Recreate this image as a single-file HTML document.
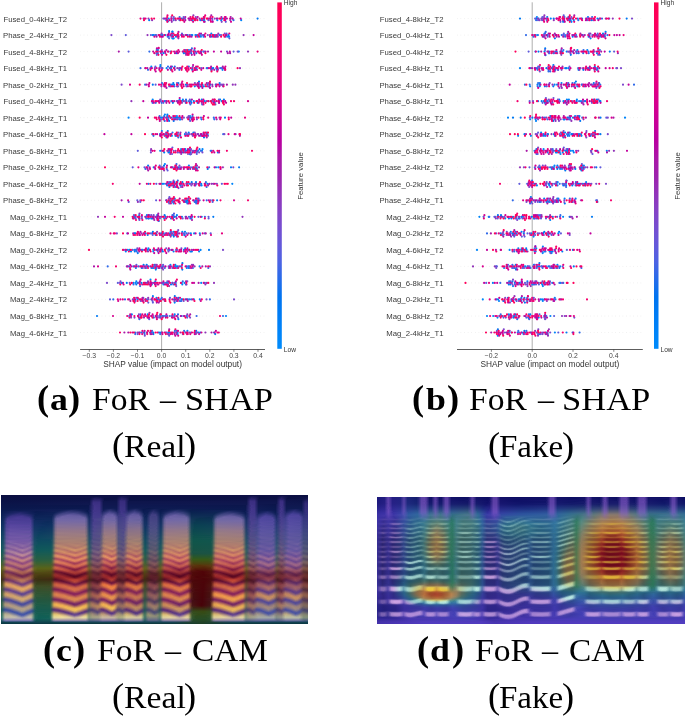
<!DOCTYPE html>
<html><head><meta charset="utf-8"><style>
html,body{margin:0;padding:0;background:#fff;}
body{width:685px;height:717px;overflow:hidden;position:relative;}
.cap{position:absolute;white-space:nowrap;font-family:"Liberation Serif",serif;line-height:1;color:#000;transform-origin:0 0;}
.cap.b{font-weight:bold;}
.cam{position:absolute;overflow:hidden}
.cam i{position:absolute;left:0;width:100%;height:1px;display:block}
</style></head><body>
<svg width="685" height="380" style="position:absolute;left:0;top:0;filter:blur(0.3px)">
<defs><linearGradient id="cb" x1="0" y1="0" x2="0" y2="1"><stop offset="0.00" stop-color="#ff0051"/><stop offset="0.05" stop-color="#fe005c"/><stop offset="0.10" stop-color="#f80067"/><stop offset="0.15" stop-color="#f10072"/><stop offset="0.20" stop-color="#e9007c"/><stop offset="0.25" stop-color="#df0086"/><stop offset="0.30" stop-color="#d40090"/><stop offset="0.35" stop-color="#c70098"/><stop offset="0.40" stop-color="#b900a0"/><stop offset="0.45" stop-color="#aa17a7"/><stop offset="0.50" stop-color="#9d22ac"/><stop offset="0.55" stop-color="#9233b9"/><stop offset="0.60" stop-color="#8542c5"/><stop offset="0.65" stop-color="#764ed0"/><stop offset="0.70" stop-color="#6459da"/><stop offset="0.75" stop-color="#4c63e3"/><stop offset="0.80" stop-color="#266cea"/><stop offset="0.85" stop-color="#0074f0"/><stop offset="0.90" stop-color="#007cf5"/><stop offset="0.95" stop-color="#0084f9"/><stop offset="1.00" stop-color="#008bfb"/></linearGradient></defs>
<line x1="80.1" y1="18.6" x2="265.0" y2="18.6" stroke="#d4d4d4" stroke-width="0.5" stroke-dasharray="0.6 3"/>
<line x1="80.1" y1="35.1" x2="265.0" y2="35.1" stroke="#d4d4d4" stroke-width="0.5" stroke-dasharray="0.6 3"/>
<line x1="80.1" y1="51.6" x2="265.0" y2="51.6" stroke="#d4d4d4" stroke-width="0.5" stroke-dasharray="0.6 3"/>
<line x1="80.1" y1="68.2" x2="265.0" y2="68.2" stroke="#d4d4d4" stroke-width="0.5" stroke-dasharray="0.6 3"/>
<line x1="80.1" y1="84.7" x2="265.0" y2="84.7" stroke="#d4d4d4" stroke-width="0.5" stroke-dasharray="0.6 3"/>
<line x1="80.1" y1="101.2" x2="265.0" y2="101.2" stroke="#d4d4d4" stroke-width="0.5" stroke-dasharray="0.6 3"/>
<line x1="80.1" y1="117.7" x2="265.0" y2="117.7" stroke="#d4d4d4" stroke-width="0.5" stroke-dasharray="0.6 3"/>
<line x1="80.1" y1="134.2" x2="265.0" y2="134.2" stroke="#d4d4d4" stroke-width="0.5" stroke-dasharray="0.6 3"/>
<line x1="80.1" y1="150.8" x2="265.0" y2="150.8" stroke="#d4d4d4" stroke-width="0.5" stroke-dasharray="0.6 3"/>
<line x1="80.1" y1="167.3" x2="265.0" y2="167.3" stroke="#d4d4d4" stroke-width="0.5" stroke-dasharray="0.6 3"/>
<line x1="80.1" y1="183.8" x2="265.0" y2="183.8" stroke="#d4d4d4" stroke-width="0.5" stroke-dasharray="0.6 3"/>
<line x1="80.1" y1="200.3" x2="265.0" y2="200.3" stroke="#d4d4d4" stroke-width="0.5" stroke-dasharray="0.6 3"/>
<line x1="80.1" y1="216.8" x2="265.0" y2="216.8" stroke="#d4d4d4" stroke-width="0.5" stroke-dasharray="0.6 3"/>
<line x1="80.1" y1="233.4" x2="265.0" y2="233.4" stroke="#d4d4d4" stroke-width="0.5" stroke-dasharray="0.6 3"/>
<line x1="80.1" y1="249.9" x2="265.0" y2="249.9" stroke="#d4d4d4" stroke-width="0.5" stroke-dasharray="0.6 3"/>
<line x1="80.1" y1="266.4" x2="265.0" y2="266.4" stroke="#d4d4d4" stroke-width="0.5" stroke-dasharray="0.6 3"/>
<line x1="80.1" y1="282.9" x2="265.0" y2="282.9" stroke="#d4d4d4" stroke-width="0.5" stroke-dasharray="0.6 3"/>
<line x1="80.1" y1="299.4" x2="265.0" y2="299.4" stroke="#d4d4d4" stroke-width="0.5" stroke-dasharray="0.6 3"/>
<line x1="80.1" y1="316.0" x2="265.0" y2="316.0" stroke="#d4d4d4" stroke-width="0.5" stroke-dasharray="0.6 3"/>
<line x1="80.1" y1="332.5" x2="265.0" y2="332.5" stroke="#d4d4d4" stroke-width="0.5" stroke-dasharray="0.6 3"/>
<line x1="161.6" y1="2.3" x2="161.6" y2="349.5" stroke="#999" stroke-width="0.8"/>
<path d="M168.7 18.6h0M190.8 233.4h0M146.9 215.2h0M136.3 281.3h0M153.3 249.9h0M166.6 68.2h0M177.6 334.1h0M161.1 233.4h0M151.3 66.6h0M185.0 231.8h0M173.8 38.3h0M164.9 114.5h0M187.3 203.5h0M147.7 314.4h0M125.8 251.5h0M189.8 183.8h0M199.1 251.5h0M200.9 36.7h0M204.3 20.2h0M166.6 282.9h0M195.4 35.1h0M190.9 101.2h0M151.3 284.4h0M133.3 266.4h0M199.8 233.4h0M214.3 36.7h0M151.4 268.0h0M155.3 281.3h0M174.7 314.4h0M163.4 84.7h0M178.3 83.1h0M176.9 215.2h0M194.4 50.0h0M238.8 51.6h0M178.6 167.3h0M185.4 149.2h0M208.5 101.2h0M192.5 116.1h0M174.8 117.7h0M156.2 316.0h0M215.7 84.7h0M148.6 266.4h0M148.4 248.3h0M182.9 99.6h0M202.5 149.2h0M172.3 38.3h0M205.5 183.8h0M198.5 332.5h0M201.6 185.4h0M162.6 117.7h0M214.8 102.8h0M173.6 203.5h0M177.5 231.8h0M174.7 302.6h0M134.4 249.9h0M171.0 84.7h0M162.5 266.4h0M219.8 35.1h0M203.5 36.7h0M163.9 183.8h0M172.3 282.9h0M164.2 299.4h0M164.2 218.4h0M162.6 35.1h0M128.6 117.7h0M195.4 185.4h0M149.3 249.9h0M184.5 282.9h0M204.8 101.2h0M142.7 249.9h0M155.7 235.0h0M164.8 101.2h0M183.8 249.9h0M152.5 35.1h0M145.6 233.4h0M194.8 168.9h0M188.3 201.9h0M134.6 233.4h0M166.3 20.2h0M150.5 279.7h0M184.7 235.0h0M168.6 36.7h0M171.9 135.8h0M180.7 119.3h0M156.7 50.0h0M227.9 36.7h0M160.4 65.0h0M200.6 249.9h0M135.5 282.9h0M190.7 152.4h0M150.4 284.5h0M172.6 200.3h0M190.1 50.0h0M198.0 150.8h0M174.6 266.4h0M188.4 266.4h0M176.9 116.1h0M203.7 20.2h0M164.9 164.1h0M162.2 183.8h0M186.2 200.3h0M188.9 165.7h0M182.3 231.8h0M178.3 297.8h0M232.3 183.8h0M226.0 316.0h0M202.0 150.8h0M222.4 68.2h0M160.6 316.0h0M160.2 150.8h0M200.8 53.2h0M146.9 332.5h0M152.9 296.2h0M173.7 231.8h0M211.1 69.8h0M171.0 218.4h0M156.4 249.9h0M155.8 269.6h0M203.9 86.3h0M241.2 20.2h0M163.4 53.2h0M195.2 167.3h0M185.6 216.8h0M201.2 282.9h0M160.9 35.1h0M170.0 233.4h0M201.7 216.8h0M195.7 332.5h0M175.4 135.8h0M217.9 152.4h0M190.0 116.1h0M181.1 149.2h0M220.2 68.2h0M167.1 185.4h0M144.2 233.4h0M193.4 132.6h0M181.3 299.4h0M185.4 332.5h0M127.8 249.9h0M158.0 50.0h0M168.0 21.3h0M182.3 284.5h0M196.2 330.9h0M160.8 117.7h0M169.9 332.5h0M221.2 20.2h0M179.6 99.6h0M222.5 69.8h0M221.7 101.2h0M121.8 282.9h0M188.9 249.9h0M180.3 185.4h0M168.7 201.9h0M170.0 152.4h0M192.2 134.2h0M181.8 282.9h0M172.5 84.7h0M155.4 35.1h0M170.4 264.8h0M211.6 101.2h0M175.3 264.8h0M199.0 81.5h0M218.3 167.3h0M229.1 36.7h0M217.3 20.2h0M161.9 131.0h0M192.3 35.1h0M181.8 101.2h0M153.7 268.0h0M163.8 233.4h0M194.1 233.4h0M199.6 266.4h0M172.4 31.5h0M156.5 297.8h0M137.4 299.4h0M174.5 167.3h0M207.4 84.7h0M148.5 183.8h0M176.2 266.4h0M156.4 268.0h0M178.4 319.2h0M184.9 134.2h0M158.7 221.0h0M219.6 83.1h0M153.3 251.5h0M196.9 35.1h0M187.4 330.9h0M191.3 35.1h0M179.3 119.3h0M192.7 20.2h0M141.3 332.5h0M162.9 251.5h0M176.0 36.7h0M196.7 152.4h0M131.0 251.5h0M139.2 215.2h0M152.7 99.6h0M181.6 316.0h0M163.4 284.5h0M177.5 332.5h0" stroke="#0085f9" stroke-width="2.16" stroke-linecap="round" fill="none"/>
<path d="M197.6 102.8h0M215.2 334.1h0M187.8 299.4h0M187.6 200.3h0M152.8 218.4h0M186.4 201.9h0M195.2 68.2h0M200.0 35.1h0M174.3 216.8h0M187.7 183.8h0M168.3 183.8h0M199.8 299.4h0M188.3 168.9h0M186.8 268.0h0M169.1 120.9h0M152.8 84.7h0M164.2 152.4h0M151.2 218.4h0M171.0 117.7h0M195.5 200.3h0M131.8 314.4h0M217.1 200.3h0M177.3 117.7h0M174.5 182.2h0M161.7 332.5h0M153.4 334.1h0M222.6 18.6h0M182.2 152.4h0M174.8 296.2h0M136.3 284.5h0M143.6 264.8h0M169.4 187.0h0M151.4 299.4h0M201.8 99.6h0M187.7 35.1h0M151.7 284.5h0M196.5 84.7h0M135.2 233.4h0M184.3 235.0h0M164.2 116.1h0M196.0 182.2h0M207.7 183.8h0M239.1 167.3h0M141.5 282.9h0M147.7 235.0h0M153.2 332.5h0M167.4 114.5h0M152.2 233.4h0M188.8 268.0h0M171.0 284.5h0M153.7 167.3h0M149.2 20.2h0M171.1 68.2h0M175.7 117.7h0M214.9 35.1h0M148.1 165.7h0M168.5 152.4h0M213.2 68.2h0M201.5 119.3h0M185.2 248.3h0M207.7 168.9h0M231.0 167.3h0M165.2 35.1h0M174.7 198.7h0M165.7 216.8h0M182.2 299.4h0M192.2 119.3h0M232.3 18.6h0M188.7 132.6h0M164.6 215.2h0M182.3 269.6h0M137.6 282.9h0M192.2 69.8h0M186.0 84.7h0M169.1 31.2h0M144.3 332.5h0M151.1 282.9h0M158.7 332.5h0M185.2 152.4h0M200.5 86.3h0M176.7 53.2h0M225.0 117.7h0M202.5 84.7h0M194.8 86.3h0M160.1 134.2h0M183.8 53.2h0M174.1 299.4h0M211.7 68.2h0M196.7 200.3h0M211.3 33.5h0M183.5 51.6h0M160.0 332.5h0M228.5 35.1h0M181.9 216.8h0M160.3 66.6h0M146.0 268.0h0M177.7 266.4h0M200.3 332.5h0M211.1 36.7h0M257.6 18.6h0M209.0 249.9h0M203.4 35.1h0M135.9 268.0h0M173.3 83.1h0M199.5 149.2h0M223.9 99.6h0M172.9 102.8h0M201.2 183.8h0M167.8 131.0h0M173.6 251.5h0M180.2 135.8h0M175.1 187.0h0M97.0 316.0h0M191.9 251.5h0M163.5 134.2h0M157.2 215.2h0M191.2 53.2h0M145.7 299.4h0M168.4 119.3h0M210.1 84.7h0M216.0 167.3h0M193.9 299.4h0M147.4 249.9h0M183.4 20.2h0M182.4 182.2h0M185.6 299.4h0M182.4 263.2h0M220.1 99.6h0M173.2 235.0h0M177.4 35.1h0M173.0 218.4h0M173.7 120.9h0M167.2 116.1h0M169.1 31.9h0M148.9 218.4h0M213.3 216.8h0M141.7 268.0h0M125.6 249.9h0M204.0 137.4h0M153.8 35.1h0M133.4 282.9h0M172.1 201.9h0M137.8 253.1h0M157.6 299.4h0M168.6 332.5h0M191.7 182.2h0M196.9 168.9h0M181.1 266.4h0M193.8 101.2h0M191.0 117.7h0M154.3 264.8h0M164.0 165.7h0M172.4 31.9h0M174.1 84.7h0M186.0 150.8h0M152.9 231.8h0M186.9 316.0h0M181.7 18.6h0M173.8 236.6h0M174.4 68.2h0M189.9 154.0h0M134.8 251.5h0M146.7 264.8h0M191.5 102.8h0M126.8 282.9h0M219.1 101.2h0M200.3 20.2h0M190.3 218.4h0M190.3 251.5h0M156.3 233.4h0M203.4 51.6h0M129.6 249.9h0M153.8 317.6h0M214.1 332.5h0M177.3 182.2h0" stroke="#0079f3" stroke-width="2.16" stroke-linecap="round" fill="none"/>
<path d="M176.4 301.0h0M191.9 48.4h0M216.8 69.8h0M136.7 249.9h0M151.5 332.5h0M171.9 316.0h0M133.8 216.8h0M199.6 183.8h0M138.4 266.4h0M173.0 185.4h0M188.2 50.0h0M177.0 268.0h0M125.0 299.4h0M196.6 167.3h0M188.8 66.6h0M190.4 104.4h0M186.8 266.4h0M197.0 201.9h0M168.0 117.7h0M189.5 149.2h0M140.6 314.4h0M172.5 132.6h0M169.7 249.9h0M178.3 137.4h0M146.3 218.4h0M160.2 334.1h0M171.2 35.1h0M169.6 200.3h0M177.8 180.6h0M174.9 18.6h0M168.0 66.6h0M168.0 282.9h0M173.5 215.2h0M211.8 150.8h0M225.8 36.7h0M189.0 101.2h0M223.0 316.0h0M184.1 330.9h0M169.6 150.8h0M162.6 316.0h0M185.1 201.9h0M214.3 119.3h0M167.7 36.7h0M196.5 68.2h0M161.7 102.8h0M196.2 203.5h0M174.8 66.6h0M216.4 36.7h0M185.2 53.2h0M180.3 117.7h0M135.6 218.4h0M176.5 164.1h0M171.3 101.2h0M176.0 216.8h0M153.5 135.8h0M144.6 334.1h0M212.4 200.3h0M186.0 99.6h0M152.5 102.8h0M219.4 84.7h0M161.5 268.0h0M170.1 134.2h0M169.8 68.2h0M195.5 201.9h0M167.3 316.0h0M189.3 266.4h0M139.4 319.2h0M174.5 86.3h0M180.1 68.2h0M140.5 68.2h0M160.6 299.4h0M175.7 282.9h0M179.6 17.0h0M196.6 316.0h0M164.8 268.0h0M233.5 20.2h0M159.6 116.1h0M145.5 168.9h0M191.3 299.4h0M189.0 216.8h0M152.4 268.0h0M189.5 119.3h0M176.9 330.9h0M129.2 316.0h0M192.2 216.8h0M157.9 53.2h0M172.4 215.2h0M203.2 18.6h0M190.4 154.5h0M185.9 284.5h0M174.1 316.0h0M183.7 200.3h0M209.9 299.4h0M163.9 316.0h0M173.3 284.5h0M143.6 18.6h0M164.7 120.9h0M145.1 84.7h0M171.6 235.0h0M176.1 249.9h0M152.3 134.2h0M169.1 235.0h0M207.6 68.2h0M140.1 286.1h0M204.9 216.8h0M186.7 233.4h0M198.6 198.7h0M166.8 134.2h0M141.8 249.9h0M206.7 200.3h0M210.7 150.8h0M152.0 330.9h0M140.3 316.0h0M200.9 150.8h0M135.6 249.9h0M188.3 198.7h0M113.3 299.4h0M185.8 50.0h0M161.8 297.8h0M179.5 20.2h0M172.7 35.1h0M147.1 282.9h0M149.4 51.6h0M207.6 134.2h0M181.3 301.0h0M169.6 183.8h0M194.7 201.9h0M223.2 134.2h0M203.4 134.2h0M135.2 334.1h0M193.6 150.8h0M186.5 101.2h0M147.1 299.4h0M182.8 281.3h0M133.5 284.5h0M129.0 266.4h0M148.0 69.8h0M135.0 216.8h0M136.7 251.5h0M204.9 282.9h0M107.7 266.4h0M202.2 104.4h0M189.4 299.4h0M191.5 218.4h0M181.2 35.1h0M172.0 66.6h0M206.6 187.0h0M209.1 167.3h0M178.0 314.4h0M197.7 36.7h0M205.9 182.2h0M138.9 218.4h0M213.8 117.7h0M206.7 68.2h0M192.9 268.0h0M163.7 282.9h0M174.9 330.9h0M166.4 137.4h0M186.2 51.6h0M165.7 316.0h0M179.3 69.8h0M196.3 53.2h0M178.7 117.7h0M162.2 249.9h0M162.0 83.1h0M199.9 185.4h0M148.2 218.4h0M170.6 231.8h0M179.9 301.0h0M135.1 332.5h0M155.8 102.8h0M218.9 102.8h0M181.6 150.8h0M170.8 182.2h0M185.7 102.8h0M170.7 51.6h0M160.2 314.4h0M208.3 268.0h0" stroke="#306ae9" stroke-width="2.16" stroke-linecap="round" fill="none"/>
<path d="M158.5 48.4h0M180.1 167.3h0M137.8 150.8h0M128.7 201.9h0M169.1 335.7h0M182.8 334.1h0M229.4 38.3h0M221.6 68.2h0M155.4 66.6h0M198.4 216.8h0M225.1 18.6h0M172.3 268.0h0M208.5 216.8h0M161.0 119.3h0M182.0 33.5h0M173.2 18.6h0M171.6 231.8h0M177.0 183.8h0M166.1 200.3h0M162.8 235.0h0M156.1 35.1h0M202.0 35.1h0M140.7 301.0h0M158.6 220.9h0M149.5 215.2h0M159.6 316.0h0M149.2 319.2h0M136.2 297.8h0M187.5 84.7h0M208.4 20.2h0M199.7 84.7h0M142.8 268.0h0M155.6 84.7h0M183.6 17.0h0M233.6 51.6h0M184.6 150.8h0M152.9 302.6h0M176.8 236.6h0M168.9 334.1h0M137.6 334.1h0M172.0 154.0h0M128.6 51.6h0M170.9 69.8h0M150.9 233.4h0M182.7 218.4h0M160.9 101.2h0M174.6 282.9h0M170.0 297.8h0M163.4 102.8h0M166.0 183.8h0M173.7 20.2h0M167.6 170.5h0M160.9 167.3h0M208.6 218.4h0M132.6 249.9h0M224.8 69.8h0M173.2 201.9h0M186.4 134.2h0M196.8 154.0h0M177.1 249.9h0M157.8 251.5h0M169.4 197.1h0M156.3 183.8h0M159.4 249.9h0M174.0 213.6h0M201.0 117.7h0M174.6 233.4h0M165.1 282.9h0M137.3 200.3h0M180.3 84.7h0M225.8 21.8h0M163.5 167.3h0M156.1 200.3h0M193.9 51.6h0M156.8 54.8h0M141.9 216.8h0M144.5 167.3h0M168.1 249.9h0M153.2 266.4h0M152.7 235.0h0M212.6 201.9h0M183.3 233.4h0M165.7 101.2h0M226.5 33.5h0M174.4 200.3h0M136.4 264.8h0M213.1 101.2h0M188.1 134.2h0M159.7 165.7h0M148.3 302.6h0M190.1 120.9h0M189.8 99.6h0M166.7 168.9h0M178.1 132.6h0M201.2 68.2h0M184.9 18.6h0M156.3 53.2h0M125.8 35.1h0M204.8 233.4h0M161.0 53.2h0M210.7 233.4h0M196.4 152.4h0M201.0 51.6h0M198.0 101.2h0M132.7 167.3h0M166.6 117.7h0M174.1 183.8h0M127.2 233.4h0M221.1 35.1h0M191.0 332.5h0M182.2 185.4h0M175.9 284.5h0M187.2 317.6h0M172.6 167.3h0M177.8 152.4h0M152.6 301.0h0M172.4 147.6h0M221.9 183.8h0M134.0 215.2h0M218.9 99.6h0M169.1 38.3h0M169.8 316.0h0M174.2 332.5h0M163.1 264.8h0M186.4 86.3h0M206.7 132.6h0M166.9 135.8h0M140.3 201.9h0M183.1 35.1h0M184.6 233.4h0M159.9 317.6h0M110.0 299.4h0M166.9 332.5h0M150.9 35.1h0M199.7 200.3h0M162.5 68.2h0M117.9 282.9h0M169.2 86.3h0M168.6 51.6h0M159.9 218.4h0M163.3 18.6h0M215.4 104.4h0M191.0 167.3h0M139.4 220.0h0M200.9 135.8h0M177.0 83.1h0M154.5 266.4h0M143.3 297.8h0M135.4 301.0h0M189.9 268.0h0M176.2 119.3h0" stroke="#605bdc" stroke-width="2.16" stroke-linecap="round" fill="none"/>
<path d="M163.7 266.4h0M237.6 51.6h0M179.7 203.5h0M181.4 248.3h0M189.4 332.5h0M166.2 248.3h0M177.1 185.4h0M159.0 299.4h0M148.5 299.4h0M176.2 286.1h0M168.4 150.8h0M179.5 165.7h0M160.7 317.6h0M194.9 83.1h0M173.6 180.6h0M111.4 35.1h0M183.7 301.0h0M217.5 18.6h0M188.0 154.0h0M192.6 150.8h0M199.1 152.4h0M196.9 119.3h0M116.9 233.4h0M153.2 316.0h0M164.5 135.8h0M197.0 165.7h0M169.2 203.5h0M153.7 215.2h0M190.8 183.8h0M172.6 316.0h0M138.0 233.4h0M168.5 251.5h0M168.8 198.7h0M161.8 50.0h0M137.3 248.3h0M202.4 152.4h0M212.4 20.2h0M208.4 83.1h0M234.0 299.4h0M220.6 84.7h0M145.2 68.2h0M191.4 185.4h0M144.4 282.9h0M120.0 282.9h0M233.3 167.3h0M121.6 84.7h0M191.2 154.0h0M177.5 235.0h0M150.3 282.9h0M168.6 266.4h0M223.0 249.9h0M138.9 314.4h0M145.6 266.4h0M195.4 183.8h0M181.5 266.4h0M138.5 282.9h0M131.1 317.6h0M185.9 132.6h0M198.3 134.2h0M206.5 299.4h0M161.3 68.2h0M197.1 198.7h0M183.9 117.7h0M120.5 281.3h0M224.7 33.5h0M224.4 134.2h0M154.8 68.2h0M168.9 268.0h0M175.8 168.9h0M207.8 35.1h0M167.3 281.3h0M191.0 51.6h0M192.8 66.6h0M153.1 282.9h0M173.2 117.7h0M138.9 332.5h0M188.7 116.1h0M149.5 312.8h0M227.0 51.6h0M198.9 83.1h0M150.9 150.8h0M165.9 233.4h0M182.0 102.8h0M221.7 21.8h0M177.0 86.3h0M165.8 18.6h0M151.3 215.2h0M177.9 317.6h0M216.2 68.2h0M204.8 21.8h0M171.4 36.7h0M134.5 317.6h0M173.5 150.8h0M171.4 17.0h0M150.9 152.4h0M181.0 187.0h0M189.5 53.2h0M165.1 134.2h0M163.1 269.6h0M194.8 132.6h0M173.8 17.0h0M107.0 282.9h0M185.5 101.2h0M235.6 134.2h0M177.3 316.0h0M155.5 264.8h0M223.0 86.3h0M184.9 200.3h0M176.9 101.2h0M196.5 183.8h0M189.7 134.2h0M178.1 86.3h0M187.3 281.3h0M222.0 84.7h0M208.0 135.8h0M157.7 316.0h0M190.1 317.6h0M177.8 134.2h0M177.3 233.4h0M216.9 183.8h0M165.7 332.5h0M159.0 117.7h0M214.8 18.6h0M212.0 18.6h0M169.1 182.2h0M195.8 17.0h0M171.1 266.4h0M178.2 230.2h0M178.5 188.1h0M135.3 266.4h0M129.7 282.9h0M141.9 218.4h0M192.7 135.8h0M210.3 200.3h0M164.8 301.0h0M160.2 99.6h0M210.7 35.1h0M140.3 200.3h0M144.8 335.7h0M157.9 317.6h0M191.0 149.2h0M162.7 282.9h0M204.1 51.6h0M187.2 117.7h0" stroke="#7d49cc" stroke-width="2.16" stroke-linecap="round" fill="none"/>
<path d="M174.3 301.0h0M194.6 266.4h0M210.0 266.4h0M189.2 18.6h0M177.6 101.2h0M216.7 119.3h0M158.5 268.0h0M217.8 35.1h0M223.6 84.7h0M132.8 299.4h0M197.2 332.5h0M179.3 266.4h0M214.1 99.6h0M212.2 84.7h0M182.2 119.3h0M176.1 165.7h0M147.5 35.1h0M230.3 20.2h0M186.3 183.8h0M197.0 69.8h0M156.8 218.4h0M205.4 284.5h0M145.1 268.0h0M143.2 332.5h0M157.2 284.5h0M146.0 216.8h0M193.4 15.4h0M152.1 20.2h0M172.6 233.4h0M171.8 21.8h0M169.1 286.1h0M141.7 233.4h0M186.0 54.8h0M183.8 101.2h0M192.4 183.8h0M177.5 119.3h0M217.8 36.7h0M179.2 168.9h0M188.7 233.4h0M171.2 185.4h0M194.6 183.8h0M183.8 251.5h0M232.8 84.7h0M148.0 281.3h0M205.4 332.5h0M161.6 282.9h0M214.0 282.9h0M148.0 251.5h0M235.4 84.7h0M132.9 218.4h0M160.7 266.4h0M131.4 101.2h0M191.8 134.2h0M192.2 117.7h0M164.1 170.5h0M175.8 20.2h0M183.2 18.6h0M200.0 235.0h0M172.7 249.9h0M139.8 282.9h0M150.3 68.2h0M176.2 51.6h0M213.5 183.8h0M157.1 231.8h0M126.8 266.4h0M156.0 266.4h0M175.5 150.8h0M159.2 101.2h0M207.9 86.3h0M189.4 20.2h0M123.9 249.9h0M181.7 167.3h0M176.6 135.8h0M176.5 334.1h0M161.1 216.8h0M243.6 35.1h0M170.5 86.3h0M218.3 33.5h0M196.6 150.8h0M179.3 68.2h0M148.5 18.6h0M189.1 117.7h0M144.0 317.6h0M134.0 299.4h0M139.5 213.6h0M137.9 201.9h0M191.8 249.9h0M201.6 134.2h0M190.6 150.8h0M188.0 117.7h0M196.7 18.6h0M186.5 284.5h0M222.9 167.3h0M177.3 68.2h0M189.8 35.1h0M193.1 264.8h0M165.3 53.2h0M206.8 137.4h0M147.3 167.3h0M178.4 38.3h0M154.3 220.0h0M170.7 236.6h0M208.9 18.6h0M167.3 150.8h0M187.3 314.4h0M185.4 35.1h0M147.2 316.0h0M248.0 51.6h0M178.6 299.4h0M212.5 86.3h0M156.8 264.8h0M166.1 284.5h0M179.5 152.4h0M195.9 334.1h0M161.4 86.3h0M240.0 68.2h0M145.2 216.8h0M156.2 216.8h0M206.9 282.9h0M129.3 299.4h0M206.9 101.2h0M172.9 317.6h0M167.9 334.1h0M209.5 86.3h0M191.9 264.8h0M166.1 117.7h0M151.1 316.0h0M98.0 216.8h0M137.4 332.5h0M242.5 216.8h0M161.6 33.5h0M201.8 102.8h0M181.2 154.0h0M180.9 150.8h0M183.6 316.0h0M151.1 149.2h0M226.7 35.1h0M197.6 134.2h0M155.2 216.8h0M211.9 69.8h0M211.7 183.8h0M162.2 167.3h0M173.3 119.3h0M218.0 69.8h0M192.9 167.3h0M159.7 168.9h0M216.0 86.3h0M172.6 282.9h0M180.5 132.6h0M192.1 68.2h0M148.2 297.8h0M186.0 69.8h0M143.1 301.0h0M160.8 251.5h0M171.4 233.4h0" stroke="#9233b9" stroke-width="2.16" stroke-linecap="round" fill="none"/>
<path d="M155.0 284.5h0M186.2 216.8h0M94.0 266.4h0M211.3 15.4h0M206.3 134.2h0M152.2 216.8h0M208.0 51.6h0M138.8 317.6h0M164.6 235.0h0M194.0 53.2h0M199.0 167.3h0M166.4 102.8h0M140.0 235.0h0M156.8 302.6h0M221.4 17.0h0M202.0 20.2h0M208.1 185.4h0M209.4 183.8h0M191.9 99.6h0M239.9 135.8h0M167.5 35.1h0M171.8 167.3h0M226.9 84.7h0M183.8 168.9h0M159.3 68.2h0M195.4 20.2h0M163.8 117.7h0M219.5 117.7h0M150.5 334.1h0M158.3 213.6h0M130.3 269.6h0M159.8 301.0h0M202.3 266.4h0M166.5 87.9h0M166.8 18.6h0M205.8 266.4h0M195.5 134.2h0M148.2 170.5h0M127.6 266.4h0M149.3 284.5h0M167.2 20.2h0M123.0 282.9h0M159.4 268.0h0M159.4 183.8h0M166.6 233.4h0M181.8 183.8h0M198.7 86.3h0M166.8 101.2h0M216.4 84.7h0M187.8 301.0h0M142.2 284.5h0M195.7 51.6h0M149.7 167.3h0M158.1 215.2h0M166.6 200.3h0M211.5 332.5h0M177.4 299.4h0M200.6 51.6h0M150.1 332.5h0M219.1 152.4h0M167.0 165.7h0M172.7 216.8h0M230.1 53.2h0M156.6 36.7h0M187.1 135.8h0M192.0 220.0h0M151.8 299.4h0M176.5 297.8h0M202.4 87.9h0M169.2 329.3h0M142.7 299.4h0M201.0 33.5h0M139.5 218.4h0M176.2 332.5h0M190.2 168.9h0M118.8 51.6h0M193.0 168.9h0M186.0 281.3h0M185.8 218.4h0M170.9 203.5h0M213.3 35.1h0M166.7 183.8h0M147.3 68.2h0M162.2 150.8h0M139.7 332.5h0M153.3 216.8h0M130.4 301.0h0M133.2 233.4h0M170.9 66.6h0M124.4 332.5h0M168.4 135.8h0M121.6 200.3h0M205.8 233.4h0M206.8 83.1h0M214.2 69.8h0M177.6 168.9h0M151.6 282.9h0M146.7 84.7h0M162.3 51.6h0M182.5 187.0h0M128.3 332.5h0M185.3 17.0h0M186.8 185.4h0M196.8 117.7h0M171.4 20.2h0M180.5 332.5h0M144.6 330.9h0M142.5 297.8h0M191.6 36.7h0M211.1 66.6h0M210.0 36.7h0M151.9 334.1h0M139.9 281.3h0M178.5 31.9h0M222.8 66.6h0M147.6 168.9h0M198.6 282.9h0M205.5 51.6h0M192.8 119.9h0M166.4 50.0h0M230.7 17.0h0M190.2 314.4h0M140.5 231.8h0M160.9 135.8h0M158.5 35.1h0M197.8 83.1h0M168.1 284.5h0M199.6 18.6h0M159.7 216.8h0M170.4 198.7h0M139.2 251.5h0M145.5 301.0h0M162.5 268.0h0M164.6 18.6h0M191.8 54.8h0M158.8 302.6h0M174.4 101.2h0M163.2 119.3h0M144.4 266.4h0M192.1 84.7h0M179.1 233.4h0M166.2 132.6h0M174.8 69.8h0M145.7 282.9h0M170.2 154.0h0M227.8 53.2h0" stroke="#aa17a7" stroke-width="2.16" stroke-linecap="round" fill="none"/>
<path d="M203.2 68.2h0M215.9 330.9h0M165.8 317.6h0M180.8 316.0h0M221.1 51.6h0M160.1 135.8h0M226.1 102.8h0M166.4 314.4h0M177.1 167.3h0M148.3 215.2h0M153.7 218.4h0M167.8 136.3h0M159.8 120.9h0M175.0 53.2h0M157.1 134.2h0M157.6 249.9h0M177.9 53.2h0M169.8 266.4h0M214.3 152.4h0M181.1 249.9h0M194.0 282.9h0M208.7 200.3h0M203.9 116.1h0M184.1 149.2h0M178.8 18.6h0M176.9 187.0h0M187.5 218.4h0M196.4 101.2h0M145.1 314.4h0M217.7 68.2h0M128.0 233.4h0M158.4 248.3h0M179.3 51.6h0M139.7 183.8h0M200.9 134.2h0M184.8 316.0h0M201.2 53.2h0M198.1 249.9h0M157.9 216.8h0M146.0 248.3h0M225.2 101.2h0M226.9 18.6h0M170.0 149.2h0M189.9 36.7h0M195.1 150.8h0M131.0 316.0h0M178.3 251.5h0M132.5 332.5h0M150.6 266.4h0M229.8 51.6h0M179.7 98.0h0M190.8 216.8h0M139.3 235.0h0M174.3 185.4h0M180.8 168.9h0M151.1 283.2h0M182.4 116.1h0M225.2 20.2h0M175.3 335.7h0M105.0 216.8h0M188.5 18.6h0M153.9 102.8h0M179.7 198.7h0M240.7 18.6h0M213.9 51.6h0M196.0 164.1h0M194.7 334.1h0M154.6 282.9h0M147.5 317.6h0M193.1 200.3h0M175.7 299.4h0M214.6 167.3h0M191.2 268.0h0M185.3 20.2h0M153.2 51.6h0M194.5 54.8h0M143.3 101.2h0M155.7 316.0h0M199.1 334.1h0M158.6 253.1h0M154.2 253.1h0M169.5 299.4h0M186.6 299.4h0M199.1 135.8h0M197.6 86.3h0M213.8 102.8h0M193.1 65.0h0M155.7 71.4h0M205.0 135.8h0M168.9 281.3h0M183.7 86.3h0M157.4 220.0h0M186.0 253.1h0M216.8 18.6h0M219.1 150.8h0M164.9 284.5h0M198.1 84.7h0M181.9 83.1h0M187.9 86.3h0M193.4 249.9h0M142.6 266.4h0M165.2 51.6h0M160.7 249.9h0M131.3 266.4h0M225.7 35.1h0M171.7 249.9h0M155.2 168.9h0M253.6 35.1h0M195.6 233.4h0M130.2 264.8h0M166.2 218.4h0M175.9 281.3h0M151.9 68.2h0M174.9 119.3h0M161.0 51.6h0M165.5 266.4h0M144.4 249.9h0M199.1 99.6h0M161.3 36.7h0M219.5 86.3h0M187.4 248.3h0M189.7 102.8h0M188.0 149.2h0M159.9 235.0h0M212.8 21.8h0M176.7 218.4h0M168.8 248.3h0M162.8 36.7h0M187.8 150.8h0M135.0 299.4h0M104.4 134.2h0M166.3 253.1h0M210.0 87.9h0M178.6 36.7h0M174.5 334.1h0M181.0 152.4h0M203.8 17.0h0M177.9 102.8h0M231.2 117.7h0M203.4 99.6h0M192.8 152.4h0M186.4 35.1h0M131.4 134.2h0M162.0 54.8h0M158.3 101.2h0M193.7 200.3h0M137.3 216.8h0M181.6 68.2h0M156.9 48.4h0M179.1 216.8h0M197.7 17.0h0M148.0 117.7h0M149.0 317.6h0M167.9 69.8h0M168.7 33.5h0M173.2 182.2h0M168.0 35.1h0M123.0 216.8h0" stroke="#c2009c" stroke-width="2.16" stroke-linecap="round" fill="none"/>
<path d="M186.1 332.5h0M113.0 316.0h0M214.9 183.8h0M181.6 233.4h0M192.2 282.9h0M178.5 201.9h0M230.1 18.6h0M199.4 33.5h0M180.3 183.8h0M170.0 268.0h0M164.1 84.7h0M118.2 301.0h0M191.0 235.0h0M203.7 282.9h0M142.2 301.0h0M159.3 233.4h0M202.0 135.8h0M203.6 132.6h0M178.0 330.9h0M200.8 301.0h0M178.2 335.7h0M182.7 51.6h0M153.0 101.2h0M178.9 101.2h0M216.2 35.1h0M151.9 101.2h0M225.7 17.0h0M185.1 249.9h0M147.3 266.4h0M180.0 297.8h0M148.9 86.3h0M196.0 170.5h0M194.6 185.4h0M184.3 21.8h0M130.0 84.7h0M173.0 36.7h0M201.3 69.8h0M180.2 134.2h0M174.1 51.6h0M187.4 251.5h0M186.9 249.9h0M223.5 101.2h0M204.0 21.8h0M156.2 299.4h0M176.2 316.0h0M187.4 235.0h0M231.0 21.8h0M139.4 248.3h0M177.6 84.7h0M156.9 319.2h0M183.7 152.4h0M168.5 149.2h0M98.0 266.4h0M202.7 233.4h0M189.5 84.7h0M150.5 286.1h0M176.3 235.0h0M159.8 200.3h0M201.9 86.3h0M176.7 185.4h0M234.7 134.2h0M248.0 101.2h0M214.7 101.2h0M191.7 215.2h0M149.4 83.1h0M164.9 51.6h0M173.3 116.1h0M140.2 266.4h0M191.2 20.2h0M193.1 21.8h0M172.3 299.4h0M170.1 35.1h0M169.4 102.8h0M162.9 101.2h0M223.9 68.2h0M194.7 48.4h0M140.1 249.9h0M173.9 220.0h0M154.4 36.7h0M154.7 299.4h0M234.0 200.3h0M167.3 182.2h0M187.5 168.9h0M141.9 299.4h0M198.7 102.8h0M204.3 35.1h0M171.2 332.5h0M152.6 297.8h0M214.6 332.5h0M184.0 201.9h0M181.7 35.1h0M225.4 66.6h0M172.0 317.6h0M201.4 332.5h0M120.4 299.4h0M185.6 266.4h0M225.1 68.2h0M167.2 120.9h0M192.6 114.5h0M177.8 301.0h0M154.8 167.3h0M162.5 334.1h0M148.8 84.7h0M195.8 135.8h0M138.0 316.0h0M145.6 18.6h0M204.1 134.2h0M186.1 68.2h0M147.1 332.5h0M169.5 216.8h0M174.4 201.9h0M158.4 284.5h0M136.6 266.4h0M203.6 135.8h0M216.8 101.2h0M159.3 69.8h0M192.6 266.4h0M130.2 314.4h0M173.1 86.3h0M208.9 68.2h0M219.1 102.8h0M128.1 200.3h0M201.9 54.8h0M183.8 167.3h0M151.5 316.0h0M198.1 200.3h0M204.2 18.6h0M209.3 84.7h0M232.6 18.6h0M224.9 17.0h0M194.1 135.8h0M163.4 281.3h0M170.9 167.3h0M152.6 314.4h0M166.2 83.1h0M172.8 101.2h0M204.7 183.8h0M223.7 102.8h0M192.0 119.3h0M150.0 168.9h0M188.6 203.5h0M171.3 18.6h0M165.6 86.3h0M160.6 134.2h0M186.8 167.3h0M197.9 51.6h0M220.6 168.9h0M167.5 235.0h0M210.2 18.6h0M161.9 134.9h0M164.2 86.3h0M191.4 50.0h0M172.1 334.1h0M123.6 284.5h0M203.6 200.3h0M185.7 236.6h0" stroke="#d6008e" stroke-width="2.16" stroke-linecap="round" fill="none"/>
<path d="M220.2 119.3h0M220.8 117.7h0M203.4 102.8h0M195.1 249.9h0M198.4 201.9h0M257.6 51.6h0M155.5 134.2h0M216.4 86.3h0M195.2 18.6h0M210.4 68.2h0M173.4 33.5h0M142.4 330.9h0M210.5 17.0h0M158.7 47.9h0M163.0 299.4h0M159.9 282.9h0M142.5 235.0h0M220.6 167.3h0M179.0 102.8h0M164.3 35.1h0M172.4 71.4h0M190.9 84.7h0M154.9 69.8h0M200.6 216.8h0M178.5 35.1h0M138.4 167.3h0M166.6 284.5h0M207.5 18.6h0M174.0 68.2h0M229.3 33.5h0M208.2 117.7h0M171.4 33.5h0M217.4 332.5h0M159.0 84.7h0M171.5 216.8h0M142.2 334.1h0M186.7 198.7h0M161.3 248.3h0M173.3 266.4h0M167.5 137.4h0M184.2 50.0h0M190.6 266.4h0M110.5 233.4h0M146.9 183.8h0M133.5 235.0h0M185.0 167.3h0M175.2 268.0h0M154.3 53.2h0M186.9 334.1h0M139.5 233.4h0M222.0 233.4h0M122.8 299.4h0M158.6 117.7h0M205.4 33.5h0M205.2 15.4h0M170.1 185.4h0M213.3 150.8h0M209.9 83.1h0M142.4 314.4h0M188.1 53.2h0M220.9 18.6h0M174.4 317.6h0M198.5 183.8h0M198.9 87.9h0M211.0 235.0h0M195.7 69.8h0M173.7 268.0h0M160.4 264.8h0M160.6 183.8h0M150.6 216.8h0M183.3 84.7h0M138.5 249.9h0M161.1 84.7h0M203.0 101.2h0M161.3 235.0h0M144.9 235.0h0M156.6 68.2h0M145.7 68.2h0M151.0 284.7h0M167.5 15.4h0M152.5 150.8h0M126.1 249.9h0M175.3 319.2h0M153.9 248.3h0M175.5 167.3h0M155.8 165.7h0M203.5 104.4h0M179.6 251.5h0M190.3 334.1h0M190.4 17.0h0M189.2 316.0h0M173.5 187.0h0M128.1 299.4h0M197.7 170.5h0M140.7 279.7h0M182.0 36.7h0M215.3 36.7h0M156.1 282.9h0M171.4 134.2h0M137.8 297.8h0M190.5 68.2h0M182.3 81.5h0M162.2 332.5h0M146.5 167.3h0M141.9 215.2h0M195.8 36.7h0M188.7 69.8h0M150.3 183.8h0M169.6 84.7h0M182.1 264.8h0M201.2 101.2h0M144.0 316.0h0M157.9 218.4h0M210.4 20.2h0M140.5 18.6h0M210.0 35.1h0M159.2 102.8h0M139.4 299.4h0M177.1 51.6h0M194.9 330.9h0M113.8 233.4h0M154.6 150.8h0M138.0 316.0h0M170.5 334.1h0M192.8 71.4h0M162.7 317.6h0M164.6 332.5h0M170.3 117.7h0M157.8 51.6h0M196.0 84.7h0M228.5 134.2h0M185.3 135.8h0M205.1 36.7h0M181.0 137.4h0M186.2 152.4h0M218.8 332.5h0M166.9 119.3h0M211.0 21.8h0M175.8 183.8h0M169.4 20.2h0M179.5 249.9h0M157.8 266.4h0M178.2 268.0h0M194.4 69.8h0M181.1 251.5h0M133.8 218.4h0M168.2 233.4h0M187.4 54.8h0M192.6 120.9h0M137.9 231.8h0M175.0 235.0h0M212.7 99.6h0M205.5 84.7h0M187.8 334.1h0M178.4 50.0h0M186.7 53.2h0M148.6 282.9h0M167.6 216.8h0M192.0 332.5h0M161.7 132.6h0M189.2 150.8h0M192.9 299.4h0M156.4 317.6h0M162.6 168.9h0M127.2 316.0h0M245.0 117.7h0M216.1 117.7h0M196.1 66.6h0M228.7 117.7h0M143.8 233.4h0M117.8 299.4h0M176.1 134.2h0M134.4 266.4h0M188.1 68.2h0" stroke="#e7007e" stroke-width="2.16" stroke-linecap="round" fill="none"/>
<path d="M156.4 301.0h0M204.8 185.4h0M210.0 81.5h0M177.6 187.0h0M145.3 299.4h0M168.4 134.2h0M132.6 216.8h0M187.7 167.3h0M196.7 149.2h0M144.2 18.6h0M183.5 183.8h0M186.3 282.9h0M128.9 251.5h0M181.5 84.7h0M141.6 316.0h0M141.4 266.4h0M137.2 235.0h0M116.0 266.4h0M252.0 150.8h0M201.4 84.7h0M154.7 249.9h0M176.6 231.8h0M231.0 101.2h0M130.0 268.0h0M211.7 102.8h0M179.6 183.8h0M148.0 268.0h0M175.7 152.4h0M156.9 101.2h0M198.6 51.6h0M167.0 201.9h0M170.0 235.0h0M172.5 314.4h0M213.0 36.7h0M166.6 167.3h0M175.4 329.3h0M188.7 54.8h0M187.5 332.5h0M156.8 119.3h0M197.8 66.6h0M129.5 317.6h0M223.9 104.4h0M201.8 299.4h0M226.9 150.8h0M186.8 182.2h0M173.9 197.1h0M179.6 201.9h0M199.1 36.7h0M220.5 200.3h0M176.9 279.7h0M179.5 116.1h0M204.9 218.4h0M167.9 51.6h0M184.3 185.4h0M155.3 101.2h0M157.8 282.9h0M140.6 299.4h0M145.0 231.8h0M199.7 101.2h0M195.6 165.7h0M163.8 216.8h0M234.0 101.2h0M179.6 104.4h0M217.0 66.6h0M171.2 152.4h0M162.4 233.4h0M156.8 235.0h0M181.6 69.8h0M182.6 149.2h0M217.3 185.4h0M175.0 116.1h0M139.4 334.1h0M149.0 233.4h0M195.6 168.9h0M220.0 316.0h0M155.8 279.7h0M145.8 251.5h0M193.9 84.7h0M248.0 200.3h0M189.2 152.4h0M149.0 314.4h0M159.4 119.3h0M145.8 316.0h0M112.8 183.8h0M148.9 216.8h0M155.7 286.1h0M168.8 185.4h0M194.0 119.3h0M222.7 101.2h0M177.6 18.6h0M194.4 68.2h0M181.6 86.3h0M171.9 149.2h0M133.3 301.0h0M138.6 216.8h0M177.7 36.7h0M114.9 233.4h0M174.6 297.8h0M194.7 152.4h0M190.8 18.6h0M171.0 150.8h0M188.3 135.8h0M176.0 35.1h0M218.8 101.2h0M190.2 198.7h0M134.4 316.0h0M141.7 200.3h0M148.0 330.9h0M198.1 35.1h0M158.4 54.8h0M171.9 86.3h0M147.2 334.1h0M175.2 134.2h0M159.5 35.1h0M194.3 332.5h0M150.1 249.9h0M167.3 21.8h0M154.8 117.7h0M193.7 117.7h0M165.3 251.5h0M154.1 18.6h0M158.6 167.3h0M218.0 84.7h0M157.4 332.5h0M226.0 183.8h0M120.0 332.5h0M239.4 134.2h0M163.6 150.8h0M167.4 317.6h0M163.4 134.2h0M223.6 86.3h0M171.3 200.3h0M187.2 66.6h0M180.9 282.9h0M168.9 84.7h0M203.4 119.3h0M161.2 168.9h0M224.0 18.6h0M187.3 71.4h0M150.7 251.5h0M200.7 268.0h0M181.9 117.7h0M137.0 233.4h0M181.4 86.3h0M150.5 281.3h0M134.5 302.6h0M122.9 249.9h0M176.9 84.7h0M166.0 235.0h0M212.6 17.0h0M224.5 36.7h0M156.1 117.7h0M159.9 36.7h0M136.0 220.0h0M199.4 53.2h0M170.0 282.9h0M224.3 20.2h0M178.6 200.3h0M150.5 69.8h0M142.4 220.0h0M192.5 18.6h0M185.2 251.5h0M217.3 71.4h0M183.2 150.8h0M211.9 152.4h0M207.3 167.3h0M160.0 251.5h0M114.7 216.8h0M155.2 268.0h0M177.7 150.8h0M196.0 198.7h0M150.6 330.9h0" stroke="#f6006c" stroke-width="2.16" stroke-linecap="round" fill="none"/>
<path d="M165.1 299.4h0M155.5 332.5h0M154.5 299.4h0M209.8 201.9h0M168.6 101.2h0M179.3 150.8h0M163.0 236.6h0M172.9 183.8h0M189.5 249.9h0M141.9 251.5h0M194.1 102.8h0M222.9 102.8h0M152.6 264.8h0M185.2 198.7h0M176.0 200.3h0M148.0 216.8h0M178.2 149.2h0M131.8 282.9h0M228.8 119.3h0M152.4 317.6h0M171.1 183.8h0M139.7 117.7h0M139.7 84.7h0M176.2 251.5h0M146.0 284.5h0M172.2 218.4h0M161.8 137.4h0M160.3 51.6h0M221.1 36.7h0M183.5 334.1h0M175.0 231.8h0M139.5 216.8h0M165.6 84.7h0M213.5 200.3h0M123.0 233.4h0M134.0 301.0h0M206.8 18.6h0M143.6 302.6h0M224.5 183.8h0M185.3 68.2h0M220.2 167.3h0M164.7 249.9h0M153.9 183.8h0M173.9 152.4h0M196.9 101.2h0M189.4 51.6h0M182.5 200.3h0M159.2 167.3h0M180.6 20.2h0M185.5 317.6h0M160.9 301.0h0M193.4 51.6h0M169.7 301.0h0M181.9 268.0h0M158.1 220.0h0M130.4 332.5h0M186.7 69.8h0M201.9 18.6h0M202.0 83.1h0M165.5 301.0h0M171.6 51.6h0M161.7 319.2h0M174.6 35.1h0M212.6 35.1h0M89.0 249.9h0M172.1 119.3h0M175.5 18.6h0M170.4 302.6h0M198.5 117.7h0M105.0 167.3h0M186.7 102.8h0M176.7 132.6h0M159.2 266.4h0M163.8 119.3h0M196.9 249.9h0M147.6 233.4h0M172.2 198.7h0M153.3 134.2h0M174.8 168.9h0M167.6 286.1h0M190.2 203.5h0M175.3 165.7h0M187.6 51.6h0M177.9 236.6h0M237.6 68.2h0M214.8 99.6h0M120.3 284.5h0M191.5 86.3h0M176.8 182.2h0M192.7 17.0h0M183.6 299.4h0M210.9 101.2h0M194.9 20.2h0M223.4 35.1h0M176.1 233.4h0M182.5 332.5h0M208.4 101.2h0M153.8 233.4h0M204.6 17.0h0M170.4 135.8h0M190.1 86.3h0M139.9 284.5h0M185.0 51.6h0M182.0 235.0h0M200.0 182.2h0M182.4 66.6h0M190.0 147.6h0M174.8 284.5h0M144.0 20.2h0M166.0 135.8h0M135.0 235.0h0M187.9 36.7h0M173.4 198.7h0M167.2 17.0h0M208.2 266.4h0M208.0 132.6h0M194.6 216.8h0M212.8 104.4h0M137.6 301.0h0M180.7 182.2h0M206.0 86.3h0M177.5 200.3h0M193.9 167.3h0M188.9 197.1h0M143.8 200.3h0M199.5 68.2h0M156.2 51.6h0M144.0 284.5h0M217.5 150.8h0M134.1 297.8h0M157.3 312.8h0M240.0 134.2h0M148.8 316.0h0M162.9 216.8h0M197.9 203.5h0M189.0 167.3h0M160.4 71.4h0M173.8 168.9h0M205.7 185.4h0M155.3 233.4h0M201.8 50.0h0M199.2 185.4h0M183.1 332.5h0M197.3 147.6h0M152.2 266.4h0M227.8 183.8h0M177.9 33.5h0M158.4 297.8h0M203.2 117.7h0M175.4 203.5h0M180.7 102.8h0M208.3 282.9h0M205.4 53.2h0M157.6 301.0h0M188.2 119.3h0M160.9 314.4h0M177.9 135.8h0M206.6 135.8h0M205.2 132.6h0M188.0 185.4h0M164.8 83.1h0M163.8 168.9h0M147.8 284.5h0M197.4 20.2h0M167.5 132.6h0M169.1 116.1h0M194.5 301.0h0M145.0 134.2h0M151.6 18.6h0M156.8 314.4h0M172.6 332.5h0M180.6 101.2h0M182.8 20.2h0M187.0 83.1h0M145.8 249.9h0M182.1 87.9h0M168.5 200.3h0M211.5 71.4h0M141.7 317.6h0M223.6 35.1h0M193.6 134.2h0M193.8 18.6h0M170.2 201.9h0M161.8 69.8h0M214.4 104.4h0M166.4 54.8h0M133.9 332.5h0M189.6 201.9h0M205.5 102.8h0M195.0 137.4h0M176.7 248.3h0M219.4 18.6h0M171.7 69.8h0M169.0 330.9h0M165.0 249.9h0M170.8 230.2h0M188.5 182.2h0M164.3 149.2h0M170.8 53.2h0M187.9 152.4h0M187.1 50.0h0M173.8 264.8h0M172.2 15.4h0M135.7 215.2h0M143.9 282.9h0M189.0 200.3h0M225.3 69.8h0M130.9 249.9h0M176.5 170.5h0M180.8 218.4h0M183.8 36.7h0M147.1 301.0h0M164.7 220.0h0M165.9 334.1h0M130.2 284.5h0M180.3 216.8h0M140.5 317.6h0M162.8 231.8h0M180.3 18.6h0" stroke="#ff005a" stroke-width="2.16" stroke-linecap="round" fill="none"/>
<g font-family="Liberation Sans, sans-serif" font-size="7.75" fill="#3a3a3a" text-anchor="end">
<text x="67.2" y="21.6">Fused_0-4kHz_T2</text>
<text x="67.2" y="38.1">Phase_2-4kHz_T2</text>
<text x="67.2" y="54.6">Fused_4-8kHz_T2</text>
<text x="67.2" y="71.2">Fused_4-8kHz_T1</text>
<text x="67.2" y="87.7">Phase_0-2kHz_T1</text>
<text x="67.2" y="104.2">Fused_0-4kHz_T1</text>
<text x="67.2" y="120.7">Phase_2-4kHz_T1</text>
<text x="67.2" y="137.2">Phase_4-6kHz_T1</text>
<text x="67.2" y="153.8">Phase_6-8kHz_T1</text>
<text x="67.2" y="170.3">Phase_0-2kHz_T2</text>
<text x="67.2" y="186.8">Phase_4-6kHz_T2</text>
<text x="67.2" y="203.3">Phase_6-8kHz_T2</text>
<text x="67.2" y="219.8">Mag_0-2kHz_T1</text>
<text x="67.2" y="236.4">Mag_6-8kHz_T2</text>
<text x="67.2" y="252.9">Mag_0-2kHz_T2</text>
<text x="67.2" y="269.4">Mag_4-6kHz_T2</text>
<text x="67.2" y="285.9">Mag_2-4kHz_T1</text>
<text x="67.2" y="302.4">Mag_2-4kHz_T2</text>
<text x="67.2" y="319.0">Mag_6-8kHz_T1</text>
<text x="67.2" y="335.5">Mag_4-6kHz_T1</text>
</g>
<line x1="80.1" y1="349.5" x2="265.0" y2="349.5" stroke="#333" stroke-width="0.8"/>
<g font-family="Liberation Sans, sans-serif" font-size="6.8" fill="#444" text-anchor="middle">
<line x1="89.3" y1="349.5" x2="89.3" y2="351.8" stroke="#333" stroke-width="0.6"/>
<text x="89.3" y="357.8">−0.3</text>
<line x1="113.4" y1="349.5" x2="113.4" y2="351.8" stroke="#333" stroke-width="0.6"/>
<text x="113.4" y="357.8">−0.2</text>
<line x1="137.5" y1="349.5" x2="137.5" y2="351.8" stroke="#333" stroke-width="0.6"/>
<text x="137.5" y="357.8">−0.1</text>
<line x1="161.6" y1="349.5" x2="161.6" y2="351.8" stroke="#333" stroke-width="0.6"/>
<text x="161.6" y="357.8">0.0</text>
<line x1="185.7" y1="349.5" x2="185.7" y2="351.8" stroke="#333" stroke-width="0.6"/>
<text x="185.7" y="357.8">0.1</text>
<line x1="209.8" y1="349.5" x2="209.8" y2="351.8" stroke="#333" stroke-width="0.6"/>
<text x="209.8" y="357.8">0.2</text>
<line x1="233.9" y1="349.5" x2="233.9" y2="351.8" stroke="#333" stroke-width="0.6"/>
<text x="233.9" y="357.8">0.3</text>
<line x1="258.0" y1="349.5" x2="258.0" y2="351.8" stroke="#333" stroke-width="0.6"/>
<text x="258.0" y="357.8">0.4</text>
</g>
<text x="172.6" y="367.4" font-family="Liberation Sans, sans-serif" font-size="8.3" fill="#333" text-anchor="middle">SHAP value (impact on model output)</text>
<rect x="277.3" y="2.4" width="4.5" height="346.4" fill="url(#cb)"/>
<text x="283.8" y="4.6" font-family="Liberation Sans, sans-serif" font-size="6.6" fill="#333">High</text>
<text x="283.8" y="351.6" font-family="Liberation Sans, sans-serif" font-size="6.6" fill="#333">Low</text>
<text transform="translate(303.1,176) rotate(-90)" font-family="Liberation Sans, sans-serif" font-size="7.8" fill="#333" text-anchor="middle">Feature value</text>
<line x1="457.0" y1="18.6" x2="642.8" y2="18.6" stroke="#d4d4d4" stroke-width="0.5" stroke-dasharray="0.6 3"/>
<line x1="457.0" y1="35.1" x2="642.8" y2="35.1" stroke="#d4d4d4" stroke-width="0.5" stroke-dasharray="0.6 3"/>
<line x1="457.0" y1="51.6" x2="642.8" y2="51.6" stroke="#d4d4d4" stroke-width="0.5" stroke-dasharray="0.6 3"/>
<line x1="457.0" y1="68.2" x2="642.8" y2="68.2" stroke="#d4d4d4" stroke-width="0.5" stroke-dasharray="0.6 3"/>
<line x1="457.0" y1="84.7" x2="642.8" y2="84.7" stroke="#d4d4d4" stroke-width="0.5" stroke-dasharray="0.6 3"/>
<line x1="457.0" y1="101.2" x2="642.8" y2="101.2" stroke="#d4d4d4" stroke-width="0.5" stroke-dasharray="0.6 3"/>
<line x1="457.0" y1="117.7" x2="642.8" y2="117.7" stroke="#d4d4d4" stroke-width="0.5" stroke-dasharray="0.6 3"/>
<line x1="457.0" y1="134.2" x2="642.8" y2="134.2" stroke="#d4d4d4" stroke-width="0.5" stroke-dasharray="0.6 3"/>
<line x1="457.0" y1="150.8" x2="642.8" y2="150.8" stroke="#d4d4d4" stroke-width="0.5" stroke-dasharray="0.6 3"/>
<line x1="457.0" y1="167.3" x2="642.8" y2="167.3" stroke="#d4d4d4" stroke-width="0.5" stroke-dasharray="0.6 3"/>
<line x1="457.0" y1="183.8" x2="642.8" y2="183.8" stroke="#d4d4d4" stroke-width="0.5" stroke-dasharray="0.6 3"/>
<line x1="457.0" y1="200.3" x2="642.8" y2="200.3" stroke="#d4d4d4" stroke-width="0.5" stroke-dasharray="0.6 3"/>
<line x1="457.0" y1="216.8" x2="642.8" y2="216.8" stroke="#d4d4d4" stroke-width="0.5" stroke-dasharray="0.6 3"/>
<line x1="457.0" y1="233.4" x2="642.8" y2="233.4" stroke="#d4d4d4" stroke-width="0.5" stroke-dasharray="0.6 3"/>
<line x1="457.0" y1="249.9" x2="642.8" y2="249.9" stroke="#d4d4d4" stroke-width="0.5" stroke-dasharray="0.6 3"/>
<line x1="457.0" y1="266.4" x2="642.8" y2="266.4" stroke="#d4d4d4" stroke-width="0.5" stroke-dasharray="0.6 3"/>
<line x1="457.0" y1="282.9" x2="642.8" y2="282.9" stroke="#d4d4d4" stroke-width="0.5" stroke-dasharray="0.6 3"/>
<line x1="457.0" y1="299.4" x2="642.8" y2="299.4" stroke="#d4d4d4" stroke-width="0.5" stroke-dasharray="0.6 3"/>
<line x1="457.0" y1="316.0" x2="642.8" y2="316.0" stroke="#d4d4d4" stroke-width="0.5" stroke-dasharray="0.6 3"/>
<line x1="457.0" y1="332.5" x2="642.8" y2="332.5" stroke="#d4d4d4" stroke-width="0.5" stroke-dasharray="0.6 3"/>
<line x1="532.2" y1="2.3" x2="532.2" y2="349.5" stroke="#999" stroke-width="0.8"/>
<path d="M600.4 101.2h0M560.1 266.4h0M567.0 84.7h0M554.8 135.8h0M549.6 251.5h0M537.5 84.7h0M492.9 282.9h0M575.6 185.4h0M581.2 168.9h0M583.9 165.7h0M516.6 233.4h0M625.0 117.7h0M508.0 117.7h0M535.4 51.6h0M522.0 332.5h0M530.9 135.8h0M573.0 117.7h0M564.7 119.3h0M542.2 284.5h0M521.1 249.9h0M552.2 282.9h0M518.1 135.8h0M576.9 99.6h0M516.3 216.8h0M566.6 180.8h0M588.0 17.0h0M544.5 51.6h0M512.8 235.0h0M542.8 301.0h0M523.5 334.1h0M561.5 134.2h0M477.0 249.9h0M568.9 99.6h0M525.2 266.4h0M499.0 301.0h0M539.1 266.4h0M582.1 167.3h0M562.6 51.6h0M510.3 284.5h0M586.1 182.2h0M581.5 135.8h0M552.8 167.3h0M573.8 152.4h0M569.4 119.3h0M539.8 86.3h0M539.9 83.1h0M566.9 99.6h0M509.2 281.3h0M487.0 316.0h0M493.2 316.0h0M558.3 233.4h0M530.2 68.2h0M565.6 150.8h0M542.1 299.4h0M568.8 134.2h0M575.1 116.1h0M538.9 167.3h0M513.0 286.1h0M590.6 38.3h0M504.1 268.0h0M547.6 101.2h0M550.2 220.0h0M555.9 152.4h0M557.7 182.2h0M577.3 86.3h0M536.0 120.9h0M571.5 21.8h0M574.8 83.1h0M549.7 201.9h0M534.5 150.8h0M549.1 51.6h0M570.6 20.2h0M563.4 101.2h0M590.5 135.8h0M577.4 50.0h0M505.2 218.4h0M520.0 68.2h0M570.9 150.8h0M536.3 248.3h0M578.5 69.8h0M549.3 185.4h0M582.0 18.6h0M542.9 286.1h0M572.9 249.9h0M554.5 165.7h0M557.0 152.4h0M522.9 268.0h0M557.4 264.8h0M535.6 119.3h0M606.8 150.8h0M527.5 266.4h0M540.1 117.7h0M543.5 134.2h0M558.4 198.7h0M554.9 332.5h0M576.1 35.1h0M530.1 119.3h0M482.8 299.4h0M523.9 249.9h0M543.6 149.2h0M497.5 317.6h0M541.6 282.9h0M545.5 55.2h0M559.8 152.4h0M539.4 66.6h0M497.8 335.7h0M554.6 84.7h0M555.4 69.8h0M566.7 51.6h0M551.9 268.0h0M553.8 167.3h0M500.3 233.4h0M567.1 150.8h0M605.6 31.9h0M578.0 134.2h0M536.9 185.4h0M550.8 18.6h0M514.7 316.0h0M518.3 248.3h0M588.6 36.7h0M533.6 236.6h0M593.9 99.6h0M521.3 282.9h0M554.8 297.8h0M572.7 51.6h0M521.4 297.8h0M511.4 301.0h0M542.7 253.1h0M509.6 249.9h0M541.1 132.6h0M543.9 101.2h0M533.9 264.8h0M539.8 84.7h0M544.2 299.4h0M512.5 281.3h0M536.9 17.0h0M563.1 132.6h0M508.0 297.8h0M567.8 152.4h0M563.1 216.8h0M521.2 301.0h0M564.6 198.7h0M530.1 86.3h0M547.6 35.1h0M533.9 218.4h0M550.4 316.0h0M553.9 150.8h0M573.8 20.2h0M556.6 183.8h0M603.0 33.5h0M560.5 154.0h0M560.6 282.9h0M542.9 246.7h0M561.5 83.1h0M551.6 253.1h0M560.1 168.9h0M597.0 53.2h0M555.1 249.9h0M573.0 150.8h0M502.5 316.0h0M587.3 50.0h0M530.8 332.5h0M552.8 216.8h0M496.6 299.4h0M521.6 231.8h0M513.3 266.4h0M545.4 135.8h0M538.7 317.6h0M550.1 167.3h0M532.2 284.5h0M574.8 167.3h0M551.8 168.9h0M521.5 216.8h0M568.7 68.2h0M594.5 101.2h0M538.7 282.9h0M508.9 314.4h0M544.3 251.5h0M518.9 218.4h0M579.5 116.1h0M479.4 216.8h0M513.4 316.0h0M548.2 235.0h0M510.8 231.8h0M513.2 233.4h0M502.6 216.8h0M563.5 119.3h0M515.8 264.8h0M531.4 233.4h0M519.6 299.4h0M604.9 36.7h0M488.7 216.8h0M519.5 233.4h0M526.6 249.9h0M584.9 185.4h0M566.1 185.4h0" stroke="#0085f9" stroke-width="2.16" stroke-linecap="round" fill="none"/>
<path d="M594.8 66.6h0M552.3 68.2h0M599.7 18.6h0M514.8 282.9h0M592.0 216.8h0M540.5 299.4h0M562.3 251.5h0M497.9 215.2h0M508.9 218.4h0M544.3 231.8h0M537.9 35.1h0M597.3 68.2h0M524.4 297.8h0M558.0 200.3h0M543.3 233.4h0M524.5 134.2h0M524.4 330.9h0M539.4 263.2h0M581.0 101.2h0M575.6 198.7h0M566.5 332.5h0M497.7 216.8h0M575.9 81.5h0M595.1 131.0h0M515.3 314.4h0M550.3 187.0h0M535.8 35.1h0M597.0 99.6h0M541.9 266.4h0M544.9 86.3h0M593.8 83.1h0M498.1 299.4h0M557.1 84.7h0M531.0 200.7h0M553.4 65.0h0M513.0 216.8h0M557.3 168.9h0M569.2 20.2h0M554.9 38.3h0M540.3 167.3h0M537.6 266.4h0M596.3 167.3h0M597.5 18.6h0M579.3 183.8h0M559.1 231.8h0M626.7 18.6h0M576.7 101.2h0M532.4 117.7h0M583.3 69.8h0M577.8 183.8h0M552.6 251.5h0M508.8 284.5h0M538.6 18.6h0M549.2 53.2h0M569.6 216.8h0M513.0 117.7h0M572.7 36.7h0M575.3 168.9h0M527.1 301.0h0M567.8 135.8h0M609.8 51.6h0M563.3 185.4h0M531.7 216.8h0M567.8 149.2h0M581.4 170.5h0M531.3 201.9h0M548.4 183.8h0M526.2 248.3h0M543.9 135.8h0M534.4 233.4h0M565.2 68.2h0M553.3 86.3h0M541.7 101.2h0M554.0 134.2h0M511.4 332.5h0M601.1 36.7h0M496.1 266.4h0M519.5 282.9h0M571.3 134.2h0M546.1 332.5h0M578.4 135.8h0M570.8 54.8h0M527.4 281.3h0M573.8 266.4h0M553.3 53.2h0M557.4 165.7h0M585.2 101.2h0M544.0 36.7h0M572.6 332.5h0M553.2 120.9h0M570.2 51.6h0M548.4 266.4h0M563.1 21.8h0M550.8 251.5h0M523.8 233.4h0M524.9 302.6h0M512.3 233.4h0M553.7 18.6h0M548.0 216.8h0M514.8 268.0h0M561.2 53.2h0M597.5 150.8h0M591.3 150.8h0M530.9 197.1h0M537.9 218.4h0M538.5 51.6h0M600.5 117.7h0M565.1 132.6h0M565.3 170.5h0M580.8 167.3h0M599.1 83.1h0M567.4 117.7h0M546.6 201.9h0M547.9 233.4h0M520.7 117.7h0M559.2 99.6h0M546.4 68.2h0M536.2 317.6h0M558.2 69.8h0M599.6 101.2h0M564.8 203.5h0M566.7 68.2h0M591.8 20.2h0M544.2 316.0h0M553.6 35.1h0M501.0 215.2h0M522.0 216.8h0M516.0 269.6h0M570.1 117.7h0M544.9 102.8h0M600.4 134.2h0M562.7 152.4h0M513.7 317.6h0M581.8 84.7h0M544.5 33.5h0M530.3 314.4h0M545.2 48.4h0M558.2 150.8h0M539.7 201.9h0M544.2 198.7h0M511.4 218.4h0M503.3 301.0h0M576.6 51.6h0M536.1 18.6h0M572.5 134.2h0M548.0 134.2h0M536.4 149.2h0M559.4 268.0h0M533.8 216.8h0M580.2 120.9h0M597.0 69.8h0M547.2 17.0h0M525.2 332.5h0M588.2 68.2h0M572.3 185.4h0M550.3 116.1h0M497.9 329.3h0M520.0 18.6h0" stroke="#0079f3" stroke-width="2.16" stroke-linecap="round" fill="none"/>
<path d="M579.1 101.2h0M572.3 18.6h0M500.7 249.9h0M541.8 18.6h0M583.8 168.9h0M584.1 183.8h0M528.9 314.4h0M540.8 201.9h0M583.2 53.2h0M500.7 314.4h0M542.6 268.0h0M537.5 69.8h0M489.3 216.8h0M572.5 83.1h0M567.1 18.6h0M547.7 152.4h0M556.7 51.6h0M582.3 165.7h0M569.3 135.8h0M557.2 198.7h0M579.0 117.7h0M529.2 319.2h0M523.6 216.8h0M523.8 266.4h0M597.4 201.9h0M578.3 20.2h0M566.1 187.0h0M579.6 332.5h0M569.8 198.7h0M532.8 35.1h0M597.0 35.1h0M544.9 117.7h0M545.0 282.9h0M521.5 281.3h0M572.4 201.9h0M536.8 268.0h0M545.5 251.5h0M545.7 316.0h0M530.5 268.0h0M539.7 334.1h0M607.4 35.1h0M566.0 183.8h0M599.9 54.8h0M567.0 134.2h0M512.8 200.3h0M535.7 251.5h0M539.7 150.8h0M578.7 53.2h0M538.0 334.1h0M576.7 53.2h0M547.3 134.2h0M584.7 86.3h0M535.8 68.2h0M565.0 35.1h0M568.7 117.7h0M536.5 154.0h0M578.3 116.1h0M559.7 150.8h0M575.9 182.2h0M518.3 330.9h0M604.8 35.1h0M594.7 35.1h0M534.6 248.3h0M547.5 200.3h0M515.4 231.8h0M581.4 268.0h0M530.1 203.5h0M534.5 183.8h0M558.5 167.3h0M561.7 35.1h0M594.4 69.8h0M518.5 299.4h0M582.3 183.8h0M569.7 132.6h0M556.2 268.0h0M563.9 150.4h0M597.5 69.8h0M545.7 31.9h0M552.7 149.2h0M530.0 299.4h0M548.5 71.4h0M567.7 33.5h0M528.2 317.6h0M583.5 50.0h0M515.2 299.4h0M516.6 268.0h0M591.8 84.7h0M563.3 282.9h0M584.3 101.2h0M602.0 18.6h0M502.8 233.4h0M563.4 50.0h0M517.7 332.5h0M568.4 17.0h0M559.7 183.8h0M516.6 301.0h0M565.1 36.7h0M536.9 118.0h0M589.5 35.1h0M548.1 201.9h0M634.0 84.7h0M526.4 330.9h0M534.5 218.4h0M529.7 84.7h0M547.4 119.3h0M540.0 215.2h0M549.8 266.4h0M582.2 117.7h0M599.9 50.0h0M563.3 137.4h0M559.4 282.9h0M588.4 51.6h0M533.5 36.7h0M538.1 101.2h0M579.2 134.2h0M549.6 101.2h0M532.1 180.6h0M582.8 35.1h0M592.5 135.8h0M548.3 69.8h0M578.2 68.2h0M552.2 266.4h0M555.5 299.4h0M537.2 135.8h0M544.9 33.5h0M534.6 251.5h0M568.3 83.1h0M555.4 119.3h0M600.2 84.7h0M517.2 319.2h0M568.7 167.3h0M588.7 53.2h0M534.8 167.3h0M562.0 168.9h0M526.0 35.1h0M560.4 215.2h0M596.2 200.3h0M537.6 86.3h0M515.0 235.0h0M557.5 185.4h0M487.0 233.4h0M555.6 51.6h0M577.7 18.6h0M550.3 71.4h0M547.8 334.1h0M517.0 251.5h0M564.5 17.0h0M524.9 84.7h0M527.2 183.8h0M561.2 68.2h0M549.2 183.8h0M581.1 134.2h0M533.4 284.5h0M512.4 264.8h0M519.7 218.4h0M500.3 282.9h0M512.2 268.0h0M514.3 251.5h0M534.3 284.5h0M546.3 316.0h0M595.6 68.2h0M536.1 20.2h0M507.9 264.8h0M592.1 17.0h0M564.9 135.8h0M560.0 216.8h0M548.9 84.7h0M538.1 83.1h0M537.3 68.2h0" stroke="#306ae9" stroke-width="2.16" stroke-linecap="round" fill="none"/>
<path d="M511.3 299.4h0M502.1 235.0h0M596.3 87.9h0M549.7 284.5h0M483.6 216.8h0M560.5 21.8h0M521.8 236.6h0M538.1 132.6h0M525.0 282.9h0M494.4 216.8h0M539.4 165.7h0M587.1 20.2h0M591.9 102.8h0M537.6 332.5h0M542.4 17.0h0M562.6 266.4h0M557.1 216.8h0M535.4 246.2h0M598.9 86.3h0M560.8 132.6h0M551.6 235.0h0M574.7 35.1h0M546.8 86.3h0M586.7 183.8h0M524.6 236.6h0M560.4 299.4h0M509.6 266.4h0M527.5 233.4h0M543.0 117.7h0M558.1 201.9h0M527.2 297.8h0M495.5 216.8h0M563.8 147.6h0M546.7 182.2h0M598.6 134.2h0M503.8 234.5h0M558.3 332.5h0M513.4 268.0h0M546.8 20.2h0M537.7 154.0h0M564.0 183.8h0M545.5 183.8h0M562.5 183.8h0M502.9 235.0h0M514.2 236.6h0M550.0 281.3h0M609.2 18.6h0M503.5 317.6h0M541.0 218.4h0M539.5 314.4h0M581.9 164.1h0M548.7 198.7h0M563.8 33.5h0M537.8 201.9h0M597.7 33.5h0M554.1 53.2h0M538.9 284.5h0M559.9 101.2h0M527.3 282.9h0M571.2 200.3h0M552.5 102.8h0M529.6 266.4h0M521.7 248.3h0M592.5 154.0h0M545.0 50.0h0M523.8 301.0h0M529.6 101.2h0M555.4 68.2h0M592.3 35.1h0M597.1 200.3h0M542.6 102.8h0M515.5 218.4h0M554.0 201.9h0M516.6 218.4h0M542.1 20.2h0M545.1 317.6h0M545.9 98.0h0M559.8 167.3h0M522.4 218.4h0M500.0 316.0h0M563.1 35.1h0M518.5 284.5h0M542.0 251.5h0M565.3 102.8h0M616.3 68.2h0M569.7 154.0h0M594.3 134.2h0M510.6 281.3h0M496.9 266.4h0M573.3 183.8h0M541.6 249.9h0M526.3 317.6h0M546.1 185.4h0M589.3 69.8h0M516.1 316.0h0M514.1 249.9h0M551.4 201.9h0M538.0 20.2h0M529.5 167.3h0M511.7 317.6h0M560.9 233.4h0M598.8 84.7h0M535.1 18.6h0M519.1 332.5h0M541.0 168.9h0M593.2 84.7h0M510.2 233.4h0M585.4 167.3h0M552.1 183.8h0M497.7 218.4h0M566.9 249.9h0M540.8 334.1h0M500.1 216.8h0M573.7 86.3h0M567.8 101.2h0M598.5 99.6h0M550.7 117.7h0M554.2 183.8h0M553.5 98.0h0M550.2 268.0h0M553.0 66.6h0M548.9 53.2h0M568.0 86.3h0M582.1 168.9h0M486.2 282.9h0M547.7 36.7h0M598.1 50.0h0M555.7 201.9h0M546.0 218.4h0M528.6 51.6h0M589.1 33.5h0M538.1 215.2h0M614.1 51.6h0M576.8 84.7h0M524.0 231.8h0M535.2 281.3h0M554.1 316.0h0M565.0 185.4h0M606.3 117.7h0M563.7 15.4h0M600.4 167.3h0M496.9 330.9h0M510.0 235.0h0M555.5 200.3h0M519.4 183.8h0M561.3 50.0h0M533.8 297.8h0M536.0 284.5h0M554.0 168.9h0M545.4 318.8h0M534.4 200.3h0M534.8 264.8h0M526.3 299.4h0M550.5 233.4h0M524.2 251.5h0M541.1 266.4h0" stroke="#605bdc" stroke-width="2.16" stroke-linecap="round" fill="none"/>
<path d="M538.1 167.3h0M504.9 332.5h0M563.6 131.0h0M582.9 102.8h0M549.7 83.1h0M536.7 314.4h0M508.9 332.5h0M621.0 68.2h0M582.6 84.7h0M528.0 296.4h0M564.3 201.9h0M505.2 297.8h0M575.0 119.3h0M586.5 131.0h0M617.1 68.2h0M513.1 299.4h0M506.7 332.5h0M592.8 134.2h0M607.8 134.2h0M504.4 216.8h0M564.7 316.0h0M550.1 69.8h0M509.7 330.9h0M529.5 301.0h0M524.1 268.0h0M525.4 284.5h0M538.2 66.6h0M502.1 233.4h0M574.6 86.3h0M568.0 119.3h0M540.5 216.8h0M523.9 167.3h0M552.3 200.3h0M535.1 235.0h0M554.3 264.8h0M543.0 150.8h0M580.5 68.2h0M533.0 101.2h0M564.8 165.7h0M564.3 200.3h0M538.3 329.3h0M533.1 266.4h0M553.0 198.7h0M538.1 119.3h0M535.2 201.9h0M586.3 137.4h0M548.4 66.6h0M523.3 299.4h0M534.0 249.9h0M594.7 51.6h0M542.8 165.7h0M550.2 332.5h0M539.1 233.4h0M565.7 101.2h0M572.0 101.2h0M590.9 150.8h0M552.3 150.8h0M543.8 235.0h0M554.6 119.3h0M555.6 183.8h0M535.3 117.7h0M546.5 233.4h0M560.3 51.6h0M505.8 317.6h0M552.3 119.3h0M535.7 134.2h0M556.3 149.2h0M538.1 147.6h0M512.5 284.5h0M544.0 17.0h0M569.7 235.0h0M503.8 329.3h0M496.1 233.4h0M515.0 284.5h0M539.8 71.4h0M543.4 35.1h0M598.1 54.8h0M529.2 187.0h0M542.6 334.1h0M556.3 182.2h0M582.9 101.2h0M536.5 332.5h0M546.2 266.4h0M496.2 268.0h0M528.1 266.4h0M563.0 20.2h0M558.0 69.8h0M589.6 183.8h0M571.9 216.8h0M537.7 233.4h0M569.4 51.6h0M558.1 266.4h0M594.7 167.3h0M623.0 84.7h0M575.9 51.6h0M532.3 203.5h0M553.4 301.0h0M506.8 231.8h0M561.3 54.8h0M544.5 35.1h0M585.9 18.6h0M529.8 117.7h0M545.1 319.2h0M517.2 220.0h0M561.6 69.8h0M568.9 165.7h0M553.1 203.5h0M546.1 101.2h0M591.7 134.2h0M544.4 317.6h0M606.0 183.8h0M557.9 99.6h0M542.1 332.5h0M565.0 84.7h0M596.2 183.8h0M508.6 282.9h0M566.5 149.2h0M546.5 18.6h0M596.2 83.1h0M571.4 17.0h0M607.8 117.7h0M518.7 216.8h0M559.4 87.9h0M601.9 35.1h0M569.5 66.6h0M549.3 200.3h0M574.3 317.6h0M570.7 165.7h0M537.0 200.3h0M570.4 119.3h0M575.6 183.8h0M568.0 51.6h0M537.1 134.2h0M550.4 253.1h0M574.4 201.9h0M526.5 201.9h0M559.8 134.2h0M597.8 86.3h0M591.4 183.8h0M553.9 200.3h0M513.0 279.7h0M529.6 316.0h0M506.7 235.0h0M532.8 183.8h0M508.8 316.0h0M559.0 120.9h0M632.0 18.6h0M562.1 282.9h0M548.9 99.6h0M527.3 284.5h0" stroke="#7d49cc" stroke-width="2.16" stroke-linecap="round" fill="none"/>
<path d="M533.2 299.4h0M589.9 20.2h0M541.4 18.6h0M546.9 301.0h0M551.5 134.2h0M530.4 235.0h0M613.9 150.8h0M553.8 299.4h0M551.0 149.2h0M552.2 185.4h0M579.5 69.8h0M558.4 84.7h0M524.0 235.0h0M571.4 120.9h0M566.4 180.6h0M570.9 183.8h0M503.3 231.8h0M536.6 266.4h0M598.4 83.1h0M570.5 53.2h0M527.5 286.1h0M538.5 216.8h0M535.1 330.9h0M569.6 233.4h0M550.4 299.4h0M511.9 282.9h0M539.1 68.2h0M577.3 116.1h0M617.9 53.2h0M509.9 302.6h0M586.2 132.6h0M530.3 185.4h0M499.9 332.5h0M547.8 282.9h0M532.5 281.3h0M578.7 86.3h0M551.7 167.3h0M548.9 329.3h0M605.8 18.6h0M555.6 120.9h0M546.5 117.7h0M590.4 33.5h0M509.7 233.4h0M518.9 301.0h0M609.1 150.8h0M549.3 35.1h0M576.1 183.8h0M511.1 236.6h0M576.1 150.8h0M557.3 268.0h0M542.5 281.3h0M529.9 233.4h0M506.4 266.4h0M536.4 281.3h0M552.5 84.7h0M540.0 170.5h0M502.5 299.4h0M553.8 20.2h0M570.6 216.8h0M546.1 183.8h0M495.8 218.4h0M591.4 152.4h0M542.2 69.8h0M553.4 197.1h0M494.8 266.4h0M537.9 18.6h0M526.9 299.4h0M538.0 335.7h0M528.1 183.8h0M527.4 200.3h0M594.6 135.8h0M569.7 170.5h0M550.6 150.8h0M499.2 316.0h0M545.5 334.1h0M529.6 216.8h0M593.6 20.2h0M589.5 68.2h0M557.2 53.2h0M576.7 36.7h0M524.0 334.1h0M578.2 150.8h0M554.5 249.9h0M587.3 167.3h0M579.7 167.3h0M544.4 15.4h0M509.4 319.2h0M552.7 152.4h0M542.0 135.8h0M547.8 167.3h0M519.5 216.8h0M562.5 66.6h0M572.6 168.9h0M546.4 99.6h0M569.7 116.1h0M561.8 87.9h0M548.0 335.7h0M473.0 266.4h0M543.6 18.6h0M544.6 36.7h0M593.2 53.2h0M550.1 215.2h0M612.8 18.6h0M514.5 296.2h0M553.8 51.6h0M545.1 314.4h0M533.1 282.9h0M526.4 268.0h0M573.0 51.6h0M562.0 316.0h0M530.8 286.1h0M512.6 251.5h0M520.0 167.3h0M541.5 215.2h0M528.6 200.3h0M547.4 51.6h0M547.5 332.5h0M583.5 119.3h0M539.6 20.2h0M560.7 119.3h0M545.4 165.7h0M536.2 218.4h0M551.5 68.2h0M561.2 86.3h0" stroke="#9233b9" stroke-width="2.16" stroke-linecap="round" fill="none"/>
<path d="M491.2 332.5h0M588.9 18.6h0M545.8 248.3h0M543.9 332.5h0M522.1 282.9h0M531.4 185.4h0M507.1 282.9h0M603.3 35.1h0M535.2 317.6h0M541.2 51.6h0M507.3 266.4h0M594.4 68.2h0M561.1 84.7h0M552.2 101.2h0M501.4 216.8h0M532.0 68.2h0M554.6 71.4h0M572.3 35.1h0M559.0 36.7h0M522.2 249.9h0M496.5 332.5h0M544.3 284.5h0M510.2 316.0h0M599.3 68.2h0M513.4 235.0h0M548.2 51.6h0M590.9 84.7h0M583.8 167.3h0M532.0 198.7h0M572.6 218.4h0M552.6 233.4h0M545.4 200.3h0M540.5 84.7h0M549.0 84.7h0M518.3 266.4h0M583.5 104.4h0M585.9 117.7h0M574.3 15.4h0M547.0 317.6h0M556.1 253.1h0M533.4 200.3h0M541.7 216.8h0M548.0 299.4h0M564.6 168.9h0M561.0 167.3h0M507.1 332.5h0M601.2 51.6h0M547.4 203.5h0M520.0 266.4h0M580.4 33.5h0M589.7 69.8h0M574.6 117.7h0M541.4 317.6h0M548.9 154.0h0M549.8 182.2h0M554.9 132.6h0M573.9 134.2h0M541.4 233.4h0M574.2 50.0h0M607.0 152.4h0M581.7 102.8h0M533.4 235.0h0M595.7 84.7h0M556.7 18.6h0M593.6 50.0h0M581.1 200.3h0M514.3 230.2h0M528.8 182.2h0M529.5 282.9h0M595.8 35.1h0M504.8 301.0h0M524.3 316.0h0M512.0 299.4h0M556.7 36.7h0M503.3 236.6h0M521.9 296.2h0M502.9 334.1h0M581.8 35.1h0M583.1 68.2h0M569.6 316.0h0M597.5 102.8h0M546.4 102.8h0M589.1 83.1h0M548.6 33.5h0M535.9 183.8h0M518.6 316.0h0M580.9 183.8h0M549.4 216.8h0M530.4 218.4h0M517.9 282.9h0M546.3 150.8h0M591.6 101.2h0M535.7 282.9h0M584.8 35.1h0M530.1 198.7h0M566.7 102.8h0M574.6 101.2h0M563.2 149.2h0M534.7 268.0h0M576.8 119.3h0M566.2 316.0h0M531.1 332.5h0M551.8 154.0h0M550.2 198.7h0M510.2 282.9h0M536.9 215.2h0M568.2 31.9h0M568.1 132.6h0M527.5 251.5h0M554.1 117.7h0M547.9 102.8h0M595.1 117.7h0M517.6 249.9h0M539.0 301.0h0M598.9 117.7h0M520.8 299.4h0M518.7 317.6h0M543.7 154.0h0M569.5 69.8h0M554.0 268.0h0M594.8 84.7h0M525.6 316.0h0M539.0 200.3h0M599.1 36.7h0M526.7 150.8h0M529.5 282.9h0M543.6 201.9h0M537.0 316.0h0M495.9 249.9h0M532.0 182.2h0M554.6 284.5h0M563.2 36.7h0M563.8 116.1h0M542.7 36.7h0M547.7 150.8h0M561.3 249.9h0M490.9 233.4h0M571.8 86.3h0M560.2 17.0h0M561.7 48.4h0M576.9 216.8h0M586.9 68.2h0M566.9 104.4h0M545.1 54.8h0M546.8 334.1h0M554.8 33.5h0M561.1 51.6h0M613.5 117.7h0M526.0 134.2h0M555.7 35.1h0M540.6 200.3h0" stroke="#aa17a7" stroke-width="2.16" stroke-linecap="round" fill="none"/>
<path d="M569.0 35.1h0M534.0 215.2h0M582.6 51.6h0M546.3 35.1h0M553.2 268.0h0M520.7 235.0h0M569.0 84.7h0M514.9 332.5h0M600.6 102.8h0M579.4 249.9h0M574.6 200.3h0M564.1 167.3h0M590.5 233.4h0M580.2 168.9h0M532.0 334.1h0M558.3 119.3h0M563.0 167.3h0M556.9 201.9h0M535.9 200.3h0M558.5 235.0h0M585.6 69.8h0M517.3 269.6h0M555.3 251.5h0M596.4 150.8h0M564.5 117.7h0M556.5 18.6h0M508.3 269.6h0M550.7 102.8h0M585.1 183.8h0M535.3 168.9h0M536.0 216.8h0M555.6 116.1h0M605.7 68.2h0M554.1 301.0h0M564.3 20.2h0M528.2 185.4h0M502.7 332.5h0M548.3 231.8h0M597.2 36.7h0M573.9 35.1h0M588.2 183.8h0M585.9 20.2h0M510.3 235.0h0M567.9 38.3h0M575.5 102.8h0M540.7 149.2h0M563.8 102.8h0M545.5 38.3h0M598.4 20.2h0M588.5 84.7h0M545.7 104.4h0M587.4 84.7h0M508.1 302.6h0M542.0 233.4h0M614.3 35.1h0M566.7 83.1h0M580.3 266.4h0M545.0 18.6h0M560.1 149.2h0M616.9 35.1h0M484.1 282.9h0M545.1 284.5h0M510.8 314.4h0M543.3 266.4h0M521.7 264.8h0M566.8 119.3h0M596.0 86.3h0M547.1 187.0h0M548.3 68.2h0M571.9 167.3h0M560.2 20.2h0M549.3 119.3h0M571.9 183.8h0M619.6 35.1h0M495.5 299.4h0M583.0 99.6h0M539.8 198.7h0M529.1 268.0h0M547.2 198.7h0M568.9 168.9h0M628.6 84.7h0M587.1 99.6h0M487.0 249.9h0M578.5 51.6h0M517.1 284.5h0M568.6 101.2h0M495.3 316.0h0M546.5 84.7h0M533.9 268.0h0M573.8 53.2h0M545.2 249.9h0M515.4 281.3h0M540.6 152.4h0M604.7 51.6h0M521.9 281.7h0M497.2 282.9h0M567.1 35.1h0M570.5 266.4h0M547.4 135.8h0M509.7 84.7h0M545.2 134.2h0M543.0 68.2h0M569.3 149.2h0M532.1 187.0h0M589.7 101.2h0M534.7 68.2h0M569.0 86.3h0M605.4 33.5h0M535.3 246.7h0M553.5 266.4h0M595.9 134.2h0M549.6 282.9h0M556.6 35.1h0M554.1 69.8h0M570.3 18.6h0M565.7 167.3h0M570.3 167.3h0M627.0 150.8h0M538.7 299.4h0M535.4 215.2h0M586.8 18.6h0M547.0 282.9h0M568.5 18.6h0M589.4 135.8h0M537.1 317.6h0M536.9 319.2h0M593.3 68.2h0M558.7 249.9h0M572.8 182.2h0M521.2 332.5h0M600.9 35.1h0M589.8 66.6h0M588.8 86.3h0M574.4 200.3h0M531.3 183.8h0M589.6 36.7h0M542.5 248.3h0M551.6 104.4h0M570.7 168.9h0M566.8 154.0h0M542.3 117.7h0M564.8 21.8h0M577.3 182.2h0M563.6 84.7h0" stroke="#c2009c" stroke-width="2.16" stroke-linecap="round" fill="none"/>
<path d="M518.0 334.1h0M499.3 297.8h0M513.3 301.0h0M598.3 71.4h0M529.7 102.8h0M567.0 87.9h0M583.4 36.7h0M530.6 281.3h0M544.9 299.4h0M537.8 117.7h0M561.3 299.4h0M517.1 231.8h0M523.1 200.3h0M579.7 185.4h0M609.6 68.2h0M538.2 87.9h0M570.8 48.4h0M482.8 266.4h0M515.6 286.1h0M559.8 200.3h0M583.8 84.7h0M508.1 235.0h0M536.9 264.8h0M499.2 335.7h0M507.3 299.4h0M543.7 20.2h0M558.1 18.6h0M534.9 316.0h0M498.4 334.1h0M552.0 249.9h0M544.4 248.3h0M572.4 198.7h0M562.1 135.8h0M521.7 286.1h0M564.1 18.6h0M575.3 201.9h0M494.8 282.9h0M589.8 134.2h0M484.4 215.2h0M522.8 266.4h0M558.2 117.7h0M519.2 251.5h0M553.4 235.0h0M571.3 51.3h0M537.2 319.2h0M556.6 200.3h0M555.7 135.8h0M522.9 215.2h0M509.9 335.7h0M548.2 249.9h0M536.1 316.0h0M565.1 101.2h0M603.6 36.7h0M533.5 231.8h0M552.3 117.7h0M498.3 332.5h0M574.4 167.3h0M596.0 102.8h0M570.6 316.0h0M558.8 116.1h0M550.0 33.5h0M571.8 84.7h0M570.8 170.5h0M559.6 117.7h0M540.6 134.2h0M540.8 249.9h0M534.3 282.9h0M605.5 38.3h0M521.8 279.7h0M540.9 251.5h0M585.5 84.7h0M535.1 152.4h0M549.7 36.7h0M611.6 117.7h0M573.4 332.5h0M513.4 297.8h0M551.2 119.3h0M501.6 332.5h0M544.8 316.0h0M541.5 68.2h0M552.8 201.9h0M520.5 233.4h0M510.2 216.8h0M535.2 299.4h0M563.4 117.7h0M529.9 201.9h0M518.7 253.1h0M556.4 50.0h0M558.0 101.2h0M545.2 150.8h0M514.9 233.4h0M551.6 266.4h0M507.3 334.1h0M544.7 53.2h0M541.8 134.2h0M575.1 36.7h0M598.9 35.1h0M592.5 36.7h0M595.0 33.5h0M531.1 249.9h0M541.4 154.0h0M549.4 233.4h0M566.1 182.2h0M562.1 165.7h0M595.0 137.4h0M559.1 102.8h0M527.1 332.5h0M535.5 165.7h0M585.9 86.3h0M567.9 233.4h0M544.1 185.4h0M576.0 134.2h0M548.0 330.9h0M548.2 284.5h0M500.3 334.1h0M568.6 102.8h0M531.3 282.9h0M585.0 134.2h0M554.7 116.1h0M502.9 330.9h0M571.0 116.1h0M553.5 264.8h0M505.4 215.2h0M540.4 150.8h0M564.0 134.2h0M540.6 135.8h0M521.3 284.5h0M598.3 152.4h0M530.3 301.0h0M570.5 68.2h0M575.1 87.9h0M574.5 117.7h0M554.7 233.4h0M556.6 68.2h0M591.2 18.6h0M595.0 68.4h0" stroke="#d6008e" stroke-width="2.16" stroke-linecap="round" fill="none"/>
<path d="M599.1 53.2h0M546.0 268.0h0M542.5 235.0h0M540.3 332.5h0M506.7 264.8h0M575.6 203.5h0M593.8 86.3h0M531.1 200.3h0M623.6 35.1h0M560.7 68.2h0M576.6 117.7h0M514.3 314.4h0M544.7 167.3h0M551.6 248.3h0M581.3 51.6h0M569.2 36.7h0M588.2 35.1h0M508.8 317.6h0M597.0 51.6h0M602.0 36.7h0M587.1 102.8h0M559.1 248.3h0M541.8 200.3h0M595.3 150.8h0M553.6 282.9h0M568.9 150.8h0M594.9 20.2h0M508.6 216.8h0M532.2 297.8h0M562.6 68.2h0M524.1 218.4h0M527.8 268.0h0M573.9 249.9h0M545.8 216.8h0M558.4 86.3h0M546.9 216.8h0M585.3 134.2h0M598.9 51.6h0M530.1 134.2h0M574.5 102.8h0M568.5 154.0h0M511.8 266.4h0M546.7 235.0h0M545.6 152.4h0M511.5 316.0h0M524.6 230.2h0M567.3 36.7h0M573.9 316.0h0M574.2 21.8h0M560.1 135.8h0M569.7 164.1h0M489.0 282.9h0M530.4 182.2h0M483.9 218.4h0M549.6 249.9h0M516.4 249.9h0M501.0 249.9h0M532.2 301.0h0M584.0 51.6h0M600.3 18.6h0M535.1 69.8h0M586.1 66.6h0M546.2 299.4h0M557.4 117.7h0M558.0 68.2h0M565.2 137.4h0M553.2 99.6h0M516.7 282.9h0M508.6 299.4h0M586.6 53.2h0M581.2 18.6h0M579.3 84.7h0M594.4 18.6h0M556.7 167.3h0M592.0 167.3h0M507.4 216.8h0M595.3 69.2h0M496.5 332.5h0M532.2 35.1h0M517.0 235.0h0M574.6 84.7h0M553.3 168.9h0M582.1 200.3h0M526.2 216.8h0M596.5 81.5h0M516.8 264.8h0M556.0 53.2h0M490.1 316.0h0M520.3 284.5h0M508.1 330.9h0M520.1 334.1h0M582.7 170.5h0M489.7 299.4h0M593.1 51.6h0M502.5 266.4h0M535.4 314.4h0M589.1 20.2h0M533.1 316.0h0M524.0 332.5h0M551.2 51.6h0M506.5 268.0h0M547.8 18.6h0M535.6 150.8h0M547.8 149.2h0M521.9 302.6h0M533.2 102.8h0M535.9 51.6h0M567.7 20.2h0M544.5 84.7h0M535.5 117.7h0M570.7 50.0h0M591.1 68.2h0M498.7 233.4h0M589.6 18.6h0M570.0 249.9h0M516.1 299.4h0M554.4 66.6h0M529.4 68.2h0M526.3 218.4h0M534.9 253.1h0M520.3 301.0h0M577.2 249.9h0M537.2 314.4h0M527.2 302.6h0M592.5 86.3h0M582.1 20.2h0M563.3 264.8h0M535.3 36.7h0M535.8 152.4h0M547.3 21.8h0M507.7 268.0h0M585.8 135.8h0M517.8 251.5h0M539.1 264.8h0M551.7 116.1h0M558.5 83.1h0M543.2 152.4h0M516.6 266.4h0M544.1 21.8h0M539.4 269.6h0M516.6 317.6h0M594.9 86.3h0" stroke="#e7007e" stroke-width="2.16" stroke-linecap="round" fill="none"/>
<path d="M543.5 200.3h0M576.4 152.4h0M494.4 332.5h0M537.4 152.4h0M592.3 51.6h0M549.6 218.4h0M563.0 135.8h0M535.6 249.9h0M517.5 101.2h0M594.8 71.4h0M553.1 71.4h0M574.3 135.8h0M500.7 317.6h0M608.5 18.6h0M551.0 216.8h0M549.7 68.2h0M562.4 18.6h0M593.8 54.8h0M544.4 182.2h0M536.8 135.8h0M542.1 168.9h0M581.8 132.6h0M580.0 18.6h0M556.0 185.4h0M553.8 68.2h0M553.2 104.4h0M529.0 216.8h0M545.2 332.5h0M541.8 150.8h0M533.6 301.0h0M587.8 104.4h0M507.0 314.4h0M567.6 282.9h0M577.9 84.7h0M553.0 69.8h0M506.5 233.4h0M587.1 101.2h0M512.4 249.9h0M496.3 251.5h0M523.3 284.5h0M523.2 264.8h0M517.2 213.6h0M563.0 299.4h0M576.7 185.4h0M558.4 35.1h0M566.2 152.4h0M527.7 334.1h0M508.8 297.8h0M553.8 36.7h0M547.4 168.9h0M552.0 120.9h0M529.6 183.8h0M527.9 296.2h0M590.7 51.6h0M520.9 268.0h0M563.0 17.0h0M526.0 251.5h0M576.8 102.8h0M496.8 316.0h0M579.3 68.2h0M539.0 168.9h0M574.1 101.2h0M562.8 332.5h0M548.7 236.6h0M569.4 201.9h0M606.7 18.6h0M568.9 183.8h0M526.1 334.1h0M579.9 251.5h0M565.5 117.7h0M577.9 119.3h0M569.0 152.4h0M556.2 246.7h0M541.9 35.1h0M551.2 99.6h0M563.7 154.0h0M594.7 99.6h0M522.3 251.5h0M521.4 251.5h0M530.2 116.1h0M617.6 51.6h0M587.0 299.4h0M500.5 218.4h0M576.0 18.6h0M572.6 135.8h0M532.8 332.5h0M571.5 201.9h0M532.0 316.0h0M548.4 281.3h0M510.6 266.4h0M593.9 35.1h0M543.5 249.9h0M550.5 101.2h0M607.0 101.2h0M541.1 316.0h0M558.5 20.2h0M566.3 86.3h0M532.2 317.6h0M536.1 114.5h0M505.6 316.0h0M585.6 185.4h0M559.5 17.0h0M592.0 99.6h0M594.7 36.7h0M572.3 102.8h0M611.0 200.3h0M532.8 334.1h0M566.8 168.9h0M577.2 135.8h0M594.9 132.6h0M583.2 86.3h0M551.1 183.8h0M569.3 200.3h0M598.4 38.3h0M578.7 185.4h0M526.4 314.4h0M509.0 334.1h0M551.4 53.2h0M535.4 335.7h0M543.3 69.8h0M556.5 132.6h0M554.7 101.2h0M593.1 132.6h0M523.8 299.4h0M551.4 200.3h0M528.0 299.4h0M537.7 149.2h0M600.6 86.3h0M560.3 218.4h0M507.7 233.4h0M599.2 183.8h0M544.5 84.7h0M579.4 86.3h0M534.6 35.1h0M535.3 231.8h0M558.7 251.5h0M569.4 17.0h0M519.0 249.9h0M599.4 87.9h0M539.3 117.7h0M531.6 235.0h0M544.8 101.2h0M526.4 200.3h0M555.2 117.7h0M612.8 68.2h0M569.5 33.5h0M537.6 282.9h0M563.3 268.0h0M549.1 86.3h0M560.9 201.9h0M525.5 167.3h0M588.0 69.8h0M562.9 18.6h0M500.0 183.8h0M547.1 268.0h0M546.0 200.3h0M577.1 134.2h0M555.0 134.2h0M549.0 117.7h0M540.0 65.0h0M504.6 299.4h0M555.5 216.8h0M560.5 53.2h0M544.2 119.3h0" stroke="#f6006c" stroke-width="2.16" stroke-linecap="round" fill="none"/>
<path d="M538.0 330.9h0M529.7 284.5h0M529.3 180.6h0M552.8 116.1h0M598.1 66.6h0M524.8 117.7h0M544.8 168.9h0M507.9 301.0h0M556.7 266.4h0M594.8 65.0h0M515.5 51.6h0M590.8 167.3h0M593.2 18.6h0M585.4 68.2h0M526.4 84.7h0M543.6 183.8h0M569.8 15.4h0M576.5 266.4h0M519.5 316.0h0M538.2 137.4h0M548.3 20.2h0M562.2 132.6h0M524.5 215.2h0M550.6 152.4h0M595.6 101.2h0M534.4 266.4h0M512.8 301.0h0M542.5 119.3h0M586.5 51.6h0M539.2 69.8h0M545.6 132.6h0M537.1 150.8h0M547.2 284.5h0M600.0 33.5h0M593.4 102.8h0M532.8 185.4h0M494.9 233.4h0M552.8 218.4h0M562.5 150.8h0M577.9 117.7h0M543.6 282.9h0M595.0 17.0h0M522.9 248.3h0M573.1 84.7h0M597.6 134.2h0M545.2 312.8h0M545.0 266.4h0M504.0 266.4h0M560.5 165.7h0M534.6 334.1h0M566.8 282.9h0M510.0 134.2h0M565.9 84.7h0M597.5 84.7h0M513.7 218.4h0M511.5 216.8h0M517.1 314.4h0M513.4 231.8h0M496.9 334.1h0M526.4 215.2h0M534.1 332.5h0M552.1 299.4h0M540.3 183.8h0M532.5 249.9h0M508.6 301.0h0M532.9 182.2h0M556.3 101.2h0M500.9 235.0h0M574.1 17.0h0M542.8 183.8h0M545.2 99.6h0M525.0 220.0h0M548.7 65.0h0M562.7 134.2h0M550.6 249.9h0M571.1 268.0h0M538.5 332.5h0M549.7 150.8h0M541.7 167.3h0M562.9 53.2h0M550.3 66.6h0M493.0 249.9h0M502.2 299.4h0M514.8 134.2h0M550.1 248.3h0M555.5 266.4h0M534.0 216.8h0M543.6 167.3h0M520.6 266.4h0M551.7 299.4h0M528.2 316.0h0M515.8 215.2h0M609.4 35.1h0M570.8 101.2h0M593.1 101.2h0M571.1 164.1h0M529.2 332.5h0M544.4 281.3h0M536.0 116.1h0M598.2 48.4h0M505.2 302.6h0M498.2 216.8h0M514.5 266.4h0M566.8 18.6h0M579.8 135.8h0M560.9 249.9h0M465.5 282.9h0M587.8 185.4h0M594.7 102.8h0M531.4 299.4h0M514.1 302.6h0M545.9 233.4h0M569.8 21.8h0M525.0 135.8h0M515.2 317.6h0M518.8 233.4h0M566.7 200.3h0M559.4 299.4h0M583.5 117.7h0M595.7 117.7h0M510.5 317.6h0M545.0 119.3h0M619.5 18.6h0M529.7 200.3h0M537.0 101.2h0M579.2 119.3h0M585.3 51.6h0M556.8 150.8h0M596.8 201.9h0M486.0 332.5h0M573.4 334.1h0M516.8 215.2h0M517.9 134.2h0M557.4 134.2h0M575.3 33.5h0M552.8 35.1h0M537.6 216.8h0M550.0 152.4h0M579.9 35.1h0M569.8 185.4h0M559.5 18.6h0M551.8 231.8h0M588.8 134.2h0M592.1 149.2h0M538.7 218.4h0M552.5 51.6h0M498.7 330.9h0M540.6 282.9h0M557.2 101.2h0M590.5 185.4h0M537.9 235.0h0M539.1 268.0h0M580.2 36.7h0M512.0 332.5h0M571.2 47.9h0M515.4 216.8h0M525.0 249.9h0M503.7 230.2h0M546.0 167.3h0M504.4 316.0h0M529.0 218.4h0M501.5 316.0h0M559.0 66.6h0M581.4 266.4h0M583.2 185.4h0M549.0 68.7h0M573.5 282.9h0M569.9 38.3h0M556.1 248.3h0M539.8 249.9h0M572.3 200.3h0M503.2 335.7h0M581.2 165.7h0M593.0 135.8h0M538.5 316.0h0M558.7 152.4h0M555.6 150.8h0M533.2 233.4h0M530.0 317.6h0M503.5 218.4h0M534.8 185.4h0M573.1 18.6h0M557.5 102.8h0M597.2 101.2h0" stroke="#ff005a" stroke-width="2.16" stroke-linecap="round" fill="none"/>
<g font-family="Liberation Sans, sans-serif" font-size="7.75" fill="#3a3a3a" text-anchor="end">
<text x="443.6" y="21.6">Fused_4-8kHz_T2</text>
<text x="443.6" y="38.1">Fused_0-4kHz_T1</text>
<text x="443.6" y="54.6">Fused_0-4kHz_T2</text>
<text x="443.6" y="71.2">Fused_4-8kHz_T1</text>
<text x="443.6" y="87.7">Phase_4-6kHz_T1</text>
<text x="443.6" y="104.2">Phase_6-8kHz_T1</text>
<text x="443.6" y="120.7">Phase_4-6kHz_T2</text>
<text x="443.6" y="137.2">Phase_0-2kHz_T2</text>
<text x="443.6" y="153.8">Phase_6-8kHz_T2</text>
<text x="443.6" y="170.3">Phase_2-4kHz_T2</text>
<text x="443.6" y="186.8">Phase_0-2kHz_T1</text>
<text x="443.6" y="203.3">Phase_2-4kHz_T1</text>
<text x="443.6" y="219.8">Mag_2-4kHz_T2</text>
<text x="443.6" y="236.4">Mag_0-2kHz_T2</text>
<text x="443.6" y="252.9">Mag_4-6kHz_T2</text>
<text x="443.6" y="269.4">Mag_4-6kHz_T1</text>
<text x="443.6" y="285.9">Mag_6-8kHz_T1</text>
<text x="443.6" y="302.4">Mag_0-2kHz_T1</text>
<text x="443.6" y="319.0">Mag_6-8kHz_T2</text>
<text x="443.6" y="335.5">Mag_2-4kHz_T1</text>
</g>
<line x1="457.0" y1="349.5" x2="642.8" y2="349.5" stroke="#333" stroke-width="0.8"/>
<g font-family="Liberation Sans, sans-serif" font-size="6.8" fill="#444" text-anchor="middle">
<line x1="491.4" y1="349.5" x2="491.4" y2="351.8" stroke="#333" stroke-width="0.6"/>
<text x="491.4" y="357.8">−0.2</text>
<line x1="532.2" y1="349.5" x2="532.2" y2="351.8" stroke="#333" stroke-width="0.6"/>
<text x="532.2" y="357.8">0.0</text>
<line x1="573.0" y1="349.5" x2="573.0" y2="351.8" stroke="#333" stroke-width="0.6"/>
<text x="573.0" y="357.8">0.2</text>
<line x1="613.8" y1="349.5" x2="613.8" y2="351.8" stroke="#333" stroke-width="0.6"/>
<text x="613.8" y="357.8">0.4</text>
</g>
<text x="549.9" y="367.4" font-family="Liberation Sans, sans-serif" font-size="8.3" fill="#333" text-anchor="middle">SHAP value (impact on model output)</text>
<rect x="654.0" y="2.4" width="4.5" height="346.4" fill="url(#cb)"/>
<text x="660.5" y="4.6" font-family="Liberation Sans, sans-serif" font-size="6.6" fill="#333">High</text>
<text x="660.5" y="351.6" font-family="Liberation Sans, sans-serif" font-size="6.6" fill="#333">Low</text>
<text transform="translate(680.0,176) rotate(-90)" font-family="Liberation Sans, sans-serif" font-size="7.8" fill="#333" text-anchor="middle">Feature value</text>
</svg>
<div class="cam" style="left:1px;top:495px;width:307px;height:129px"><i style="top:0px;background:linear-gradient(90deg,#0a0e40 0.5px,#0e1045 117.5px,#0e1045 125.5px,#0e1046 247.5px,#0e1046 255.5px,#0e1046 277.5px,#0e1046 283.5px,#0a0e40 306.5px)"></i><i style="top:1px;background:linear-gradient(90deg,#0a0e41 0.5px,#0e1146 90.5px,#0d1146 100.5px,#0d1145 116.5px,#181753 122.5px,#0a0e41 130.5px,#0d1146 246.5px,#191755 252.5px,#0a0e41 259.5px,#0d1146 276.5px,#181753 281.5px,#0a0e41 287.5px,#0b0f42 306.5px)"></i><i style="top:2px;background:linear-gradient(90deg,#0a0f42 0.5px,#0e1147 89.5px,#191856 95.5px,#0d1147 101.5px,#0b1044 115.5px,#1e1b5d 120.5px,#141550 125.5px,#0a0f42 129.5px,#0c1044 245.5px,#201c5f 250.5px,#1b1958 254.5px,#0a0f42 258.5px,#0c1044 275.5px,#1f1c5e 280.5px,#0a0f42 287.5px,#0f1349 306.5px)"></i><i style="top:3px;background:linear-gradient(90deg,#0a1043 0.5px,#0c1145 88.5px,#201d60 93.5px,#1b1a59 99.5px,#0a1043 103.5px,#0c1146 115.5px,#262067 120.5px,#1f1c5e 124.5px,#0a1043 128.5px,#0c1246 245.5px,#282269 250.5px,#211d60 254.5px,#0a1043 258.5px,#0c1246 275.5px,#272168 280.5px,#0a1043 286.5px,#0d1247 301.5px,#151651 306.5px)"></i><i style="top:4px;background:linear-gradient(90deg,#0a1144 0.5px,#0c1247 88.5px,#282269 93.5px,#262167 98.5px,#0a1144 103.5px,#0d1348 115.5px,#2d2570 120.5px,#242065 124.5px,#0a1145 128.5px,#0d1348 245.5px,#2d2570 249.5px,#2d2570 253.5px,#0d1348 257.5px,#0d1348 275.5px,#2d2570 279.5px,#262168 282.5px,#0d1348 285.5px,#0e144a 301.5px,#1b1a59 305.5px,#1a1a58 306.5px)"></i><i style="top:5px;background:linear-gradient(90deg,#0a1245 0.5px,#0d1449 88.5px,#2d2671 92.5px,#2d2570 98.5px,#0a1246 103.5px,#0e144a 115.5px,#312876 119.5px,#312875 123.5px,#0a1246 128.5px,#0e144a 245.5px,#342a79 249.5px,#342979 253.5px,#0e144a 257.5px,#0e144a 275.5px,#342a79 279.5px,#332979 281.5px,#0e144a 285.5px,#0c1348 300.5px,#211f61 305.5px,#201e60 306.5px)"></i><i style="top:6px;background:linear-gradient(90deg,#0a1246 0.5px,#0e154b 88.5px,#352b7a 92.5px,#342a7a 98.5px,#0e154b 102.5px,#0e154c 115.5px,#372c7d 119.5px,#362b7c 123.5px,#0e154b 127.5px,#0f154c 245.5px,#3b2e81 249.5px,#3a2d80 253.5px,#0e154c 257.5px,#0e154c 275.5px,#3a2e81 279.5px,#3a2d80 281.5px,#0e154c 285.5px,#0c144a 300.5px,#262268 304.5px,#262268 306.5px)"></i><i style="top:7px;background:linear-gradient(90deg,#0a1347 0.5px,#0f164d 88.5px,#3a2e81 92.5px,#3a2e81 98.5px,#0e164d 102.5px,#0e164d 115.5px,#382c7e 119.5px,#382d7e 123.5px,#0e164c 127.5px,#0f164d 245.5px,#3b2f82 249.5px,#3c2f83 253.5px,#0e164d 257.5px,#0f164d 275.5px,#3c2f83 279.5px,#3c2f83 281.5px,#0e164d 285.5px,#0d154b 300.5px,#2b266f 304.5px,#2b256f 306.5px)"></i><i style="top:8px;background:linear-gradient(90deg,#0a1448 0.5px,#0f174e 88.5px,#3d3084 92.5px,#3b2f82 98.5px,#0f174e 102.5px,#0f174e 115.5px,#392e7f 119.5px,#382d7f 123.5px,#0e164d 127.5px,#0f174e 245.5px,#3c3083 249.5px,#3c2f83 253.5px,#0f174e 257.5px,#0f174e 275.5px,#3c2f83 279.5px,#3b2f83 281.5px,#0f174e 285.5px,#0e164d 300.5px,#312976 304.5px,#2f2874 306.5px)"></i><i style="top:9px;background:linear-gradient(90deg,#0a1549 0.5px,#0f184f 88.5px,#3d3185 92.5px,#3d3184 98.5px,#0f174f 102.5px,#0f174f 115.5px,#392e80 119.5px,#392e7f 123.5px,#0e174f 127.5px,#0f184f 245.5px,#3d3184 249.5px,#3c3083 253.5px,#0f174f 257.5px,#0b154a 274.5px,#27256b 277.5px,#3d3084 279.5px,#3c3083 281.5px,#0f174f 285.5px,#0e174e 300.5px,#322a77 304.5px,#312a77 306.5px)"></i><i style="top:10px;background:linear-gradient(90deg,#0a164a 0.5px,#0b164c 87.5px,#27256c 90.5px,#403388 93.5px,#3d3185 98.5px,#0f1850 102.5px,#0f1850 115.5px,#392f81 119.5px,#392f80 123.5px,#0e1850 127.5px,#0b164c 244.5px,#28256c 247.5px,#413389 250.5px,#3d3184 253.5px,#0f1850 257.5px,#0b164c 274.5px,#27256c 277.5px,#3d3185 279.5px,#3d3184 281.5px,#0f1850 285.5px,#0e184f 300.5px,#322b78 304.5px,#312a77 306.5px)"></i><i style="top:11px;background:linear-gradient(90deg,#0a164b 0.5px,#0b174d 87.5px,#29276e 90.5px,#413389 93.5px,#3d3185 98.5px,#0f1951 102.5px,#0f1951 115.5px,#3b3082 119.5px,#392f81 123.5px,#0e1951 127.5px,#0b174d 244.5px,#29276e 247.5px,#413489 250.5px,#3d3185 253.5px,#0f1951 257.5px,#0b174d 274.5px,#29276e 277.5px,#403388 280.5px,#342d7b 282.5px,#0f1951 285.5px,#0e1950 300.5px,#332c79 304.5px,#322b78 306.5px)"></i><i style="top:12px;background:linear-gradient(90deg,#0a174c 0.5px,#0b184e 87.5px,#28276e 90.5px,#42358a 93.5px,#3e3286 98.5px,#0f1a52 102.5px,#0f1a52 115.5px,#3c3183 119.5px,#3a3182 123.5px,#0f1a52 127.5px,#0b184e 244.5px,#29276e 247.5px,#3f3387 249.5px,#3e3386 253.5px,#0f1a52 257.5px,#0b184e 274.5px,#29276e 277.5px,#3f3387 279.5px,#352e7c 282.5px,#0f1a52 285.5px,#0e1a51 300.5px,#342d7a 304.5px,#332d79 306.5px)"></i><i style="top:13px;background:linear-gradient(90deg,#0a184d 0.5px,#0b194f 87.5px,#29286f 90.5px,#42358a 93.5px,#3f3386 98.5px,#0f1b53 102.5px,#121e56 111.5px,#0f1b54 115.5px,#3b3183 119.5px,#3b3283 123.5px,#0f1b53 127.5px,#131f57 135.5px,#0a184d 147.5px,#0e1b52 154.5px,#0b194f 244.5px,#29286f 247.5px,#43358b 250.5px,#3f3487 253.5px,#0f1b53 257.5px,#0b194f 274.5px,#29286f 277.5px,#42358a 280.5px,#352f7d 282.5px,#0f1b53 285.5px,#0e1b53 296.5px,#0e1a53 300.5px,#332d7a 304.5px,#322d79 306.5px)"></i><i style="top:14px;background:linear-gradient(90deg,#0a194e 0.5px,#0f1c53 62.5px,#142059 74.5px,#0b1950 87.5px,#2a2a71 90.5px,#43368b 93.5px,#3e3387 98.5px,#101c56 102.5px,#232b67 109.5px,#111d56 115.5px,#3c3284 119.5px,#3b3283 123.5px,#121e57 127.5px,#212a66 134.5px,#0a194e 142.5px,#101d54 149.5px,#18225c 153.5px,#0a194e 160.5px,#152359 178.5px,#0a1d4e 191.5px,#0b1950 244.5px,#2a2a71 247.5px,#43368b 250.5px,#3f3487 253.5px,#0f1c54 257.5px,#0b1950 274.5px,#2a2971 277.5px,#42358a 280.5px,#352f7d 282.5px,#101c55 285.5px,#1c2464 294.5px,#0f1c55 300.5px,#352f7c 304.5px,#332e7a 306.5px)"></i><i style="top:15px;background:linear-gradient(90deg,#0a1a50 0.5px,#0f1c55 22.5px,#0e1d54 58.5px,#242c69 70.5px,#0a1a50 86.5px,#1b2262 89.5px,#413689 92.5px,#403588 98.5px,#15205b 102.5px,#303474 108.5px,#1e2863 113.5px,#15205b 115.5px,#3d3385 119.5px,#3c3284 123.5px,#1a245f 127.5px,#2e3373 133.5px,#1c2661 138.5px,#0a1a50 142.5px,#101e56 148.5px,#212865 152.5px,#0a1a50 159.5px,#121f58 167.5px,#242e69 176.5px,#0a1e4f 189.5px,#102056 222.5px,#14215a 232.5px,#0b1a51 244.5px,#2a2a71 247.5px,#44378c 250.5px,#403588 253.5px,#0f1c55 257.5px,#101d57 268.5px,#0b1a51 274.5px,#2a2a71 277.5px,#403588 279.5px,#3f3487 281.5px,#121e59 285.5px,#262a71 293.5px,#121e59 300.5px,#35307d 304.5px,#35307c 306.5px)"></i><i style="top:16px;background:linear-gradient(90deg,#0a1b51 0.5px,#16205e 13.5px,#14205d 23.5px,#0a1b51 35.5px,#112057 56.5px,#303575 67.5px,#272f6c 77.5px,#0a1b51 86.5px,#1b2463 89.5px,#403589 92.5px,#413689 98.5px,#1f2666 101.5px,#222c68 103.5px,#3d3e82 108.5px,#2b3270 113.5px,#1d2764 115.5px,#403588 120.5px,#35307d 124.5px,#242c6a 127.5px,#3b3d80 133.5px,#28306d 138.5px,#0b1c52 142.5px,#0e1e55 147.5px,#2a2e6e 152.5px,#0a1b51 159.5px,#14225a 165.5px,#313676 174.5px,#222f67 182.5px,#0a2150 189.5px,#0f2256 218.5px,#242d6a 228.5px,#0a1b51 243.5px,#1b2463 246.5px,#413689 249.5px,#413689 253.5px,#101e57 257.5px,#1c2666 266.5px,#0b1c52 274.5px,#2a2b72 277.5px,#413689 279.5px,#37317f 282.5px,#182361 285.5px,#30317d 292.5px,#20286b 298.5px,#1b2463 301.5px,#35307d 304.5px,#342f7c 306.5px)"></i><i style="top:17px;background:linear-gradient(90deg,#0a1c52 0.5px,#15215e 9.5px,#21266b 19.5px,#0a1c52 34.5px,#0d1f55 53.5px,#3c3e80 65.5px,#373b7b 76.5px,#0c1e54 87.5px,#2c2d74 90.5px,#44388d 93.5px,#403689 98.5px,#262c6d 101.5px,#4c498f 108.5px,#393c7d 113.5px,#262c6d 116.5px,#403689 120.5px,#37337f 124.5px,#303575 127.5px,#49478c 133.5px,#353a79 138.5px,#0e1f55 142.5px,#0d1e54 146.5px,#313374 151.5px,#252d6a 155.5px,#0a1d52 159.5px,#1a2760 164.5px,#3e4082 173.5px,#343c78 181.5px,#0a2350 190.5px,#0e2454 215.5px,#323876 226.5px,#232e69 236.5px,#0b1d53 244.5px,#2c2d74 247.5px,#44388d 250.5px,#403689 253.5px,#13215b 257.5px,#272d73 266.5px,#0c1e54 274.5px,#2b2c74 277.5px,#43378c 280.5px,#20286a 285.5px,#3a3889 292.5px,#2a2f76 298.5px,#202869 301.5px,#36317e 305.5px,#34307c 306.5px)"></i><i style="top:18px;background:linear-gradient(90deg,#0a1e53 0.5px,#172361 7.5px,#2a2b76 18.5px,#13225d 29.5px,#0a1e53 36.5px,#0e2157 52.5px,#404283 61.5px,#4d4b8f 72.5px,#2f3674 82.5px,#0f2158 87.5px,#1c2665 89.5px,#42388b 92.5px,#41388a 98.5px,#2d3273 101.5px,#585299 107.5px,#4f4c90 112.5px,#2c3173 116.5px,#42388a 120.5px,#373a7c 126.5px,#555096 132.5px,#4a488c 137.5px,#0c1f54 143.5px,#0f2157 146.5px,#3a397c 151.5px,#2d3271 155.5px,#0b1f54 159.5px,#15255c 162.5px,#434486 169.5px,#4d4c8e 177.5px,#2e3a71 185.5px,#0b2651 190.5px,#0e2654 213.5px,#3a3f7d 223.5px,#3d4080 232.5px,#0d1f55 244.5px,#1c2665 246.5px,#43388b 249.5px,#413789 253.5px,#192562 257.5px,#30337e 264.5px,#252d71 270.5px,#0f2158 274.5px,#1c2665 276.5px,#42388a 279.5px,#393481 282.5px,#272d71 284.5px,#423d93 291.5px,#393888 297.5px,#242b6e 301.5px,#37337f 305.5px,#35327e 306.5px)"></i><i style="top:19px;background:linear-gradient(90deg,#0a1f54 0.5px,#1b2666 6.5px,#332f7f 16.5px,#272b72 26.5px,#0a1f54 34.5px,#0d2156 51.5px,#424484 58.5px,#5c559b 68.5px,#524e92 77.5px,#303975 84.5px,#13255c 87.5px,#1d2866 89.5px,#42388b 92.5px,#42398b 98.5px,#34387a 101.5px,#6259a0 106.5px,#6159a0 111.5px,#4a498b 114.5px,#333679 116.5px,#43398b 122.5px,#414184 126.5px,#61599f 131.5px,#585297 137.5px,#343b78 140.5px,#0d2157 143.5px,#12245a 146.5px,#3e3c7f 150.5px,#3e3d80 154.5px,#0c2156 159.5px,#1d2c64 162.5px,#48488a 167.5px,#5c569b 174.5px,#4d4e8d 182.5px,#28396b 187.5px,#0c2952 190.5px,#0e2955 212.5px,#3f4581 220.5px,#4f4d8f 230.5px,#2c3671 240.5px,#102359 244.5px,#1d2866 246.5px,#42388b 249.5px,#42398a 253.5px,#222b6d 256.5px,#3b3a8a 265.5px,#2a3177 271.5px,#14245e 274.5px,#1d2867 276.5px,#42398b 279.5px,#3a3583 282.5px,#2c3078 284.5px,#4a429b 290.5px,#433e93 297.5px,#292f74 301.5px,#35327e 306.5px)"></i><i style="top:20px;background:linear-gradient(90deg,#0a2155 0.5px,#162561 4.5px,#353181 11.5px,#3b3387 21.5px,#232a6f 29.5px,#0a2155 34.5px,#0f2459 51.5px,#474888 56.5px,#685ea4 66.5px,#5d579b 78.5px,#3e4280 84.5px,#172960 87.5px,#1e2a68 89.5px,#443a8c 92.5px,#42398b 98.5px,#3d3f81 101.5px,#625a9f 104.5px,#6a5fa6 111.5px,#565295 114.5px,#3a3c7f 116.5px,#433a8b 122.5px,#444288 125.5px,#625a9f 129.5px,#635b9f 137.5px,#3f4381 140.5px,#192a61 142.5px,#0d2358 145.5px,#424083 150.5px,#434084 154.5px,#0e2358 159.5px,#182a60 161.5px,#4c4c8c 165.5px,#6a5fa5 173.5px,#585695 183.5px,#334075 187.5px,#0d2c54 190.5px,#0d2a54 211.5px,#464b86 218.5px,#5e579b 228.5px,#464887 238.5px,#14275d 244.5px,#1e2a68 246.5px,#443a8c 249.5px,#42398b 253.5px,#283073 256.5px,#454094 264.5px,#3a3a88 270.5px,#172762 275.5px,#433a8c 279.5px,#3b3785 282.5px,#33357e 284.5px,#4b439b 288.5px,#4c439c 297.5px,#2e337a 301.5px,#36347f 306.5px)"></i><i style="top:21px;background:linear-gradient(90deg,#0a2256 0.5px,#1b2967 4.5px,#3a3486 9.5px,#453891 20.5px,#32317e 28.5px,#0d2358 33.5px,#0c2357 50.5px,#1c2e65 52.5px,#4d4d8c 55.5px,#6a60a4 61.5px,#675ea2 79.5px,#4c4c8b 84.5px,#1c2d64 87.5px,#172961 88.5px,#443b8c 92.5px,#443b8c 98.5px,#3e3d83 100.5px,#6b60a5 104.5px,#695fa4 113.5px,#3a3a81 117.5px,#443c8b 123.5px,#565194 126.5px,#695fa3 129.5px,#655c9f 138.5px,#4a4b8a 140.5px,#1d2e65 142.5px,#0c2357 144.5px,#172960 146.5px,#414082 149.5px,#3f3f80 155.5px,#0f255a 159.5px,#1c2e65 161.5px,#514f8f 164.5px,#6b61a5 169.5px,#665f9f 183.5px,#4f528c 186.5px,#0f2f55 190.5px,#0e2d55 211.5px,#4a4f88 216.5px,#665ea0 223.5px,#665da1 233.5px,#494b89 240.5px,#182b61 244.5px,#1e2b69 246.5px,#453c8c 249.5px,#433b8b 253.5px,#2e3379 256.5px,#4c449c 263.5px,#474297 269.5px,#2b3378 273.5px,#1a2a65 275.5px,#453b8c 279.5px,#383884 284.5px,#5147a0 288.5px,#4d449c 298.5px,#31347b 302.5px,#383680 306.5px)"></i><i style="top:22px;background:linear-gradient(90deg,#0b2457 0.5px,#162862 3.5px,#3c3588 7.5px,#483a94 16.5px,#40378c 27.5px,#2b3078 30.5px,#0e255a 33.5px,#0c2558 50.5px,#223369 52.5px,#5b5797 55.5px,#6e63a6 60.5px,#6960a2 82.5px,#5a5796 84.5px,#203168 87.5px,#192b63 88.5px,#443b8c 92.5px,#453c8c 98.5px,#424086 100.5px,#6d62a5 104.5px,#6e63a5 113.5px,#585395 115.5px,#3d3c83 117.5px,#49438c 124.5px,#695fa2 128.5px,#6960a2 138.5px,#51518f 140.5px,#12285d 143.5px,#10275b 145.5px,#424182 149.5px,#424182 155.5px,#10275c 159.5px,#223369 161.5px,#5e5899 164.5px,#7064a7 169.5px,#68619f 185.5px,#4b5187 187.5px,#103257 190.5px,#0a2e51 208.5px,#103157 211.5px,#585893 216.5px,#6f65a6 222.5px,#685fa1 237.5px,#4f508d 241.5px,#1c2f65 244.5px,#172a62 245.5px,#453b8c 249.5px,#453c8c 253.5px,#33377f 256.5px,#4f469e 261.5px,#494397 271.5px,#1d2c69 275.5px,#2f3278 277.5px,#483d8e 280.5px,#3a3984 283.5px,#4f469f 287.5px,#4c459a 299.5px,#33357d 302.5px,#373680 306.5px)"></i><i style="top:23px;background:linear-gradient(90deg,#0b2558 0.5px,#1a2b67 3.5px,#40388c 6.5px,#4b3c96 16.5px,#453a91 28.5px,#0f275c 33.5px,#0d275a 50.5px,#27376e 52.5px,#5a5794 54.5px,#6f65a5 56.5px,#6d63a4 83.5px,#535390 85.5px,#24356c 87.5px,#1b2e65 88.5px,#473e8d 92.5px,#464489 100.5px,#6c63a3 103.5px,#7065a5 113.5px,#403f85 117.5px,#473f8c 123.5px,#6c62a2 128.5px,#6b62a2 138.5px,#555491 140.5px,#132b5f 143.5px,#11295d 145.5px,#444383 149.5px,#434282 155.5px,#12295e 159.5px,#162c61 160.5px,#6961a0 164.5px,#7267a7 173.5px,#6e66a3 185.5px,#54578e 187.5px,#123558 190.5px,#0a3250 198.5px,#0c3053 210.5px,#223c66 212.5px,#605e97 215.5px,#6f66a5 219.5px,#6d63a3 239.5px,#4b4d89 242.5px,#213369 244.5px,#192d64 245.5px,#463d8c 249.5px,#453c8c 253.5px,#3a3b86 256.5px,#50479f 260.5px,#4e469d 271.5px,#202f6d 275.5px,#453c8c 279.5px,#403f8d 284.5px,#5148a0 287.5px,#4c459b 299.5px,#363880 302.5px,#383780 306.5px)"></i><i style="top:24px;background:linear-gradient(90deg,#0b2759 0.5px,#1d2d6a 3.5px,#473b92 6.5px,#4a3c95 28.5px,#2a3277 31.5px,#0c275a 34.5px,#0d285b 50.5px,#2b3b71 52.5px,#5f5b98 54.5px,#7267a6 56.5px,#7166a5 83.5px,#5b5894 85.5px,#28396f 87.5px,#1c3067 88.5px,#303579 90.5px,#4b4090 93.5px,#49478a 100.5px,#6f65a3 103.5px,#7166a5 113.5px,#5d5897 115.5px,#414086 117.5px,#48418c 123.5px,#6f65a3 128.5px,#67609d 139.5px,#404880 141.5px,#152d60 143.5px,#122a5e 145.5px,#454484 149.5px,#434382 155.5px,#132b5f 159.5px,#182f63 160.5px,#5f5b98 163.5px,#7367a6 165.5px,#7168a4 185.5px,#5a5c91 187.5px,#143859 190.5px,#0a3450 195.5px,#0c3354 210.5px,#274169 212.5px,#5a5c92 214.5px,#7168a4 216.5px,#7065a4 240.5px,#575691 242.5px,#26376d 244.5px,#1b2f66 245.5px,#483f8d 249.5px,#403c88 254.5px,#3e3e8a 256.5px,#5249a0 259.5px,#4c469a 272.5px,#233271 275.5px,#31357a 277.5px,#483e8e 280.5px,#413f8d 284.5px,#534aa1 287.5px,#4e479b 299.5px,#363980 302.5px,#3a3981 306.5px)"></i><i style="top:25px;background:linear-gradient(90deg,#0b285a 0.5px,#132b61 2.5px,#4a3d95 6.5px,#493d94 29.5px,#112a60 33.5px,#0e2a5c 50.5px,#2d3d73 52.5px,#615d98 54.5px,#7367a5 56.5px,#7569a5 83.5px,#5d5a95 85.5px,#2a3b70 87.5px,#1d3168 88.5px,#4a3f8f 93.5px,#4a488a 100.5px,#7468a5 104.5px,#6e64a1 114.5px,#424186 117.5px,#4a438d 123.5px,#6f65a2 128.5px,#69629d 139.5px,#152e61 143.5px,#132c60 145.5px,#454483 149.5px,#454483 155.5px,#142d60 159.5px,#193164 160.5px,#615c98 163.5px,#7367a5 165.5px,#746ba4 185.5px,#5d5f92 187.5px,#143a5a 190.5px,#0a3650 195.5px,#0c3554 210.5px,#2b456c 212.5px,#605f95 214.5px,#7269a3 216.5px,#7569a5 240.5px,#5c5a94 242.5px,#293a70 244.5px,#1c3168 245.5px,#473e8c 249.5px,#483f8d 253.5px,#40408d 256.5px,#51499f 259.5px,#4e489c 272.5px,#253473 275.5px,#31367b 277.5px,#493f8e 280.5px,#41408e 284.5px,#534aa1 288.5px,#4f489c 299.5px,#363980 302.5px,#393981 306.5px)"></i><i style="top:26px;background:linear-gradient(90deg,#0b2a5b 0.5px,#142d63 2.5px,#453d90 5.5px,#50409a 9.5px,#4a3e95 29.5px,#122c61 33.5px,#0b2a5b 46.5px,#0e2b5d 50.5px,#303f73 52.5px,#666097 54.5px,#776aa3 56.5px,#7669a3 83.5px,#5e5b93 85.5px,#2b3c71 87.5px,#1e3369 88.5px,#32387b 90.5px,#4a3f8e 93.5px,#47428a 99.5px,#595691 101.5px,#7468a1 103.5px,#776aa3 113.5px,#615b96 115.5px,#444386 117.5px,#4a438c 123.5px,#6f659e 127.5px,#7267a0 138.5px,#5a5990 140.5px,#153062 143.5px,#132e61 145.5px,#464684 149.5px,#454583 155.5px,#142e61 159.5px,#1a3265 160.5px,#655f97 163.5px,#776aa3 165.5px,#766ca1 185.5px,#5e5f90 187.5px,#143c5a 190.5px,#0a3950 195.5px,#0d3754 210.5px,#2e486d 212.5px,#656395 214.5px,#776ba2 216.5px,#766aa3 240.5px,#5e5b93 242.5px,#2a3c71 244.5px,#1e3369 245.5px,#32387b 247.5px,#4a408e 250.5px,#43428f 256.5px,#534aa0 259.5px,#534aa0 271.5px,#333b81 274.5px,#273473 276.5px,#473e8c 279.5px,#44428f 284.5px,#534aa0 287.5px,#534ba0 298.5px,#383b82 302.5px,#393a81 306.5px)"></i><i style="top:27px;background:linear-gradient(90deg,#0b2b5d 0.5px,#142e64 2.5px,#4f4199 6.5px,#4c4097 29.5px,#122d63 33.5px,#0b2b5c 46.5px,#0e2d5e 50.5px,#193365 51.5px,#686195 54.5px,#7b6ca1 56.5px,#786aa0 83.5px,#625d91 85.5px,#2c3e71 87.5px,#1e346a 88.5px,#32397b 90.5px,#49418d 92.5px,#48438a 99.5px,#5c5790 101.5px,#786a9f 103.5px,#796aa0 113.5px,#645d94 115.5px,#464586 117.5px,#4b448c 123.5px,#73679c 127.5px,#73679d 138.5px,#5d5b8f 140.5px,#163163 143.5px,#132f62 145.5px,#494885 149.5px,#454683 155.5px,#153062 159.5px,#1a3466 160.5px,#686195 163.5px,#7b6ca1 165.5px,#786c9e 185.5px,#61618e 187.5px,#153e5a 190.5px,#0a3a51 193.5px,#0d3a55 210.5px,#183f5c 211.5px,#676492 214.5px,#7a6d9f 216.5px,#786aa0 240.5px,#615d91 242.5px,#2c3e71 244.5px,#1e346a 245.5px,#33397b 247.5px,#4c418f 250.5px,#44438f 256.5px,#564da1 259.5px,#4f499c 272.5px,#283776 275.5px,#34397c 277.5px,#4a408e 280.5px,#444390 284.5px,#564da2 288.5px,#4f499c 299.5px,#393d82 302.5px,#3b3c82 306.5px)"></i><i style="top:28px;background:linear-gradient(90deg,#0b2d5e 0.5px,#142f65 2.5px,#504199 6.5px,#4f4299 29.5px,#132f64 33.5px,#0b2d5d 41.5px,#0e2e5f 50.5px,#324273 52.5px,#696193 54.5px,#7c6c9e 56.5px,#7d6d9e 83.5px,#655f90 85.5px,#2d3f71 87.5px,#1f366a 88.5px,#32397b 90.5px,#49408c 92.5px,#49448a 99.5px,#5c578e 101.5px,#796a9c 103.5px,#7e6d9e 112.5px,#77699b 114.5px,#454485 117.5px,#4d468d 123.5px,#78699b 128.5px,#716697 139.5px,#464d7e 141.5px,#163364 143.5px,#133063 145.5px,#484884 149.5px,#474884 155.5px,#153163 159.5px,#1b3566 160.5px,#696193 163.5px,#7c6c9e 165.5px,#7c6e9c 185.5px,#64648c 187.5px,#154059 190.5px,#0a3c51 193.5px,#0d3c55 210.5px,#18415c 211.5px,#696590 214.5px,#7c6d9c 216.5px,#7c6c9e 240.5px,#645f90 242.5px,#2d3f71 244.5px,#1f356a 245.5px,#32397b 247.5px,#4d428f 250.5px,#43438f 256.5px,#564da1 260.5px,#514b9d 272.5px,#283877 275.5px,#34397c 277.5px,#4b428e 280.5px,#43438f 284.5px,#564da2 288.5px,#524b9d 299.5px,#383c82 302.5px,#3b3d82 306.5px)"></i><i style="top:29px;background:linear-gradient(90deg,#0c2e5f 0.5px,#153167 2.5px,#494193 5.5px,#55439d 9.5px,#51439a 29.5px,#133065 33.5px,#0b2e5e 45.5px,#0f3060 50.5px,#1b3766 51.5px,#6e6492 54.5px,#806e9b 56.5px,#806e9b 83.5px,#665f8e 85.5px,#2e4071 87.5px,#20376b 88.5px,#343b7d 90.5px,#4a418d 92.5px,#4a4589 99.5px,#605a8d 101.5px,#7c6c9a 103.5px,#816f9c 113.5px,#685f91 115.5px,#474585 117.5px,#4e478c 123.5px,#786997 127.5px,#7a6b98 138.5px,#625d8b 140.5px,#173464 143.5px,#143264 145.5px,#484884 149.5px,#474884 155.5px,#153364 159.5px,#1c3767 160.5px,#6e6492 163.5px,#7f6d9b 165.5px,#7f7099 185.5px,#65648a 187.5px,#164359 190.5px,#0a3f51 193.5px,#0d3e55 210.5px,#334e6c 212.5px,#6d688e 214.5px,#7f6f99 216.5px,#7f6d9b 240.5px,#655f8e 242.5px,#2e4071 244.5px,#20376b 245.5px,#343b7c 247.5px,#4c428e 250.5px,#42428a 255.5px,#554ca1 259.5px,#564da1 271.5px,#293977 275.5px,#353c7e 277.5px,#4a418c 279.5px,#464591 284.5px,#554ca1 288.5px,#564ea1 298.5px,#3a3e83 302.5px,#3a3c81 306.5px)"></i><i style="top:30px;background:linear-gradient(90deg,#0c3060 0.5px,#163368 2.5px,#4c4395 5.5px,#58469f 9.5px,#56459e 28.5px,#464090 30.5px,#133266 33.5px,#0c305f 46.5px,#0f3261 50.5px,#1c3867 51.5px,#726790 54.5px,#857199 56.5px,#816e98 83.5px,#69618c 85.5px,#304271 87.5px,#21396c 88.5px,#363d7d 90.5px,#4d458e 92.5px,#4c478a 99.5px,#645c8c 101.5px,#816f98 103.5px,#836f98 113.5px,#6b608f 115.5px,#494786 117.5px,#4e468b 123.5px,#7c6c96 127.5px,#7c6b95 138.5px,#645f8a 140.5px,#173665 143.5px,#153465 145.5px,#434881 148.5px,#4c4b86 153.5px,#3d457d 156.5px,#163465 159.5px,#1d3968 160.5px,#726690 163.5px,#847099 165.5px,#817096 185.5px,#686688 187.5px,#164559 190.5px,#0a4151 193.5px,#0e4055 210.5px,#1a455d 211.5px,#716a8d 214.5px,#847297 216.5px,#816e98 240.5px,#68618c 242.5px,#2f4271 244.5px,#21396b 245.5px,#353c7d 247.5px,#4b438d 249.5px,#43438b 255.5px,#5950a2 259.5px,#504b9c 272.5px,#2a3b79 275.5px,#373e7f 277.5px,#4b438d 279.5px,#484892 284.5px,#5950a2 287.5px,#514b9d 299.5px,#3b4084 302.5px,#3d3f82 306.5px)"></i><i style="top:31px;background:linear-gradient(90deg,#0c3160 0.5px,#163468 2.5px,#4d4395 5.5px,#5a48a0 9.5px,#54469b 29.5px,#143466 33.5px,#0c315f 41.5px,#103361 50.5px,#1c3a67 51.5px,#73678d 54.5px,#877196 56.5px,#867196 83.5px,#806d93 84.5px,#4f547d 86.5px,#314471 87.5px,#213a6b 88.5px,#353d7d 90.5px,#50468f 93.5px,#4e4989 99.5px,#655c8a 101.5px,#846f95 103.5px,#867096 113.5px,#6e628d 115.5px,#494885 117.5px,#4f488b 123.5px,#7e6c93 127.5px,#806d93 138.5px,#686188 140.5px,#183865 143.5px,#103362 144.5px,#223a6d 146.5px,#4b4b85 149.5px,#484a83 155.5px,#163665 159.5px,#1e3a68 160.5px,#73668d 163.5px,#877196 165.5px,#857293 185.5px,#6c6986 187.5px,#174659 190.5px,#0a4251 193.5px,#0e4255 210.5px,#1b475c 211.5px,#726a8a 214.5px,#867394 216.5px,#857095 240.5px,#7f6d92 241.5px,#4f547d 243.5px,#314470 244.5px,#213a6b 245.5px,#353d7c 247.5px,#4c448d 249.5px,#46438a 254.5px,#4f4b99 257.5px,#5a51a2 262.5px,#544e9d 272.5px,#2b3d79 275.5px,#373e7e 277.5px,#4f468e 280.5px,#474791 284.5px,#5a51a3 288.5px,#544e9e 299.5px,#3b4083 302.5px,#3e4182 306.5px)"></i><i style="top:32px;background:linear-gradient(90deg,#0c3360 0.5px,#173669 2.5px,#4f4596 5.5px,#5b48a0 9.5px,#56489c 29.5px,#143566 33.5px,#0c3360 41.5px,#103561 50.5px,#1d3c67 51.5px,#76688b 54.5px,#887193 56.5px,#8a7393 83.5px,#6e6588 85.5px,#324570 87.5px,#223c6b 88.5px,#363e7c 90.5px,#4f458e 93.5px,#4e4988 99.5px,#665d88 101.5px,#856f91 103.5px,#8a7393 113.5px,#70638b 115.5px,#4a4984 117.5px,#51498a 123.5px,#7f6c8f 127.5px,#847091 138.5px,#6a6286 140.5px,#183965 143.5px,#103562 144.5px,#233c6d 146.5px,#4a4b84 149.5px,#4a4c83 155.5px,#163865 159.5px,#1f3c67 160.5px,#76688b 163.5px,#887193 165.5px,#897591 185.5px,#82728d 186.5px,#4f5d74 188.5px,#174858 190.5px,#0a4451 193.5px,#0f4355 210.5px,#1c485c 211.5px,#766c88 214.5px,#887391 216.5px,#897293 240.5px,#826e90 241.5px,#50557b 243.5px,#324570 244.5px,#223c6b 245.5px,#363e7c 247.5px,#4e458d 250.5px,#474891 256.5px,#574fa1 260.5px,#544f9d 272.5px,#2a3d78 275.5px,#373e7d 277.5px,#4f468e 280.5px,#474791 284.5px,#5850a2 288.5px,#554f9e 299.5px,#3b4183 302.5px,#3d4081 306.5px)"></i><i style="top:33px;background:linear-gradient(90deg,#0c3560 0.5px,#183869 2.5px,#534998 5.5px,#5e4ba1 8.5px,#5c4aa0 28.5px,#4b4592 30.5px,#143766 33.5px,#0c3560 41.5px,#103761 50.5px,#1f3e67 51.5px,#7b6b89 54.5px,#8e7490 56.5px,#8b7390 83.5px,#706585 85.5px,#33476f 87.5px,#233e6b 88.5px,#38417d 90.5px,#4d468c 92.5px,#4f4a87 99.5px,#6a6087 101.5px,#89728f 103.5px,#8c7390 113.5px,#716489 115.5px,#4c4b84 117.5px,#4c458a 122.5px,#6b5f89 125.5px,#846f8d 127.5px,#86708e 138.5px,#6b6383 140.5px,#193b64 143.5px,#113762 144.5px,#243e6d 146.5px,#454b80 148.5px,#4e4e85 154.5px,#2f4274 157.5px,#173a65 159.5px,#203e67 160.5px,#7a6b89 163.5px,#8d7490 165.5px,#8b758e 185.5px,#6f6a81 187.5px,#184957 190.5px,#0b4550 193.5px,#104554 210.5px,#1e4a5b 211.5px,#7b6f86 214.5px,#8e768f 216.5px,#8b7390 240.5px,#706585 242.5px,#33476f 244.5px,#233e6b 245.5px,#38417d 247.5px,#4e468c 249.5px,#46478b 255.5px,#5951a1 259.5px,#5850a1 271.5px,#2b3f79 275.5px,#38407e 277.5px,#4d458b 279.5px,#494a92 284.5px,#5850a1 287.5px,#5851a1 298.5px,#3d4483 302.5px,#3e4181 306.5px)"></i><i style="top:34px;background:linear-gradient(90deg,#0d3760 0.5px,#183a69 2.5px,#554a98 5.5px,#624ea3 8.5px,#5a4a9d 29.5px,#153966 33.5px,#0c3660 39.5px,#113961 50.5px,#1f4066 51.5px,#7d6c87 54.5px,#91768e 56.5px,#8e748d 83.5px,#746883 85.5px,#35496e 87.5px,#243f6b 88.5px,#38427d 90.5px,#4f488c 92.5px,#514c87 99.5px,#6d6285 101.5px,#8d748d 103.5px,#8e748d 113.5px,#746687 115.5px,#4e4d83 117.5px,#534b89 123.5px,#87718b 127.5px,#88718b 138.5px,#6e6582 140.5px,#193d64 143.5px,#113962 144.5px,#25406d 146.5px,#4e4f84 149.5px,#4a4d82 155.5px,#183b65 159.5px,#214067 160.5px,#7d6c87 163.5px,#91768e 165.5px,#8e768a 185.5px,#736c7f 187.5px,#194b57 190.5px,#0c4650 192.5px,#104654 210.5px,#1f4c5a 211.5px,#7e7083 214.5px,#92798c 216.5px,#8e748d 240.5px,#746884 242.5px,#35496e 244.5px,#24406b 245.5px,#283e71 246.5px,#50488c 249.5px,#47498c 255.5px,#5c54a2 259.5px,#55509d 272.5px,#2d4179 275.5px,#39427e 277.5px,#4e468b 279.5px,#46488b 283.5px,#5b53a2 287.5px,#544f9d 299.5px,#3e4583 302.5px,#404582 306.5px)"></i><i style="top:35px;background:linear-gradient(90deg,#0d3860 0.5px,#193b69 2.5px,#544998 5.5px,#644fa3 9.5px,#5e4e9f 29.5px,#153a66 33.5px,#0c3860 39.5px,#113a61 50.5px,#204166 51.5px,#7e6c84 54.5px,#92768a 56.5px,#93778b 83.5px,#776a82 85.5px,#364b6e 87.5px,#24416a 88.5px,#37417c 90.5px,#52488d 93.5px,#524d86 99.5px,#6e6283 101.5px,#8f748a 103.5px,#92768a 113.5px,#776785 115.5px,#4d4c82 117.5px,#554e89 123.5px,#897188 127.5px,#8b7388 138.5px,#716780 140.5px,#1a3e64 143.5px,#113a62 144.5px,#24406d 146.5px,#4d4f83 149.5px,#4c4f82 155.5px,#183d65 159.5px,#214267 160.5px,#7e6c84 163.5px,#92768a 165.5px,#927888 185.5px,#8b7685 186.5px,#55626f 188.5px,#1a4c56 190.5px,#0c4850 192.5px,#114853 210.5px,#204d5a 211.5px,#7f7081 214.5px,#937889 216.5px,#94778b 240.5px,#8c7488 241.5px,#575b77 243.5px,#364b6e 244.5px,#24416b 245.5px,#38417c 247.5px,#534a8d 250.5px,#494b91 256.5px,#5c54a2 260.5px,#58539d 272.5px,#2d4279 275.5px,#39417d 277.5px,#51488c 280.5px,#494a91 284.5px,#5b53a2 288.5px,#56519d 299.5px,#3d4482 302.5px,#404581 306.5px)"></i><i style="top:36px;background:linear-gradient(90deg,#0d3a60 0.5px,#1a3d6a 2.5px,#584c99 5.5px,#634ea2 8.5px,#6550a3 28.5px,#514a94 30.5px,#153c66 33.5px,#0c3a60 42.5px,#123c61 50.5px,#214366 51.5px,#826f83 54.5px,#957788 56.5px,#957788 83.5px,#776a7f 85.5px,#364c6d 87.5px,#25426a 88.5px,#39437c 90.5px,#51478b 93.5px,#524d85 99.5px,#917587 103.5px,#957788 113.5px,#786883 115.5px,#4f4e82 117.5px,#514a89 122.5px,#716384 125.5px,#8a7286 127.5px,#8d7486 138.5px,#71677e 140.5px,#1a4064 143.5px,#123c62 144.5px,#25426d 146.5px,#4c4f82 149.5px,#4c5081 155.5px,#183f65 159.5px,#234466 160.5px,#826f82 163.5px,#947688 165.5px,#957a86 185.5px,#776e7a 187.5px,#1a4d55 190.5px,#0c494f 192.5px,#114953 210.5px,#214f59 211.5px,#82727f 214.5px,#947986 216.5px,#967888 240.5px,#8d7486 241.5px,#575b76 243.5px,#364c6d 244.5px,#25426a 245.5px,#39437c 247.5px,#51488c 250.5px,#47498b 255.5px,#5952a0 259.5px,#5c55a1 271.5px,#2c4379 275.5px,#3a437d 277.5px,#51488b 280.5px,#4b4c91 284.5px,#5952a1 288.5px,#56519c 299.5px,#3e4682 302.5px,#3e4380 306.5px)"></i><i style="top:37px;background:linear-gradient(90deg,#0d3c60 0.5px,#1b3f6a 2.5px,#5c509b 5.5px,#6852a4 8.5px,#644fa2 28.5px,#524b94 30.5px,#163e67 33.5px,#0c3c60 38.5px,#123e61 50.5px,#224566 51.5px,#877281 54.5px,#9a7b87 56.5px,#957785 83.5px,#796b7e 85.5px,#384e6c 87.5px,#26456b 88.5px,#3b467d 90.5px,#524a8b 92.5px,#544f85 99.5px,#957886 103.5px,#957786 113.5px,#796981 115.5px,#525182 117.5px,#4f4988 122.5px,#746583 125.5px,#8e7484 127.5px,#8e7484 138.5px,#73687c 140.5px,#324c6a 142.5px,#1b4264 143.5px,#123e62 144.5px,#27446d 146.5px,#484f7e 148.5px,#4f5182 154.5px,#314772 157.5px,#194065 159.5px,#244666 160.5px,#857181 163.5px,#987986 165.5px,#957983 185.5px,#786f78 187.5px,#34575f 189.5px,#1b4f55 190.5px,#0d4a4f 192.5px,#124b53 210.5px,#225059 211.5px,#86757d 214.5px,#997c84 216.5px,#957786 240.5px,#796b7e 242.5px,#374e6c 244.5px,#26446a 245.5px,#2a4371 246.5px,#50498a 249.5px,#494b8b 255.5px,#5d55a1 259.5px,#5a53a0 271.5px,#2e4579 275.5px,#3c467e 277.5px,#50488a 279.5px,#4e4f92 284.5px,#5c54a1 287.5px,#59529f 298.5px,#404882 302.5px,#404680 306.5px)"></i><i style="top:38px;background:linear-gradient(90deg,#0d3e60 0.5px,#1b416a 2.5px,#5d509b 5.5px,#6c55a5 8.5px,#63519f 29.5px,#404a85 31.5px,#164067 33.5px,#0d3d60 39.5px,#134061 50.5px,#234765 51.5px,#87727f 54.5px,#9c7c84 56.5px,#997a84 83.5px,#7d6e7c 85.5px,#39506c 87.5px,#27466a 88.5px,#3b477c 90.5px,#534c8b 92.5px,#565285 99.5px,#76687f 101.5px,#987a84 103.5px,#977884 113.5px,#907582 114.5px,#525281 117.5px,#514c88 122.5px,#766681 125.5px,#907682 127.5px,#907582 138.5px,#766a7b 140.5px,#1b4463 143.5px,#123f62 144.5px,#27456c 146.5px,#515281 149.5px,#4c507f 155.5px,#1a4265 159.5px,#244766 160.5px,#87727f 163.5px,#9b7b84 165.5px,#977a81 185.5px,#90787e 186.5px,#7c7277 187.5px,#1b5054 190.5px,#0d4c4e 192.5px,#134c52 210.5px,#235258 211.5px,#87757b 214.5px,#9b7d82 216.5px,#987983 240.5px,#917682 241.5px,#5b5f74 243.5px,#39506c 244.5px,#27466a 245.5px,#2a4371 246.5px,#524b8a 249.5px,#494c8b 255.5px,#5f56a1 259.5px,#58549c 272.5px,#2f4779 275.5px,#3c477d 277.5px,#524b8a 279.5px,#4d4f92 284.5px,#5f56a1 288.5px,#58539c 299.5px,#404982 302.5px,#424980 306.5px)"></i><i style="top:39px;background:linear-gradient(90deg,#0d3f60 0.5px,#1b426a 2.5px,#5c4f9a 5.5px,#6c55a5 9.5px,#6755a1 29.5px,#174167 33.5px,#0d3f60 37.5px,#134261 50.5px,#234865 51.5px,#87717d 54.5px,#9a7a81 56.5px,#9d7d82 83.5px,#7f707b 85.5px,#39516b 87.5px,#27476a 88.5px,#2a4470 89.5px,#514a89 92.5px,#575284 99.5px,#75677d 101.5px,#977881 103.5px,#9b7b82 113.5px,#937780 114.5px,#51507f 117.5px,#544f88 122.5px,#766680 125.5px,#907580 127.5px,#937780 138.5px,#8c747e 139.5px,#575e71 141.5px,#1b4563 143.5px,#134162 144.5px,#26466c 146.5px,#4f527f 149.5px,#4e527e 155.5px,#1a4464 159.5px,#254966 160.5px,#87717d 163.5px,#9a7a81 165.5px,#9b7d7f 185.5px,#937a7c 186.5px,#7e7375 187.5px,#365a5d 189.5px,#1c5154 190.5px,#0d4d4e 192.5px,#134e52 210.5px,#245358 211.5px,#877479 214.5px,#9a7b7f 216.5px,#9c7c82 240.5px,#947980 241.5px,#5c6073 243.5px,#39516b 244.5px,#27476a 245.5px,#2a4470 246.5px,#514a89 249.5px,#4c4b88 254.5px,#4c4e91 256.5px,#5e56a0 260.5px,#5a559c 272.5px,#2f4779 275.5px,#2f4576 276.5px,#524b89 279.5px,#4c4e91 284.5px,#5e55a0 288.5px,#5a559c 299.5px,#3f4881 302.5px,#41487f 306.5px)"></i><i style="top:40px;background:linear-gradient(90deg,#0e4160 0.5px,#1c446b 2.5px,#5f519b 5.5px,#6a52a3 8.5px,#6e56a5 28.5px,#575095 30.5px,#174367 33.5px,#0d4160 37.5px,#134461 50.5px,#254b65 51.5px,#8b747b 54.5px,#9d7b7f 56.5px,#9d7c7f 83.5px,#94787d 84.5px,#5c6071 86.5px,#39526b 87.5px,#28496a 88.5px,#3c487b 90.5px,#514a88 92.5px,#544d87 98.5px,#625c7d 100.5px,#8d747d 102.5px,#9c7a7f 104.5px,#9d7c7f 113.5px,#7e6c7d 115.5px,#52527f 117.5px,#514c88 121.5px,#675d81 124.5px,#93777e 127.5px,#95787d 138.5px,#776c77 140.5px,#345168 142.5px,#1c4763 143.5px,#134362 144.5px,#28486c 146.5px,#49517b 148.5px,#53547f 154.5px,#324a71 157.5px,#1a4564 159.5px,#264b65 160.5px,#8b747b 163.5px,#9c7b7f 165.5px,#9d7e7d 185.5px,#947a7a 186.5px,#7e7273 187.5px,#1c5353 190.5px,#0d4f4d 193.5px,#0e4e4f 209.5px,#255557 211.5px,#8a7777 214.5px,#9c7c7d 216.5px,#9d7c7f 240.5px,#94787d 241.5px,#7e6e78 242.5px,#39526b 244.5px,#27496a 245.5px,#3c487b 247.5px,#514a88 249.5px,#4c4b88 254.5px,#5c549f 259.5px,#5e569f 271.5px,#2f4879 275.5px,#3d487c 277.5px,#534b89 280.5px,#4f5091 284.5px,#5b549f 288.5px,#5e569f 298.5px,#404a81 302.5px,#40477e 306.5px)"></i><i style="top:41px;background:linear-gradient(90deg,#0e4360 0.5px,#1e466b 2.5px,#63559c 5.5px,#6f56a5 8.5px,#6e55a5 27.5px,#585095 30.5px,#174467 33.5px,#0d4360 37.5px,#144561 50.5px,#264d64 51.5px,#8f787a 54.5px,#a27f7d 56.5px,#9c7a7d 83.5px,#94777b 84.5px,#5e6270 86.5px,#3b546a 87.5px,#294b6a 88.5px,#2d4871 89.5px,#544d88 92.5px,#544c86 98.5px,#655e7d 100.5px,#92777c 102.5px,#9f7d7d 104.5px,#9c7b7d 113.5px,#7f6d7b 115.5px,#55547f 117.5px,#524c85 122.5px,#695e80 124.5px,#8f767c 126.5px,#997a7c 129.5px,#95787b 138.5px,#7a6e76 140.5px,#1c4963 143.5px,#144562 144.5px,#2a4b6c 146.5px,#4d547b 148.5px,#50527d 154.5px,#344c70 157.5px,#1c4764 159.5px,#284d65 160.5px,#8f787a 163.5px,#a17f7d 165.5px,#9c7c7a 185.5px,#947a78 186.5px,#7f7371 187.5px,#1d5452 190.5px,#0e504d 192.5px,#145151 210.5px,#265657 211.5px,#8e7975 214.5px,#a07f7b 216.5px,#9c7a7d 240.5px,#7e6f77 242.5px,#3b546a 244.5px,#294b6a 245.5px,#2d4871 246.5px,#4d4c84 248.5px,#514a87 253.5px,#535492 256.5px,#6158a0 259.5px,#5b549e 271.5px,#3d4e84 274.5px,#314a79 275.5px,#3f4a7d 277.5px,#524b87 279.5px,#4c4f8a 283.5px,#6057a0 287.5px,#57539a 299.5px,#434c81 302.5px,#424a7e 306.5px)"></i><i style="top:42px;background:linear-gradient(90deg,#0e4460 0.5px,#1e476b 2.5px,#63549c 5.5px,#7258a6 8.5px,#7359a6 18.5px,#6955a0 29.5px,#444f86 31.5px,#184667 33.5px,#0d4460 36.5px,#144761 50.5px,#264e64 51.5px,#8f7777 54.5px,#a3807b 56.5px,#a07d7a 83.5px,#997b79 84.5px,#837375 85.5px,#3d5669 87.5px,#294c69 88.5px,#2d4970 89.5px,#554d87 92.5px,#564f86 98.5px,#665f7c 100.5px,#937779 102.5px,#a27f7b 104.5px,#9e7b7b 113.5px,#96787a 114.5px,#55547e 117.5px,#544e84 122.5px,#7e6c7b 125.5px,#9a7c7a 127.5px,#987a79 138.5px,#7e7174 140.5px,#375567 142.5px,#1d4b62 143.5px,#144661 144.5px,#294b6b 146.5px,#4d547a 148.5px,#55557d 151.5px,#465277 156.5px,#1c4964 159.5px,#284f65 160.5px,#907877 163.5px,#a4807b 165.5px,#9f7e78 185.5px,#987d76 186.5px,#83776f 187.5px,#1e5652 190.5px,#0e514c 192.5px,#0f514e 209.5px,#275856 211.5px,#8e7973 214.5px,#a28079 216.5px,#9e7c7a 240.5px,#977a79 241.5px,#827275 242.5px,#3c5669 244.5px,#294c69 245.5px,#2d4970 246.5px,#554e88 249.5px,#4d508a 255.5px,#635aa0 259.5px,#5c579b 272.5px,#324c79 275.5px,#324a76 276.5px,#544d87 279.5px,#515291 284.5px,#6259a0 287.5px,#5b569b 299.5px,#434c80 302.5px,#444c7e 306.5px)"></i><i style="top:43px;background:linear-gradient(90deg,#0e4660 0.5px,#1e486b 2.5px,#61529b 5.5px,#7056a4 8.5px,#6d58a1 29.5px,#184867 33.5px,#0d4660 36.5px,#144961 50.5px,#264f64 51.5px,#8d7475 54.5px,#a07c78 56.5px,#a17c78 69.5px,#a48178 83.5px,#9c7d77 84.5px,#857473 85.5px,#3d5769 87.5px,#294d69 88.5px,#2c486f 89.5px,#534b85 92.5px,#5a5480 99.5px,#7b6a77 101.5px,#9d7b78 103.5px,#a17e78 113.5px,#997a78 114.5px,#53527c 117.5px,#565084 122.5px,#7c6a79 125.5px,#987977 127.5px,#9b7b77 134.5px,#9d7e77 138.5px,#957b76 139.5px,#7f7272 140.5px,#375666 142.5px,#1d4c62 143.5px,#144861 144.5px,#284b6a 146.5px,#51547b 149.5px,#52567b 155.5px,#234b68 158.5px,#1c4a64 159.5px,#284f64 160.5px,#8e7575 163.5px,#a17d78 165.5px,#a48276 185.5px,#9c8073 186.5px,#86786d 187.5px,#3a6059 189.5px,#1e5751 190.5px,#0f534c 192.5px,#155350 210.5px,#275855 211.5px,#8d7771 214.5px,#a07d76 216.5px,#a27f78 240.5px,#9a7c77 241.5px,#847373 242.5px,#3c5769 244.5px,#294c69 245.5px,#2c486f 246.5px,#534c85 249.5px,#544e87 253.5px,#4d5090 256.5px,#61589f 260.5px,#62599f 270.5px,#5e599b 272.5px,#314b78 275.5px,#314975 276.5px,#544c86 279.5px,#4d5090 284.5px,#60579f 288.5px,#5d579b 299.5px,#414b7f 302.5px,#434b7d 306.5px)"></i><i style="top:44px;background:linear-gradient(90deg,#0e4860 0.5px,#1f4b6c 2.5px,#66569c 5.5px,#6f55a3 8.5px,#7257a4 18.5px,#7359a5 28.5px,#5b5395 30.5px,#184967 33.5px,#0d485f 38.5px,#0f4860 49.5px,#154b61 50.5px,#285163 51.5px,#907773 54.5px,#9f7c76 55.5px,#a57f76 70.5px,#a47f76 83.5px,#9a7b75 84.5px,#60656c 86.5px,#3c5768 87.5px,#2a4e69 88.5px,#2e4b70 89.5px,#4d4b81 91.5px,#564e83 98.5px,#675e78 100.5px,#937675 102.5px,#a27c76 105.5px,#a37f76 113.5px,#826e76 115.5px,#54537b 117.5px,#524d83 121.5px,#6b5f7b 124.5px,#907575 126.5px,#a18075 134.5px,#9e7e75 138.5px,#947974 139.5px,#5b636b 141.5px,#1d4d62 143.5px,#144a61 144.5px,#2a4d6a 146.5px,#495277 148.5px,#56587b 154.5px,#334e6e 157.5px,#1c4c63 159.5px,#295264 160.5px,#917773 163.5px,#a17c76 165.5px,#a47f75 176.5px,#a58273 185.5px,#9b7e71 186.5px,#84766b 187.5px,#1e5851 190.5px,#0f544c 192.5px,#10534d 209.5px,#165550 210.5px,#295a55 211.5px,#90796f 214.5px,#a17d74 216.5px,#a37e76 240.5px,#997a75 241.5px,#5f646c 243.5px,#3c5768 244.5px,#2a4e69 245.5px,#3e4b79 247.5px,#524a84 249.5px,#534d85 253.5px,#4f5190 256.5px,#5b549d 260.5px,#645a9f 270.5px,#4c5291 273.5px,#304c78 275.5px,#3f4a7a 277.5px,#544b85 280.5px,#505290 284.5px,#5b549d 288.5px,#60589e 298.5px,#414b7e 302.5px,#41487a 306.5px)"></i><i style="top:45px;background:linear-gradient(90deg,#0f4a60 0.5px,#214d6c 2.5px,#6e5c9f 5.5px,#795da7 7.5px,#7559a5 15.5px,#7357a4 27.5px,#6a559f 29.5px,#465185 31.5px,#194b67 33.5px,#0e495f 36.5px,#0f4a60 49.5px,#295463 51.5px,#967b72 54.5px,#a78174 56.5px,#a98274 67.5px,#a47d74 82.5px,#997973 84.5px,#61666b 86.5px,#3e5968 87.5px,#2c5169 88.5px,#314f70 89.5px,#525182 91.5px,#564d81 98.5px,#6b6277 100.5px,#987a73 102.5px,#a57e74 104.5px,#a27c74 113.5px,#836e74 115.5px,#58577b 117.5px,#534d80 122.5px,#6e6179 124.5px,#967b74 126.5px,#a07e73 128.5px,#9c7b73 138.5px,#7f716f 140.5px,#1e4f62 143.5px,#154c61 144.5px,#2d506b 146.5px,#4f5777 148.5px,#4d5377 155.5px,#1d4e63 159.5px,#2b5464 160.5px,#977c72 163.5px,#a88174 165.5px,#a98274 173.5px,#a37e71 185.5px,#84756a 187.5px,#1f5950 190.5px,#10554b 192.5px,#11554d 209.5px,#17564f 210.5px,#2a5c54 211.5px,#957c6d 214.5px,#a68172 216.5px,#a47d74 239.5px,#987873 241.5px,#837170 242.5px,#3e5968 244.5px,#2b5169 245.5px,#304e70 246.5px,#504f81 248.5px,#524b83 253.5px,#535590 256.5px,#5f579e 259.5px,#62589e 265.5px,#5f579e 270.5px,#4c5290 273.5px,#324e78 275.5px,#424e7a 277.5px,#544c83 279.5px,#505289 283.5px,#62599e 287.5px,#5f579e 292.5px,#5f579e 297.5px,#485186 301.5px,#434b7a 306.5px)"></i><i style="top:46px;background:linear-gradient(90deg,#0f4b60 0.5px,#224f6c 2.5px,#705d9e 5.5px,#7f61a7 7.5px,#7659a4 17.5px,#7458a3 25.5px,#725ba0 29.5px,#4b5787 31.5px,#1a4d67 33.5px,#0e4b5f 36.5px,#0f4c5f 49.5px,#164e60 50.5px,#2a5562 51.5px,#987b70 54.5px,#ab8273 56.5px,#a98073 69.5px,#a87f73 78.5px,#9e7c71 84.5px,#89766f 85.5px,#405c67 87.5px,#2d5268 88.5px,#435079 90.5px,#5c5385 92.5px,#5b5282 98.5px,#6f6477 100.5px,#9b7b72 102.5px,#aa8173 104.5px,#a37b73 113.5px,#877173 115.5px,#59587a 117.5px,#564f80 122.5px,#867175 125.5px,#a48172 127.5px,#987b70 139.5px,#84756e 140.5px,#1f5161 143.5px,#154d61 144.5px,#2d516a 146.5px,#525977 148.5px,#565779 151.5px,#485574 156.5px,#1e5063 159.5px,#2c5563 160.5px,#997c70 163.5px,#ad8473 165.5px,#aa8172 175.5px,#a88071 182.5px,#9e7e6e 186.5px,#8a7969 187.5px,#215a4f 190.5px,#10554a 192.5px,#11554c 209.5px,#2b5c54 211.5px,#977c6c 214.5px,#aa8271 216.5px,#aa8073 229.5px,#9d7b71 241.5px,#88756f 242.5px,#405b67 244.5px,#2c5268 245.5px,#314f6f 246.5px,#535181 248.5px,#574d83 252.5px,#545590 256.5px,#63599e 259.5px,#5a5699 272.5px,#345078 275.5px,#434f7a 277.5px,#584f84 279.5px,#515389 283.5px,#685d9f 287.5px,#5d559d 297.5px,#565691 300.5px,#474f7c 303.5px,#464e7b 306.5px)"></i><i style="top:47px;background:linear-gradient(90deg,#0f4d5f 0.5px,#214f6b 2.5px,#6b589b 5.5px,#8061a6 9.5px,#7759a2 16.5px,#795ba3 26.5px,#7a61a2 29.5px,#4e5986 31.5px,#1a4f66 33.5px,#0e4d5e 37.5px,#0f4d5e 49.5px,#164f5f 50.5px,#2a5562 51.5px,#95766f 54.5px,#a97d71 56.5px,#aa7f71 66.5px,#ab8071 81.5px,#a48070 84.5px,#8d786d 85.5px,#415c66 87.5px,#2c5267 88.5px,#404c77 90.5px,#595083 92.5px,#5f5682 98.5px,#6e6276 100.5px,#a67d71 103.5px,#aa7f71 108.5px,#a97f71 113.5px,#a07c71 114.5px,#575578 117.5px,#5b5380 122.5px,#846d74 125.5px,#a17c71 127.5px,#a78170 132.5px,#a47e70 137.5px,#9e7f6f 139.5px,#88776d 140.5px,#3b5c64 142.5px,#1f5260 143.5px,#154e60 144.5px,#2a4f68 146.5px,#575877 149.5px,#565977 155.5px,#1e5062 159.5px,#2c5662 160.5px,#96776f 163.5px,#ab7f71 165.5px,#ac8071 172.5px,#ac836f 185.5px,#a5826d 186.5px,#8e7b68 187.5px,#3f6356 189.5px,#215a4f 190.5px,#11554a 192.5px,#12554c 209.5px,#2c5b53 211.5px,#95776b 214.5px,#a97e70 216.5px,#a77b71 226.5px,#aa8071 240.5px,#a27e70 241.5px,#8b766d 242.5px,#415c66 244.5px,#2c5267 245.5px,#404c77 247.5px,#595083 249.5px,#5a5284 253.5px,#50528f 256.5px,#63589e 260.5px,#61579e 270.5px,#5f599a 272.5px,#334f77 275.5px,#344d73 276.5px,#595083 279.5px,#4f5188 283.5px,#655a9e 287.5px,#64599e 292.5px,#60579e 296.5px,#635b9a 299.5px,#444e7c 302.5px,#464e7a 306.5px)"></i><i style="top:48px;background:linear-gradient(90deg,#0f4e5e 0.5px,#22506a 2.5px,#6a5799 5.5px,#8665a6 14.5px,#7758a1 22.5px,#8364a4 28.5px,#675b95 30.5px,#1a5065 33.5px,#0e4e5e 37.5px,#104f5e 49.5px,#17515f 50.5px,#2b5761 51.5px,#97756e 54.5px,#a77970 56.5px,#af8170 68.5px,#a97b70 76.5px,#ae8170 83.5px,#a37c6f 84.5px,#8b746c 85.5px,#415b65 87.5px,#2d5366 88.5px,#404c75 90.5px,#594c81 93.5px,#5e5380 98.5px,#6d6074 100.5px,#997470 102.5px,#ab7c70 105.5px,#ad8070 113.5px,#896e71 115.5px,#575377 117.5px,#544d7f 120.5px,#63577c 123.5px,#9e766f 127.5px,#aa826f 134.5px,#a9836f 138.5px,#9f7d6e 139.5px,#616767 141.5px,#1f5360 143.5px,#154f5f 144.5px,#2a5067 146.5px,#515374 149.5px,#5d5c78 154.5px,#485571 156.5px,#245065 158.5px,#1e5161 159.5px,#2d5762 160.5px,#96756e 163.5px,#a87970 165.5px,#b08270 174.5px,#aa7c6f 180.5px,#b0846e 185.5px,#a6806c 186.5px,#8d7767 187.5px,#3f6055 189.5px,#22594e 190.5px,#125549 192.5px,#13544b 209.5px,#1a564d 210.5px,#2e5b52 211.5px,#97766a 214.5px,#a7796e 216.5px,#ad7f70 227.5px,#ab7c70 235.5px,#ac8070 240.5px,#a27b6f 241.5px,#8a736c 242.5px,#405b65 244.5px,#2d5266 245.5px,#304e6d 246.5px,#564b80 249.5px,#595183 253.5px,#50518f 256.5px,#5d549d 260.5px,#665a9e 270.5px,#5d579a 272.5px,#324f77 275.5px,#414b77 277.5px,#5a4f82 280.5px,#50518f 284.5px,#64599e 289.5px,#6b5e9f 297.5px,#555590 300.5px,#444d7b 302.5px,#444b77 306.5px)"></i><i style="top:49px;background:linear-gradient(90deg,#10505e 0.5px,#25546b 2.5px,#77619b 5.5px,#7f5fa2 7.5px,#7b5aa1 12.5px,#8766a4 18.5px,#8261a3 22.5px,#8261a3 27.5px,#73599c 29.5px,#1a5164 33.5px,#0e505d 37.5px,#10505d 49.5px,#18535e 50.5px,#2e5a60 51.5px,#817569 53.5px,#a17f6d 54.5px,#b0826e 55.5px,#ae7c6f 64.5px,#b2816f 71.5px,#ae7d6f 82.5px,#a0766e 84.5px,#666767 86.5px,#425d65 87.5px,#2f5566 88.5px,#475277 90.5px,#5a4f80 92.5px,#5b4f7d 98.5px,#736573 100.5px,#a37c6f 102.5px,#ad7c6f 104.5px,#b0806f 112.5px,#a0766f 114.5px,#5c5777 117.5px,#544b7d 121.5px,#62557a 123.5px,#9c776f 126.5px,#a97e6e 132.5px,#af846e 136.5px,#9b766d 139.5px,#616666 141.5px,#1f545f 143.5px,#16515f 144.5px,#2e5367 146.5px,#4d5472 148.5px,#595875 154.5px,#1f5361 159.5px,#305a61 160.5px,#a07e6d 163.5px,#ae806e 164.5px,#ad7c6f 170.5px,#b4836e 176.5px,#b2816d 184.5px,#a2786b 186.5px,#8b7266 187.5px,#22584d 190.5px,#125449 192.5px,#13544b 209.5px,#1b574d 210.5px,#315d52 211.5px,#a17e69 214.5px,#b1806d 216.5px,#ad7b6e 223.5px,#af7e6f 230.5px,#ae7c6f 239.5px,#a0766e 241.5px,#666667 243.5px,#425c65 244.5px,#2f5566 245.5px,#455176 247.5px,#584c7f 249.5px,#525287 255.5px,#60559d 259.5px,#63579e 270.5px,#4d5290 273.5px,#355277 275.5px,#475178 277.5px,#584c7f 279.5px,#525287 283.5px,#60569d 287.5px,#64589e 291.5px,#6c5e9f 296.5px,#52538f 300.5px,#4a507a 303.5px,#454c76 306.5px)"></i><i style="top:50px;background:linear-gradient(90deg,#10525d 0.5px,#27576a 2.5px,#80699c 5.5px,#8d6ba4 7.5px,#7b599f 14.5px,#8d6aa4 21.5px,#775b9b 29.5px,#515b83 31.5px,#1c5464 33.5px,#0f525d 35.5px,#10525d 49.5px,#19555e 50.5px,#305d60 51.5px,#877968 53.5px,#a9856c 54.5px,#bd8b6e 56.5px,#ad796e 66.5px,#b7846e 76.5px,#a67a6c 84.5px,#91776a 85.5px,#466164 87.5px,#325966 88.5px,#38566e 89.5px,#5c587f 91.5px,#5f5081 94.5px,#5b4c7e 97.5px,#695c79 99.5px,#ac836d 102.5px,#b8856e 104.5px,#af7a6e 109.5px,#a3776e 114.5px,#615c77 117.5px,#594d7b 122.5px,#786474 124.5px,#a37d6e 126.5px,#ad806d 128.5px,#a7796d 133.5px,#a7796d 137.5px,#9c766c 139.5px,#897269 140.5px,#21575f 143.5px,#17535e 144.5px,#305567 146.5px,#535972 148.5px,#535372 153.5px,#47546e 156.5px,#275464 158.5px,#215660 159.5px,#325d60 160.5px,#a9846c 163.5px,#bb896e 165.5px,#ad796e 172.5px,#ba876c 179.5px,#a5796a 186.5px,#917665 187.5px,#24594d 190.5px,#135448 192.5px,#14544a 209.5px,#1c574c 210.5px,#335e51 211.5px,#a98468 214.5px,#bb896c 216.5px,#ad786d 225.5px,#b3806e 235.5px,#a5796c 241.5px,#91766a 242.5px,#466164 244.5px,#325866 245.5px,#37556d 246.5px,#5a557e 248.5px,#584d7f 253.5px,#5d5a91 256.5px,#695b9f 259.5px,#5f549d 265.5px,#5d549c 271.5px,#535691 273.5px,#3a5677 275.5px,#3d5674 276.5px,#5b557e 278.5px,#575182 282.5px,#6a5c9f 287.5px,#60559d 292.5px,#64589e 296.5px,#575790 300.5px,#50567b 303.5px,#4c5378 306.5px)"></i><i style="top:51px;background:linear-gradient(90deg,#10535d 0.5px,#27576a 2.5px,#7d659a 5.5px,#906ca3 7.5px,#8864a1 13.5px,#7e5b9f 17.5px,#8c68a2 21.5px,#7f5b9f 26.5px,#85689d 29.5px,#766794 30.5px,#1d5664 33.5px,#0f535c 35.5px,#11545c 49.5px,#19565d 50.5px,#305d5f 51.5px,#a77f6a 54.5px,#bd896c 56.5px,#bb866c 63.5px,#af776c 69.5px,#b6806c 75.5px,#b0796c 80.5px,#b9856c 83.5px,#b3866b 84.5px,#9b8069 85.5px,#496463 87.5px,#335965 88.5px,#37546c 89.5px,#5c557d 91.5px,#675882 94.5px,#67597f 98.5px,#7c6a73 100.5px,#ac806c 102.5px,#be8a6c 104.5px,#ae776c 111.5px,#ad7f6d 114.5px,#615b76 117.5px,#5f537c 122.5px,#7b6474 124.5px,#a37a6c 126.5px,#b2826b 129.5px,#a6756b 136.5px,#a47c6a 139.5px,#8f7868 140.5px,#21585e 143.5px,#17545e 144.5px,#2f5565 146.5px,#535870 148.5px,#5b5873 151.5px,#4c586e 156.5px,#285663 158.5px,#22575f 159.5px,#325d60 160.5px,#a77f6a 163.5px,#be896c 165.5px,#ba846c 170.5px,#b17a6c 175.5px,#b9836b 179.5px,#b0796b 183.5px,#b18369 186.5px,#9b7e64 187.5px,#265a4c 190.5px,#145447 192.5px,#155449 209.5px,#1d564c 210.5px,#335d50 211.5px,#a77f67 214.5px,#bd886b 216.5px,#b7816c 223.5px,#af776c 228.5px,#b47e6c 233.5px,#b17a6c 238.5px,#b1846b 241.5px,#9a7e69 242.5px,#496463 244.5px,#325965 245.5px,#36546c 246.5px,#635581 249.5px,#575788 255.5px,#6c5c9f 259.5px,#5f549d 269.5px,#645b9a 272.5px,#3a5677 275.5px,#4c5577 277.5px,#655781 279.5px,#585888 283.5px,#6d5d9f 287.5px,#60549d 296.5px,#655b9a 299.5px,#4d557c 302.5px,#515779 306.5px)"></i><i style="top:52px;background:linear-gradient(90deg,#10555c 0.5px,#255568 2.5px,#735a96 5.5px,#926ca1 10.5px,#936ea2 14.5px,#7f5a9d 19.5px,#88639f 25.5px,#9470a1 28.5px,#8d6e9e 29.5px,#586182 31.5px,#1d5763 33.5px,#0f555b 35.5px,#11555b 49.5px,#19575c 50.5px,#2f5b5e 51.5px,#9f7369 54.5px,#b47b6b 56.5px,#c48e6b 64.5px,#b0766b 72.5px,#b67c6b 78.5px,#c28d6b 83.5px,#b8896a 84.5px,#9d7f68 85.5px,#486362 87.5px,#315863 88.5px,#34516a 89.5px,#5f4f7d 92.5px,#6a5a7f 98.5px,#776271 100.5px,#b27b6b 103.5px,#c28a6b 107.5px,#b9806b 111.5px,#be886b 113.5px,#b3846b 114.5px,#5d5573 117.5px,#5d527d 120.5px,#6c5a79 123.5px,#a8766a 127.5px,#b3816a 132.5px,#ae7b6a 136.5px,#b2816a 138.5px,#a97f69 139.5px,#907767 140.5px,#3f6060 142.5px,#21595d 143.5px,#17555d 144.5px,#2c5364 146.5px,#565570 149.5px,#5d5a72 154.5px,#4d586d 156.5px,#275562 158.5px,#21575f 159.5px,#315b5f 160.5px,#9f7369 163.5px,#b67d6b 165.5px,#c28b6b 171.5px,#b1776a 177.5px,#b77e6a 182.5px,#c18b69 185.5px,#b88867 186.5px,#9e7f63 187.5px,#476252 189.5px,#26594b 190.5px,#145447 192.5px,#155449 209.5px,#1d564b 210.5px,#335a50 211.5px,#9f7266 214.5px,#b57b6a 216.5px,#c38c6a 223.5px,#b0756b 231.5px,#b67d6b 236.5px,#c18b6b 240.5px,#b7886a 241.5px,#9c7e68 242.5px,#486262 244.5px,#315763 245.5px,#33506a 246.5px,#5f507d 249.5px,#635681 253.5px,#53528f 256.5px,#68599e 260.5px,#6a5b9f 265.5px,#695a9f 269.5px,#675c9b 272.5px,#375375 275.5px,#474e74 277.5px,#685881 280.5px,#54538f 284.5px,#6a5b9f 288.5px,#695a9f 293.5px,#685c9a 299.5px,#484f79 302.5px,#4e5376 306.5px)"></i><i style="top:53px;background:linear-gradient(90deg,#11565c 0.5px,#275868 2.5px,#765c95 5.5px,#855f9d 10.5px,#9a73a1 15.5px,#835d9d 21.5px,#9a73a1 26.5px,#86669b 29.5px,#1c5762 33.5px,#0f565b 36.5px,#11575b 49.5px,#1a585c 50.5px,#315d5e 51.5px,#836e65 53.5px,#a27368 54.5px,#b1736a 56.5px,#bd816a 62.5px,#c78e6a 68.5px,#b5776a 74.5px,#c88f6a 80.5px,#be8569 83.5px,#b17d69 84.5px,#6d6963 86.5px,#465f61 87.5px,#315863 88.5px,#474f72 90.5px,#5d4b7b 93.5px,#67557e 97.5px,#685675 99.5px,#a37069 102.5px,#c68c6a 109.5px,#bf876a 113.5px,#b07d6a 114.5px,#715f6e 116.5px,#5c5372 117.5px,#594c79 120.5px,#6b5877 123.5px,#9d6d6a 126.5px,#b78369 134.5px,#b27f69 138.5px,#a67868 139.5px,#8c6f66 140.5px,#3d5e5f 142.5px,#21595c 143.5px,#17575c 144.5px,#2f5564 146.5px,#4d526c 148.5px,#5e5a70 154.5px,#49556b 156.5px,#255561 158.5px,#21585e 159.5px,#325d5e 160.5px,#a17268 163.5px,#b0726a 165.5px,#c78d69 173.5px,#b77969 179.5px,#c78d69 183.5px,#c18768 185.5px,#b37f66 186.5px,#987462 187.5px,#445e51 189.5px,#26574b 190.5px,#155346 192.5px,#165448 209.5px,#1e564a 210.5px,#355b4f 211.5px,#846c5f 213.5px,#a27265 214.5px,#b07269 216.5px,#c68d6a 226.5px,#b4776a 232.5px,#c68d6a 238.5px,#b17d69 241.5px,#6d6963 243.5px,#455f61 244.5px,#315763 245.5px,#454e71 247.5px,#5f4c7c 250.5px,#5f517e 253.5px,#525185 255.5px,#5e529d 259.5px,#705e9f 268.5px,#61589a 272.5px,#365275 275.5px,#464d72 277.5px,#63517e 280.5px,#545285 283.5px,#5f539d 287.5px,#715fa0 295.5px,#635899 299.5px,#484f78 302.5px,#484c73 306.5px)"></i><i style="top:54px;background:linear-gradient(90deg,#11585b 0.5px,#185a5f 1.5px,#2c5e68 2.5px,#716a8b 4.5px,#8a6e98 5.5px,#91699e 7.5px,#835b9c 12.5px,#9e76a0 18.5px,#9b72a0 25.5px,#7c5b97 29.5px,#515a7f 31.5px,#1d5961 33.5px,#10585a 35.5px,#12585a 49.5px,#1b5b5b 50.5px,#35625d 51.5px,#8e7964 53.5px,#b08167 54.5px,#be8368 55.5px,#b57468 63.5px,#cd9168 70.5px,#c98d68 75.5px,#c98c68 79.5px,#a97067 84.5px,#926d65 85.5px,#486161 87.5px,#355c63 88.5px,#3c596b 89.5px,#5f567a 91.5px,#5f4b7a 97.5px,#6b5873 99.5px,#af7b68 102.5px,#b77768 104.5px,#b87768 107.5px,#c68968 111.5px,#a97169 114.5px,#635973 117.5px,#594a77 121.5px,#695574 123.5px,#a87768 126.5px,#ab7167 129.5px,#b77f67 136.5px,#a16f67 139.5px,#8b6b65 140.5px,#225b5c 143.5px,#19595c 144.5px,#355b64 146.5px,#575a6d 148.5px,#58556e 154.5px,#395665 157.5px,#285860 158.5px,#245b5d 159.5px,#36625d 160.5px,#8d7864 162.5px,#ae7f67 163.5px,#bc8068 164.5px,#b37268 169.5px,#ca8e68 176.5px,#c58767 183.5px,#ab7265 186.5px,#6f6559 188.5px,#27574a 190.5px,#165346 192.5px,#175448 209.5px,#20574a 210.5px,#395e4f 211.5px,#8e765e 213.5px,#af7e64 214.5px,#bd7e67 216.5px,#b57368 222.5px,#cb8f68 228.5px,#c78b68 233.5px,#c58868 237.5px,#a97067 241.5px,#926c65 242.5px,#476061 244.5px,#345b63 245.5px,#3a576a 246.5px,#5b5179 248.5px,#5b4b7b 253.5px,#5e5890 256.5px,#65569e 259.5px,#62549e 263.5px,#705d9f 268.5px,#5b5399 272.5px,#395675 275.5px,#4c5273 277.5px,#5c4b7a 279.5px,#595585 283.5px,#695a9d 286.5px,#64569e 291.5px,#715ea0 295.5px,#5d5498 299.5px,#4f5579 302.5px,#4a4e72 306.5px)"></i><i style="top:55px;background:linear-gradient(90deg,#125a5a 0.5px,#1a5c5e 1.5px,#2f6168 2.5px,#7a728b 4.5px,#967998 5.5px,#a47b9f 7.5px,#845a9b 14.5px,#a47a9f 21.5px,#855b9b 27.5px,#856398 29.5px,#79678f 30.5px,#205c61 33.5px,#105959 35.5px,#125a59 49.5px,#1c5d5a 50.5px,#38645c 51.5px,#957f63 53.5px,#b98965 54.5px,#cd8e67 56.5px,#b67167 66.5px,#d19367 73.5px,#c28167 78.5px,#b67167 82.5px,#b27866 84.5px,#9d7864 85.5px,#4e6760 87.5px,#396063 88.5px,#415d6b 89.5px,#685e7c 91.5px,#6e597e 93.5px,#624e79 97.5px,#756175 99.5px,#b98367 102.5px,#c48367 104.5px,#b67267 108.5px,#b87467 112.5px,#ac7268 114.5px,#6a5f73 117.5px,#5c4d77 121.5px,#6d5773 123.5px,#b07e67 126.5px,#b97f66 128.5px,#ad6f66 133.5px,#ab6f66 138.5px,#a67165 139.5px,#937264 140.5px,#245e5b 143.5px,#1a5b5b 144.5px,#395e63 146.5px,#61616d 148.5px,#625c6e 150.5px,#55516c 154.5px,#4f596a 156.5px,#2d5c60 158.5px,#265e5d 159.5px,#39645d 160.5px,#947d63 162.5px,#b88765 163.5px,#ca8b67 165.5px,#b67167 172.5px,#d09166 178.5px,#c07d66 182.5px,#b57266 185.5px,#b07464 186.5px,#9c7460 187.5px,#295849 190.5px,#175345 192.5px,#185447 209.5px,#215749 210.5px,#3b5f4e 211.5px,#957b5d 213.5px,#b78563 214.5px,#c78a65 215.5px,#bc7966 221.5px,#b67167 225.5px,#cf9067 231.5px,#c58467 235.5px,#b57067 239.5px,#b07666 241.5px,#9b7564 242.5px,#4d6660 244.5px,#385e62 245.5px,#3e5a6a 246.5px,#63587a 248.5px,#5f4e7b 253.5px,#655d90 256.5px,#715d9f 259.5px,#62539e 265.5px,#61569a 272.5px,#3f5975 275.5px,#515674 277.5px,#624f7a 279.5px,#5d527e 282.5px,#74609e 286.5px,#64559e 293.5px,#635799 299.5px,#575977 303.5px,#535674 306.5px)"></i><i style="top:56px;background:linear-gradient(90deg,#145a58 0.5px,#1b5c5c 1.5px,#2f5f66 2.5px,#917296 5.5px,#a77b9e 7.5px,#a77c9e 11.5px,#875c9a 17.5px,#9a6e9c 21.5px,#885c9a 25.5px,#9b7799 29.5px,#8a7690 30.5px,#235e5f 33.5px,#135a57 35.5px,#145b57 49.5px,#1e5d58 50.5px,#38625a 51.5px,#917662 53.5px,#b47f64 54.5px,#c68566 55.5px,#cf8c66 61.5px,#b76e66 69.5px,#c88466 74.5px,#b76e66 79.5px,#c78566 83.5px,#c18765 84.5px,#a98263 85.5px,#526a5e 87.5px,#3b5f60 88.5px,#405a68 89.5px,#725d7d 92.5px,#755f7b 98.5px,#896b6e 100.5px,#c58366 103.5px,#c37d66 107.5px,#b56d66 111.5px,#bd7866 113.5px,#b77b67 114.5px,#6a5d71 117.5px,#695577 122.5px,#87656f 124.5px,#af7866 126.5px,#be8065 129.5px,#ac6a65 135.5px,#b07a64 139.5px,#9b7862 140.5px,#265e59 143.5px,#1c5b59 144.5px,#375b61 146.5px,#605e6b 148.5px,#6c616e 150.5px,#60586c 154.5px,#595f69 156.5px,#305d5e 158.5px,#285d5b 159.5px,#3a625b 160.5px,#b47e64 163.5px,#cb8866 165.5px,#c78266 170.5px,#b66e66 174.5px,#c78266 178.5px,#b76e66 182.5px,#be8163 186.5px,#a87e5f 187.5px,#2b5948 190.5px,#1b5445 191.5px,#195346 209.5px,#225648 210.5px,#3b5c4d 211.5px,#b37c62 214.5px,#c98565 216.5px,#cb8666 221.5px,#b56c66 227.5px,#c78266 232.5px,#b66d66 236.5px,#c38066 240.5px,#be8365 241.5px,#a67f63 242.5px,#51685e 244.5px,#395e60 245.5px,#3e5867 246.5px,#635678 248.5px,#6c557c 251.5px,#605986 255.5px,#745e9e 259.5px,#66549d 265.5px,#65539d 269.5px,#6c5c9a 272.5px,#415973 275.5px,#42566e 276.5px,#68537a 279.5px,#5f5885 283.5px,#78609f 287.5px,#6a579d 292.5px,#65539d 296.5px,#6f5d98 299.5px,#555877 302.5px,#595a74 306.5px)"></i><i style="top:57px;background:linear-gradient(90deg,#165b55 0.5px,#2e5b63 2.5px,#805f92 5.5px,#a97c9c 10.5px,#ac7f9d 14.5px,#895c99 19.5px,#92659a 24.5px,#ad819c 28.5px,#a57f98 29.5px,#8d778e 30.5px,#41636a 32.5px,#255e5c 33.5px,#155b54 35.5px,#175b55 49.5px,#205c55 50.5px,#375e58 51.5px,#886660 53.5px,#a76b64 54.5px,#bd7265 56.5px,#d38d65 63.5px,#be7365 69.5px,#b76a65 75.5px,#d08c65 83.5px,#c58864 84.5px,#a97f62 85.5px,#51655c 87.5px,#395b5d 88.5px,#3c5464 89.5px,#695278 92.5px,#7a617e 96.5px,#785e73 99.5px,#966566 101.5px,#ba7165 103.5px,#cc8465 107.5px,#c27865 111.5px,#c88165 113.5px,#bc7e66 114.5px,#7b6069 116.5px,#64546d 117.5px,#675477 120.5px,#775b73 123.5px,#b06d65 127.5px,#bf7d65 132.5px,#b87565 136.5px,#bd7d64 138.5px,#b47b64 139.5px,#9b7461 140.5px,#466259 142.5px,#285d56 143.5px,#1d5a56 144.5px,#33555d 146.5px,#62586a 149.5px,#6d5f6d 153.5px,#685f6c 155.5px,#2f5a5b 158.5px,#285b58 159.5px,#395e58 160.5px,#a76b64 163.5px,#bf7465 165.5px,#d08a65 170.5px,#b76a65 177.5px,#bb6f65 181.5px,#cd8865 185.5px,#c48563 186.5px,#a97c5e 187.5px,#4e604e 189.5px,#2c5748 190.5px,#1c5344 191.5px,#1a5345 209.5px,#235447 210.5px,#3a574c 211.5px,#a76862 214.5px,#bc7165 216.5px,#cf8865 223.5px,#b66965 230.5px,#ba6f65 235.5px,#cd8865 240.5px,#c38464 241.5px,#a77c62 242.5px,#50645c 244.5px,#395a5d 245.5px,#3b5364 246.5px,#685078 249.5px,#71597b 252.5px,#5b5383 255.5px,#67549a 258.5px,#765d9d 264.5px,#6d579c 268.5px,#765e9c 271.5px,#615b8e 273.5px,#3f5570 275.5px,#4d4e6d 277.5px,#6c5379 280.5px,#5b528c 284.5px,#6f589c 287.5px,#7b609e 291.5px,#70599c 295.5px,#79609c 298.5px,#505073 302.5px,#575570 306.5px)"></i><i style="top:58px;background:linear-gradient(90deg,#195b53 0.5px,#315c61 2.5px,#7d5a90 5.5px,#8f5f98 9.5px,#b4869b 15.5px,#a7789a 18.5px,#946598 21.5px,#b4859b 26.5px,#a97c9a 28.5px,#80688b 30.5px,#3c5d67 32.5px,#1a5b53 34.5px,#1a5c52 49.5px,#235c53 50.5px,#3b5f56 51.5px,#8a655f 53.5px,#a76663 54.5px,#b46365 56.5px,#cb7f65 63.5px,#d48a65 68.5px,#bd6e65 74.5px,#d58b65 80.5px,#c97e64 83.5px,#ba7664 84.5px,#9e6d61 85.5px,#4e5e5a 87.5px,#3a595b 88.5px,#4d4d6a 90.5px,#664a75 93.5px,#745979 97.5px,#73566f 99.5px,#a96464 102.5px,#c27365 106.5px,#ce8365 110.5px,#c77d65 113.5px,#b77365 114.5px,#785968 116.5px,#63506b 117.5px,#614c73 120.5px,#835b6b 124.5px,#aa6264 127.5px,#c27d64 134.5px,#bc7764 138.5px,#946860 140.5px,#455e57 142.5px,#295c54 143.5px,#205a54 144.5px,#35555b 146.5px,#584e66 149.5px,#705f6c 153.5px,#645a69 155.5px,#2d5758 158.5px,#2a5a55 159.5px,#3c5e56 160.5px,#89635f 162.5px,#a56463 163.5px,#b36265 165.5px,#d38865 173.5px,#bd6d65 178.5px,#d28864 183.5px,#cb8064 185.5px,#bc7762 186.5px,#766156 188.5px,#4a594d 189.5px,#2b5446 190.5px,#1a5241 192.5px,#1c5343 209.5px,#255445 210.5px,#3c574a 211.5px,#89605b 213.5px,#a56261 214.5px,#b26164 216.5px,#d28765 226.5px,#bc6c65 232.5px,#d18765 237.5px,#c87d64 240.5px,#b97564 241.5px,#75645d 243.5px,#4e5e5a 244.5px,#3a585b 245.5px,#4c4c6a 247.5px,#674c75 250.5px,#695278 253.5px,#5d518b 256.5px,#644f9a 259.5px,#7a5e9c 266.5px,#735a9b 271.5px,#49547d 274.5px,#3f546e 275.5px,#4f4d6b 277.5px,#684d76 280.5px,#5b5080 283.5px,#634f99 286.5px,#7e619c 294.5px,#775d9b 298.5px,#4f4e71 302.5px,#504d6b 306.5px)"></i><i style="top:59px;background:linear-gradient(90deg,#1c5c50 0.5px,#245e54 1.5px,#5a6670 3.5px,#936c8f 5.5px,#976596 7.5px,#8b5996 11.5px,#b88798 17.5px,#b58398 22.5px,#b48398 25.5px,#885c92 29.5px,#275c57 33.5px,#1a5c4f 36.5px,#1c5c4f 49.5px,#275f51 50.5px,#426454 51.5px,#9c765e 53.5px,#bb7a62 54.5px,#c77964 55.5px,#b56064 61.5px,#d88b64 70.5px,#d48664 75.5px,#d38464 79.5px,#ad6263 84.5px,#976060 85.5px,#515e58 87.5px,#405c5a 88.5px,#665272 91.5px,#674973 95.5px,#6a4d70 98.5px,#8d6767 100.5px,#bd7764 102.5px,#be6b64 104.5px,#bc6864 107.5px,#ce7e64 110.5px,#bc6c64 113.5px,#976066 115.5px,#6f596d 117.5px,#624a70 121.5px,#76556d 123.5px,#b57364 126.5px,#ae6063 130.5px,#c27963 135.5px,#a66262 139.5px,#70615a 141.5px,#2c5d52 143.5px,#235c51 144.5px,#5b5365 148.5px,#625267 152.5px,#635467 154.5px,#315856 158.5px,#2e5d53 159.5px,#436354 160.5px,#98715e 162.5px,#b67462 163.5px,#c17264 164.5px,#b66164 169.5px,#d58764 175.5px,#d18264 179.5px,#d38464 182.5px,#af6362 186.5px,#745b53 188.5px,#2f5540 190.5px,#1f533b 192.5px,#20543d 209.5px,#2a5640 210.5px,#435b46 211.5px,#966b59 213.5px,#b37060 214.5px,#be6b64 216.5px,#b55f64 221.5px,#d48664 228.5px,#d18264 233.5px,#ce7e64 237.5px,#ac6163 241.5px,#735d5c 243.5px,#505c58 244.5px,#3e5a5a 245.5px,#624e70 248.5px,#644a74 253.5px,#765d95 257.5px,#6a5199 263.5px,#7a5c9b 268.5px,#635095 272.5px,#47596e 275.5px,#655071 278.5px,#634974 281.5px,#715a94 285.5px,#685099 290.5px,#7f5f9b 295.5px,#655193 299.5px,#5a5772 302.5px,#534d6a 306.5px)"></i><i style="top:60px;background:linear-gradient(90deg,#1f5d4e 0.5px,#285f52 1.5px,#3f655d 2.5px,#8b7780 4.5px,#a67d8d 5.5px,#b07b94 7.5px,#8d5793 13.5px,#9e6894 16.5px,#bf8a95 20.5px,#b78195 23.5px,#8f5993 27.5px,#8c5d8f 29.5px,#816285 30.5px,#2c5f55 33.5px,#1d5d4d 35.5px,#1f5d4d 49.5px,#2b604e 50.5px,#486852 51.5px,#a9825d 53.5px,#cc8a61 54.5px,#dc8c63 56.5px,#b65d63 65.5px,#dc8b63 73.5px,#d07d63 77.5px,#b75f63 81.5px,#b66962 84.5px,#a56d5f 85.5px,#5b6657 87.5px,#476159 88.5px,#4e5f62 89.5px,#735d74 91.5px,#755575 93.5px,#684970 97.5px,#82616c 99.5px,#d18b63 102.5px,#d58363 104.5px,#b86063 108.5px,#be6763 111.5px,#b26664 114.5px,#7c646e 117.5px,#664c6f 121.5px,#6a4d6d 122.5px,#976b68 124.5px,#c68463 126.5px,#c97e62 128.5px,#af5e62 132.5px,#b36362 136.5px,#ac6661 139.5px,#9d6c5e 140.5px,#31614f 143.5px,#275d4f 144.5px,#455d5a 146.5px,#685b66 148.5px,#5b4b63 154.5px,#555360 156.5px,#385c55 158.5px,#345f51 159.5px,#496652 160.5px,#a37b5d 162.5px,#c58261 163.5px,#d38163 165.5px,#b55d63 171.5px,#d98763 178.5px,#c56f63 182.5px,#b55e63 185.5px,#a1665a 187.5px,#36593a 190.5px,#235434 192.5px,#255636 209.5px,#2f583a 210.5px,#4a5f41 211.5px,#a07457 213.5px,#c07b5f 214.5px,#cf7c63 216.5px,#b45b63 224.5px,#d78663 231.5px,#cb7763 235.5px,#b45b63 239.5px,#b06262 241.5px,#9e655f 242.5px,#576257 244.5px,#455e59 245.5px,#5f5a6b 247.5px,#715374 249.5px,#664671 252.5px,#7e658b 256.5px,#8c6799 258.5px,#694e98 264.5px,#6f5398 268.5px,#6e5694 272.5px,#52606d 275.5px,#735c74 278.5px,#694d73 281.5px,#826394 285.5px,#755699 289.5px,#6a4f98 292.5px,#6e5298 296.5px,#6b5493 299.5px,#666073 302.5px,#61596c 306.5px)"></i><i style="top:61px;background:linear-gradient(90deg,#215e4b 0.5px,#2a5f4f 1.5px,#646b6b 3.5px,#a77b8a 5.5px,#b98291 7.5px,#b17991 11.5px,#8e5690 16.5px,#b17991 21.5px,#8f5791 25.5px,#a3728c 29.5px,#957583 30.5px,#316152 33.5px,#205d4a 35.5px,#225e4a 49.5px,#2d604c 50.5px,#4a6750 51.5px,#a77c5c 53.5px,#ca8560 54.5px,#e08e63 56.5px,#db8863 61.5px,#b55a63 68.5px,#cf7963 74.5px,#b65b63 79.5px,#ce7a62 83.5px,#cc8161 84.5px,#b7805e 85.5px,#626c55 87.5px,#4a6257 88.5px,#4f5d5f 89.5px,#755d72 91.5px,#7f5d76 93.5px,#765573 97.5px,#8a676d 99.5px,#d28a62 102.5px,#e39263 104.5px,#ce7863 107.5px,#b55a63 110.5px,#bd6363 112.5px,#c67a63 114.5px,#947067 116.5px,#7f666c 117.5px,#76586f 122.5px,#c78262 126.5px,#d58961 128.5px,#c67761 131.5px,#ad5a61 134.5px,#b56361 137.5px,#bf7960 139.5px,#ad7c5d 140.5px,#35624d 143.5px,#2a5e4d 144.5px,#455b57 146.5px,#6a5b64 148.5px,#715967 150.5px,#624e63 154.5px,#5f5961 156.5px,#3c5d53 158.5px,#365f4f 159.5px,#4a6550 160.5px,#a2765c 162.5px,#c47e60 163.5px,#d98563 165.5px,#d07b63 169.5px,#b65b63 173.5px,#c06763 176.5px,#cc7563 178.5px,#b75c63 183.5px,#c37560 186.5px,#b17659 187.5px,#3c5c34 190.5px,#28562d 192.5px,#28562e 208.5px,#335933 210.5px,#4d5e3c 211.5px,#bf775e 214.5px,#d27d63 216.5px,#cc7563 221.5px,#b35863 226.5px,#c56d63 230.5px,#cb7463 232.5px,#b45963 237.5px,#c07261 241.5px,#ac735e 242.5px,#5d6755 244.5px,#475f56 245.5px,#4d5b5e 246.5px,#705870 248.5px,#775674 250.5px,#715373 253.5px,#7e6489 256.5px,#946b99 259.5px,#825e98 263.5px,#684c96 267.5px,#836393 272.5px,#58616b 275.5px,#595f67 276.5px,#796073 278.5px,#755c79 282.5px,#8a6597 286.5px,#815e98 290.5px,#684c96 294.5px,#7c5e92 299.5px,#695f70 302.5px,#6b616c 306.5px)"></i><i style="top:62px;background:linear-gradient(90deg,#245e48 0.5px,#3e5e57 2.5px,#946687 5.5px,#b2788d 8.5px,#bd838d 12.5px,#90568e 19.5px,#955a8d 24.5px,#b87f8c 28.5px,#b38089 29.5px,#9e7b7f 30.5px,#50685d 32.5px,#33614f 33.5px,#225e47 35.5px,#245e48 49.5px,#2e5e49 50.5px,#46604d 51.5px,#97665b 53.5px,#b66b5f 54.5px,#ce7662 56.5px,#e38f62 62.5px,#d47d62 66.5px,#b45662 71.5px,#b85b62 77.5px,#df8c62 83.5px,#d78b60 84.5px,#bc845d 85.5px,#626a52 87.5px,#485e53 88.5px,#4a565a 89.5px,#765570 92.5px,#825e71 98.5px,#926265 100.5px,#d17c62 103.5px,#e49062 106.5px,#c86e62 110.5px,#db8762 113.5px,#d38862 114.5px,#8e6963 116.5px,#765b66 117.5px,#75596f 119.5px,#88606d 123.5px,#c47561 127.5px,#d58761 130.5px,#c77661 133.5px,#bb6761 135.5px,#cf8260 138.5px,#ca845f 139.5px,#b17e5c 140.5px,#57684f 142.5px,#36614b 143.5px,#2b5d4a 144.5px,#405654 146.5px,#6c5564 149.5px,#6f5765 154.5px,#635a60 156.5px,#3c5b51 158.5px,#365d4d 159.5px,#475f4e 160.5px,#b3675f 163.5px,#cc7462 165.5px,#d98362 170.5px,#b45662 176.5px,#b75a62 181.5px,#d57f61 185.5px,#cf815e 186.5px,#b77b57 187.5px,#61643a 189.5px,#405c2e 190.5px,#2d5725 192.5px,#2d5827 208.5px,#37582d 210.5px,#4c5a37 211.5px,#b0625d 214.5px,#c56b62 216.5px,#d37c62 222.5px,#b25462 229.5px,#b55762 235.5px,#d07a62 240.5px,#c97a60 241.5px,#b0755d 242.5px,#5d6452 244.5px,#465c53 245.5px,#48555a 246.5px,#745370 249.5px,#775773 253.5px,#6f5886 256.5px,#8a6396 259.5px,#946a97 263.5px,#795795 267.5px,#926996 271.5px,#7e6787 273.5px,#545c68 275.5px,#525762 276.5px,#7f5d73 279.5px,#806076 281.5px,#6e5787 284.5px,#8a6296 288.5px,#855f96 292.5px,#775595 295.5px,#896395 298.5px,#785f84 300.5px,#60566b 302.5px,#695e69 306.5px)"></i><i style="top:63px;background:linear-gradient(90deg,#265e46 0.5px,#3b5a55 2.5px,#804f84 5.5px,#bd8189 13.5px,#ba7d89 16.5px,#965a8a 20.5px,#9a5d8a 22.5px,#bd8189 26.5px,#ba7f88 28.5px,#ad7885 29.5px,#6f656c 31.5px,#325f4d 33.5px,#255e45 35.5px,#265e45 49.5px,#445a4b 51.5px,#a2505e 54.5px,#c56861 59.5px,#e38c61 65.5px,#d57c61 69.5px,#b85961 73.5px,#c66961 76.5px,#e28b61 80.5px,#db8461 83.5px,#cc7c5f 84.5px,#846755 86.5px,#5b5f50 87.5px,#455850 88.5px,#454f56 89.5px,#684669 92.5px,#805b71 96.5px,#7a5067 99.5px,#944f5f 101.5px,#c26661 104.5px,#e48e61 108.5px,#df8a61 113.5px,#cc7e60 114.5px,#81585f 116.5px,#684c61 117.5px,#684b68 119.5px,#7d5a6d 122.5px,#955061 125.5px,#b66060 128.5px,#d58460 132.5px,#d1825f 138.5px,#c3795e 139.5px,#7b6454 141.5px,#525f4d 142.5px,#365e48 143.5px,#2c5c47 144.5px,#57495c 148.5px,#765965 153.5px,#6d5662 155.5px,#39584d 158.5px,#365a4a 159.5px,#45594c 160.5px,#a14f5e 163.5px,#ca6e61 168.5px,#da8261 172.5px,#c26561 176.5px,#b65761 178.5px,#d98161 184.5px,#c9775d 186.5px,#ae6d55 187.5px,#5e5d35 189.5px,#425a27 190.5px,#32591e 192.5px,#32591e 206.5px,#3a5827 210.5px,#6a5241 212.5px,#a14d5b 214.5px,#cf7461 222.5px,#d17661 226.5px,#b45461 232.5px,#d37961 238.5px,#ce7561 240.5px,#c16f5f 241.5px,#7f6155 243.5px,#595c50 244.5px,#445750 245.5px,#52485e 247.5px,#76526e 251.5px,#735270 253.5px,#614c83 256.5px,#755293 259.5px,#976a95 264.5px,#926894 271.5px,#725d85 273.5px,#4b5464 275.5px,#554a60 277.5px,#7c5871 280.5px,#6f5574 282.5px,#614c83 284.5px,#735193 287.5px,#8f6594 292.5px,#8b6293 298.5px,#564b65 302.5px,#5e5263 306.5px)"></i><i style="top:64px;background:linear-gradient(90deg,#295f43 0.5px,#415d52 2.5px,#895581 5.5px,#8c4d88 9.5px,#c08285 16.5px,#b17386 21.5px,#c18285 25.5px,#a76a86 28.5px,#80587a 30.5px,#325d4a 33.5px,#275f42 36.5px,#295f43 49.5px,#335f44 50.5px,#6f5e51 52.5px,#ad5a5d 54.5px,#b45360 56.5px,#b25060 60.5px,#e38a60 68.5px,#d27660 74.5px,#e38a60 78.5px,#ce7160 82.5px,#b45c5e 84.5px,#57574f 87.5px,#47574f 88.5px,#644265 92.5px,#714b69 97.5px,#744a62 99.5px,#a9525f 102.5px,#b55360 105.5px,#e28860 109.5px,#e48c60 111.5px,#cf7460 113.5px,#7c4f5e 116.5px,#694a60 117.5px,#644664 120.5px,#895261 124.5px,#a6545e 126.5px,#ab515f 129.5px,#d5825f 134.5px,#cd795f 137.5px,#af5f5d 139.5px,#4f594b 142.5px,#375c46 143.5px,#2f5d45 144.5px,#5a495a 148.5px,#644a5e 151.5px,#6c5160 154.5px,#465051 157.5px,#385b47 159.5px,#4b5d4a 160.5px,#905858 162.5px,#a8555d 163.5px,#ae4a60 166.5px,#c16260 170.5px,#da7f60 174.5px,#cf7260 179.5px,#d97e60 182.5px,#c56860 185.5px,#9d5553 187.5px,#5b5530 189.5px,#39591b 191.5px,#385915 203.5px,#38591c 209.5px,#3f5922 210.5px,#73583e 212.5px,#a9545a 214.5px,#ad4a60 217.5px,#b65460 221.5px,#d37760 227.5px,#c76860 232.5px,#d37760 236.5px,#bd5e60 240.5px,#97535a 242.5px,#56564f 244.5px,#47574f 245.5px,#654266 249.5px,#6a496a 253.5px,#6b5181 256.5px,#6d4c91 259.5px,#775391 262.5px,#9a6b93 267.5px,#8b6192 270.5px,#635182 273.5px,#4b5362 275.5px,#584b5f 277.5px,#6d4969 280.5px,#695081 284.5px,#6b4b91 287.5px,#7f5992 291.5px,#916592 295.5px,#71528b 299.5px,#5a4e65 302.5px,#54475c 306.5px)"></i><i style="top:65px;background:linear-gradient(90deg,#2c6040 0.5px,#4a634f 2.5px,#8a6970 4.5px,#9f697c 5.5px,#a26183 7.5px,#8d4c85 12.5px,#c48381 19.5px,#c28181 23.5px,#884e81 29.5px,#665767 31.5px,#375e47 33.5px,#2a5f3f 36.5px,#2d6040 49.5px,#386242 50.5px,#536647 51.5px,#a87157 53.5px,#c4735c 54.5px,#cc6c5f 56.5px,#ae495f 62.5px,#c05f5f 66.5px,#e2875f 71.5px,#de815f 77.5px,#ae4b5f 83.5px,#985159 85.5px,#5d5c4d 87.5px,#4f5c4d 88.5px,#705165 91.5px,#653f63 96.5px,#6c4562 98.5px,#aa645d 101.5px,#bb645e 102.5px,#b04b5f 106.5px,#d2745f 110.5px,#c4635f 112.5px,#a74e5f 114.5px,#765461 117.5px,#634361 121.5px,#794e5f 123.5px,#aa655d 125.5px,#bc645d 127.5px,#aa4d5e 131.5px,#c76f5e 135.5px,#a24e5c 139.5px,#935358 140.5px,#3c5f43 143.5px,#345f43 144.5px,#6a535c 148.5px,#60465b 152.5px,#564b56 156.5px,#405a49 158.5px,#3f5f45 159.5px,#536248 160.5px,#a06857 162.5px,#ba685c 163.5px,#c05e5f 165.5px,#ad485f 169.5px,#ba575f 172.5px,#d87b5f 176.5px,#d4765f 181.5px,#a7495b 186.5px,#7f5141 188.5px,#495520 190.5px,#3c5415 192.5px,#3c5415 206.5px,#3d561a 209.5px,#46571f 210.5px,#5c5b2b 211.5px,#a3654d 213.5px,#bb6659 214.5px,#c1605f 216.5px,#ab465f 222.5px,#d3745f 230.5px,#cd6e5f 235.5px,#ab485f 240.5px,#944d59 242.5px,#5c5a4d 244.5px,#4f5d4e 245.5px,#735466 248.5px,#654063 252.5px,#765975 255.5px,#875d8f 258.5px,#6f4c8f 263.5px,#8c6190 267.5px,#6c4d8a 272.5px,#565961 275.5px,#694564 279.5px,#674465 281.5px,#825d8a 285.5px,#6d4a8f 290.5px,#855b90 295.5px,#6b4d89 299.5px,#685866 302.5px,#5d4d5c 306.5px)"></i><i style="top:66px;background:linear-gradient(90deg,#32603c 0.5px,#3b6240 1.5px,#736b5b 3.5px,#ad7578 5.5px,#b6737e 7.5px,#8f4b82 14.5px,#9f5c81 17.5px,#bd7a7e 20.5px,#b9767e 22.5px,#914d82 26.5px,#95587d 29.5px,#8d6073 30.5px,#3e6142 33.5px,#30603b 35.5px,#32613b 49.5px,#3e633d 50.5px,#5a6843 51.5px,#b17954 53.5px,#d07e5a 54.5px,#dd7e5d 56.5px,#bf5b5d 62.5px,#aa455c 66.5px,#c5635d 70.5px,#db7c5d 73.5px,#cd6c5d 76.5px,#ac475c 80.5px,#b85d5b 84.5px,#aa6456 85.5px,#696549 87.5px,#57614a 88.5px,#6f5b5e 90.5px,#805668 92.5px,#6b4362 96.5px,#784d62 98.5px,#c66f5c 102.5px,#ca685d 104.5px,#ad485c 108.5px,#b14d5c 111.5px,#ad4a5c 113.5px,#a05a5c 115.5px,#805b60 117.5px,#6c4860 121.5px,#6f495f 122.5px,#c6745b 126.5px,#c86f5b 128.5px,#a84b5b 132.5px,#a94e5a 138.5px,#a16155 140.5px,#43623f 143.5px,#3a603e 144.5px,#575e4d 146.5px,#765a5d 148.5px,#6a4b5b 151.5px,#604458 154.5px,#635256 156.5px,#466142 159.5px,#596544 160.5px,#a86e54 162.5px,#c4715a 163.5px,#cf6f5d 165.5px,#a9445c 172.5px,#c5645d 176.5px,#d1715d 178.5px,#aa455c 184.5px,#ae5158 186.5px,#a4584f 187.5px,#50521e 190.5px,#424f14 192.5px,#414e13 206.5px,#425018 209.5px,#4b531d 210.5px,#625929 211.5px,#ab694b 213.5px,#c46e57 214.5px,#cf6e5d 216.5px,#a8425c 225.5px,#cb6a5d 232.5px,#a8435c 238.5px,#af545b 241.5px,#a25b56 242.5px,#666149 244.5px,#58614b 245.5px,#825e67 248.5px,#6f4763 252.5px,#976a88 257.5px,#92638e 260.5px,#704b8d 265.5px,#78518c 271.5px,#7a5e7e 273.5px,#615f5f 275.5px,#6d585e 277.5px,#754d65 279.5px,#6f4865 281.5px,#916588 285.5px,#8b5e8e 288.5px,#6f4a8d 292.5px,#744e8c 298.5px,#745f65 302.5px,#6e595e 306.5px)"></i><i style="top:67px;background:linear-gradient(90deg,#386137 0.5px,#546447 2.5px,#ab6f75 5.5px,#bc767a 8.5px,#a9647c 13.5px,#904a80 17.5px,#a45e7d 21.5px,#924c7f 25.5px,#ab6c77 29.5px,#9e6e6d 30.5px,#45633d 33.5px,#366136 35.5px,#386136 49.5px,#436239 50.5px,#5c653e 51.5px,#ab6e50 53.5px,#c87357 54.5px,#db795a 56.5px,#d5735a 62.5px,#a74159 69.5px,#bb585a 74.5px,#a84259 78.5px,#ce6c5a 83.5px,#cc7258 84.5px,#bb7453 85.5px,#716845 87.5px,#5b6145 88.5px,#6e5859 90.5px,#845866 92.5px,#7e5164 97.5px,#9c605a 100.5px,#cc6c5a 103.5px,#c9655a 106.5px,#a74259 110.5px,#b96059 114.5px,#81595c 117.5px,#7c525f 122.5px,#c16d58 126.5px,#cd7258 129.5px,#a24458 135.5px,#bc6856 139.5px,#ae6c51 140.5px,#48633a 143.5px,#3f603a 144.5px,#585b49 146.5px,#78585a 148.5px,#79535d 151.5px,#6f4d5a 154.5px,#6f5856 156.5px,#505e43 158.5px,#4a603d 159.5px,#5b623f 160.5px,#be6857 163.5px,#cf6d5a 165.5px,#ca675a 169.5px,#a74159 174.5px,#b34f59 179.5px,#a74259 182.5px,#bf6256 186.5px,#b2634d 187.5px,#564e1c 190.5px,#474912 192.5px,#474912 206.5px,#474b16 209.5px,#645227 211.5px,#bd6454 214.5px,#cf6c5a 217.5px,#be5a5a 223.5px,#a43e59 228.5px,#b24e59 232.5px,#a54059 236.5px,#c05d59 240.5px,#bf6458 241.5px,#af6753 242.5px,#6d6445 244.5px,#5b6046 245.5px,#745d5b 247.5px,#8b5e68 249.5px,#845968 253.5px,#8c647d 256.5px,#9e6a8c 259.5px,#90608b 263.5px,#714a8b 267.5px,#926587 272.5px,#67605b 275.5px,#645a55 276.5px,#7e5364 279.5px,#7c566a 282.5px,#96658a 286.5px,#90608b 290.5px,#70498b 294.5px,#8b6085 299.5px,#755d60 302.5px,#775f5d 306.5px)"></i><i style="top:68px;background:linear-gradient(90deg,#3d6132 0.5px,#545e43 2.5px,#995c74 5.5px,#ba7377 10.5px,#b76f77 14.5px,#8e477d 20.5px,#9c557b 24.5px,#ba7376 28.5px,#b57473 29.5px,#a37069 30.5px,#4a6339 33.5px,#3c6131 35.5px,#3e6131 49.5px,#5a5d3a 51.5px,#ae5653 54.5px,#ce6a57 58.5px,#db7757 63.5px,#c86357 67.5px,#a23d56 72.5px,#a74256 76.5px,#d87457 82.5px,#d27555 84.5px,#bb7150 85.5px,#706340 87.5px,#5b5c40 88.5px,#5a5447 89.5px,#7b4e5f 92.5px,#875561 98.5px,#8f5056 100.5px,#c35f57 104.5px,#cb6657 107.5px,#b85357 110.5px,#c66357 113.5px,#bf6456 114.5px,#774f55 117.5px,#83555f 122.5px,#ad5654 126.5px,#ca6d55 130.5px,#c06255 133.5px,#b45655 135.5px,#c76b55 138.5px,#c26c53 139.5px,#ae694e 140.5px,#66623c 142.5px,#4c6135 143.5px,#435f35 144.5px,#6f4f55 148.5px,#80565c 151.5px,#7c5759 155.5px,#515c3e 158.5px,#4c5d38 159.5px,#5a5b3b 160.5px,#a95153 163.5px,#c86357 167.5px,#cb6657 171.5px,#a03b56 177.5px,#a43e56 180.5px,#ca6656 185.5px,#c56653 186.5px,#b3614a 187.5px,#5a4819 190.5px,#4c4310 192.5px,#4b4412 208.5px,#534619 210.5px,#a84d51 214.5px,#c76357 219.5px,#c76257 224.5px,#9e3856 231.5px,#ab4556 235.5px,#ca6657 240.5px,#c36755 241.5px,#af6550 242.5px,#6c5f40 244.5px,#5a5b40 245.5px,#6a5153 247.5px,#8b5a65 250.5px,#8a5c67 253.5px,#7c577a 256.5px,#936089 259.5px,#9f6a89 263.5px,#885989 267.5px,#9e6988 271.5px,#8b6679 273.5px,#645a56 275.5px,#5f534f 276.5px,#815362 280.5px,#76536f 283.5px,#885a88 286.5px,#9a6689 290.5px,#865789 295.5px,#976488 298.5px,#845e74 300.5px,#6c5359 302.5px,#755a58 306.5px)"></i><i style="top:69px;background:linear-gradient(90deg,#43612d 0.5px,#545a40 2.5px,#864874 5.5px,#bc7575 14.5px,#ad6577 18.5px,#9b5379 21.5px,#bc7475 26.5px,#ac6b72 29.5px,#4d6035 33.5px,#42612c 36.5px,#495e2f 50.5px,#943b4f 54.5px,#b54f53 59.5px,#d87155 65.5px,#ce6754 69.5px,#ae4853 73.5px,#bf5854 76.5px,#d87155 80.5px,#ce6954 83.5px,#a95d4c 85.5px,#6a593c 87.5px,#58553b 88.5px,#5d434b 90.5px,#74455a 93.5px,#85525f 96.5px,#7f3f50 100.5px,#a03d52 103.5px,#c86254 108.5px,#c46054 113.5px,#b55852 114.5px,#7c464e 116.5px,#6b414f 117.5px,#744958 120.5px,#814a57 123.5px,#943c50 126.5px,#c76752 132.5px,#c46552 138.5px,#9f584a 140.5px,#625937 142.5px,#4e5e31 143.5px,#495835 145.5px,#62444e 148.5px,#83555a 153.5px,#6d514e 156.5px,#505839 158.5px,#4d5a33 159.5px,#6c4a3f 161.5px,#9c3952 164.5px,#ca6454 172.5px,#b65054 176.5px,#a94353 178.5px,#ca6354 184.5px,#bb5a50 186.5px,#5c4017 190.5px,#523c0d 193.5px,#513e0f 207.5px,#563f17 210.5px,#93364d 214.5px,#c96254 224.5px,#be5754 228.5px,#a84253 232.5px,#c96254 238.5px,#b65851 241.5px,#67563c 244.5px,#57543b 245.5px,#694254 248.5px,#8a5762 252.5px,#6d4a6b 255.5px,#764a85 258.5px,#a06987 264.5px,#9b6586 271.5px,#7f5b75 273.5px,#5d5251 275.5px,#5f444d 277.5px,#7b4b5d 280.5px,#6b496a 283.5px,#754a85 286.5px,#9b6586 292.5px,#966285 298.5px,#614752 302.5px,#6a4e4f 306.5px)"></i><i style="top:70px;background:linear-gradient(90deg,#496228 0.5px,#5c5e3b 2.5px,#835463 4.5px,#8f4977 6.5px,#904979 10.5px,#b97273 16.5px,#b56d74 22.5px,#ba7273 25.5px,#975572 29.5px,#715356 31.5px,#4f5e30 33.5px,#486227 39.5px,#496127 49.5px,#5f5931 51.5px,#8c4645 53.5px,#9c384f 55.5px,#98334f 59.5px,#d56b52 68.5px,#c96051 74.5px,#d66c52 78.5px,#bc5551 82.5px,#904348 85.5px,#645037 87.5px,#5d4e3e 89.5px,#683951 92.5px,#764456 97.5px,#753e4e 99.5px,#93364e 102.5px,#9a354f 105.5px,#c55d51 110.5px,#b14d50 113.5px,#773f4b 116.5px,#663d4d 118.5px,#7b4351 123.5px,#92354d 127.5px,#9e3f4e 130.5px,#c4624f 134.5px,#bb5a4f 137.5px,#8a4346 140.5px,#505c2c 143.5px,#505a31 145.5px,#643e4d 149.5px,#7b4d54 153.5px,#634848 156.5px,#515533 158.5px,#5e5632 160.5px,#92384c 163.5px,#96314f 167.5px,#c65e51 174.5px,#bf5751 179.5px,#c65e51 182.5px,#a2414c 186.5px,#5c3815 190.5px,#583008 198.5px,#5b3b15 210.5px,#97384a 214.5px,#97324f 219.5px,#c55d51 227.5px,#bf5751 233.5px,#c25a51 237.5px,#9e404d 241.5px,#644f37 244.5px,#5d4f3f 246.5px,#6a3b52 249.5px,#7b4859 252.5px,#6d4766 255.5px,#714582 258.5px,#7f4f83 262.5px,#a06783 266.5px,#9c6483 269.5px,#7c507e 272.5px,#5c4f4d 275.5px,#624349 277.5px,#6f3f55 280.5px,#6e4866 283.5px,#714582 286.5px,#784983 289.5px,#9c6483 294.5px,#915c83 297.5px,#7b4e7b 299.5px,#62464f 302.5px,#604247 306.5px)"></i><i style="top:71px;background:linear-gradient(90deg,#506323 0.5px,#696636 2.5px,#9a6a5d 4.5px,#a8686b 5.5px,#944d75 9.5px,#8a4377 12.5px,#b97270 19.5px,#b16a71 24.5px,#874672 29.5px,#56602b 33.5px,#4e6322 39.5px,#506222 49.5px,#6b5f2d 51.5px,#a35843 53.5px,#b3544a 54.5px,#ab434d 57.5px,#912d4c 62.5px,#b34b4d 67.5px,#d3674e 72.5px,#cb604e 77.5px,#94304b 83.5px,#873944 85.5px,#655734 88.5px,#784850 91.5px,#6a384e 96.5px,#6f3b4d 98.5px,#9d4949 101.5px,#a33d4c 103.5px,#912d4c 106.5px,#b0484d 110.5px,#98354c 113.5px,#86394a 115.5px,#72444d 118.5px,#683b4b 121.5px,#7a414b 123.5px,#9e4b4a 125.5px,#a4444a 127.5px,#90314a 130.5px,#a3434a 133.5px,#b14f4b 135.5px,#8d3447 139.5px,#585e27 143.5px,#5a5c2e 145.5px,#70484b 148.5px,#683e4b 152.5px,#614442 156.5px,#5a5c2b 159.5px,#805538 161.5px,#a44749 163.5px,#8f2b4b 169.5px,#c45a4e 177.5px,#bc534d 181.5px,#8d2d48 186.5px,#58310d 191.5px,#572c0a 203.5px,#5e3813 210.5px,#9f493e 213.5px,#ae474c 215.5px,#8f2b4b 221.5px,#b34b4d 227.5px,#c3594e 232.5px,#aa434d 237.5px,#8c2f49 241.5px,#655835 245.5px,#784950 248.5px,#6c3a50 252.5px,#7a4e62 255.5px,#824f7d 258.5px,#70427e 262.5px,#935b7f 267.5px,#6f4479 272.5px,#67544b 275.5px,#6f4b49 277.5px,#6a384f 280.5px,#7b4f62 283.5px,#885579 285.5px,#71437e 290.5px,#8c567f 295.5px,#704577 299.5px,#6f4d4e 302.5px,#644344 306.5px)"></i><i style="top:72px;background:linear-gradient(90deg,#56641e 0.5px,#5e6624 1.5px,#ab7958 4.5px,#bc7b65 5.5px,#b7706d 8.5px,#884273 14.5px,#9f5870 18.5px,#b0696e 21.5px,#894373 27.5px,#925b61 30.5px,#5f6426 33.5px,#53631d 37.5px,#56631d 49.5px,#5f6321 50.5px,#b36340 53.5px,#c66247 54.5px,#ca5c4b 56.5px,#8d2948 65.5px,#a23b49 69.5px,#c5594a 73.5px,#b54b49 76.5px,#902b48 80.5px,#983348 83.5px,#9a4841 85.5px,#795a30 87.5px,#6f5c31 88.5px,#875251 91.5px,#6d384b 96.5px,#7a414c 98.5px,#ab5347 101.5px,#b54c49 103.5px,#8d2948 108.5px,#8e2b48 113.5px,#8a4a48 116.5px,#74424b 120.5px,#723d48 122.5px,#ad5547 125.5px,#b85448 127.5px,#8c2e46 132.5px,#903146 136.5px,#8e3045 138.5px,#93463f 140.5px,#606023 143.5px,#615e2a 145.5px,#7e4e4b 148.5px,#623844 153.5px,#6b4741 156.5px,#625e27 159.5px,#8a5a34 161.5px,#b25146 163.5px,#ae4549 166.5px,#8a2747 172.5px,#b74c4a 178.5px,#8b2747 184.5px,#8f343d 187.5px,#582b0d 191.5px,#562409 202.5px,#582f0d 209.5px,#743c1d 211.5px,#ab503c 213.5px,#c15649 215.5px,#952f48 222.5px,#8b2748 225.5px,#b54b49 231.5px,#a94149 234.5px,#8b2848 238.5px,#973746 241.5px,#874f38 243.5px,#705c32 245.5px,#895452 248.5px,#703b4d 252.5px,#905b6b 256.5px,#905679 259.5px,#704078 264.5px,#774579 268.5px,#744378 271.5px,#7b5168 273.5px,#735947 275.5px,#7a5148 277.5px,#723d4d 280.5px,#7b4955 282.5px,#945e6b 284.5px,#945979 287.5px,#704078 292.5px,#744377 298.5px,#7d5456 301.5px,#744c45 305.5px,#724b44 306.5px)"></i><i style="top:73px;background:linear-gradient(90deg,#5a631a 0.5px,#766a2e 2.5px,#bd7c61 5.5px,#c57d67 8.5px,#a35c6b 13.5px,#853f6f 17.5px,#964f6d 21.5px,#88426f 25.5px,#ab6865 29.5px,#a76e5a 30.5px,#656522 33.5px,#586218 36.5px,#5a6219 49.5px,#786125 51.5px,#b25e3c 53.5px,#cd5e46 55.5px,#c15246 61.5px,#882543 68.5px,#932d44 71.5px,#a13945 74.5px,#882443 78.5px,#a73d45 82.5px,#b64f44 84.5px,#af563e 85.5px,#825e2d 87.5px,#755d2e 88.5px,#8e5151 92.5px,#80454d 97.5px,#b54f45 102.5px,#b34746 105.5px,#852243 110.5px,#993444 113.5px,#9c4844 115.5px,#844d4a 118.5px,#7d4447 122.5px,#b95644 126.5px,#b85144 129.5px,#872841 134.5px,#882a41 136.5px,#a64741 139.5px,#a3513c 140.5px,#65601e 143.5px,#645c26 145.5px,#814e48 148.5px,#784447 151.5px,#6d3d43 154.5px,#764c40 156.5px,#675d23 159.5px,#8a5630 161.5px,#b14d42 163.5px,#b44846 167.5px,#852243 174.5px,#993244 178.5px,#862343 182.5px,#a13b42 186.5px,#9d3e3b 187.5px,#612a12 190.5px,#551f09 194.5px,#551f09 204.5px,#57280c 209.5px,#73361c 211.5px,#a94b39 213.5px,#c25446 215.5px,#b94c46 220.5px,#852243 227.5px,#983244 232.5px,#862343 236.5px,#ac4743 241.5px,#945734 243.5px,#755c2e 245.5px,#905352 249.5px,#854b51 253.5px,#995a73 258.5px,#854c73 263.5px,#6d3b72 267.5px,#8a526e 272.5px,#785943 275.5px,#7e5045 277.5px,#7e464e 281.5px,#9c5e6f 285.5px,#975874 289.5px,#6e3c72 294.5px,#7c4672 297.5px,#8b5660 300.5px,#7f5347 302.5px,#7b5042 306.5px)"></i><i style="top:74px;background:linear-gradient(90deg,#595e18 0.5px,#6f602c 2.5px,#aa695e 5.5px,#c17962 10.5px,#b06964 14.5px,#833d6a 19.5px,#86406a 23.5px,#b87163 28.5px,#ad7454 30.5px,#64611f 33.5px,#575d16 36.5px,#595d17 49.5px,#705622 51.5px,#ad493e 54.5px,#c85643 60.5px,#b74942 65.5px,#83203f 71.5px,#84203f 76.5px,#c25242 83.5px,#b3573b 85.5px,#7f582a 87.5px,#70552a 88.5px,#87494c 92.5px,#8e4846 99.5px,#ac4141 103.5px,#b24542 106.5px,#942d40 110.5px,#a84440 114.5px,#7f4541 117.5px,#894544 123.5px,#b44b40 128.5px,#b34a40 131.5px,#93313e 135.5px,#b04d3e 139.5px,#8f542f 141.5px,#635b1c 143.5px,#605523 145.5px,#7d4545 149.5px,#7a4543 155.5px,#635720 159.5px,#7e492d 161.5px,#a73e40 164.5px,#b04341 169.5px,#7e1c3e 177.5px,#86223f 181.5px,#a93e41 185.5px,#a03e37 187.5px,#5f2311 190.5px,#531709 194.5px,#531709 204.5px,#5c2510 210.5px,#a63f3d 214.5px,#bd4d42 220.5px,#a53b41 225.5px,#7f1c3f 230.5px,#821f3f 234.5px,#b64841 240.5px,#aa503a 242.5px,#7c562a 244.5px,#6f552a 245.5px,#8c4d4d 249.5px,#854e58 255.5px,#92526d 259.5px,#92526d 263.5px,#79416c 267.5px,#915468 272.5px,#73523e 275.5px,#76473f 277.5px,#83474d 281.5px,#94546c 286.5px,#9a576d 290.5px,#7e446c 295.5px,#945666 299.5px,#774b42 302.5px,#794c3f 306.5px)"></i><i style="top:75px;background:linear-gradient(90deg,#555717 0.5px,#64522b 2.5px,#8c4b5d 5.5px,#b9715d 12.5px,#b0685e 16.5px,#894363 21.5px,#b9715d 27.5px,#b26e59 29.5px,#8a6140 31.5px,#5f591e 33.5px,#545815 36.5px,#5a5219 50.5px,#8a2c38 54.5px,#be4c3e 63.5px,#b8473e 67.5px,#86223b 73.5px,#972e3c 76.5px,#be4c3e 81.5px,#b44a3c 84.5px,#654a26 88.5px,#6f383e 91.5px,#884649 96.5px,#7c313a 100.5px,#912b3b 103.5px,#ab3e3d 107.5px,#a4383c 111.5px,#a93d3d 113.5px,#8e3a39 115.5px,#6f3739 117.5px,#7e3f42 122.5px,#892c39 126.5px,#ae453b 131.5px,#a8403b 136.5px,#ae453b 138.5px,#984434 140.5px,#5d531a 143.5px,#5c4228 146.5px,#6e383c 149.5px,#7a3f41 154.5px,#5c4e1d 159.5px,#832738 163.5px,#a93c3d 170.5px,#9e343c 174.5px,#801d3a 178.5px,#a83b3d 184.5px,#a3393a 186.5px,#5b1a10 190.5px,#510c08 196.5px,#521309 206.5px,#571b10 210.5px,#862537 214.5px,#b3443d 222.5px,#ac3f3d 226.5px,#84203a 231.5px,#922b3b 234.5px,#b2433d 238.5px,#ac433b 241.5px,#654926 245.5px,#733b3f 248.5px,#8a494a 252.5px,#713d59 256.5px,#8e4c66 262.5px,#8e4c66 269.5px,#8b4c61 272.5px,#684639 275.5px,#693a38 277.5px,#7d4048 281.5px,#733d59 284.5px,#914e66 289.5px,#924f66 293.5px,#955165 298.5px,#6a3d3a 302.5px,#704238 306.5px)"></i><i style="top:76px;background:linear-gradient(90deg,#525115 0.5px,#5c4829 2.5px,#753459 5.5px,#924b5b 10.5px,#b26957 15.5px,#a75e59 19.5px,#a35b59 22.5px,#b26957 26.5px,#9b5756 29.5px,#774d3e 31.5px,#58501c 33.5px,#525214 41.5px,#544b17 50.5px,#6d1732 54.5px,#8c2736 60.5px,#b34239 66.5px,#a93b39 71.5px,#9d3238 74.5px,#b54439 79.5px,#a23738 83.5px,#743729 86.5px,#5b3f22 88.5px,#642b39 92.5px,#7a3a41 96.5px,#6a1a32 101.5px,#7b1b35 104.5px,#a23638 109.5px,#993137 113.5px,#612a32 117.5px,#71343b 122.5px,#6e1932 126.5px,#a43c37 133.5px,#a33b36 137.5px,#7f302e 140.5px,#564a18 143.5px,#52441c 145.5px,#582a2f 148.5px,#74373c 153.5px,#5b3b27 157.5px,#55461b 159.5px,#6c1632 163.5px,#8d2836 169.5px,#a03538 174.5px,#912a37 179.5px,#a03538 183.5px,#8d2934 186.5px,#56110f 190.5px,#500408 201.5px,#53140f 210.5px,#711434 215.5px,#ab3c39 226.5px,#962d37 232.5px,#aa3c39 237.5px,#912f35 241.5px,#5b3e22 245.5px,#682e3a 249.5px,#7c3b42 252.5px,#622f51 256.5px,#7c3d5d 262.5px,#8d485e 267.5px,#82415d 271.5px,#643c41 274.5px,#5b362e 276.5px,#692e3a 279.5px,#703440 281.5px,#642e57 285.5px,#924b5f 293.5px,#87455d 298.5px,#5e3234 302.5px,#623531 306.5px)"></i><i style="top:77px;background:linear-gradient(90deg,#504b14 0.5px,#6a4138 3.5px,#7a3753 5.5px,#783258 10.5px,#ab6252 18.5px,#a55c52 25.5px,#803c53 29.5px,#5b4229 32.5px,#504b14 34.5px,#534615 50.5px,#731b2e 54.5px,#6c122f 60.5px,#ab3b35 70.5px,#a23534 79.5px,#741b2e 84.5px,#583920 88.5px,#5d2433 92.5px,#672936 97.5px,#6d132f 103.5px,#721630 106.5px,#932c33 110.5px,#7f2031 113.5px,#5f272f 117.5px,#682631 123.5px,#6c162e 127.5px,#70182e 130.5px,#983232 135.5px,#731e2d 139.5px,#5f2a22 141.5px,#524416 143.5px,#513f1a 145.5px,#54222c 149.5px,#632b32 154.5px,#533322 157.5px,#544119 159.5px,#70192e 163.5px,#6b112f 168.5px,#962d33 175.5px,#932b33 182.5px,#681329 187.5px,#500c0a 191.5px,#4f0408 202.5px,#54120e 210.5px,#74182e 214.5px,#6a112f 219.5px,#a03434 228.5px,#9c3134 236.5px,#731a2e 241.5px,#573920 245.5px,#5e2433 249.5px,#662b39 253.5px,#652a53 258.5px,#682d54 262.5px,#843e57 267.5px,#672e51 272.5px,#5c342d 276.5px,#5f2533 279.5px,#662d51 285.5px,#662b54 289.5px,#884157 294.5px,#733454 298.5px,#5e2f31 302.5px,#582c2b 306.5px)"></i><i style="top:78px;background:linear-gradient(90deg,#4e4612 0.5px,#614724 2.5px,#834843 4.5px,#89424f 6.5px,#722b53 12.5px,#a45b4d 20.5px,#954d4f 24.5px,#712d4f 29.5px,#4d4513 34.5px,#4e4512 49.5px,#603c1a 51.5px,#86262d 54.5px,#640e2b 63.5px,#a23331 73.5px,#932a2f 77.5px,#650f2a 83.5px,#602622 86.5px,#5a371f 88.5px,#642632 92.5px,#5b202f 97.5px,#81272d 101.5px,#75172c 104.5px,#660f2b 107.5px,#791b2d 110.5px,#65132b 114.5px,#672a2f 117.5px,#5e222d 122.5px,#7e262d 125.5px,#741a2b 128.5px,#651129 131.5px,#7d202c 135.5px,#641428 139.5px,#523f15 143.5px,#563321 146.5px,#541f29 150.5px,#522525 156.5px,#543d17 159.5px,#7c2a28 162.5px,#7a1a2d 165.5px,#630d2a 170.5px,#8f282f 178.5px,#7b1c2d 182.5px,#630d29 186.5px,#4f0a09 192.5px,#4f0408 202.5px,#56130e 210.5px,#822328 213.5px,#821f2e 216.5px,#640d2a 222.5px,#982d30 231.5px,#8a252e 235.5px,#650f2a 240.5px,#602622 243.5px,#5a371f 245.5px,#602431 249.5px,#5e2332 253.5px,#74334c 257.5px,#61254d 263.5px,#702f4f 268.5px,#60274a 272.5px,#63352c 276.5px,#5c2130 280.5px,#74324c 285.5px,#63264d 291.5px,#74314f 295.5px,#612748 299.5px,#64302e 303.5px,#5b2b29 306.5px)"></i><i style="top:79px;background:linear-gradient(90deg,#4c4111 0.5px,#644622 2.5px,#8c503e 4.5px,#985049 6.5px,#70294f 15.5px,#92494b 21.5px,#712a4f 26.5px,#783b42 30.5px,#524017 33.5px,#494010 42.5px,#4b4010 49.5px,#633a19 51.5px,#8a3028 53.5px,#962a2d 55.5px,#5f0b27 66.5px,#8b242c 74.5px,#600c27 80.5px,#711828 84.5px,#5d361f 88.5px,#6c2933 92.5px,#5e202d 97.5px,#932a2d 102.5px,#731629 106.5px,#610c27 109.5px,#650f28 113.5px,#71292d 116.5px,#61222b 122.5px,#8a2c2c 125.5px,#87242b 128.5px,#600f26 133.5px,#651226 138.5px,#702225 140.5px,#523c14 143.5px,#573021 146.5px,#581f29 150.5px,#521e26 155.5px,#553a17 159.5px,#8f292b 163.5px,#7f1d2b 167.5px,#5f0b27 172.5px,#711629 176.5px,#7a1a2a 179.5px,#600b27 183.5px,#6e1524 187.5px,#4f0b0a 191.5px,#4e0308 202.5px,#500e0a 209.5px,#671a15 211.5px,#8e2927 213.5px,#992c2d 215.5px,#5f0b27 225.5px,#83202b 232.5px,#600b27 238.5px,#732126 242.5px,#5d361f 245.5px,#672631 249.5px,#5c1f2d 252.5px,#7f374a 257.5px,#5f2148 265.5px,#642548 271.5px,#66372e 275.5px,#692732 279.5px,#632531 281.5px,#7f374a 285.5px,#602248 293.5px,#682945 299.5px,#6a312e 303.5px,#632e2a 306.5px)"></i><i style="top:80px;background:linear-gradient(90deg,#493d11 0.5px,#634521 2.5px,#8f523d 4.5px,#9f5647 6.5px,#8c434a 12.5px,#6f284d 17.5px,#77304c 22.5px,#712a4d 25.5px,#8a4547 29.5px,#774732 31.5px,#513f17 33.5px,#463c10 38.5px,#483c10 49.5px,#623719 51.5px,#8d2f27 53.5px,#9c2b2c 56.5px,#811d29 63.5px,#5c0924 69.5px,#6b1226 74.5px,#5c0a24 78.5px,#862229 84.5px,#762f21 86.5px,#5e341f 88.5px,#702a33 92.5px,#67242f 97.5px,#992c2c 102.5px,#91252b 105.5px,#5f0b24 110.5px,#7e1f29 114.5px,#6e2c30 118.5px,#68252c 122.5px,#952c2b 126.5px,#872329 130.5px,#5f0e24 134.5px,#6b1425 137.5px,#7f2227 139.5px,#73301f 141.5px,#513914 143.5px,#4f3419 145.5px,#5e212b 149.5px,#541b26 154.5px,#533716 159.5px,#932a2a 163.5px,#8a222a 168.5px,#5a0924 175.5px,#620d25 179.5px,#5d0a24 182.5px,#7e1c27 186.5px,#731a1d 188.5px,#4f0a0a 191.5px,#4e0408 203.5px,#4f0d0a 209.5px,#671915 211.5px,#9d2c2b 214.5px,#98292c 219.5px,#5b0924 228.5px,#671025 232.5px,#5e0a24 236.5px,#872329 241.5px,#783021 243.5px,#5e341e 245.5px,#6b2832 249.5px,#672631 253.5px,#833848 257.5px,#783048 262.5px,#5e2045 267.5px,#753540 273.5px,#69342c 276.5px,#712b34 279.5px,#722e38 282.5px,#84384a 286.5px,#692646 292.5px,#5f2045 295.5px,#73323d 300.5px,#6b302e 304.5px,#682f2c 306.5px)"></i><i style="top:81px;background:linear-gradient(90deg,#463a11 0.5px,#5f4122 2.5px,#985346 5.5px,#9f5749 11.5px,#6d284f 20.5px,#7a334e 24.5px,#995346 29.5px,#7c4c32 31.5px,#4f3d17 33.5px,#433910 37.5px,#453910 49.5px,#5d3218 51.5px,#902728 54.5px,#9b282b 61.5px,#7b1926 67.5px,#580821 72.5px,#5c0a22 76.5px,#94252a 83.5px,#8c2b26 85.5px,#5c311e 88.5px,#6f2933 92.5px,#722831 98.5px,#99282b 103.5px,#91232a 107.5px,#741526 110.5px,#8d262a 114.5px,#6e292d 117.5px,#6e272e 122.5px,#942829 127.5px,#902629 131.5px,#701624 135.5px,#8e2828 139.5px,#76301f 141.5px,#4e3613 143.5px,#4b3018 145.5px,#5d1f2a 149.5px,#592326 156.5px,#4f3316 159.5px,#8c2428 163.5px,#95262a 168.5px,#781726 173.5px,#570721 177.5px,#5b0922 180.5px,#8d2228 186.5px,#791c1d 188.5px,#560e0d 190.5px,#4d0408 195.5px,#4c0909 207.5px,#55100d 210.5px,#952629 214.5px,#a02b2c 220.5px,#841d28 225.5px,#590822 230.5px,#5e0b22 234.5px,#96262a 240.5px,#902d27 242.5px,#5b311e 245.5px,#6c2631 250.5px,#75303c 255.5px,#853849 260.5px,#6f2a46 266.5px,#732d47 269.5px,#803646 272.5px,#66342d 275.5px,#732c36 281.5px,#853749 287.5px,#783047 292.5px,#6d2846 295.5px,#7e3544 299.5px,#692e2d 303.5px,#692f2c 306.5px)"></i><i style="top:82px;background:linear-gradient(90deg,#423611 0.5px,#593b24 2.5px,#8c494b 5.5px,#a65e4b 12.5px,#944d4e 17.5px,#7b3652 21.5px,#a35b4b 27.5px,#a05c48 29.5px,#7b4c34 31.5px,#4c3a17 33.5px,#403610 37.5px,#473212 50.5px,#7e1d25 54.5px,#9f292b 63.5px,#8e2128 68.5px,#650e22 73.5px,#751625 76.5px,#9c282a 81.5px,#992929 84.5px,#562d1d 88.5px,#6c2632 93.5px,#71232d 99.5px,#932429 104.5px,#9e292b 107.5px,#912329 111.5px,#9a282a 113.5px,#842729 115.5px,#66242a 117.5px,#70242d 123.5px,#8d2428 128.5px,#972829 132.5px,#8d2428 136.5px,#942928 139.5px,#4a3313 143.5px,#4c251d 146.5px,#5c1d2a 150.5px,#572226 156.5px,#4a2f15 159.5px,#821c27 164.5px,#98262a 170.5px,#871e27 174.5px,#630e22 178.5px,#972529 185.5px,#892124 187.5px,#540d0d 190.5px,#4d0308 196.5px,#510e0d 210.5px,#891f27 215.5px,#a42b2c 222.5px,#8f2228 227.5px,#681023 231.5px,#6e1224 233.5px,#9e292b 238.5px,#9e2b2a 241.5px,#562c1c 245.5px,#6a2531 250.5px,#762f46 257.5px,#87394a 264.5px,#7f3449 268.5px,#843948 272.5px,#602f2c 275.5px,#6b2730 278.5px,#752b37 281.5px,#762f46 285.5px,#87394a 291.5px,#82364a 296.5px,#813745 299.5px,#62292b 302.5px,#662b2b 306.5px)"></i><i style="top:83px;background:linear-gradient(90deg,#3f3312 0.5px,#513428 2.5px,#7a3b54 5.5px,#ab654f 14.5px,#9d5852 19.5px,#9a5552 22.5px,#ac654f 26.5px,#9e5b4e 29.5px,#5b3d27 32.5px,#3f3412 34.5px,#422e12 50.5px,#671325 54.5px,#a52f2d 65.5px,#9d2b2c 70.5px,#892229 74.5px,#a7302d 80.5px,#93292a 84.5px,#4f281b 88.5px,#5e1d2b 92.5px,#6d2532 97.5px,#651425 101.5px,#a52f2d 108.5px,#a02d2c 113.5px,#651f26 116.5px,#591e28 118.5px,#69232e 122.5px,#6a1525 126.5px,#9d2e2b 132.5px,#9a2d2b 138.5px,#7e2725 140.5px,#452f13 143.5px,#46211c 146.5px,#571c29 150.5px,#5b1f2a 155.5px,#442b15 159.5px,#661225 163.5px,#9f2c2c 172.5px,#91262a 176.5px,#882129 179.5px,#9f2c2c 183.5px,#912629 186.5px,#520c0d 190.5px,#4d0308 202.5px,#4d0c0d 210.5px,#701527 215.5px,#ab322e 224.5px,#a42f2c 228.5px,#8d242a 232.5px,#ac332e 237.5px,#a32e2d 240.5px,#872927 242.5px,#5b2a1c 244.5px,#4d221f 246.5px,#682230 251.5px,#632643 256.5px,#8d3e4e 265.5px,#873b4d 271.5px,#632f36 274.5px,#532425 276.5px,#6f2736 281.5px,#642644 284.5px,#8d3e4e 293.5px,#873b4c 298.5px,#562228 302.5px,#5d2528 306.5px)"></i><i style="top:84px;background:linear-gradient(90deg,#3c3113 0.5px,#4b302c 2.5px,#652f53 4.5px,#74365f 7.5px,#b36e54 17.5px,#ac6855 26.5px,#905056 29.5px,#683d3f 31.5px,#43331a 33.5px,#3a3110 38.5px,#3e2b13 50.5px,#570b27 54.5px,#7e1e2c 61.5px,#af3830 68.5px,#b03930 76.5px,#a1312f 81.5px,#712027 85.5px,#47231a 88.5px,#511726 92.5px,#65202f 96.5px,#570d27 101.5px,#771a2b 105.5px,#a93530 109.5px,#ad3730 111.5px,#83242b 114.5px,#581924 116.5px,#4e1823 118.5px,#601e2c 122.5px,#590e27 126.5px,#7d202b 130.5px,#a6362e 134.5px,#9d312d 137.5px,#5a2120 141.5px,#402c14 143.5px,#4c1726 149.5px,#5b1f2d 154.5px,#402816 159.5px,#570c27 163.5px,#82202c 169.5px,#a8352f 174.5px,#a2322f 183.5px,#731a26 187.5px,#4e0a0d 190.5px,#4c0308 203.5px,#4b0b0e 210.5px,#5c0c28 215.5px,#88232d 221.5px,#b53c31 227.5px,#b63c30 234.5px,#a93530 238.5px,#742128 242.5px,#47231a 245.5px,#521726 249.5px,#5e1e30 253.5px,#582147 256.5px,#7f3851 263.5px,#924452 267.5px,#7f3851 271.5px,#582938 274.5px,#4a1e23 276.5px,#621f2f 280.5px,#5b224d 285.5px,#924452 294.5px,#7f394f 298.5px,#4c1d25 302.5px,#511f23 306.5px)"></i><i style="top:85px;background:linear-gradient(90deg,#3c3416 0.5px,#52382f 2.5px,#723d58 4.5px,#723667 7.5px,#7a3d65 11.5px,#b97659 19.5px,#b67359 23.5px,#7b4161 29.5px,#5c3546 31.5px,#41331e 33.5px,#3a3413 36.5px,#402f16 50.5px,#64142d 54.5px,#620f2e 60.5px,#b94233 71.5px,#b84233 76.5px,#812230 82.5px,#5f172a 85.5px,#47251d 88.5px,#4d1524 93.5px,#60182a 100.5px,#65112f 105.5px,#a43632 110.5px,#952d31 112.5px,#60182a 115.5px,#4c1823 119.5px,#63142c 126.5px,#61122d 129.5px,#9c3431 134.5px,#9a3330 136.5px,#5e1929 140.5px,#3f2e17 143.5px,#4c1929 150.5px,#551e2d 154.5px,#41291b 158.5px,#582124 161.5px,#65142d 163.5px,#600e2e 167.5px,#8c2831 172.5px,#b03d33 176.5px,#b03d33 180.5px,#7c1e30 185.5px,#510b16 189.5px,#4b0609 193.5px,#4b0609 205.5px,#4d0d0f 210.5px,#63112d 214.5px,#610f2e 219.5px,#bc4434 229.5px,#c14734 233.5px,#a23532 237.5px,#61182a 242.5px,#46241d 245.5px,#4f1625 250.5px,#561f36 254.5px,#5f2753 257.5px,#612856 261.5px,#8c4456 267.5px,#642c53 272.5px,#4c2126 276.5px,#551a29 280.5px,#5e2653 285.5px,#622956 289.5px,#8a4356 294.5px,#7b3956 297.5px,#5a2641 300.5px,#4c1d23 303.5px,#481c20 306.5px)"></i><i style="top:86px;background:linear-gradient(90deg,#3e3919 0.5px,#5e4732 2.5px,#8e5958 4.5px,#935666 6.5px,#72396e 12.5px,#9a5d65 17.5px,#b5755f 20.5px,#a96a62 23.5px,#753c6c 28.5px,#6b3a5f 30.5px,#433921 33.5px,#3a3816 36.5px,#3c3717 49.5px,#573321 51.5px,#7d2b30 53.5px,#7d2135 56.5px,#631034 62.5px,#7a1e35 66.5px,#bb4837 73.5px,#ad3e36 76.5px,#6b1535 82.5px,#5f182f 85.5px,#4f2b23 88.5px,#5c202d 91.5px,#4f1727 96.5px,#591c29 98.5px,#892d33 101.5px,#822534 103.5px,#691434 106.5px,#8c2a36 110.5px,#7d2035 112.5px,#641b31 115.5px,#551e29 119.5px,#561d28 122.5px,#812a31 125.5px,#7d2433 127.5px,#661533 130.5px,#6d1a33 132.5px,#8a2c34 135.5px,#641731 139.5px,#41341b 144.5px,#5a2531 148.5px,#501d2e 153.5px,#492825 157.5px,#4a331e 159.5px,#812e30 162.5px,#832634 164.5px,#651134 169.5px,#751b35 172.5px,#af4036 177.5px,#b04136 179.5px,#6a1434 185.5px,#5d1224 188.5px,#4b090b 191.5px,#4c0409 203.5px,#4b0d0c 209.5px,#7d232e 213.5px,#7a1f34 216.5px,#641134 221.5px,#7e2135 225.5px,#bf4a37 231.5px,#b04136 234.5px,#681434 240.5px,#4e2a22 245.5px,#581e2b 248.5px,#4f1829 252.5px,#723659 257.5px,#602a5c 263.5px,#7b3c5b 267.5px,#5e2a59 272.5px,#58292d 276.5px,#51192a 280.5px,#6e3459 285.5px,#5e295c 290.5px,#793a5b 295.5px,#5e2954 299.5px,#5c2830 302.5px,#4f2125 306.5px)"></i><i style="top:87px;background:linear-gradient(90deg,#3f3f1c 0.5px,#4e4623 1.5px,#aa7557 4.5px,#b67a5f 5.5px,#9d6269 9.5px,#733d73 14.5px,#804970 17.5px,#a06469 20.5px,#9b606a 22.5px,#743e73 26.5px,#804a6b 29.5px,#80505f 30.5px,#474124 33.5px,#3a3c19 36.5px,#3e3c1a 49.5px,#643e25 51.5px,#9a4035 53.5px,#a43d3a 55.5px,#6b153a 65.5px,#751c3b 68.5px,#a73d3b 73.5px,#9f383b 75.5px,#6d163b 80.5px,#792239 84.5px,#6d302e 86.5px,#5b3429 88.5px,#6e2a36 91.5px,#541c2c 96.5px,#68262f 98.5px,#ad4838 101.5px,#ac423a 103.5px,#70193a 108.5px,#731b3a 113.5px,#782f36 116.5px,#5a222d 121.5px,#61252d 122.5px,#a14136 125.5px,#a13e38 127.5px,#6d1a39 132.5px,#6f1b39 136.5px,#772437 139.5px,#6f362c 141.5px,#493b1e 143.5px,#453a1f 144.5px,#693338 147.5px,#5f2837 150.5px,#4f1f30 153.5px,#54312c 157.5px,#533b22 159.5px,#a04435 162.5px,#a9403a 164.5px,#6e173a 171.5px,#761c3b 174.5px,#a0393b 178.5px,#83253b 181.5px,#6d163a 184.5px,#7a2233 187.5px,#4c0b0c 191.5px,#4c0309 202.5px,#4c0e0d 209.5px,#6b211d 211.5px,#993733 213.5px,#a03a3a 215.5px,#6b153b 224.5px,#7b1f3b 227.5px,#a93f3b 231.5px,#a23a3b 233.5px,#71193b 237.5px,#711a3a 240.5px,#752735 242.5px,#583328 245.5px,#672733 248.5px,#551d2d 252.5px,#844557 256.5px,#80425f 259.5px,#612d62 264.5px,#69345e 272.5px,#64373a 275.5px,#6a2934 278.5px,#5e2434 281.5px,#7e4158 284.5px,#733960 288.5px,#5f2c62 292.5px,#622e60 298.5px,#6a3034 303.5px,#5e2b2e 306.5px)"></i><i style="top:88px;background:linear-gradient(90deg,#41441f 0.5px,#524d26 1.5px,#c08956 4.5px,#cf915d 5.5px,#bf8265 9.5px,#774277 16.5px,#7b4776 19.5px,#844e74 21.5px,#734078 24.5px,#8a5372 27.5px,#a16968 29.5px,#9e6d5c 30.5px,#695736 32.5px,#4c4926 33.5px,#3a401c 35.5px,#3f401d 49.5px,#4f4321 50.5px,#af5139 53.5px,#bf523d 55.5px,#95333f 63.5px,#721941 68.5px,#7b1f41 71.5px,#892a40 74.5px,#711941 78.5px,#9a3a3d 84.5px,#954039 85.5px,#6e402d 87.5px,#643d2d 88.5px,#7c343d 91.5px,#662735 96.5px,#7c3437 98.5px,#ca5e3b 101.5px,#cf5e3d 103.5px,#9b383f 107.5px,#751c41 110.5px,#832640 112.5px,#9b3c3e 114.5px,#76323a 119.5px,#6b2d35 121.5px,#733134 122.5px,#bb563a 125.5px,#c0573b 127.5px,#892f3e 132.5px,#711c3f 135.5px,#993d3b 139.5px,#984537 140.5px,#4f4222 143.5px,#494023 144.5px,#753d3f 147.5px,#773842 149.5px,#5b2838 153.5px,#663539 156.5px,#563e2b 158.5px,#5a4326 159.5px,#b85838 162.5px,#c65a3c 163.5px,#b64b3e 167.5px,#741a41 174.5px,#832540 179.5px,#741b41 182.5px,#9b383d 186.5px,#9a3a36 187.5px,#591512 190.5px,#4a090b 192.5px,#4b0509 203.5px,#4e100e 209.5px,#5b1914 210.5px,#ad4837 213.5px,#ba4e3d 215.5px,#93323f 222.5px,#721941 227.5px,#8b2b40 232.5px,#721941 236.5px,#96373d 241.5px,#923d39 242.5px,#6b3f2d 244.5px,#613b2c 245.5px,#74303a 248.5px,#642735 252.5px,#94525a 256.5px,#8f4e62 260.5px,#602f67 267.5px,#7e4560 272.5px,#723b3a 276.5px,#7a333c 278.5px,#6f2f3d 281.5px,#8f4f60 285.5px,#713a65 291.5px,#5f2e67 295.5px,#783f5d 299.5px,#783c3d 302.5px,#6e3636 306.5px)"></i><i style="top:89px;background:linear-gradient(90deg,#424822 0.5px,#545229 1.5px,#c89257 4.5px,#d99c5d 5.5px,#d79861 9.5px,#ad746c 14.5px,#74427b 19.5px,#78467a 23.5px,#c08663 29.5px,#b78559 30.5px,#505028 33.5px,#3a441f 35.5px,#404520 49.5px,#524824 50.5px,#ba5c3c 53.5px,#cd6040 55.5px,#bc5242 62.5px,#761b47 72.5px,#7f2346 77.5px,#b54e42 83.5px,#b85340 84.5px,#ae543c 85.5px,#784a30 87.5px,#6b4331 88.5px,#853941 92.5px,#78323d 96.5px,#8d3f3e 98.5px,#d76c3e 101.5px,#e4723f 103.5px,#d16240 106.5px,#993744 110.5px,#aa4443 112.5px,#bc5740 114.5px,#8a413f 117.5px,#7c383c 121.5px,#843d3c 122.5px,#c8623e 125.5px,#d2683e 127.5px,#ba553f 131.5px,#8e3343 135.5px,#b9573e 139.5px,#b15b3a 140.5px,#524925 143.5px,#4b4527 144.5px,#834248 148.5px,#703642 154.5px,#733f40 156.5px,#5b452f 158.5px,#5e492a 159.5px,#c3633b 162.5px,#d4673f 163.5px,#d16340 167.5px,#a84243 172.5px,#7c2047 176.5px,#7b1f47 180.5px,#bc543f 186.5px,#b55139 187.5px,#5d1913 190.5px,#4a0a0b 192.5px,#4b0409 202.5px,#4e120f 209.5px,#5d1c15 210.5px,#b8523a 213.5px,#c95c41 215.5px,#b34b42 222.5px,#771c47 230.5px,#802346 235.5px,#b34e40 241.5px,#a9513c 242.5px,#754830 244.5px,#674130 245.5px,#7c353e 249.5px,#74313d 252.5px,#a15d61 257.5px,#8f5165 263.5px,#713c69 267.5px,#925461 272.5px,#774841 275.5px,#823841 279.5px,#85434c 282.5px,#975662 285.5px,#8b4e65 290.5px,#6e3b6a 295.5px,#884c5e 299.5px,#7f4240 302.5px,#7a3f3c 306.5px)"></i><i style="top:90px;background:linear-gradient(90deg,#424c25 0.5px,#54552d 1.5px,#c28e5b 4.5px,#da9c62 6.5px,#da9c62 12.5px,#a9726f 17.5px,#83527a 20.5px,#885678 22.5px,#d49763 28.5px,#d4995f 29.5px,#c59257 30.5px,#52552b 33.5px,#3f4b24 34.5px,#404923 49.5px,#524c27 50.5px,#b85d40 53.5px,#cd6244 55.5px,#cd6244 63.5px,#a74248 69.5px,#87274b 73.5px,#95344a 76.5px,#c95e44 82.5px,#cb6442 84.5px,#bb623e 85.5px,#7c5033 87.5px,#6c4733 88.5px,#883d43 92.5px,#8a3e42 97.5px,#c06141 100.5px,#e27541 102.5px,#e87841 106.5px,#c25945 110.5px,#d76c42 113.5px,#d16b41 114.5px,#8b4440 117.5px,#874041 121.5px,#a14e41 123.5px,#c76441 125.5px,#d87040 129.5px,#c05c42 133.5px,#b25144 135.5px,#ce6b3f 139.5px,#bf693b 140.5px,#544d28 143.5px,#4c482a 144.5px,#84454a 148.5px,#814449 155.5px,#5d4932 158.5px,#5f4d2d 159.5px,#795430 160.5px,#c1643f 162.5px,#d96c42 164.5px,#d76a43 170.5px,#a74348 175.5px,#8a2a4b 178.5px,#a64248 181.5px,#d26643 185.5px,#d36840 186.5px,#c5603a 187.5px,#5e1b14 190.5px,#4a0a0c 192.5px,#4b0409 202.5px,#4e1310 209.5px,#5d1d17 210.5px,#b7533e 213.5px,#cc6144 216.5px,#c55c45 223.5px,#87284b 231.5px,#95334a 234.5px,#c75d44 240.5px,#c66043 241.5px,#b75e3f 242.5px,#794e33 244.5px,#684532 245.5px,#803941 249.5px,#833e46 253.5px,#9f5e63 257.5px,#9f5e64 263.5px,#894f69 267.5px,#9f5f61 272.5px,#784b42 275.5px,#803e40 277.5px,#8a4850 282.5px,#985966 286.5px,#945666 291.5px,#834b6a 295.5px,#92555e 299.5px,#7e4441 302.5px,#80443e 306.5px)"></i><i style="top:91px;background:linear-gradient(90deg,#414f29 0.5px,#515531 1.5px,#ae7f62 4.5px,#cc9267 7.5px,#e1a361 13.5px,#c98f67 17.5px,#a77271 20.5px,#ac7670 22.5px,#dea162 27.5px,#d99f5f 29.5px,#c59458 30.5px,#51572e 33.5px,#3f4e27 34.5px,#3b4c25 48.5px,#504d2b 50.5px,#aa5244 53.5px,#c35b47 56.5px,#d56a45 64.5px,#bb5448 70.5px,#a5424a 74.5px,#d36945 81.5px,#ce6844 84.5px,#bb6340 85.5px,#795135 87.5px,#684734 88.5px,#7d3a41 91.5px,#954645 98.5px,#d96e44 103.5px,#ec7f42 107.5px,#e17543 111.5px,#e57a42 113.5px,#d67241 114.5px,#964d3f 116.5px,#83413f 117.5px,#8a4443 121.5px,#c86444 127.5px,#d97342 132.5px,#d06c43 136.5px,#d37141 139.5px,#be6b3e 140.5px,#534f2b 143.5px,#4a4b2c 144.5px,#7e444a 148.5px,#8a4a4e 154.5px,#7d4a48 156.5px,#5c4a35 158.5px,#5c4d30 159.5px,#94543c 161.5px,#b15843 162.5px,#cf6546 165.5px,#df7344 171.5px,#bc5548 176.5px,#ac474a 178.5px,#dc7144 184.5px,#d96f42 186.5px,#c7633c 187.5px,#5d1c15 190.5px,#4a0b0c 192.5px,#4b0409 202.5px,#4e1311 209.5px,#742b26 211.5px,#a94941 213.5px,#c05847 216.5px,#d06645 223.5px,#bb5448 228.5px,#a3404b 232.5px,#cf6645 239.5px,#ca6544 241.5px,#b86041 242.5px,#774f35 244.5px,#654534 245.5px,#783740 248.5px,#854149 253.5px,#935868 257.5px,#a76664 263.5px,#9e6066 268.5px,#a26462 272.5px,#734a44 275.5px,#793c40 277.5px,#8b454c 281.5px,#8c5369 285.5px,#9a5d67 292.5px,#93585f 299.5px,#774241 302.5px,#7e463f 306.5px)"></i><i style="top:92px;background:linear-gradient(90deg,#3f502c 0.5px,#615948 2.5px,#90676d 4.5px,#b7816e 8.5px,#e0a461 14.5px,#d89d64 18.5px,#c78e69 21.5px,#e1a561 26.5px,#cf9763 29.5px,#b7895e 30.5px,#4d5731 33.5px,#3a4f28 35.5px,#3f4e29 49.5px,#634737 51.5px,#954048 53.5px,#c75f48 61.5px,#d56c46 68.5px,#c15b49 74.5px,#d66d46 80.5px,#c46146 84.5px,#91543d 86.5px,#714c37 87.5px,#604336 88.5px,#703440 91.5px,#8b4246 97.5px,#9a4448 100.5px,#e77c44 107.5px,#ec8143 112.5px,#e37b43 113.5px,#a95841 115.5px,#87453f 116.5px,#753a3e 117.5px,#783b41 119.5px,#a74a49 126.5px,#d87443 132.5px,#d57243 138.5px,#ca6b43 139.5px,#8f593b 141.5px,#4f4f2e 143.5px,#474b2e 144.5px,#723e48 148.5px,#8e4e51 153.5px,#794948 156.5px,#574936 158.5px,#564a33 159.5px,#994448 162.5px,#cd6547 168.5px,#e07645 173.5px,#cc6547 179.5px,#e07645 183.5px,#d16a44 186.5px,#9a4433 188.5px,#5b1a16 190.5px,#4a0b0c 192.5px,#4b0409 202.5px,#4c1312 209.5px,#6b2429 211.5px,#943746 213.5px,#ca6347 222.5px,#cd6547 228.5px,#be5849 232.5px,#d16947 238.5px,#c15f47 241.5px,#ae5944 242.5px,#6f4b37 244.5px,#5e4235 245.5px,#6e323f 248.5px,#823e46 252.5px,#7b496a 256.5px,#a96965 265.5px,#a36566 271.5px,#8b5a5f 273.5px,#694545 275.5px,#6c363f 277.5px,#864147 280.5px,#77466c 284.5px,#9e6168 293.5px,#975d66 298.5px,#6a3d40 302.5px,#75433e 306.5px)"></i><i style="top:93px;background:linear-gradient(90deg,#3c502f 0.5px,#524e4f 2.5px,#714e78 4.5px,#8a5c7d 7.5px,#dea362 16.5px,#dfa362 25.5px,#b5836b 29.5px,#7d6759 31.5px,#475435 33.5px,#385029 36.5px,#3c4e2c 49.5px,#7f2c4d 53.5px,#a4414e 59.5px,#d56e47 68.5px,#d06948 80.5px,#b1514a 84.5px,#66433a 87.5px,#563d37 88.5px,#612c3e 91.5px,#823e45 96.5px,#822f4b 100.5px,#9e3b4f 103.5px,#e87f45 109.5px,#eb8244 111.5px,#d36e46 113.5px,#753840 116.5px,#65303e 117.5px,#69333f 119.5px,#7f3c46 122.5px,#8c314e 126.5px,#d87644 134.5px,#d06f45 137.5px,#b65b47 139.5px,#5e4b36 142.5px,#494c30 143.5px,#484335 145.5px,#633646 148.5px,#894c51 153.5px,#6e4347 156.5px,#4f4537 158.5px,#4e4535 159.5px,#8c2e50 163.5px,#db7447 173.5px,#db7347 183.5px,#bd5948 186.5px,#6c2425 189.5px,#4c0f10 191.5px,#4b0309 201.5px,#4b1213 209.5px,#80254a 213.5px,#a5424e 219.5px,#d16a48 227.5px,#ce6748 237.5px,#b0504a 241.5px,#65433a 244.5px,#553c37 245.5px,#612b3e 248.5px,#793a47 252.5px,#673c72 256.5px,#865370 261.5px,#aa6b66 267.5px,#965e6b 271.5px,#7b5065 273.5px,#5c3e48 275.5px,#5e2f3e 277.5px,#7a3a47 280.5px,#663b73 284.5px,#825072 289.5px,#9e6369 294.5px,#8d576a 298.5px,#613a49 301.5px,#60363c 304.5px,#673b3d 306.5px)"></i><i style="top:94px;background:linear-gradient(90deg,#395032 0.5px,#4b4a53 2.5px,#61437e 4.5px,#6c4588 7.5px,#a87774 13.5px,#dba163 18.5px,#e1a761 22.5px,#c18c6c 26.5px,#936877 29.5px,#655462 31.5px,#405039 33.5px,#36512b 36.5px,#3a4e2e 49.5px,#772550 53.5px,#832254 57.5px,#d57048 71.5px,#d16c49 77.5px,#993b4f 84.5px,#5c3b3d 87.5px,#51323a 89.5px,#5c2740 92.5px,#723444 97.5px,#76254d 100.5px,#862554 103.5px,#b7534d 107.5px,#db7548 110.5px,#cd6849 112.5px,#682e42 116.5px,#592a3e 118.5px,#723445 122.5px,#7c2252 126.5px,#993d4e 130.5px,#c96a48 134.5px,#c76848 136.5px,#9c444c 139.5px,#6c3c43 141.5px,#444932 143.5px,#454237 145.5px,#5a3045 148.5px,#7d464f 153.5px,#623c46 156.5px,#494238 158.5px,#573a3e 160.5px,#7e2053 163.5px,#983651 168.5px,#d97348 175.5px,#df7947 180.5px,#b24e4d 185.5px,#903447 187.5px,#521319 190.5px,#49080b 194.5px,#4a040a 202.5px,#4a1213 209.5px,#7a1f4d 213.5px,#8e2c53 219.5px,#d06a49 229.5px,#cc674a 235.5px,#993b4f 241.5px,#5b3a3d 244.5px,#50313a 246.5px,#5d2840 249.5px,#6d3346 252.5px,#5f387d 257.5px,#794a77 262.5px,#a0666a 267.5px,#825173 271.5px,#68446d 273.5px,#53384c 275.5px,#572a3f 277.5px,#6c354f 281.5px,#5e387d 285.5px,#774977 290.5px,#955e6e 294.5px,#875571 297.5px,#6f446b 299.5px,#543041 302.5px,#59333c 306.5px)"></i><i style="top:95px;background:linear-gradient(90deg,#3a5233 0.5px,#545352 2.5px,#74537a 4.5px,#68438b 9.5px,#825982 13.5px,#d69e65 20.5px,#c9936a 23.5px,#724e83 29.5px,#554869 31.5px,#3c4f3b 33.5px,#34512d 36.5px,#3a4f2f 49.5px,#5e443d 51.5px,#88354f 53.5px,#8d2c54 55.5px,#842356 61.5px,#d16d4a 73.5px,#c15d4d 77.5px,#852754 84.5px,#5a3940 87.5px,#5b383e 89.5px,#5e2842 94.5px,#6a2d46 98.5px,#8e3351 101.5px,#872655 105.5px,#c05c4d 110.5px,#af4d4f 112.5px,#8a324f 114.5px,#642f43 117.5px,#5c2c41 120.5px,#852b52 126.5px,#842953 130.5px,#b5584c 135.5px,#862f51 139.5px,#643446 141.5px,#434935 143.5px,#4a463a 145.5px,#603549 148.5px,#62354a 151.5px,#6b3b4c 154.5px,#4f3d3f 157.5px,#4e4639 159.5px,#88354f 162.5px,#882655 165.5px,#8a2855 169.5px,#d67249 177.5px,#d16d4a 180.5px,#8b2b52 186.5px,#6d1c3d 188.5px,#501119 190.5px,#49080b 194.5px,#4a040a 202.5px,#4b1314 209.5px,#8f334b 213.5px,#882655 217.5px,#872655 221.5px,#cc684b 231.5px,#bc584d 235.5px,#862854 241.5px,#593940 244.5px,#58363e 246.5px,#5d2842 250.5px,#64314e 253.5px,#6f457b 257.5px,#623b81 261.5px,#8d5a72 267.5px,#643f7d 272.5px,#583d62 274.5px,#5b3645 276.5px,#612c46 280.5px,#6f4574 284.5px,#613b81 289.5px,#845475 295.5px,#6b4279 298.5px,#5f3a62 300.5px,#5c3644 302.5px,#522f3d 306.5px)"></i><i style="top:96px;background:linear-gradient(90deg,#3b5434 0.5px,#62604f 2.5px,#916d71 4.5px,#92687d 6.5px,#67458c 12.5px,#775386 15.5px,#b98870 20.5px,#b48471 22.5px,#6e4b89 27.5px,#674788 29.5px,#5c5068 31.5px,#3d523c 33.5px,#32522f 36.5px,#34522f 48.5px,#4d5136 50.5px,#a14e4d 53.5px,#a94751 55.5px,#842257 63.5px,#9a3854 68.5px,#bf5d4e 73.5px,#a94752 77.5px,#852357 82.5px,#7f2f51 85.5px,#644242 87.5px,#6a4342 89.5px,#763b47 91.5px,#5e2945 96.5px,#713447 98.5px,#9e4b4c 100.5px,#ad4d50 102.5px,#8a2956 106.5px,#8f2d56 108.5px,#a03e53 110.5px,#852c53 114.5px,#753c47 117.5px,#612e44 121.5px,#99424f 125.5px,#892d54 129.5px,#852955 132.5px,#9a3e51 135.5px,#832855 138.5px,#7a304f 140.5px,#454c36 143.5px,#444e37 144.5px,#6d444c 147.5px,#5f344c 153.5px,#544142 157.5px,#554e3a 159.5px,#a14d4d 162.5px,#a64452 164.5px,#852357 170.5px,#a03e53 174.5px,#c6634d 178.5px,#ad4b51 181.5px,#872557 185.5px,#80254d 187.5px,#4a0f11 191.5px,#4a0309 201.5px,#4d1614 209.5px,#79332c 211.5px,#ad5148 213.5px,#b14f50 215.5px,#852357 222.5px,#943255 226.5px,#bb594f 231.5px,#ae4c51 234.5px,#872557 239.5px,#813151 242.5px,#644241 244.5px,#654041 246.5px,#6e3546 248.5px,#602c47 252.5px,#8b5a6c 256.5px,#734a7c 260.5px,#613d83 263.5px,#72497d 268.5px,#613d82 271.5px,#664573 273.5px,#654650 275.5px,#6d3546 278.5px,#632e48 280.5px,#8a5a6c 284.5px,#7a4f7a 287.5px,#603d83 291.5px,#6f477e 295.5px,#623d7f 298.5px,#6c4247 302.5px,#5d3741 306.5px)"></i><i style="top:97px;background:linear-gradient(90deg,#3c5736 0.5px,#4f5f3e 1.5px,#ac856a 4.5px,#b18473 6.5px,#68488c 14.5px,#6f4e89 17.5px,#936b7d 20.5px,#8e677f 22.5px,#69498b 25.5px,#69498b 27.5px,#7c6076 30.5px,#575d4d 32.5px,#355434 34.5px,#335331 48.5px,#3b5432 49.5px,#515737 50.5px,#9c6245 52.5px,#b8654b 53.5px,#c2624f 55.5px,#862359 66.5px,#933057 70.5px,#a74554 74.5px,#862359 80.5px,#993b54 84.5px,#95444f 85.5px,#724f42 87.5px,#6e4f41 88.5px,#89494a 91.5px,#693148 96.5px,#844349 98.5px,#b7644b 100.5px,#c76c4c 101.5px,#c4634f 103.5px,#8d2a58 108.5px,#8b2958 112.5px,#94464e 115.5px,#7a4248 119.5px,#6e3847 121.5px,#89454a 123.5px,#ad564e 125.5px,#a64b51 128.5px,#832757 133.5px,#882d55 138.5px,#8b414e 140.5px,#495138 143.5px,#48523a 144.5px,#7a4f51 147.5px,#784753 149.5px,#5c344d 153.5px,#65424c 156.5px,#56503f 158.5px,#5d563c 159.5px,#b7654b 162.5px,#c0604f 164.5px,#882559 172.5px,#923057 175.5px,#ab4953 178.5px,#882559 183.5px,#94394b 187.5px,#56191a 190.5px,#470a0d 193.5px,#49040a 202.5px,#481110 208.5px,#4f1814 209.5px,#64291d 210.5px,#ad5b3b 212.5px,#c86d45 213.5px,#d0704c 215.5px,#872559 225.5px,#963456 229.5px,#a54354 232.5px,#872459 237.5px,#9e4053 241.5px,#9a4a4e 242.5px,#735141 244.5px,#6a4d41 245.5px,#7e4149 248.5px,#6b344a 252.5px,#a56f64 256.5px,#9a676f 259.5px,#613f84 265.5px,#664282 270.5px,#7d576c 273.5px,#794c49 276.5px,#7e4149 278.5px,#72384a 280.5px,#885156 282.5px,#a46e65 284.5px,#976670 287.5px,#634083 292.5px,#644182 297.5px,#7c5160 300.5px,#794b46 303.5px,#6d4344 306.5px)"></i><i style="top:98px;background:linear-gradient(90deg,#3d5937 0.5px,#53633f 1.5px,#a1885a 3.5px,#be9565 4.5px,#ca9a6a 5.5px,#af8375 10.5px,#64488d 17.5px,#6b4d8b 22.5px,#64488d 24.5px,#9a7478 29.5px,#98796e 30.5px,#84745d 31.5px,#455c3c 33.5px,#305333 35.5px,#315333 48.5px,#3b5634 49.5px,#545b38 50.5px,#a86f45 52.5px,#c7754a 53.5px,#d5764d 55.5px,#af4e54 63.5px,#88255a 69.5px,#8c295a 75.5px,#89265a 78.5px,#b35751 84.5px,#ac5d4d 85.5px,#7e5b43 87.5px,#775843 88.5px,#98554c 91.5px,#7e404b 96.5px,#85454b 97.5px,#d9804a 101.5px,#db7d4c 103.5px,#a24156 108.5px,#902d59 110.5px,#9b3a57 112.5px,#ad5551 114.5px,#95564b 117.5px,#80464a 121.5px,#9a534b 123.5px,#bb664d 125.5px,#b85f4f 128.5px,#862958 135.5px,#a24b51 139.5px,#9d544d 140.5px,#4c5539 143.5px,#4a553c 144.5px,#845754 147.5px,#865257 149.5px,#693e51 153.5px,#724d50 156.5px,#5c5642 158.5px,#625c3e 159.5px,#c6754a 162.5px,#d3774c 163.5px,#be5e51 168.5px,#89265a 175.5px,#902c59 179.5px,#8c295a 182.5px,#af5051 186.5px,#ab5149 187.5px,#763128 189.5px,#5a1d1a 190.5px,#470c0e 192.5px,#490309 201.5px,#471110 208.5px,#501a15 209.5px,#692e1e 210.5px,#bb6b3a 212.5px,#d98144 213.5px,#e68948 214.5px,#d3744d 219.5px,#89265a 228.5px,#8d2b59 236.5px,#bd614f 241.5px,#b6684b 242.5px,#805e42 244.5px,#735642 245.5px,#8b4b4c 248.5px,#7c404c 252.5px,#b87d5f 256.5px,#b37b66 259.5px,#644384 267.5px,#7d557b 270.5px,#96676e 272.5px,#8c6658 274.5px,#85554a 276.5px,#88484c 279.5px,#8a4e50 281.5px,#b77d5f 284.5px,#b17967 287.5px,#654484 294.5px,#6d4981 296.5px,#8f6169 299.5px,#88584a 302.5px,#7c4f47 306.5px)"></i><i style="top:99px;background:linear-gradient(90deg,#3c5b39 0.5px,#536640 1.5px,#a68d5b 3.5px,#c49c64 4.5px,#d4a36a 6.5px,#c09370 11.5px,#5f468f 20.5px,#6b4f8c 23.5px,#b68d70 29.5px,#af8d67 30.5px,#938259 31.5px,#475f3d 33.5px,#345736 34.5px,#2d5334 47.5px,#3a5736 49.5px,#555e3a 50.5px,#ac7446 52.5px,#cc7c4a 53.5px,#dd804d 55.5px,#cd6f50 62.5px,#8a265c 72.5px,#8f2c5b 76.5px,#c96f4f 84.5px,#bd704b 85.5px,#856343 87.5px,#7c5d44 88.5px,#a05b4e 91.5px,#924f4e 96.5px,#a8604d 98.5px,#e1894a 101.5px,#e5894b 104.5px,#bf6052 108.5px,#ab4a56 110.5px,#b85953 112.5px,#c26d4e 114.5px,#97594c 118.5px,#90524c 121.5px,#a55d4d 123.5px,#c66f4e 126.5px,#b55c51 131.5px,#983d56 135.5px,#b45f50 139.5px,#aa644c 140.5px,#4d583b 143.5px,#4b563e 144.5px,#885b56 147.5px,#8b5759 150.5px,#7b4d56 154.5px,#7d5654 156.5px,#605a44 158.5px,#655f40 159.5px,#cc7c4a 162.5px,#dc804d 164.5px,#c66851 170.5px,#8b275c 177.5px,#8f2c5b 180.5px,#c6694e 186.5px,#bd6647 187.5px,#5c211a 190.5px,#470c0e 192.5px,#490309 201.5px,#471111 208.5px,#511b15 209.5px,#6b311e 210.5px,#c0723a 212.5px,#df8944 213.5px,#f09549 215.5px,#de814d 221.5px,#8d2a5b 230.5px,#8c295b 233.5px,#d77e4c 241.5px,#cb7f49 242.5px,#886842 244.5px,#785b43 245.5px,#92514d 248.5px,#8b4c4f 252.5px,#bf845d 256.5px,#bf8562 260.5px,#916474 265.5px,#7e577b 267.5px,#9b6c70 270.5px,#af7b66 272.5px,#997055 274.5px,#8b634d 275.5px,#94524e 279.5px,#995a52 281.5px,#be845e 284.5px,#bd8363 288.5px,#80597a 294.5px,#895f77 296.5px,#a57162 299.5px,#8d5d4b 302.5px,#875749 306.5px)"></i><i style="top:100px;background:linear-gradient(90deg,#3a5b3b 0.5px,#506543 1.5px,#9e895f 3.5px,#bb9668 4.5px,#cfa06c 6.5px,#cd9f6d 12.5px,#9d797d 17.5px,#775b89 20.5px,#7c5f87 22.5px,#c79a6f 28.5px,#c99d6b 29.5px,#bc9865 30.5px,#47613e 33.5px,#335838 34.5px,#2b5436 42.5px,#2e5536 48.5px,#385738 49.5px,#535d3c 50.5px,#a77048 52.5px,#c6774c 53.5px,#d97e4e 55.5px,#d87c4f 63.5px,#ae4e57 70.5px,#99365a 73.5px,#af5056 77.5px,#d77c4f 83.5px,#d57e4d 84.5px,#c67b4b 85.5px,#866644 87.5px,#7b5d45 88.5px,#a35d4f 92.5px,#a55e4f 97.5px,#e38a4c 102.5px,#e68c4c 106.5px,#c86b52 110.5px,#d67e4e 113.5px,#bc734c 115.5px,#9a5d4d 117.5px,#9f5c4e 122.5px,#c36d50 126.5px,#c26c50 131.5px,#ad5554 135.5px,#bf6d4f 139.5px,#b16c4c 140.5px,#4c593d 143.5px,#49573f 144.5px,#845a57 147.5px,#915d5b 150.5px,#835b56 156.5px,#605b46 158.5px,#635e42 159.5px,#c6784c 162.5px,#da7f4e 164.5px,#d77c4f 170.5px,#a74758 176.5px,#9a385a 178.5px,#bb5c54 182.5px,#d47a4d 186.5px,#c77246 187.5px,#5d221a 190.5px,#470d0f 192.5px,#490309 201.5px,#471211 208.5px,#501b16 209.5px,#693020 210.5px,#ba6d3c 212.5px,#d88446 213.5px,#ec934b 215.5px,#ed954b 221.5px,#d07450 226.5px,#a03e59 231.5px,#a54458 233.5px,#e2884d 239.5px,#e7924a 241.5px,#d68d48 242.5px,#8a6c43 244.5px,#785c45 245.5px,#95534f 249.5px,#965551 252.5px,#bf8762 257.5px,#c38962 262.5px,#9e6f70 267.5px,#be8760 272.5px,#9d7454 274.5px,#8b644e 275.5px,#97564f 278.5px,#a06054 281.5px,#be8662 285.5px,#c08763 290.5px,#9f7070 294.5px,#b68063 298.5px,#a47156 300.5px,#8b5d4c 302.5px,#8b5c4a 306.5px)"></i><i style="top:101px;background:linear-gradient(90deg,#365a3e 0.5px,#6a6e56 2.5px,#a58671 4.5px,#cb9f6f 9.5px,#d0a36d 14.5px,#97777f 21.5px,#d0a26d 27.5px,#cda26b 29.5px,#bb9966 30.5px,#446141 33.5px,#31583a 34.5px,#2a5538 47.5px,#36563a 49.5px,#4e593e 50.5px,#9a634c 52.5px,#b66850 53.5px,#cd7351 56.5px,#dc844f 64.5px,#c56a53 70.5px,#b15457 74.5px,#da814f 81.5px,#d7824e 84.5px,#c47b4c 85.5px,#816346 87.5px,#745947 88.5px,#9a5951 92.5px,#b56851 99.5px,#e58d4d 105.5px,#e1894e 109.5px,#df8b4d 113.5px,#b6714d 115.5px,#8f564f 117.5px,#b15e53 125.5px,#c57150 132.5px,#bf6a51 136.5px,#c0714f 139.5px,#af6c4d 140.5px,#49583f 143.5px,#455541 144.5px,#84575a 148.5px,#905f5c 153.5px,#8e5f5b 155.5px,#5c5948 158.5px,#5e5a44 159.5px,#b66850 162.5px,#cf7651 165.5px,#dc834f 171.5px,#bf6354 176.5px,#b25556 178.5px,#d9814f 184.5px,#d7804d 186.5px,#c77447 187.5px,#5c221b 190.5px,#460d0f 192.5px,#480309 201.5px,#461112 208.5px,#4e1a17 209.5px,#642b21 210.5px,#c6714b 213.5px,#e38b4d 217.5px,#f09a4b 223.5px,#d77e50 228.5px,#be6254 231.5px,#c36853 233.5px,#eb954c 238.5px,#ea974b 241.5px,#d48e49 242.5px,#856945 244.5px,#715847 245.5px,#8a4e50 248.5px,#9a5e57 253.5px,#ad7c6a 257.5px,#c78e61 263.5px,#ba8566 268.5px,#c68d61 271.5px,#b0815d 273.5px,#835f51 275.5px,#87514f 277.5px,#9d6157 281.5px,#ac7b6a 285.5px,#c58c61 290.5px,#b88367 295.5px,#bf8760 298.5px,#81574d 302.5px,#875b4c 306.5px)"></i><i style="top:102px;background:linear-gradient(90deg,#325841 0.5px,#58625e 2.5px,#856f7c 4.5px,#cea36f 13.5px,#cea36f 17.5px,#b79176 21.5px,#d2a66e 26.5px,#c29b70 29.5px,#ab8f6c 30.5px,#3f5e44 33.5px,#29553a 35.5px,#2a553a 48.5px,#32543c 49.5px,#675149 51.5px,#9e5055 53.5px,#ce7752 61.5px,#db8550 68.5px,#c87053 74.5px,#dc864f 80.5px,#cc7951 84.5px,#b8704f 85.5px,#765a49 87.5px,#68514a 88.5px,#824b52 91.5px,#a16052 96.5px,#a65655 100.5px,#c06854 103.5px,#e7934d 108.5px,#e6924d 112.5px,#c67a4f 114.5px,#8b5451 116.5px,#7e4b51 117.5px,#975752 122.5px,#a14d57 126.5px,#c47451 133.5px,#c17051 138.5px,#a56350 140.5px,#5e5745 142.5px,#445541 143.5px,#3f5242 144.5px,#754f59 148.5px,#91615d 153.5px,#8a5e5c 155.5px,#545449 158.5px,#555346 159.5px,#9f5055 162.5px,#d27b51 169.5px,#da8450 174.5px,#c87053 178.5px,#db8550 184.5px,#cf7a4f 186.5px,#bc6a4a 187.5px,#591f1c 190.5px,#450d0f 192.5px,#480309 201.5px,#451112 208.5px,#5d2424 210.5px,#aa5450 213.5px,#ec984c 223.5px,#ea954d 228.5px,#d88250 232.5px,#ef9c4c 238.5px,#df8d4d 241.5px,#c7814c 242.5px,#7a5f48 244.5px,#675149 245.5px,#734451 247.5px,#925756 252.5px,#896475 256.5px,#c58e62 264.5px,#c08b64 271.5px,#a17864 273.5px,#745655 275.5px,#784752 277.5px,#925756 280.5px,#896476 284.5px,#c58e62 292.5px,#c38d62 297.5px,#a87860 299.5px,#7b5654 301.5px,#724d4e 303.5px,#7d554d 306.5px)"></i><i style="top:103px;background:linear-gradient(90deg,#2c5544 0.5px,#615688 4.5px,#8f7483 9.5px,#c9a171 15.5px,#d0a66f 19.5px,#cfa570 25.5px,#b79377 28.5px,#907c75 30.5px,#375b47 33.5px,#27563c 35.5px,#28553c 48.5px,#404c44 50.5px,#84365b 53.5px,#a34b5a 58.5px,#d78351 67.5px,#d88551 79.5px,#b76555 84.5px,#845450 86.5px,#674d4c 87.5px,#5a464d 88.5px,#6e3d55 91.5px,#945854 96.5px,#8a3b5b 100.5px,#973e5c 102.5px,#e3904f 109.5px,#e5934e 111.5px,#cd7d51 113.5px,#774454 116.5px,#6b3e54 117.5px,#884c55 122.5px,#85345c 125.5px,#a85756 130.5px,#c17352 134.5px,#b46554 138.5px,#935354 140.5px,#544f47 142.5px,#3e5043 143.5px,#394f44 144.5px,#634459 148.5px,#8a5e5d 153.5px,#7f585c 155.5px,#4a4d4a 158.5px,#4b4a49 159.5px,#85365b 162.5px,#ac5458 167.5px,#d68351 173.5px,#d68251 183.5px,#bc6753 186.5px,#8b4140 188.5px,#541b1d 190.5px,#450d10 192.5px,#48030a 201.5px,#481519 209.5px,#8b3557 213.5px,#eb9a4d 226.5px,#eb994d 237.5px,#c77652 241.5px,#8b5d4e 243.5px,#6a514c 244.5px,#59474c 245.5px,#6b3b55 248.5px,#865059 252.5px,#695083 256.5px,#977076 261.5px,#c59063 266.5px,#c18d64 269.5px,#9e7670 272.5px,#614a5b 275.5px,#663c55 277.5px,#824d59 280.5px,#6a5083 284.5px,#997275 289.5px,#c18d64 293.5px,#c18d64 296.5px,#a97c69 298.5px,#674a59 301.5px,#604251 303.5px,#6d4b50 306.5px)"></i><i style="top:104px;background:linear-gradient(90deg,#295447 0.5px,#394d6b 2.5px,#4a4790 4.5px,#685990 9.5px,#cba472 18.5px,#d1a870 22.5px,#b2917a 26.5px,#6e6481 30.5px,#2f564b 33.5px,#24563d 36.5px,#26553d 48.5px,#3b4946 50.5px,#75275e 53.5px,#872f5f 58.5px,#d58452 70.5px,#d88751 76.5px,#b15d58 82.5px,#894359 85.5px,#594150 87.5px,#4f3f50 88.5px,#5e3458 91.5px,#814c57 96.5px,#772a5e 100.5px,#852c60 103.5px,#d68552 110.5px,#c87754 112.5px,#7c4158 115.5px,#663857 116.5px,#5d3657 118.5px,#784158 122.5px,#75275f 125.5px,#87365d 129.5px,#b46855 134.5px,#ab5d56 137.5px,#7f3f58 140.5px,#384c45 143.5px,#3d474c 145.5px,#553b5a 148.5px,#7c565d 153.5px,#6e4e5c 155.5px,#41484c 158.5px,#43444b 159.5px,#74265e 162.5px,#88305f 166.5px,#d38252 175.5px,#d88751 180.5px,#af5b58 185.5px,#8f3e53 187.5px,#4f161f 190.5px,#440a0e 193.5px,#47030a 201.5px,#46131a 209.5px,#77235b 213.5px,#963f5d 219.5px,#e7974f 228.5px,#efa04d 233.5px,#d88751 237.5px,#a75558 241.5px,#5b4350 244.5px,#503f4f 245.5px,#5e3358 248.5px,#75465c 252.5px,#54438d 256.5px,#695389 260.5px,#b4866a 266.5px,#b6876a 268.5px,#7e627e 272.5px,#5b4b6f 274.5px,#543959 276.5px,#6a3c59 279.5px,#6e4566 281.5px,#54438d 284.5px,#6c5488 288.5px,#b6876a 294.5px,#ae826d 296.5px,#795b72 299.5px,#58405e 301.5px,#593e53 305.5px,#5c4053 306.5px)"></i><i style="top:105px;background:linear-gradient(90deg,#295648 0.5px,#57528d 4.5px,#534b96 10.5px,#8c7686 15.5px,#c5a175 20.5px,#c29f76 22.5px,#6e608e 28.5px,#504f8a 30.5px,#29544e 33.5px,#22573f 36.5px,#24563f 48.5px,#3f5047 50.5px,#754256 52.5px,#8a385e 54.5px,#7c2661 60.5px,#ab5959 67.5px,#d38453 73.5px,#c27256 77.5px,#812f5f 84.5px,#553e53 87.5px,#643a5a 91.5px,#683b5a 95.5px,#793a5c 99.5px,#88345f 102.5px,#812b61 105.5px,#bb6a57 110.5px,#ab5a59 112.5px,#843c5c 114.5px,#67385a 116.5px,#5e3859 120.5px,#79355d 124.5px,#772760 129.5px,#a35758 135.5px,#7c315e 139.5px,#5a3755 141.5px,#364c47 143.5px,#424c4e 145.5px,#58435a 147.5px,#5d415d 151.5px,#6a4b5d 153.5px,#474553 157.5px,#40494d 158.5px,#46494c 159.5px,#7e345d 162.5px,#7b2562 167.5px,#a04d5b 172.5px,#cf8053 177.5px,#ca7a54 180.5px,#86325d 186.5px,#681f47 188.5px,#450f15 191.5px,#47030a 201.5px,#48161a 209.5px,#863559 213.5px,#7d2761 219.5px,#a4515b 224.5px,#e19450 230.5px,#e29550 233.5px,#86355e 241.5px,#633657 243.5px,#524152 245.5px,#61375a 248.5px,#673d5f 252.5px,#5b4a90 257.5px,#594a91 261.5px,#9e7875 267.5px,#7d6282 270.5px,#614f8b 272.5px,#524775 274.5px,#5b405c 276.5px,#633a5f 280.5px,#5b4a90 285.5px,#564793 288.5px,#725b87 291.5px,#9a7676 294.5px,#906f7a 296.5px,#634e7d 299.5px,#563f59 302.5px,#503a55 306.5px)"></i><i style="top:106px;background:linear-gradient(90deg,#2b5a49 0.5px,#726986 4.5px,#695e91 7.5px,#4d4999 12.5px,#645b92 15.5px,#a98e7e 20.5px,#a48a7f 22.5px,#514c97 28.5px,#4a4d8d 30.5px,#2a564f 33.5px,#215740 36.5px,#235841 48.5px,#2e5843 49.5px,#6c5d4d 51.5px,#8f6053 52.5px,#a46057 53.5px,#a7585b 55.5px,#7a2762 62.5px,#853360 66.5px,#be7157 73.5px,#a6575b 77.5px,#7c2962 82.5px,#76335d 85.5px,#614a53 87.5px,#6e5155 89.5px,#784b5a 91.5px,#5f375d 95.5px,#663a5d 97.5px,#9e5a59 100.5px,#a6585b 102.5px,#7f2c61 106.5px,#863460 108.5px,#99485d 110.5px,#803260 113.5px,#70475a 117.5px,#603a5b 121.5px,#90495b 125.5px,#742861 131.5px,#8a3f5d 135.5px,#732a60 139.5px,#5e3e55 141.5px,#3a5149 143.5px,#3c554a 144.5px,#6b525d 147.5px,#573f5e 152.5px,#53435a 156.5px,#47504f 158.5px,#4f534d 159.5px,#944e5a 162.5px,#95445e 164.5px,#792662 169.5px,#833161 172.5px,#bd7057 178.5px,#a5555b 181.5px,#7b2862 185.5px,#732558 187.5px,#451015 191.5px,#47030a 201.5px,#431214 208.5px,#5d2827 210.5px,#934d4a 212.5px,#a35755 213.5px,#9c4b5d 216.5px,#7b2862 221.5px,#833161 224.5px,#cd8154 231.5px,#c77b55 233.5px,#812e61 239.5px,#792a61 241.5px,#5e4853 244.5px,#684d56 246.5px,#70455b 248.5px,#5f3961 252.5px,#725b83 256.5px,#564a94 263.5px,#7b6284 267.5px,#554991 272.5px,#6c4f5c 276.5px,#6f445b 278.5px,#623b61 280.5px,#725c83 284.5px,#554994 290.5px,#776086 294.5px,#6e5a89 296.5px,#5a4c8d 298.5px,#624a5a 302.5px,#564057 306.5px)"></i><i style="top:107px;background:linear-gradient(90deg,#2d5d4a 0.5px,#5f6f65 2.5px,#8d7e7f 4.5px,#877689 7.5px,#4c4b9a 14.5px,#5b5695 17.5px,#82738a 20.5px,#7c6f8c 22.5px,#4d4c99 26.5px,#5b5793 29.5px,#556076 31.5px,#2e5b4f 33.5px,#1f5842 36.5px,#235943 48.5px,#315d44 49.5px,#516647 50.5px,#a97d50 52.5px,#c38453 53.5px,#c97f56 55.5px,#762663 66.5px,#893a60 70.5px,#a1545c 73.5px,#91425f 76.5px,#772763 80.5px,#883a60 83.5px,#8f515a 85.5px,#735d52 87.5px,#736052 88.5px,#8d6259 90.5px,#89595b 92.5px,#68405e 96.5px,#72465d 97.5px,#bd7c56 100.5px,#c98255 101.5px,#bf7457 103.5px,#7d2d62 108.5px,#7b2c62 112.5px,#86575a 116.5px,#6a455c 121.5px,#87535a 123.5px,#a46159 125.5px,#97515b 128.5px,#742b61 132.5px,#772e60 138.5px,#7c445a 140.5px,#3f584a 143.5px,#425b4c 144.5px,#7d615f 147.5px,#775861 149.5px,#553f60 153.5px,#604e5d 156.5px,#515a51 158.5px,#595e4e 159.5px,#aa6957 162.5px,#ae625a 164.5px,#762663 172.5px,#853661 175.5px,#a0535c 178.5px,#772763 183.5px,#833956 187.5px,#461115 191.5px,#47030a 201.5px,#431314 208.5px,#4d1d1a 209.5px,#894f37 211.5px,#ab6947 212.5px,#c07951 213.5px,#c27857 215.5px,#792a62 224.5px,#813161 227.5px,#aa5e5b 231.5px,#a4575c 233.5px,#7a2a62 237.5px,#843561 240.5px,#8b4d5a 242.5px,#6e5952 244.5px,#6c5a53 245.5px,#82595a 247.5px,#7c4f5d 249.5px,#674162 252.5px,#886c7c 256.5px,#6b598c 261.5px,#544a96 265.5px,#594d94 268.5px,#5a4e93 271.5px,#6d5d71 274.5px,#7e5e5c 276.5px,#83555c 278.5px,#704861 280.5px,#896d7b 284.5px,#725e89 288.5px,#554a96 292.5px,#5b4e8e 298.5px,#6f575a 302.5px,#634c58 306.5px)"></i><i style="top:108px;background:linear-gradient(90deg,#2f604b 0.5px,#466955 1.5px,#8c8672 3.5px,#a18e7b 4.5px,#a18b82 7.5px,#4a4b9b 17.5px,#5c5996 21.5px,#4a4c9b 24.5px,#605c95 27.5px,#786e8b 29.5px,#787382 30.5px,#4d695f 32.5px,#235b47 34.5px,#215a44 48.5px,#326045 49.5px,#576e48 50.5px,#bc944e 52.5px,#da9f50 53.5px,#e49f52 55.5px,#bd7558 61.5px,#792c63 68.5px,#772b63 71.5px,#813562 74.5px,#762963 78.5px,#aa605b 83.5px,#ae7556 85.5px,#847051 87.5px,#816d52 88.5px,#9d7059 90.5px,#9d6b5b 92.5px,#7e535e 96.5px,#885b5d 97.5px,#d59653 100.5px,#e39e52 102.5px,#c57e57 105.5px,#833761 109.5px,#7d3162 111.5px,#a0605b 114.5px,#96685a 116.5px,#7a535c 121.5px,#96645a 123.5px,#b47557 125.5px,#a4615a 129.5px,#722c62 134.5px,#732d62 136.5px,#91515c 139.5px,#8f5b58 140.5px,#435e4b 143.5px,#47604e 144.5px,#8c6d61 147.5px,#8a6763 149.5px,#634b62 153.5px,#715d5f 156.5px,#5a6252 158.5px,#61674f 159.5px,#bb7d55 162.5px,#c27a57 164.5px,#974c5e 170.5px,#752864 174.5px,#7e3162 179.5px,#752864 182.5px,#99505c 186.5px,#995353 187.5px,#6e3530 189.5px,#471315 191.5px,#470209 200.5px,#431314 208.5px,#4f201b 209.5px,#965e37 211.5px,#bd7f45 212.5px,#d5924e 213.5px,#dc9653 215.5px,#b1685a 221.5px,#772a63 227.5px,#7f3362 230.5px,#863a61 232.5px,#762963 235.5px,#893d60 238.5px,#ab655a 241.5px,#a86e57 242.5px,#7e6b52 244.5px,#786653 245.5px,#90655a 247.5px,#84575e 250.5px,#795162 252.5px,#997a76 256.5px,#826b83 261.5px,#524b98 267.5px,#645790 270.5px,#7d6a7a 273.5px,#8c6a5b 276.5px,#94655c 278.5px,#845961 280.5px,#9a7a76 284.5px,#897080 288.5px,#534c97 294.5px,#625590 297.5px,#7b646c 300.5px,#785e58 303.5px,#705859 306.5px)"></i><i style="top:109px;background:linear-gradient(90deg,#2f614d 0.5px,#486c56 1.5px,#938d72 3.5px,#aa967a 4.5px,#b1987f 7.5px,#948387 12.5px,#4a4d9c 19.5px,#4e509a 23.5px,#948485 29.5px,#90867c 30.5px,#55715e 32.5px,#356450 33.5px,#1d5946 35.5px,#205b46 48.5px,#326247 49.5px,#5a7349 50.5px,#c59e4e 52.5px,#e5ab50 53.5px,#f2b051 55.5px,#dc9954 61.5px,#722764 72.5px,#782f63 76.5px,#d29155 84.5px,#c89352 85.5px,#907e50 87.5px,#897653 88.5px,#ab785b 91.5px,#95675e 96.5px,#9e6e5c 97.5px,#e1a452 100.5px,#f2b051 102.5px,#e29e53 105.5px,#98515e 110.5px,#9c545e 111.5px,#b77459 113.5px,#af7b58 115.5px,#90685c 118.5px,#88615d 121.5px,#bb7f57 125.5px,#b57658 129.5px,#813f60 135.5px,#a56959 139.5px,#9f6f56 140.5px,#46624c 143.5px,#496350 144.5px,#937462 147.5px,#977264 149.5px,#785c64 153.5px,#816961 156.5px,#606854 158.5px,#656c50 159.5px,#c28655 162.5px,#cb8657 165.5px,#af695b 170.5px,#702565 177.5px,#732964 180.5px,#b16c58 186.5px,#ac6a51 187.5px,#753e30 189.5px,#471415 191.5px,#470209 200.5px,#431415 208.5px,#50221b 209.5px,#9c6637 211.5px,#c58945 212.5px,#df9e4e 213.5px,#e8a552 216.5px,#c78257 222.5px,#732964 230.5px,#792f63 234.5px,#c98856 241.5px,#c18b54 242.5px,#887751 244.5px,#7f6e54 245.5px,#9b6c5d 248.5px,#8b6162 252.5px,#a08175 256.5px,#957a7c 261.5px,#645891 267.5px,#8d757d 272.5px,#897160 275.5px,#9f6f5c 278.5px,#956c65 281.5px,#a28376 285.5px,#8c7480 290.5px,#665a90 294.5px,#6e5f8d 296.5px,#876f75 299.5px,#7f665b 302.5px,#796159 306.5px)"></i><i style="top:110px;background:linear-gradient(90deg,#2d624f 0.5px,#466c59 1.5px,#8f8b75 3.5px,#a5947d 4.5px,#b49c80 8.5px,#a39085 13.5px,#585999 20.5px,#5d5c97 22.5px,#a49184 28.5px,#a89481 29.5px,#9e927a 30.5px,#366652 33.5px,#225d4a 34.5px,#1a5947 42.5px,#1e5b48 48.5px,#306249 49.5px,#58724b 50.5px,#c09b50 52.5px,#dfa852 53.5px,#f0b052 55.5px,#efb052 61.5px,#d08e57 66.5px,#823c63 73.5px,#8a4561 75.5px,#df9e55 82.5px,#e7aa52 84.5px,#d8a651 85.5px,#948451 87.5px,#897855 88.5px,#ab7a5c 91.5px,#ad7c5c 97.5px,#e9ab53 101.5px,#f1b252 105.5px,#d59456 108.5px,#bd7b5a 110.5px,#d29456 113.5px,#cb9357 114.5px,#a0775b 116.5px,#906b5d 118.5px,#986d5c 122.5px,#b77d58 125.5px,#ba7e58 130.5px,#985b5d 135.5px,#b37b58 139.5px,#a87b56 140.5px,#45644e 143.5px,#486451 144.5px,#917464 147.5px,#9a7666 150.5px,#8e6d65 154.5px,#8a7262 156.5px,#616b55 158.5px,#646c52 159.5px,#bd8457 162.5px,#cc8b57 165.5px,#c38059 170.5px,#7a3464 178.5px,#a05c5e 182.5px,#c28057 186.5px,#b87a50 187.5px,#592820 190.5px,#471716 191.5px,#460409 200.5px,#421615 208.5px,#4f241c 209.5px,#996539 211.5px,#c18747 212.5px,#da9b50 213.5px,#ebab53 217.5px,#df9e55 222.5px,#b06d5c 227.5px,#823c63 231.5px,#884362 233.5px,#dc9b55 240.5px,#dea054 241.5px,#d09d52 242.5px,#8c7d52 244.5px,#7f7056 245.5px,#9c6f5e 248.5px,#997167 253.5px,#9f8279 257.5px,#977e7d 263.5px,#7c6b88 267.5px,#9a8079 272.5px,#897361 275.5px,#a2735e 278.5px,#a28578 286.5px,#967d7d 291.5px,#7f6d87 295.5px,#937a7a 298.5px,#7d675c 302.5px,#7e675a 306.5px)"></i><i style="top:111px;background:linear-gradient(90deg,#2a6151 0.5px,#61756c 2.5px,#948984 4.5px,#b29c82 10.5px,#a89585 15.5px,#787291 20.5px,#7d7590 22.5px,#ae9983 27.5px,#af9b81 29.5px,#a0957b 30.5px,#346653 33.5px,#1a5b49 35.5px,#1d5b49 48.5px,#2d614a 49.5px,#516c4d 50.5px,#ae8b55 52.5px,#ca9557 53.5px,#eeb154 59.5px,#eeb154 65.5px,#c6885a 70.5px,#a7675f 73.5px,#b0715e 75.5px,#ecaf54 81.5px,#edb453 84.5px,#d9aa53 85.5px,#8e8154 87.5px,#817357 88.5px,#a6785f 92.5px,#ba865c 98.5px,#f0b454 105.5px,#ecaf55 108.5px,#dda057 110.5px,#e2a955 113.5px,#b3865b 115.5px,#98725e 116.5px,#8a685f 117.5px,#a4705d 124.5px,#bc845a 131.5px,#ad745c 135.5px,#b88359 139.5px,#a87e58 140.5px,#5d6a51 142.5px,#42634f 143.5px,#446253 144.5px,#866e65 147.5px,#9b7a67 151.5px,#977966 155.5px,#8b7663 156.5px,#5d6957 158.5px,#5e6754 159.5px,#ad765c 162.5px,#cb8d5a 168.5px,#c0815c 173.5px,#955462 178.5px,#c98b5a 185.5px,#c88a58 186.5px,#ba8052 187.5px,#572f21 190.5px,#451f17 191.5px,#440e0a 200.5px,#401d17 208.5px,#4c291e 209.5px,#8d5e3d 211.5px,#b0794c 212.5px,#d09358 214.5px,#eaad55 221.5px,#d89b58 226.5px,#a56560 231.5px,#ac6c5f 233.5px,#e1a356 238.5px,#e5ab55 241.5px,#d1a254 242.5px,#877a55 244.5px,#786c59 245.5px,#996e60 249.5px,#99746a 253.5px,#927b80 257.5px,#a0857b 263.5px,#937c80 268.5px,#9d8479 272.5px,#816e64 275.5px,#a07460 279.5px,#937c7f 285.5px,#a0867b 291.5px,#937d80 295.5px,#9b8177 298.5px,#75625f 302.5px,#7c675c 306.5px)"></i><i style="top:112px;background:linear-gradient(90deg,#265e54 0.5px,#78768c 4.5px,#b19d84 13.5px,#ac9986 17.5px,#94888b 21.5px,#b29e84 26.5px,#a89884 29.5px,#968e7f 30.5px,#316456 33.5px,#195b4b 35.5px,#1c5b4b 48.5px,#295d4d 49.5px,#92705c 52.5px,#b47a60 54.5px,#f1b856 64.5px,#eab057 69.5px,#cc915c 73.5px,#f2b956 80.5px,#ecb356 83.5px,#e2ac57 84.5px,#cb9e57 85.5px,#807558 87.5px,#71675b 88.5px,#8c6663 91.5px,#ad7f5f 96.5px,#b27960 101.5px,#efb656 107.5px,#efb756 112.5px,#e3ad57 113.5px,#876762 116.5px,#7a5d63 117.5px,#8f6762 122.5px,#966163 126.5px,#bb865d 132.5px,#b9855d 138.5px,#9d775c 140.5px,#556454 142.5px,#3d5f52 143.5px,#3d5e55 144.5px,#746367 147.5px,#9a7c69 152.5px,#947968 155.5px,#54635a 158.5px,#535f58 159.5px,#945f63 162.5px,#ca8f5c 171.5px,#bb805f 176.5px,#b27760 179.5px,#cb905c 184.5px,#c1885c 186.5px,#b07a56 187.5px,#523524 190.5px,#3e2314 192.5px,#401c0e 202.5px,#3d2718 208.5px,#5c3d2f 210.5px,#946254 212.5px,#af7460 214.5px,#e8ae57 223.5px,#dea459 228.5px,#c68b5d 232.5px,#e8ae57 237.5px,#e5ab58 240.5px,#dba458 241.5px,#c49758 242.5px,#7a7059 244.5px,#6b625c 245.5px,#846064 248.5px,#987266 252.5px,#796c89 256.5px,#a0877d 264.5px,#9d857d 271.5px,#7a6d71 274.5px,#765f65 276.5px,#997266 280.5px,#7b6d88 284.5px,#a1887c 292.5px,#998279 298.5px,#6d5f66 301.5px,#71605f 305.5px,#73625f 306.5px)"></i><i style="top:113px;background:linear-gradient(90deg,#215b56 0.5px,#586095 4.5px,#ae9d87 15.5px,#af9d87 19.5px,#b09e86 23.5px,#a99988 27.5px,#948b8a 29.5px,#63747a 31.5px,#2b6158 33.5px,#185b4c 35.5px,#1a5b4c 48.5px,#3a5655 50.5px,#704f65 52.5px,#986068 56.5px,#ebb559 66.5px,#efb958 71.5px,#ebb559 75.5px,#f1bb58 79.5px,#d69f5d 83.5px,#af855f 85.5px,#6b635e 87.5px,#5e5861 88.5px,#735569 91.5px,#a07663 96.5px,#86526a 100.5px,#915969 102.5px,#e7b15a 108.5px,#f1bb58 111.5px,#e9b359 112.5px,#d4a25c 113.5px,#725767 116.5px,#685168 118.5px,#7f6065 121.5px,#76446b 125.5px,#ba895f 134.5px,#ad7b62 138.5px,#8a6662 140.5px,#4a5a58 142.5px,#355954 143.5px,#345857 144.5px,#68596b 148.5px,#957c6a 153.5px,#88736a 155.5px,#485a5c 158.5px,#46535c 159.5px,#75446b 162.5px,#a66e65 168.5px,#ca935f 174.5px,#c7905f 180.5px,#c28b60 184.5px,#af7961 186.5px,#80574e 188.5px,#4b3826 190.5px,#3b2d16 192.5px,#3e280f 202.5px,#3a301a 208.5px,#4f3934 210.5px,#804a67 213.5px,#e4ad5a 225.5px,#e4ad5a 230.5px,#e7b05a 234.5px,#e2ab5b 238.5px,#c38f5f 241.5px,#68605e 244.5px,#5a5561 245.5px,#6f5269 248.5px,#8c6866 251.5px,#806575 253.5px,#635b8d 255.5px,#686293 258.5px,#9f887e 266.5px,#907e84 271.5px,#676179 274.5px,#62516a 276.5px,#89686b 280.5px,#615c93 284.5px,#9f887e 293.5px,#99847f 297.5px,#5c546b 301.5px,#635763 305.5px,#665962 306.5px)"></i><i style="top:114px;background:linear-gradient(90deg,#1d5959 0.5px,#3f4f9c 4.5px,#5e639b 9.5px,#ab9c89 17.5px,#b1a088 23.5px,#928a8f 27.5px,#636c8e 30.5px,#245d5b 33.5px,#165b4d 36.5px,#185a4d 48.5px,#2f4d59 50.5px,#613372 53.5px,#764271 57.5px,#eab75b 69.5px,#f3c05a 75.5px,#e0ad5d 79.5px,#a17068 84.5px,#555164 87.5px,#4c4b66 88.5px,#5c456e 91.5px,#8a6768 96.5px,#78516c 98.5px,#663673 100.5px,#6b3773 102.5px,#935f6c 105.5px,#dba75e 109.5px,#e0ad5d 111.5px,#b88864 113.5px,#74566b 115.5px,#5e486c 116.5px,#58466c 118.5px,#6d546a 121.5px,#5f3172 125.5px,#78496e 129.5px,#ad8064 134.5px,#ac7e64 136.5px,#875b6a 139.5px,#564c64 141.5px,#2d5357 143.5px,#384f60 145.5px,#534b6d 148.5px,#85726c 153.5px,#75676c 155.5px,#3c515f 158.5px,#3a4a5f 159.5px,#5e3073 162.5px,#744072 166.5px,#c59162 175.5px,#c59162 181.5px,#936069 186.5px,#694754 188.5px,#443b29 190.5px,#393717 192.5px,#3c3311 202.5px,#38391b 208.5px,#443738 210.5px,#5a3164 212.5px,#663273 214.5px,#8a566e 219.5px,#deaa5e 227.5px,#eab65b 233.5px,#d5a15f 237.5px,#9f6e68 241.5px,#544f64 244.5px,#4e456a 246.5px,#654b6d 249.5px,#795b6b 251.5px,#6d597a 253.5px,#504f95 255.5px,#50539c 258.5px,#978583 267.5px,#7b718d 271.5px,#605e8b 273.5px,#4e4b75 275.5px,#61496e 278.5px,#745a70 280.5px,#4c4f9b 284.5px,#6a6593 289.5px,#978583 294.5px,#887a87 297.5px,#585379 300.5px,#4c4768 303.5px,#564f67 306.5px)"></i><i style="top:115px;background:linear-gradient(90deg,#1e5b5a 0.5px,#46569c 4.5px,#4351a1 9.5px,#7f7d94 15.5px,#ac9e8a 20.5px,#a2978c 23.5px,#56609b 29.5px,#375686 31.5px,#185b53 34.5px,#185b4f 48.5px,#32515b 50.5px,#5c416f 52.5px,#683877 54.5px,#613179 58.5px,#875771 63.5px,#e2b25f 71.5px,#edbd5d 74.5px,#c09066 79.5px,#774a73 84.5px,#4a4768 87.5px,#5a4571 93.5px,#70566e 96.5px,#613278 102.5px,#6d3d76 105.5px,#c29265 110.5px,#bf8f66 111.5px,#7b5570 114.5px,#5d486f 116.5px,#58486f 120.5px,#654471 123.5px,#5c3277 128.5px,#724872 131.5px,#976d6b 134.5px,#956b6b 136.5px,#5a3d71 140.5px,#2a515a 143.5px,#4e4c6e 147.5px,#544d70 150.5px,#70646f 153.5px,#60586e 155.5px,#374f61 158.5px,#4a4768 160.5px,#643a75 162.5px,#5f2f79 166.5px,#7b4b74 170.5px,#c19166 177.5px,#bc8c67 180.5px,#744572 186.5px,#55395b 188.5px,#3d3f2c 190.5px,#374118 192.5px,#394013 203.5px,#36431d 208.5px,#45413a 210.5px,#603c67 212.5px,#633378 215.5px,#673777 219.5px,#b68668 226.5px,#e3b35f 231.5px,#d8a861 234.5px,#784a73 241.5px,#54426d 243.5px,#4a4969 245.5px,#5d4771 250.5px,#675274 252.5px,#4f539b 256.5px,#4b509f 260.5px,#84798b 267.5px,#616097 271.5px,#4d5393 273.5px,#504772 276.5px,#5c4772 279.5px,#5c5489 282.5px,#4c519f 286.5px,#52569c 289.5px,#83798b 294.5px,#7c748d 296.5px,#585789 299.5px,#4c4a6c 302.5px,#49476b 306.5px)"></i><i style="top:116px;background:linear-gradient(90deg,#225f5a 0.5px,#5c6d8d 3.5px,#646c9b 5.5px,#3f50a3 11.5px,#5c659d 15.5px,#979090 20.5px,#938d91 22.5px,#4756a1 28.5px,#3c5399 30.5px,#1f5b5f 33.5px,#155c4f 36.5px,#185c50 48.5px,#245d53 49.5px,#79616c 52.5px,#876071 53.5px,#6e4279 58.5px,#5f347c 62.5px,#805476 66.5px,#d4a864 73.5px,#cca066 75.5px,#64387b 83.5px,#593977 85.5px,#514f6a 87.5px,#695770 90.5px,#584775 95.5px,#6e4d75 99.5px,#794f76 101.5px,#61357c 106.5px,#976b71 110.5px,#946872 111.5px,#734b77 113.5px,#694e73 115.5px,#6b5a6f 117.5px,#574a72 120.5px,#634f72 122.5px,#7e5972 125.5px,#5b357a 130.5px,#6f4976 133.5px,#7e5873 135.5px,#5a3779 139.5px,#2f585b 143.5px,#355c5d 144.5px,#595f6b 146.5px,#5e5971 148.5px,#514d72 151.5px,#575271 154.5px,#3f5862 158.5px,#5f5e66 160.5px,#835c72 162.5px,#6c407a 166.5px,#5d327d 169.5px,#7c5176 173.5px,#ac806d 177.5px,#ad816c 179.5px,#65397b 185.5px,#593671 187.5px,#3d482e 190.5px,#354a1a 192.5px,#374913 202.5px,#354c1e 208.5px,#4f523b 210.5px,#7a5b65 212.5px,#835874 214.5px,#5f337c 220.5px,#693e7a 223.5px,#cb9e66 231.5px,#c49868 233.5px,#653a7b 240.5px,#583977 242.5px,#504e6b 244.5px,#675670 247.5px,#584776 251.5px,#666594 256.5px,#4951a0 262.5px,#6b6995 267.5px,#49519e 272.5px,#5e5473 276.5px,#5a4b79 280.5px,#706c91 284.5px,#4b52a0 290.5px,#6a6895 295.5px,#515697 298.5px,#5a586d 302.5px,#4b4b6d 306.5px)"></i><i style="top:117px;background:linear-gradient(90deg,#28645b 0.5px,#7b8488 3.5px,#898894 5.5px,#4253a3 13.5px,#4a59a2 16.5px,#787b98 20.5px,#737799 22.5px,#4455a3 26.5px,#4455a3 28.5px,#4f6296 30.5px,#376471 32.5px,#195e55 34.5px,#195e51 48.5px,#296354 49.5px,#9a8468 52.5px,#ac896c 53.5px,#a37b71 56.5px,#5f3880 64.5px,#663e7e 67.5px,#ad846f 73.5px,#a37a71 75.5px,#623b7f 80.5px,#653e7e 83.5px,#6f5376 85.5px,#64646a 87.5px,#7e6d71 90.5px,#584a78 96.5px,#715a76 98.5px,#916d73 100.5px,#926a75 102.5px,#60387f 107.5px,#6b447d 111.5px,#64407d 113.5px,#826e70 116.5px,#7d6d70 118.5px,#645874 121.5px,#98796f 124.5px,#9c796f 126.5px,#5a387d 132.5px,#5e3c7d 136.5px,#5d3b7d 138.5px,#685273 140.5px,#39625b 143.5px,#3f665e 144.5px,#6c716c 146.5px,#746d72 148.5px,#4f4e74 152.5px,#525273 155.5px,#4d6662 158.5px,#5a6d61 159.5px,#96806a 161.5px,#a6836d 162.5px,#a17971 164.5px,#5d3680 171.5px,#69427e 174.5px,#926b75 178.5px,#764e7b 181.5px,#5d3680 184.5px,#6b4c71 187.5px,#545344 189.5px,#374e21 191.5px,#364a14 201.5px,#344f20 208.5px,#405529 209.5px,#987c62 212.5px,#a6816b 213.5px,#926a74 217.5px,#5e3780 223.5px,#67407e 226.5px,#a57d71 231.5px,#9d7572 233.5px,#663f7e 237.5px,#5e3680 239.5px,#6b4f77 242.5px,#62626a 244.5px,#7c6b71 247.5px,#5c4e79 251.5px,#675c80 253.5px,#7e768a 255.5px,#787492 258.5px,#4952a1 264.5px,#4f579f 268.5px,#4d55a0 271.5px,#6e6474 276.5px,#63557a 280.5px,#8c8085 283.5px,#8e848a 285.5px,#4e56a0 291.5px,#515899 298.5px,#6b6a72 301.5px,#5a5b6e 306.5px)"></i><i style="top:118px;background:linear-gradient(90deg,#2d695c 0.5px,#949886 3.5px,#a5a08e 4.5px,#9d9894 7.5px,#4154a5 16.5px,#4e5da2 19.5px,#5865a0 21.5px,#4154a5 25.5px,#6e7b92 30.5px,#617982 31.5px,#2b665f 33.5px,#155e52 35.5px,#145e51 47.5px,#1a6052 48.5px,#2e6855 49.5px,#b6a267 52.5px,#cbab6a 53.5px,#cda86d 55.5px,#926e79 62.5px,#603d84 67.5px,#644183 70.5px,#805c7d 73.5px,#77547f 75.5px,#5d3a84 78.5px,#6e4a81 81.5px,#927078 84.5px,#937973 85.5px,#7a7a6a 87.5px,#877e6f 89.5px,#917e74 91.5px,#6a5d7a 96.5px,#867177 98.5px,#a98873 100.5px,#ab8774 102.5px,#815e7d 106.5px,#5e3b84 109.5px,#5b3885 111.5px,#71507f 113.5px,#917974 115.5px,#988770 117.5px,#7c6f74 121.5px,#9f8870 123.5px,#bb9d6d 125.5px,#a88971 128.5px,#593b82 134.5px,#5a3d82 136.5px,#826678 139.5px,#867371 140.5px,#757669 141.5px,#426c5c 143.5px,#486f5f 144.5px,#7c806d 146.5px,#898371 147.5px,#767174 150.5px,#565675 153.5px,#676c70 156.5px,#5b7463 158.5px,#697d61 159.5px,#b09c68 161.5px,#c4a36c 162.5px,#bc9770 165.5px,#5f3d84 173.5px,#5d3a85 175.5px,#724e80 178.5px,#5c3985 182.5px,#7a567e 185.5px,#8c6f6e 187.5px,#7e6f5b 188.5px,#485930 190.5px,#324d1d 192.5px,#334b18 203.5px,#345022 208.5px,#445a2b 209.5px,#b19861 212.5px,#c3a16a 213.5px,#bd9870 216.5px,#5d3b84 226.5px,#684582 229.5px,#7c587e 232.5px,#5c3985 236.5px,#724f80 239.5px,#8a6979 241.5px,#8c7374 242.5px,#76776a 244.5px,#8e7e73 247.5px,#796a78 250.5px,#6e627c 252.5px,#938986 255.5px,#90888c 258.5px,#4853a2 266.5px,#4d57a1 269.5px,#73748c 273.5px,#7c7375 276.5px,#7c6d77 278.5px,#74667b 280.5px,#a69680 283.5px,#ac9c83 285.5px,#757495 290.5px,#4853a2 294.5px,#5a609c 297.5px,#7b7a7b 300.5px,#77766e 303.5px,#6b6c6f 306.5px)"></i><i style="top:119px;background:linear-gradient(90deg,#316d5e 0.5px,#517d6b 1.5px,#a4a68b 3.5px,#b7af93 4.5px,#b1a997 8.5px,#767ca0 14.5px,#4758a7 18.5px,#4557a7 23.5px,#767ca0 27.5px,#8f919a 29.5px,#8e9392 30.5px,#788c83 31.5px,#316c60 33.5px,#1c6257 34.5px,#135e53 38.5px,#1a6154 48.5px,#316d57 49.5px,#c7b76f 52.5px,#dfc273 53.5px,#e1c175 56.5px,#bc9b7c 62.5px,#67478c 70.5px,#68488c 77.5px,#ba9c7b 84.5px,#b59f76 85.5px,#8a8e6d 87.5px,#87896e 88.5px,#9d8d77 91.5px,#81747b 96.5px,#9b877a 98.5px,#ba9c7a 100.5px,#bb9a7c 103.5px,#947484 107.5px,#71518a 110.5px,#7f5f87 112.5px,#a49078 115.5px,#a29573 118.5px,#938876 121.5px,#c6ae75 124.5px,#cfb375 126.5px,#b0957b 130.5px,#765b86 134.5px,#785d85 136.5px,#a68d7b 139.5px,#a49475 140.5px,#8b8f6d 141.5px,#648063 142.5px,#4a755e 143.5px,#4e7661 144.5px,#858b6e 146.5px,#949072 147.5px,#898474 150.5px,#6c6b76 153.5px,#797e71 156.5px,#657f66 158.5px,#748965 159.5px,#c1b070 161.5px,#d7ba74 162.5px,#d7b677 165.5px,#ab8b7f 170.5px,#69498b 175.5px,#60408d 179.5px,#74548a 182.5px,#ae907c 186.5px,#ad9472 187.5px,#978b5f 188.5px,#4d6032 190.5px,#385325 191.5px,#324a18 197.5px,#335124 208.5px,#465e2e 209.5px,#c2ab69 212.5px,#d5b773 213.5px,#d2b178 217.5px,#a18181 223.5px,#63438c 229.5px,#69498c 235.5px,#b0927d 241.5px,#ad9778 242.5px,#868a6e 244.5px,#84866f 245.5px,#998b76 247.5px,#8c7e79 250.5px,#83787e 252.5px,#a49a8c 256.5px,#908c92 261.5px,#5760a0 267.5px,#70749a 270.5px,#88878b 273.5px,#857e78 276.5px,#84787d 280.5px,#b5a784 283.5px,#beae87 285.5px,#a39a8e 289.5px,#61679e 294.5px,#6a6f9c 296.5px,#8d8b85 299.5px,#838571 302.5px,#797c71 306.5px)"></i><i style="top:120px;background:linear-gradient(90deg,#336f61 0.5px,#54806f 1.5px,#a9ac92 3.5px,#bdb69b 4.5px,#beb59e 9.5px,#9a99a2 14.5px,#5160a9 20.5px,#5563a9 22.5px,#a6a2a1 28.5px,#aca89e 29.5px,#a4a697 30.5px,#879988 31.5px,#357063 33.5px,#1d6458 34.5px,#125e54 37.5px,#135f54 47.5px,#1a6256 48.5px,#326f5b 49.5px,#cdc17b 52.5px,#e5ce80 53.5px,#eacf83 58.5px,#cdb187 64.5px,#715394 73.5px,#826592 76.5px,#d4b986 83.5px,#d7be84 84.5px,#ccbb7f 85.5px,#949a73 87.5px,#8c9173 88.5px,#a2967a 91.5px,#94897d 96.5px,#c6ab87 101.5px,#ba9e8a 106.5px,#937690 110.5px,#af9a83 114.5px,#a69e77 119.5px,#a49b79 121.5px,#d5c081 125.5px,#cab383 130.5px,#97808b 135.5px,#c1ad83 139.5px,#b8ad7e 140.5px,#989f74 141.5px,#6b8a69 142.5px,#4d7a62 143.5px,#507963 144.5px,#878e70 146.5px,#999575 148.5px,#828177 154.5px,#858a72 156.5px,#6a8569 158.5px,#78906b 159.5px,#c7bb7c 161.5px,#dec681 162.5px,#e2c684 166.5px,#c3a789 171.5px,#765894 177.5px,#745794 179.5px,#c6aa88 185.5px,#cdb384 186.5px,#c5b07b 187.5px,#a69e67 188.5px,#506536 190.5px,#375428 191.5px,#2f4b1c 195.5px,#2d4e22 207.5px,#325227 208.5px,#466032 209.5px,#c7b676 212.5px,#dcc380 213.5px,#dcc085 219.5px,#b1958b 225.5px,#715394 231.5px,#806392 234.5px,#c9ad87 240.5px,#cdb485 241.5px,#c3b281 242.5px,#8f9674 244.5px,#898f73 245.5px,#9f947b 248.5px,#938a80 252.5px,#a7a294 256.5px,#9b9897 262.5px,#73789e 267.5px,#999795 272.5px,#85877e 275.5px,#8f8681 280.5px,#c1b78f 284.5px,#b8b093 289.5px,#83869c 294.5px,#8d8d9a 296.5px,#a09e91 298.5px,#868b74 302.5px,#828873 306.5px)"></i><i style="top:121px;background:linear-gradient(90deg,#337064 0.5px,#548273 1.5px,#abaf9a 3.5px,#bfbaa3 4.5px,#c4bca7 10.5px,#aeaaa8 15.5px,#757cab 20.5px,#7a80ab 22.5px,#b5b0a8 27.5px,#bcb7a5 29.5px,#afb19d 30.5px,#5f8778 32.5px,#357265 33.5px,#1c645a 34.5px,#115f55 37.5px,#125f55 47.5px,#196357 48.5px,#32715e 49.5px,#cec788 52.5px,#e7d58f 53.5px,#eed891 60.5px,#dac394 66.5px,#977e9b 73.5px,#ab9399 76.5px,#e4ce92 82.5px,#e6d390 84.5px,#d6ca8b 85.5px,#96a17a 87.5px,#8c9678 88.5px,#a39c7f 91.5px,#a59c83 97.5px,#c9b394 101.5px,#c4ac96 107.5px,#b19898 110.5px,#bbaa8c 114.5px,#aaa67a 118.5px,#aea87e 121.5px,#d8c78e 125.5px,#d3c290 131.5px,#b9a693 135.5px,#d0c18e 139.5px,#c1bb89 140.5px,#4c7b66 143.5px,#4c7766 144.5px,#7f8874 146.5px,#918f79 148.5px,#8a8a78 155.5px,#67846d 158.5px,#779272 159.5px,#c9c189 161.5px,#dfcd90 162.5px,#e5cf92 168.5px,#ccb595 173.5px,#967d9b 178.5px,#a68d99 180.5px,#ddc693 185.5px,#dec990 186.5px,#d0c086 187.5px,#7c8755 189.5px,#50683b 190.5px,#36552a 191.5px,#2c4c20 194.5px,#2c4c20 204.5px,#315229 208.5px,#456136 209.5px,#c9bc82 212.5px,#deca8e 213.5px,#e3cd92 220.5px,#c8b195 226.5px,#957c9b 231.5px,#9c839a 233.5px,#d8c294 239.5px,#dcc891 241.5px,#cdc18c 242.5px,#919c7a 244.5px,#899478 245.5px,#a0997f 248.5px,#a09c8b 253.5px,#a7a79d 257.5px,#9d9f9f 264.5px,#8e92a0 268.5px,#a2a39c 272.5px,#858b83 275.5px,#949085 280.5px,#c1bd9a 284.5px,#b9b69d 291.5px,#a2a39f 295.5px,#b1b097 298.5px,#868f78 302.5px,#848e77 306.5px)"></i><i style="top:122px;background:linear-gradient(90deg,#327067 0.5px,#538277 1.5px,#a8afa1 3.5px,#bcb9ab 4.5px,#c1bbae 13.5px,#a8a6af 18.5px,#9495af 21.5px,#bfb9ae 27.5px,#bebaac 29.5px,#afb2a4 30.5px,#347268 33.5px,#1b655c 34.5px,#105f56 37.5px,#116057 47.5px,#186459 48.5px,#317161 49.5px,#cac894 52.5px,#e3d59b 53.5px,#ebda9e 61.5px,#decc9f 68.5px,#baa6a1 73.5px,#cab7a0 76.5px,#e7d69f 81.5px,#e5d79d 84.5px,#d4cc97 85.5px,#93a280 87.5px,#89977d 88.5px,#9f9d83 91.5px,#a5a087 97.5px,#c8b59f 101.5px,#c2b29b 113.5px,#a7a780 117.5px,#adac83 121.5px,#d5c89a 125.5px,#d1c39c 133.5px,#cdc09c 136.5px,#d1c69a 139.5px,#c0bd93 140.5px,#497a6a 143.5px,#487469 144.5px,#758077 146.5px,#85867d 148.5px,#82847c 155.5px,#618071 158.5px,#739078 159.5px,#c6c294 161.5px,#dcce9c 162.5px,#e3d29f 169.5px,#d6c4a0 174.5px,#b7a2a1 178.5px,#e0ce9f 184.5px,#dfcf9c 186.5px,#cec391 187.5px,#aaaa7a 188.5px,#4e683f 190.5px,#34552d 191.5px,#2b4c21 194.5px,#2a4c23 205.5px,#2f522b 208.5px,#436139 209.5px,#c6bd8d 212.5px,#dacb9a 213.5px,#e1cf9f 222.5px,#cdbaa0 228.5px,#b6a1a2 231.5px,#c4b0a1 234.5px,#dfcd9f 239.5px,#dccd9d 241.5px,#ccc497 242.5px,#8f9d81 244.5px,#86947d 245.5px,#9c9a83 248.5px,#9f9f90 253.5px,#a4a8a4 257.5px,#9ea3a5 269.5px,#a0a5a2 272.5px,#828c87 275.5px,#92928a 280.5px,#bbbda3 284.5px,#b6b8a5 293.5px,#b3b69e 298.5px,#83907c 302.5px,#818f7a 306.5px)"></i><i style="top:123px;background:linear-gradient(90deg,#2d6c68 0.5px,#4b7a78 1.5px,#999fa4 3.5px,#aba7ae 4.5px,#aca6b1 17.5px,#a29eb1 22.5px,#b0aab1 28.5px,#9fa1a7 30.5px,#306d69 33.5px,#1a635c 34.5px,#105e57 37.5px,#17625a 48.5px,#2c6d62 49.5px,#b6b498 52.5px,#cbbfa0 53.5px,#d3c3a3 61.5px,#ccbba3 70.5px,#c0afa4 74.5px,#d3c3a3 82.5px,#cec0a1 84.5px,#beb89b 85.5px,#849484 87.5px,#7b8a7f 88.5px,#8e8e86 92.5px,#94918a 97.5px,#b5a4a2 101.5px,#b1a29e 113.5px,#949784 117.5px,#999b87 121.5px,#bfb49e 125.5px,#bdb39e 139.5px,#adab97 140.5px,#608578 142.5px,#43746c 143.5px,#416e6b 144.5px,#767b80 147.5px,#777b80 155.5px,#587974 158.5px,#68867b 159.5px,#b2af98 161.5px,#c6b9a0 162.5px,#ccbba3 173.5px,#bdaca3 179.5px,#ccbca3 185.5px,#bab096 187.5px,#486441 190.5px,#31542f 191.5px,#294b22 195.5px,#284e28 207.5px,#2c522d 208.5px,#3e5e3c 209.5px,#b2aa92 212.5px,#c5b69f 213.5px,#c6b5a3 228.5px,#baa8a3 232.5px,#cabaa3 240.5px,#c7b8a1 241.5px,#9ba08f 243.5px,#809084 244.5px,#78887f 245.5px,#8b8c86 248.5px,#8e9091 253.5px,#9297a4 257.5px,#9095a2 272.5px,#748188 275.5px,#83858b 280.5px,#a6a8a5 284.5px,#a6a8a4 297.5px,#74847e 302.5px,#73837d 306.5px)"></i><i style="top:124px;background:linear-gradient(90deg,#296366 0.5px,#858aa5 3.5px,#9992b2 5.5px,#9791b1 29.5px,#8b8ca8 30.5px,#2b6468 33.5px,#105956 35.5px,#155b58 48.5px,#286461 49.5px,#9d9a9a 52.5px,#b5a5a6 54.5px,#b2a4a4 84.5px,#8a8f91 86.5px,#718085 87.5px,#697881 88.5px,#787a88 93.5px,#7e7d8c 97.5px,#9d8da2 101.5px,#9a8c9f 113.5px,#7d8187 117.5px,#82848a 121.5px,#a59aa0 125.5px,#a399a0 139.5px,#969399 140.5px,#3b696b 143.5px,#3b656b 144.5px,#6a7083 147.5px,#6c7083 155.5px,#4f6d75 158.5px,#5c777b 159.5px,#9a969a 161.5px,#b0a0a5 163.5px,#ad9fa3 186.5px,#a19798 187.5px,#415d42 190.5px,#274c29 192.5px,#274a24 203.5px,#2a4f2e 208.5px,#39583d 209.5px,#9a9394 212.5px,#ae9fa5 214.5px,#ab9da4 241.5px,#9f979d 242.5px,#6e7d85 244.5px,#677780 245.5px,#767988 249.5px,#7b7e98 254.5px,#7e81a2 260.5px,#7c80a0 272.5px,#647087 275.5px,#70748b 280.5px,#8d8ea4 284.5px,#8d8ea3 297.5px,#63737f 302.5px,#62727e 306.5px)"></i><i style="top:125px;background:linear-gradient(90deg,#235863 0.5px,#6b739f 3.5px,#7b79ab 5.5px,#7978aa 29.5px,#5a6d90 31.5px,#245964 33.5px,#0f5153 35.5px,#135355 48.5px,#21595e 49.5px,#7c7e96 52.5px,#8e85a1 54.5px,#8c84a0 84.5px,#6d768d 86.5px,#53657e 88.5px,#636789 97.5px,#7f759d 101.5px,#7b739a 113.5px,#606985 118.5px,#6e718e 122.5px,#847e9d 125.5px,#817d9a 139.5px,#777994 140.5px,#315d68 143.5px,#325b68 144.5px,#596381 147.5px,#5a6382 155.5px,#426072 158.5px,#4b6678 159.5px,#7a7b95 161.5px,#8b82a0 163.5px,#8b809b 186.5px,#6c707b 188.5px,#385441 190.5px,#244929 192.5px,#244826 204.5px,#264b2f 208.5px,#31513c 209.5px,#7c788d 212.5px,#8b809d 214.5px,#88809e 241.5px,#586981 244.5px,#556380 246.5px,#60668d 253.5px,#646a99 259.5px,#5d6792 273.5px,#515e81 276.5px,#5f668d 281.5px,#6f739d 285.5px,#6a7198 298.5px,#4d607b 303.5px,#4d607b 306.5px)"></i><i style="top:126px;background:linear-gradient(90deg,#174c58 0.5px,#3f5980 4.5px,#3b577c 30.5px,#114a52 34.5px,#104a51 48.5px,#475d7b 53.5px,#435b78 85.5px,#2d5069 88.5px,#355170 97.5px,#46577d 101.5px,#3d5476 116.5px,#33516e 120.5px,#4b5c80 125.5px,#3e5975 140.5px,#1e4e5c 143.5px,#34526c 149.5px,#305169 156.5px,#2a5265 159.5px,#465c7a 162.5px,#4c5c74 177.5px,#4a5965 187.5px,#23462e 191.5px,#234425 202.5px,#22462d 208.5px,#4d5a6b 213.5px,#475c7c 234.5px,#425a77 242.5px,#2d5069 245.5px,#395178 254.5px,#304f70 274.5px,#314e6e 280.5px,#3b557a 285.5px,#335071 301.5px,#2a4e67 306.5px)"></i><i style="top:127px;background:linear-gradient(90deg,#0e414c 0.5px,#154353 28.5px,#0d414a 48.5px,#164452 63.5px,#164451 172.5px,#204331 189.5px,#204126 202.5px,#1b4449 223.5px,#164452 235.5px,#11414e 306.5px)"></i><i style="top:128px;background:linear-gradient(90deg,#0c3a46 0.5px,#103b40 174.5px,#1f3f25 200.5px,#103b40 224.5px,#0c3a46 306.5px)"></i></div>
<div class="cam" style="left:377px;top:497px;width:308px;height:127px"><i style="top:0px;background:linear-gradient(90deg,#1b187a 0.5px,#221d80 7.5px,#543ba5 10.5px,#5b40aa 11.5px,#423198 13.5px,#231e83 15.5px,#212281 23.5px,#4d3ca0 26.5px,#4c3c9f 27.5px,#1c247a 30.5px,#131d6f 39.5px,#25257b 41.5px,#5c41a6 44.5px,#6042a9 47.5px,#4d3698 49.5px,#131168 52.5px,#131168 54.5px,#4b3597 57.5px,#543a9e 58.5px,#372886 60.5px,#131168 62.5px,#131168 64.5px,#5a3ea3 68.5px,#5a3ea3 70.5px,#131168 74.5px,#0c0d62 87.5px,#131168 91.5px,#4c3597 94.5px,#543a9e 95.5px,#372886 97.5px,#131168 99.5px,#0c0c63 110.5px,#131068 112.5px,#5b3ea4 116.5px,#5b3ea4 119.5px,#131068 123.5px,#0c0c62 136.5px,#0d0d64 168.5px,#211a73 170.5px,#5b3ea4 173.5px,#5b3ea4 176.5px,#131168 180.5px,#0c0d62 193.5px,#131168 207.5px,#4b3597 210.5px,#543a9e 211.5px,#372886 213.5px,#131168 215.5px,#0e0e63 222.5px,#211a73 224.5px,#4d3698 226.5px,#593da2 228.5px,#372886 230.5px,#131168 232.5px,#0e0e63 239.5px,#211a73 241.5px,#5b3ea4 244.5px,#5b3ea4 249.5px,#131168 253.5px,#0e0e63 257.5px,#211a73 259.5px,#5b3ea4 262.5px,#5b3ea4 267.5px,#131168 271.5px,#0c0d62 284.5px,#131168 291.5px,#5a3ea3 295.5px,#5a3ea3 297.5px,#131168 301.5px,#0c0d62 307.5px)"></i><i style="top:1px;background:linear-gradient(90deg,#1b187b 0.5px,#221d81 7.5px,#543ba5 10.5px,#5c40aa 11.5px,#423199 13.5px,#241e83 15.5px,#212281 23.5px,#4d3ca0 26.5px,#4d3d9f 27.5px,#1c257b 30.5px,#141e70 39.5px,#25267c 41.5px,#5c42a6 44.5px,#6043a9 47.5px,#4d3699 49.5px,#131369 52.5px,#131369 54.5px,#4c3597 57.5px,#543b9e 58.5px,#4c3597 59.5px,#131369 62.5px,#131369 64.5px,#5b3fa4 68.5px,#5b3fa4 70.5px,#131369 74.5px,#0f0f64 90.5px,#221b74 92.5px,#4c3697 94.5px,#543b9e 95.5px,#4c3697 96.5px,#131369 99.5px,#0e0e65 111.5px,#211a75 113.5px,#5b3ea4 116.5px,#5b3ea4 119.5px,#131169 123.5px,#0e0f65 168.5px,#211b74 170.5px,#5b3fa4 173.5px,#5b3fa4 176.5px,#131269 180.5px,#0d0e63 198.5px,#141369 207.5px,#4c3697 210.5px,#543b9e 211.5px,#4c3697 212.5px,#141369 215.5px,#0e0f64 222.5px,#211b74 224.5px,#5a3ea3 227.5px,#5a3ea3 228.5px,#141368 232.5px,#0f0f64 239.5px,#221b74 241.5px,#5b3fa4 244.5px,#6042a8 248.5px,#4d3698 250.5px,#141368 253.5px,#0e0f64 257.5px,#211b74 259.5px,#5b3fa4 262.5px,#6042a8 266.5px,#4d3699 268.5px,#131369 271.5px,#131369 291.5px,#5b3fa4 295.5px,#5b3fa4 297.5px,#131369 301.5px,#0d0e63 307.5px)"></i><i style="top:2px;background:linear-gradient(90deg,#1c197b 0.5px,#231d81 7.5px,#543ca5 10.5px,#5c40ab 11.5px,#433199 13.5px,#241f84 15.5px,#222382 23.5px,#4e3da0 26.5px,#4d3da0 27.5px,#1d267c 30.5px,#142071 39.5px,#26277d 41.5px,#5c42a7 44.5px,#6143a9 47.5px,#4d3799 49.5px,#14146a 52.5px,#14146a 54.5px,#4c3698 57.5px,#543c9f 58.5px,#4c3698 59.5px,#14146a 62.5px,#14146a 64.5px,#5b40a4 68.5px,#5b40a4 70.5px,#14146a 74.5px,#101165 90.5px,#221d75 92.5px,#4c3798 94.5px,#553c9f 95.5px,#382a87 97.5px,#14146a 99.5px,#0e0e65 110.5px,#14126b 112.5px,#5b3fa5 116.5px,#5b3fa5 119.5px,#14126a 123.5px,#0d0f65 143.5px,#0f1066 168.5px,#221c75 170.5px,#5b3fa5 173.5px,#5b3fa5 176.5px,#14146a 180.5px,#0d1064 192.5px,#141469 207.5px,#4c3798 210.5px,#553c9f 211.5px,#382a87 213.5px,#151569 215.5px,#0f1165 222.5px,#221d75 224.5px,#4e3799 226.5px,#5a3fa3 228.5px,#382a87 230.5px,#151569 232.5px,#101165 239.5px,#221d74 241.5px,#5c40a4 244.5px,#5c40a4 249.5px,#151569 253.5px,#0f1165 257.5px,#221d75 259.5px,#5b40a4 262.5px,#6143a9 266.5px,#4e3799 268.5px,#14146a 271.5px,#0d1064 289.5px,#14146a 291.5px,#5b40a4 295.5px,#5b40a4 297.5px,#14146a 301.5px,#0d1064 307.5px)"></i><i style="top:3px;background:linear-gradient(90deg,#1c197c 0.5px,#231e82 7.5px,#553ca6 10.5px,#5c40ab 11.5px,#433199 13.5px,#251f84 15.5px,#222383 23.5px,#4e3da1 26.5px,#4d3da0 27.5px,#1d277c 30.5px,#152172 39.5px,#26287e 41.5px,#5c43a7 44.5px,#6144aa 47.5px,#4e389a 49.5px,#15166b 52.5px,#15166b 54.5px,#4c3799 57.5px,#553c9f 58.5px,#382b88 60.5px,#15166b 62.5px,#15166b 64.5px,#5b40a5 68.5px,#5b40a5 70.5px,#15166b 74.5px,#0f1364 86.5px,#16176a 91.5px,#4d3898 94.5px,#553d9f 95.5px,#4d3898 96.5px,#15166b 99.5px,#0f0f67 110.5px,#15136c 112.5px,#5c3fa5 116.5px,#5c3fa5 119.5px,#15136c 123.5px,#0e1066 137.5px,#14156b 169.5px,#5b40a5 173.5px,#5b40a5 176.5px,#14156b 180.5px,#101366 206.5px,#231e76 208.5px,#4d3898 210.5px,#553d9f 211.5px,#4d3898 212.5px,#16166a 215.5px,#111366 222.5px,#231f75 224.5px,#5b40a3 227.5px,#5b40a3 228.5px,#16176a 232.5px,#111365 239.5px,#231f75 241.5px,#5c41a4 244.5px,#5c41a4 249.5px,#16166a 253.5px,#101366 257.5px,#231f75 259.5px,#5c41a5 262.5px,#5c40a5 267.5px,#15166b 271.5px,#0e1265 285.5px,#15166b 291.5px,#5b40a5 295.5px,#5b40a5 297.5px,#15166b 301.5px,#0e1265 307.5px)"></i><i style="top:4px;background:linear-gradient(90deg,#1d197d 0.5px,#241e83 7.5px,#553ca6 10.5px,#5c41ab 11.5px,#43329a 13.5px,#252085 15.5px,#232483 23.5px,#4e3da1 26.5px,#4d3ea0 27.5px,#1d287d 30.5px,#152273 39.5px,#26297f 41.5px,#5d44a7 44.5px,#5c41a6 48.5px,#15186c 52.5px,#15186c 54.5px,#4d3899 57.5px,#553da0 58.5px,#4d3899 59.5px,#15186c 62.5px,#15186c 64.5px,#5c41a5 68.5px,#5c41a5 70.5px,#15186c 74.5px,#121566 90.5px,#242076 92.5px,#4d3999 94.5px,#563da0 95.5px,#392c88 97.5px,#15186c 99.5px,#111069 111.5px,#231c78 113.5px,#5c3fa6 116.5px,#5c3fa6 119.5px,#16146d 123.5px,#0f1167 137.5px,#101368 168.5px,#231e77 170.5px,#5c41a6 173.5px,#5c41a6 176.5px,#15176c 180.5px,#0f1466 198.5px,#16186b 207.5px,#4d3999 210.5px,#563d9f 211.5px,#392d88 213.5px,#17186b 215.5px,#121566 222.5px,#242076 224.5px,#4f3999 226.5px,#5b41a4 228.5px,#3a2d88 230.5px,#17196a 232.5px,#17196a 240.5px,#5c41a5 244.5px,#6244a9 248.5px,#4f3a9a 250.5px,#17186b 253.5px,#111567 257.5px,#242076 259.5px,#5c41a5 262.5px,#6144a9 266.5px,#4f399a 268.5px,#16186c 271.5px,#0f1466 285.5px,#15186c 291.5px,#5c41a5 295.5px,#5c41a5 297.5px,#15186c 301.5px,#0f1467 307.5px)"></i><i style="top:5px;background:linear-gradient(90deg,#1d1a7d 0.5px,#241e83 7.5px,#553ca6 10.5px,#5d41ac 11.5px,#44329a 13.5px,#252085 15.5px,#232484 23.5px,#4e3ea1 26.5px,#4e3ea1 27.5px,#1e287e 30.5px,#162473 39.5px,#272a7f 41.5px,#5d44a8 44.5px,#6145ab 47.5px,#4e3a9b 49.5px,#16196d 52.5px,#161a6d 54.5px,#4d399a 57.5px,#553ea0 58.5px,#392e89 60.5px,#161a6d 62.5px,#161a6d 64.5px,#5c42a6 68.5px,#5c42a6 70.5px,#161a6d 74.5px,#131767 90.5px,#252277 92.5px,#4e3a99 94.5px,#563ea0 95.5px,#4e3999 96.5px,#161a6d 99.5px,#101069 110.5px,#17146e 112.5px,#5c3fa6 116.5px,#5c40a6 119.5px,#16156e 123.5px,#0f1368 144.5px,#101569 168.5px,#232078 170.5px,#5c41a6 173.5px,#5c41a6 176.5px,#16186d 180.5px,#101667 191.5px,#171a6c 207.5px,#4e3a99 210.5px,#563ea0 211.5px,#3a2e88 213.5px,#181a6c 215.5px,#131767 222.5px,#252276 224.5px,#5c41a4 227.5px,#503a9a 229.5px,#181a6b 232.5px,#181a6b 240.5px,#5d42a5 244.5px,#5d42a5 249.5px,#181a6b 253.5px,#121767 257.5px,#252277 259.5px,#5d42a5 262.5px,#6245aa 266.5px,#4f3a9a 268.5px,#171a6c 271.5px,#0f1667 287.5px,#161a6d 291.5px,#5c42a6 295.5px,#5c42a6 297.5px,#161a6d 301.5px,#0f1668 307.5px)"></i><i style="top:6px;background:linear-gradient(90deg,#1e1a7e 0.5px,#251f84 7.5px,#5d41ac 11.5px,#44329b 13.5px,#262086 15.5px,#242585 23.5px,#4f3ea2 26.5px,#4e3fa1 27.5px,#1e2a7f 30.5px,#162574 39.5px,#272c80 41.5px,#5d45a8 44.5px,#6246ab 47.5px,#4f3b9c 49.5px,#171c6f 52.5px,#171c6e 54.5px,#4e3a9a 57.5px,#563fa1 58.5px,#3a2f8a 60.5px,#171c6e 62.5px,#171c6e 64.5px,#5c43a6 68.5px,#5c43a6 70.5px,#171c6e 74.5px,#141a68 90.5px,#262477 92.5px,#4f3b99 94.5px,#563fa0 95.5px,#3a2f8a 97.5px,#171c6e 99.5px,#11116b 110.5px,#181570 112.5px,#5d40a7 116.5px,#5d40a7 119.5px,#171670 123.5px,#10146a 144.5px,#16196f 169.5px,#5c42a7 173.5px,#5c42a7 176.5px,#161a6f 180.5px,#131969 206.5px,#252478 208.5px,#4e3b9a 210.5px,#573fa0 211.5px,#3b3089 213.5px,#191d6c 215.5px,#191d6c 223.5px,#5c42a4 227.5px,#503c9a 229.5px,#1a1d6c 232.5px,#1a1d6c 240.5px,#5e43a5 244.5px,#6346aa 248.5px,#503c9a 250.5px,#191d6c 253.5px,#191c6c 258.5px,#5d43a6 262.5px,#5d43a6 267.5px,#181c6d 271.5px,#101869 287.5px,#171c6e 291.5px,#5c43a6 295.5px,#5c43a6 297.5px,#171c6e 301.5px,#101869 307.5px)"></i><i style="top:7px;background:linear-gradient(90deg,#201c80 0.5px,#262086 7.5px,#563da8 10.5px,#5d41ad 11.5px,#45339c 13.5px,#272288 15.5px,#252687 23.5px,#4f3fa3 26.5px,#4f40a3 27.5px,#202c81 30.5px,#182977 39.5px,#292f82 41.5px,#5e47a9 44.5px,#5d45a8 48.5px,#182071 52.5px,#182071 54.5px,#4f3d9c 57.5px,#5741a2 58.5px,#3b328c 60.5px,#192070 62.5px,#192070 64.5px,#5d45a7 68.5px,#5d45a7 70.5px,#192070 74.5px,#161f6a 90.5px,#282879 92.5px,#503d9b 94.5px,#5842a1 95.5px,#3b338b 97.5px,#192070 99.5px,#13146e 108.5px,#1a1773 112.5px,#5e41a8 116.5px,#5e41a8 119.5px,#191973 123.5px,#12176d 137.5px,#131a6e 168.5px,#25247c 170.5px,#5d44a8 173.5px,#5d44a8 176.5px,#181e71 180.5px,#131d6a 194.5px,#1b216f 207.5px,#503d9b 210.5px,#5842a1 211.5px,#3d338a 213.5px,#1b216e 215.5px,#171f69 222.5px,#292978 224.5px,#5e45a5 227.5px,#523e9b 229.5px,#1d226d 232.5px,#1d226d 240.5px,#5f45a6 244.5px,#5f45a6 249.5px,#1c226e 253.5px,#161f6a 257.5px,#282879 259.5px,#5e45a6 262.5px,#5e45a7 267.5px,#1a2170 271.5px,#121d6b 287.5px,#192070 291.5px,#5d45a7 295.5px,#5d45a7 297.5px,#192070 301.5px,#121d6b 307.5px)"></i><i style="top:8px;background:linear-gradient(90deg,#221d84 0.5px,#282289 7.5px,#573ea9 10.5px,#5e42ae 11.5px,#46349e 13.5px,#29238b 15.5px,#27298a 23.5px,#5041a5 26.5px,#5042a4 27.5px,#213084 30.5px,#1a2e7a 39.5px,#2a3485 41.5px,#5f49ab 44.5px,#5e47a9 48.5px,#1b2775 52.5px,#1b2775 54.5px,#50419e 57.5px,#5844a4 58.5px,#3d378e 60.5px,#1c2774 62.5px,#1c2774 64.5px,#5e47a9 68.5px,#5e47a9 70.5px,#1b2774 74.5px,#1a266d 90.5px,#2b2f7b 92.5px,#52419c 94.5px,#5945a3 95.5px,#3d378e 97.5px,#1b2774 99.5px,#161673 109.5px,#1d1a78 112.5px,#5f42aa 116.5px,#5f42aa 119.5px,#1c1c77 123.5px,#141c72 139.5px,#1a2276 169.5px,#5e46aa 173.5px,#5e46aa 176.5px,#1a2476 180.5px,#19266e 206.5px,#2b2e7c 208.5px,#52419c 210.5px,#5a45a2 211.5px,#3f388c 213.5px,#1f2971 215.5px,#1c276c 222.5px,#2d2f7a 224.5px,#6048a6 227.5px,#55429c 229.5px,#23296f 232.5px,#23296f 240.5px,#6148a7 244.5px,#6148a7 249.5px,#202970 253.5px,#1f2971 258.5px,#6048a8 262.5px,#5f48a8 267.5px,#1d2773 271.5px,#15246f 287.5px,#1c2774 291.5px,#5e48a8 295.5px,#5e48a8 297.5px,#1b2774 301.5px,#15246f 307.5px)"></i><i style="top:9px;background:linear-gradient(90deg,#241f87 0.5px,#2a238c 7.5px,#583fab 10.5px,#5f43b0 11.5px,#4835a0 13.5px,#2b258e 15.5px,#292b8d 23.5px,#5243a7 26.5px,#5144a6 27.5px,#233488 30.5px,#1c347e 39.5px,#2c3989 41.5px,#604cad 44.5px,#5f4aab 48.5px,#1e2e79 52.5px,#1e2e78 54.5px,#5245a0 57.5px,#5a48a5 58.5px,#3f3c91 60.5px,#1f2e77 62.5px,#1f2e77 64.5px,#5f4aaa 68.5px,#5f4aaa 70.5px,#1e2e78 74.5px,#1e2e70 90.5px,#2f357e 92.5px,#54459e 94.5px,#5b48a4 95.5px,#403d90 97.5px,#1e2e78 99.5px,#181d78 107.5px,#201d7d 112.5px,#6043ac 116.5px,#6043ac 119.5px,#1f207c 123.5px,#172177 139.5px,#1c287b 169.5px,#5f48ab 173.5px,#5f49ab 176.5px,#1c2b7a 180.5px,#1b2d70 204.5px,#223075 207.5px,#54459e 210.5px,#5c49a4 211.5px,#423e8e 213.5px,#243073 215.5px,#212f6e 222.5px,#32367c 224.5px,#624ba6 227.5px,#58479d 229.5px,#293170 232.5px,#293170 240.5px,#644ca7 244.5px,#634ca8 249.5px,#253172 253.5px,#1f2e6f 257.5px,#2f357e 259.5px,#614ba9 262.5px,#614ba9 267.5px,#202f76 271.5px,#192c73 289.5px,#2b3481 292.5px,#604baa 295.5px,#604baa 297.5px,#1e2e78 301.5px,#182b73 307.5px)"></i><i style="top:10px;background:linear-gradient(90deg,#26218a 0.5px,#2d258f 7.5px,#5a40ad 10.5px,#5a40ad 12.5px,#2d2791 15.5px,#2b2e90 23.5px,#5345a9 26.5px,#5246a8 27.5px,#25388b 30.5px,#1e3982 39.5px,#2e3e8c 41.5px,#614eae 44.5px,#604dad 48.5px,#20357c 52.5px,#21357c 54.5px,#5448a1 57.5px,#5b4ba7 58.5px,#414293 60.5px,#22367b 62.5px,#22367b 64.5px,#614eac 68.5px,#604dac 70.5px,#21357b 74.5px,#223673 90.5px,#323c81 92.5px,#56499f 94.5px,#5c4ca6 95.5px,#424293 97.5px,#21357c 99.5px,#1a247c 106.5px,#232082 112.5px,#6144ae 116.5px,#6145ae 119.5px,#212481 123.5px,#19287b 147.5px,#1f2e7f 169.5px,#604bad 173.5px,#604bad 176.5px,#1f317e 180.5px,#1f3573 204.5px,#263777 207.5px,#5e4ca5 211.5px,#454390 213.5px,#283875 215.5px,#2c3973 223.5px,#654fa7 227.5px,#5c4b9d 229.5px,#313972 232.5px,#313972 240.5px,#674fa8 244.5px,#654fa8 249.5px,#2a3974 253.5px,#283876 258.5px,#634faa 262.5px,#624eab 267.5px,#233679 271.5px,#1d3477 290.5px,#2e3a84 292.5px,#614eab 295.5px,#614eab 297.5px,#21357b 301.5px,#1a3377 307.5px)"></i><i style="top:11px;background:linear-gradient(90deg,#29238e 0.5px,#2f2792 7.5px,#5b41ae 10.5px,#5b41af 12.5px,#2f2894 15.5px,#2d3194 23.5px,#5447ab 26.5px,#5348aa 27.5px,#273c8e 30.5px,#203f85 39.5px,#30438f 41.5px,#6151b0 44.5px,#6150ae 48.5px,#233c80 52.5px,#243c7f 54.5px,#554da3 57.5px,#5d4fa8 58.5px,#444795 60.5px,#263d7e 62.5px,#263d7e 64.5px,#6251ad 68.5px,#6250ad 70.5px,#243c7f 74.5px,#263e76 90.5px,#364383 92.5px,#584ea1 94.5px,#5e50a7 95.5px,#444795 97.5px,#243c7f 99.5px,#1d2881 106.5px,#262386 112.5px,#6346b0 116.5px,#6346b0 119.5px,#242886 123.5px,#1b2e80 150.5px,#213483 169.5px,#614daf 173.5px,#614eaf 176.5px,#213782 180.5px,#213c78 197.5px,#2a3f7a 207.5px,#594ea0 210.5px,#6050a6 211.5px,#494991 213.5px,#2d4077 215.5px,#334075 223.5px,#6952a8 227.5px,#604f9e 229.5px,#394073 232.5px,#394073 240.5px,#6a52a9 244.5px,#6852a9 249.5px,#304076 253.5px,#293f74 257.5px,#374382 259.5px,#6552ab 262.5px,#6451ac 267.5px,#273d7d 271.5px,#203b7a 289.5px,#253d7e 291.5px,#6251ad 295.5px,#6251ad 297.5px,#253d7e 301.5px,#1d3a7b 307.5px)"></i><i style="top:12px;background:linear-gradient(90deg,#2c2592 0.5px,#312996 7.5px,#6346b4 11.5px,#322a97 15.5px,#2f3397 23.5px,#5549ad 26.5px,#544aad 27.5px,#294092 30.5px,#22458a 39.5px,#324893 41.5px,#6354b2 44.5px,#6254b0 48.5px,#274484 52.5px,#284583 54.5px,#5851a5 57.5px,#5f53aa 58.5px,#474d97 60.5px,#2a4581 62.5px,#2a4581 64.5px,#6454af 68.5px,#6354af 70.5px,#274483 74.5px,#2b4779 90.5px,#3a4a86 92.5px,#5a52a3 94.5px,#6054a9 95.5px,#464d98 97.5px,#274484 99.5px,#1f3286 105.5px,#252489 111.5px,#352d93 113.5px,#6447b3 116.5px,#6447b3 119.5px,#272c8b 123.5px,#1e3485 150.5px,#243a88 169.5px,#6250b1 173.5px,#6251b1 176.5px,#243f87 180.5px,#24447d 193.5px,#2f477d 207.5px,#6254a7 211.5px,#4d4f93 213.5px,#334979 215.5px,#3c4976 223.5px,#6d56a8 227.5px,#65549f 229.5px,#424974 232.5px,#424974 240.5px,#6e56a9 244.5px,#6c56aa 249.5px,#374978 253.5px,#32497a 258.5px,#6756ac 262.5px,#6655ad 267.5px,#2b4680 271.5px,#23447d 289.5px,#35488a 292.5px,#6454ae 295.5px,#6454ae 297.5px,#284582 301.5px,#21437f 307.5px)"></i><i style="top:13px;background:linear-gradient(90deg,#2e2796 0.5px,#342b9a 7.5px,#6447b6 11.5px,#4f3baa 13.5px,#342d9b 15.5px,#32379b 23.5px,#574bb0 26.5px,#564daf 27.5px,#2b4596 30.5px,#294d90 40.5px,#6457b4 44.5px,#6457b2 48.5px,#2b4d88 52.5px,#2c4e86 54.5px,#5a56a7 57.5px,#6157ac 58.5px,#4a549a 60.5px,#2f4f85 62.5px,#2e4f85 64.5px,#6558b0 68.5px,#6558b1 70.5px,#2b4d87 74.5px,#30507c 90.5px,#4e5597 93.5px,#6258ab 95.5px,#49539b 97.5px,#2a4d88 99.5px,#23388b 105.5px,#29288f 111.5px,#383099 113.5px,#6649b5 116.5px,#6649b5 119.5px,#2b3191 123.5px,#223a8b 141.5px,#27418d 169.5px,#6353b3 173.5px,#6354b3 176.5px,#27478c 180.5px,#264d83 191.5px,#345180 207.5px,#6559a8 211.5px,#3a537b 215.5px,#455377 223.5px,#715aa8 227.5px,#6c599f 229.5px,#4e5374 232.5px,#4e5374 240.5px,#735aa9 244.5px,#705aaa 249.5px,#405379 253.5px,#39537c 258.5px,#6a5aad 262.5px,#6859ae 267.5px,#2f4f83 271.5px,#294e82 290.5px,#4a539a 293.5px,#6658b0 295.5px,#6658b0 297.5px,#2c4e86 301.5px,#254c84 307.5px)"></i><i style="top:14px;background:linear-gradient(90deg,#312a9a 0.5px,#372d9d 7.5px,#6548b8 11.5px,#332e9d 16.5px,#343a9f 23.5px,#584db2 26.5px,#574fb1 27.5px,#2d4a9a 30.5px,#2c5494 40.5px,#645bb5 44.5px,#655bb4 48.5px,#2f578b 52.5px,#31578a 54.5px,#635cad 58.5px,#4e5a9c 60.5px,#335888 62.5px,#335888 64.5px,#675cb2 68.5px,#665cb2 70.5px,#2f568b 74.5px,#355a80 90.5px,#515c99 93.5px,#645cac 95.5px,#28548b 100.5px,#2c2c95 110.5px,#3b339e 113.5px,#674ab7 116.5px,#674bb8 119.5px,#2e3796 123.5px,#254191 141.5px,#2a4993 169.5px,#6456b5 173.5px,#6457b5 176.5px,#2a4f91 180.5px,#295688 190.5px,#395b82 207.5px,#685ea9 211.5px,#435d7d 215.5px,#505d78 223.5px,#765ea8 227.5px,#725e9f 229.5px,#5b5d74 232.5px,#5b5d74 240.5px,#785ea9 244.5px,#745eaa 249.5px,#4a5d7b 253.5px,#415d7e 258.5px,#6c5eae 262.5px,#6a5daf 267.5px,#345987 271.5px,#2c5785 288.5px,#3c5990 292.5px,#675cb1 295.5px,#675cb1 297.5px,#31578a 301.5px,#295688 307.5px)"></i><i style="top:15px;background:linear-gradient(90deg,#342c9e 0.5px,#392fa1 7.5px,#6447b8 11.5px,#3a31a2 15.5px,#373da3 23.5px,#574fb3 26.5px,#4a50ac 28.5px,#2b519b 31.5px,#2e5b98 40.5px,#625eb5 44.5px,#635fb4 48.5px,#33608f 52.5px,#3f6193 55.5px,#6361ac 58.5px,#38628a 62.5px,#406192 65.5px,#6660b1 68.5px,#6560b1 70.5px,#315f8d 74.5px,#3a6483 90.5px,#53639a 93.5px,#6461ac 95.5px,#4d609f 97.5px,#2b5d90 100.5px,#30309b 110.5px,#3e37a3 113.5px,#664ab8 116.5px,#664bb8 119.5px,#313c9c 123.5px,#274a96 148.5px,#2c5097 169.5px,#6259b6 173.5px,#625ab5 176.5px,#2c5796 180.5px,#2d5f8c 190.5px,#3f6585 207.5px,#6963a8 211.5px,#4b677a 216.5px,#5c6678 223.5px,#7b63a5 227.5px,#79649c 229.5px,#696673 232.5px,#696673 240.5px,#7c63a6 244.5px,#7863a7 249.5px,#54667b 253.5px,#49667f 258.5px,#6c63ac 262.5px,#6962ae 267.5px,#386288 271.5px,#30618a 286.5px,#37618c 291.5px,#6760b0 295.5px,#6760b0 297.5px,#35608d 301.5px,#2d5f8d 307.5px)"></i><i style="top:16px;background:linear-gradient(90deg,#372ea1 0.5px,#3b31a4 7.5px,#6046b7 11.5px,#3932a4 16.5px,#3940a6 23.5px,#5550b3 26.5px,#4953ad 28.5px,#2d569f 31.5px,#30619c 40.5px,#5e62b4 44.5px,#5f63b2 48.5px,#386991 52.5px,#436994 55.5px,#6166aa 58.5px,#3b6b8b 63.5px,#50689e 66.5px,#6564b1 69.5px,#4a659e 72.5px,#33668b 74.5px,#426d88 91.5px,#6266aa 95.5px,#2f6694 100.5px,#3435a1 110.5px,#403aa7 113.5px,#634ab8 116.5px,#624bb8 119.5px,#3441a0 123.5px,#2a509b 143.5px,#2f579c 169.5px,#5e5cb5 173.5px,#5e5db4 176.5px,#2f5e9a 180.5px,#316890 190.5px,#3f6e84 205.5px,#4c6d8c 208.5px,#6969a4 211.5px,#55707b 216.5px,#696f77 223.5px,#8068a0 227.5px,#806997 229.5px,#787072 232.5px,#787072 240.5px,#8168a0 244.5px,#7c68a2 249.5px,#5f707b 253.5px,#527080 258.5px,#6b68a8 262.5px,#6767ab 267.5px,#366985 272.5px,#3b6a8e 291.5px,#6465ae 295.5px,#5c66a8 298.5px,#396990 301.5px,#316890 307.5px)"></i><i style="top:17px;background:linear-gradient(90deg,#3930a3 0.5px,#3d33a5 7.5px,#5d44b6 11.5px,#3c35a6 16.5px,#4148ab 24.5px,#5251b3 26.5px,#4755ad 28.5px,#305aa0 31.5px,#32669d 40.5px,#5c65b3 45.5px,#5669aa 49.5px,#3d7093 52.5px,#477095 55.5px,#606ba7 58.5px,#40728c 63.5px,#6168ad 69.5px,#48699b 72.5px,#316c86 75.5px,#447588 87.5px,#4c7290 92.5px,#5f6ba7 95.5px,#326c96 100.5px,#3342a2 107.5px,#433ca9 113.5px,#5f49b7 116.5px,#5749b3 120.5px,#3148a0 124.5px,#2d599d 155.5px,#325d9e 169.5px,#595fb3 173.5px,#5960b3 176.5px,#30639c 180.5px,#346e91 190.5px,#3b7182 201.5px,#4f738b 208.5px,#696da0 211.5px,#5e767a 216.5px,#737575 223.5px,#856d99 227.5px,#867184 230.5px,#85776c 233.5px,#85766f 240.5px,#866c99 244.5px,#806d9c 249.5px,#69767a 253.5px,#5a767f 258.5px,#6c6ca7 263.5px,#5f6da2 268.5px,#386e82 272.5px,#356e88 278.5px,#3b718e 288.5px,#456f94 292.5px,#626aab 295.5px,#5b6ca6 298.5px,#3b7190 302.5px,#346e92 307.5px)"></i><i style="top:18px;background:linear-gradient(90deg,#3a30a4 0.5px,#4336a7 8.5px,#5842b3 11.5px,#3f37a5 16.5px,#4048a9 24.5px,#4d54b0 27.5px,#325da0 31.5px,#30669b 40.5px,#5667af 45.5px,#536ca7 49.5px,#417690 53.5px,#5d6ea2 58.5px,#43768a 63.5px,#5d6ba9 69.5px,#456b96 72.5px,#316e81 75.5px,#417589 81.5px,#4d758f 92.5px,#5b6da3 95.5px,#316c97 101.5px,#393da3 109.5px,#443ea8 113.5px,#5d49b6 117.5px,#5249b1 120.5px,#344da1 124.5px,#2e5a9c 144.5px,#33609d 169.5px,#5660b1 174.5px,#4d62ad 177.5px,#2d6699 181.5px,#3c738a 195.5px,#39727c 200.5px,#517689 208.5px,#69709a 211.5px,#657978 216.5px,#7b7772 223.5px,#896f91 227.5px,#8c747e 230.5px,#8d7a68 233.5px,#8c786b 240.5px,#8b6f91 244.5px,#837095 249.5px,#707a77 253.5px,#5f7683 259.5px,#6a6fa1 263.5px,#5d709e 268.5px,#37707e 272.5px,#336f80 277.5px,#3c748f 283.5px,#467292 292.5px,#616da8 296.5px,#3c7490 303.5px,#357192 307.5px)"></i><i style="top:19px;background:linear-gradient(90deg,#3a31a4 0.5px,#4034a4 8.5px,#543fb0 11.5px,#3a33a1 16.5px,#3d46a6 24.5px,#4852ac 27.5px,#2f599c 31.5px,#306699 40.5px,#5169ab 45.5px,#4d6ca1 49.5px,#3d7289 53.5px,#5a6f9b 58.5px,#427485 63.5px,#576ba2 69.5px,#426d90 72.5px,#306f7c 75.5px,#3d758b 79.5px,#457585 91.5px,#566e9d 95.5px,#2f6b94 101.5px,#363ba0 109.5px,#3e3ca4 113.5px,#5646b1 117.5px,#4448a9 121.5px,#35519f 124.5px,#31599c 129.5px,#33619d 143.5px,#33629e 151.5px,#2f5e9a 169.5px,#5062ae 174.5px,#4864ab 177.5px,#2d6798 181.5px,#3d7693 190.5px,#387378 200.5px,#487b84 205.5px,#5a748b 209.5px,#68718e 212.5px,#687772 216.5px,#82786d 223.5px,#8c7088 227.5px,#8d7376 230.5px,#8f7763 233.5px,#8e7765 240.5px,#8e7189 244.5px,#817186 250.5px,#6f7770 254.5px,#63777f 259.5px,#666f99 263.5px,#586f97 268.5px,#337076 273.5px,#357282 278.5px,#3a728a 285.5px,#45738f 292.5px,#5a6ca0 296.5px,#39718b 303.5px,#377392 307.5px)"></i><i style="top:20px;background:linear-gradient(90deg,#3b31a4 0.5px,#3b319e 7.5px,#503dae 11.5px,#38339e 17.5px,#3c46a4 24.5px,#4552a9 27.5px,#2d5799 31.5px,#336a98 40.5px,#4e6ea9 44.5px,#4b6e9d 49.5px,#3d7285 53.5px,#597396 58.5px,#447682 63.5px,#526f9c 70.5px,#2f7078 74.5px,#407789 80.5px,#427480 90.5px,#547199 95.5px,#326d8f 100.5px,#31579f 105.5px,#363c9e 109.5px,#3b3ca1 113.5px,#5145ad 117.5px,#424aa7 121.5px,#304f9a 124.5px,#37629e 129.5px,#2f5e98 139.5px,#3b6b9e 144.5px,#2e6099 150.5px,#306098 169.5px,#4b64ab 174.5px,#3d67a4 178.5px,#336c99 181.5px,#3d7897 187.5px,#3d7386 194.5px,#377574 200.5px,#4b7e83 205.5px,#687287 212.5px,#6f776c 217.5px,#8d7a6e 224.5px,#8f727e 228.5px,#92765e 233.5px,#927861 240.5px,#917482 245.5px,#85727d 250.5px,#74776b 254.5px,#687884 260.5px,#5c7094 266.5px,#457483 270.5px,#30716f 274.5px,#36747f 278.5px,#3c7389 282.5px,#44788a 291.5px,#566e99 296.5px,#3b7389 303.5px,#397692 307.5px)"></i><i style="top:21px;background:linear-gradient(90deg,#3d33a6 0.5px,#42369f 7.5px,#4e3eab 12.5px,#3b369d 18.5px,#4656a9 27.5px,#305d97 32.5px,#3f729c 41.5px,#5177a3 48.5px,#457886 53.5px,#5f8096 59.5px,#518187 63.5px,#557895 67.5px,#597b9e 70.5px,#2e7172 74.5px,#417c8c 79.5px,#467881 90.5px,#577c9c 96.5px,#3d7793 100.5px,#3c71a0 103.5px,#3d429f 110.5px,#4543a3 114.5px,#544dae 118.5px,#3d52a2 122.5px,#2d5695 126.5px,#306095 137.5px,#4374a0 141.5px,#2b5e92 147.5px,#396d9f 153.5px,#3b6c9c 157.5px,#346698 166.5px,#4c6daa 173.5px,#3a6fa1 179.5px,#3c7899 184.5px,#346f89 189.5px,#4e848e 195.5px,#35766e 199.5px,#4e8183 205.5px,#6e7883 212.5px,#787a6a 217.5px,#97816b 224.5px,#977a76 228.5px,#987a5a 233.5px,#9d8063 241.5px,#9a7c7b 245.5px,#887870 251.5px,#7d806e 255.5px,#707e8e 262.5px,#5c7c91 268.5px,#397873 272.5px,#2e726a 275.5px,#407d88 279.5px,#4b8191 282.5px,#477c89 287.5px,#528292 292.5px,#577596 297.5px,#467c8c 302.5px,#3c7a94 307.5px)"></i><i style="top:22px;background:linear-gradient(90deg,#3e34a6 0.5px,#4d3fa2 7.5px,#4c3da8 12.5px,#4742a0 20.5px,#455ea4 28.5px,#40739c 35.5px,#366995 42.5px,#55819e 49.5px,#5d8a90 55.5px,#628a90 60.5px,#639095 65.5px,#6388a0 69.5px,#507f93 71.5px,#2d736d 74.5px,#317675 76.5px,#437e8c 79.5px,#4e7f85 87.5px,#547e8c 93.5px,#578c9e 99.5px,#4a82a3 102.5px,#3a63a3 105.5px,#4c4fa3 110.5px,#5451ac 118.5px,#4868a4 123.5px,#2d5a92 127.5px,#326493 135.5px,#4a7da1 139.5px,#2e6390 143.5px,#3e74a0 153.5px,#4779a0 159.5px,#4d75a7 172.5px,#3c6ca5 177.5px,#347094 182.5px,#336e8a 187.5px,#5e929b 193.5px,#4d8687 196.5px,#337668 199.5px,#4f8382 204.5px,#768080 212.5px,#8d8467 219.5px,#9e836a 225.5px,#a08269 229.5px,#a58657 234.5px,#a4855e 241.5px,#9e8272 246.5px,#8b8a6f 255.5px,#7b8988 261.5px,#688a95 268.5px,#317667 273.5px,#2d7467 276.5px,#558c97 281.5px,#5b8e94 290.5px,#588493 293.5px,#5e8497 298.5px,#488394 305.5px,#3e7d94 307.5px)"></i><i style="top:23px;background:linear-gradient(90deg,#3d32a5 0.5px,#3c3297 7.5px,#4236a4 11.5px,#3a3496 17.5px,#3a51a0 27.5px,#43729d 33.5px,#2d658d 40.5px,#407698 47.5px,#497a7d 54.5px,#557e7f 60.5px,#4e7c7f 65.5px,#477688 70.5px,#2c7469 74.5px,#317873 76.5px,#417d88 79.5px,#44767a 86.5px,#47757f 93.5px,#40778a 98.5px,#32659c 104.5px,#384297 109.5px,#3d4ea2 120.5px,#527ba6 124.5px,#356794 129.5px,#386c95 133.5px,#5185a3 136.5px,#3d7397 139.5px,#30688f 142.5px,#598ea8 147.5px,#447da2 151.5px,#316892 155.5px,#366695 171.5px,#386ea3 177.5px,#2d6a8c 183.5px,#478196 187.5px,#6197a1 190.5px,#558991 193.5px,#38776f 197.5px,#367a69 200.5px,#528681 204.5px,#72786c 213.5px,#947c5b 222.5px,#9b7a60 226.5px,#a0794f 237.5px,#a27c5e 243.5px,#7f7b64 256.5px,#56797f 267.5px,#3c786f 271.5px,#2c7561 275.5px,#407b84 280.5px,#4a7883 299.5px,#3f7a8a 305.5px,#3d7d91 307.5px)"></i><i style="top:24px;background:linear-gradient(90deg,#3d32a4 0.5px,#362d91 6.5px,#3d34a1 11.5px,#353192 17.5px,#344e9c 27.5px,#2d628d 36.5px,#3b7893 47.5px,#427476 53.5px,#547d77 60.5px,#457476 66.5px,#3b767d 71.5px,#2d7769 75.5px,#417e88 79.5px,#417476 85.5px,#43767e 94.5px,#2e6b8e 102.5px,#305d9d 105.5px,#323f93 109.5px,#37499d 119.5px,#365e97 123.5px,#5585a6 126.5px,#5d91aa 132.5px,#4a819d 136.5px,#306a8d 139.5px,#48819c 142.5px,#5c93a9 144.5px,#4e87a0 147.5px,#3b7799 150.5px,#2b628b 158.5px,#2f6492 172.5px,#3471a1 177.5px,#377493 182.5px,#5f98a6 186.5px,#5a919c 189.5px,#40767e 193.5px,#337a64 199.5px,#568880 204.5px,#737563 213.5px,#a17d57 225.5px,#a27649 235.5px,#a47c57 245.5px,#82785d 256.5px,#6e7a6c 261.5px,#40776f 270.5px,#2c775f 275.5px,#3e7980 280.5px,#427578 289.5px,#497b7e 293.5px,#3d737c 303.5px,#3e7f90 307.5px)"></i><i style="top:25px;background:linear-gradient(90deg,#3d33a4 0.5px,#393092 6.5px,#3f36a2 11.5px,#423b98 18.5px,#37539d 27.5px,#2c5e8c 34.5px,#3f7696 39.5px,#4a849c 42.5px,#3e7b8c 48.5px,#537c74 56.5px,#5c8175 61.5px,#3e7c7d 71.5px,#2c7867 74.5px,#438088 79.5px,#477a7a 87.5px,#477d83 95.5px,#367292 102.5px,#33629e 105.5px,#374595 109.5px,#374a99 118.5px,#375b9d 121.5px,#326390 125.5px,#5e94aa 130.5px,#4b849d 133.5px,#316d8c 136.5px,#3c7893 139.5px,#5c96a7 142.5px,#35728e 146.5px,#307093 151.5px,#336c94 172.5px,#33749f 178.5px,#3f7e9f 180.5px,#619aaa 183.5px,#5e97a5 185.5px,#3c7585 189.5px,#467d7d 195.5px,#357c64 199.5px,#5a897f 204.5px,#8e7c5a 217.5px,#a98253 225.5px,#ab7c46 238.5px,#ad8251 245.5px,#8b8162 257.5px,#467c71 270.5px,#2e785e 274.5px,#337b6a 277.5px,#417c81 280.5px,#497c7b 290.5px,#497c7e 301.5px,#418190 307.5px)"></i><i style="top:26px;background:linear-gradient(90deg,#3e34a4 0.5px,#463a9c 8.5px,#4a3ea6 11.5px,#705cb0 15.5px,#6e67b2 22.5px,#4661a5 27.5px,#42699b 30.5px,#356491 33.5px,#4b819d 38.5px,#397a92 45.5px,#659085 54.5px,#719180 60.5px,#799f8e 64.5px,#679a97 69.5px,#327b6d 73.5px,#2d7968 75.5px,#48858c 79.5px,#60918e 84.5px,#5a8d8d 94.5px,#649ba4 100.5px,#3a69a1 105.5px,#4d599f 110.5px,#435da2 119.5px,#4a75a4 122.5px,#2e638b 126.5px,#306c8a 133.5px,#33708c 136.5px,#5a93a4 139.5px,#5e97a6 140.5px,#326f88 144.5px,#397a99 152.5px,#548ca2 157.5px,#5287a2 170.5px,#32739f 176.5px,#3e7ea2 179.5px,#5590a7 181.5px,#4c879c 183.5px,#367186 186.5px,#427882 191.5px,#5b8f8f 194.5px,#528b83 196.5px,#367c64 199.5px,#5d887d 204.5px,#9e9569 215.5px,#b89052 225.5px,#c59843 235.5px,#ba934f 246.5px,#a59968 256.5px,#8b9273 261.5px,#709888 268.5px,#327b60 273.5px,#2f7961 276.5px,#498385 280.5px,#598985 288.5px,#5a8d85 292.5px,#73a094 296.5px,#689c9b 303.5px,#458491 307.5px)"></i><i style="top:27px;background:linear-gradient(90deg,#3d32a2 0.5px,#463a98 7.5px,#4036a0 11.5px,#705caf 16.5px,#6f63b0 21.5px,#3c539f 26.5px,#4b759e 31.5px,#457a98 37.5px,#2f6988 41.5px,#38788e 46.5px,#688f82 54.5px,#698473 59.5px,#7c9e8a 64.5px,#6b9992 68.5px,#30796b 73.5px,#2d7867 75.5px,#448087 79.5px,#61928e 86.5px,#558684 93.5px,#4e848a 96.5px,#649aa0 99.5px,#5a92a1 101.5px,#356b9c 104.5px,#3b5799 107.5px,#4d5b9e 112.5px,#38569b 119.5px,#446da3 121.5px,#5d8cab 123.5px,#4d819e 125.5px,#316b8a 128.5px,#2f6b87 132.5px,#447f93 135.5px,#5f98a5 137.5px,#629aa6 138.5px,#346f85 142.5px,#427c90 146.5px,#538e9f 149.5px,#397a95 153.5px,#578da3 161.5px,#4d829d 169.5px,#33719a 174.5px,#367597 180.5px,#346e83 186.5px,#5e9294 192.5px,#508582 195.5px,#367a64 198.5px,#43806d 201.5px,#60887b 204.5px,#828a6d 210.5px,#a49463 216.5px,#b2844c 225.5px,#c59740 234.5px,#b68249 244.5px,#b49b5a 252.5px,#8a8567 260.5px,#7d9982 266.5px,#638e7f 269.5px,#31795f 273.5px,#2f7961 276.5px,#4a7f82 281.5px,#588781 288.5px,#54847c 292.5px,#75a093 297.5px,#6a9a96 302.5px,#45818c 306.5px,#42818d 307.5px)"></i><i style="top:28px;background:linear-gradient(90deg,#3b32a1 0.5px,#372e8d 6.5px,#3a319c 11.5px,#3f3692 16.5px,#315092 28.5px,#2e6388 37.5px,#316b88 42.5px,#3b7989 47.5px,#53776d 54.5px,#677c6b 60.5px,#3c7775 71.5px,#2d7867 75.5px,#3f7e83 78.5px,#467675 86.5px,#3f757e 97.5px,#306a91 103.5px,#2f5695 106.5px,#33458e 109.5px,#304f95 119.5px,#3a6697 122.5px,#6598ac 125.5px,#6298a9 127.5px,#3f7a91 130.5px,#4b8598 132.5px,#669da8 134.5px,#669da6 136.5px,#366f82 140.5px,#3b7486 142.5px,#568e9a 145.5px,#58919f 149.5px,#2f6e8a 154.5px,#2d668c 172.5px,#31739d 177.5px,#316d87 183.5px,#5b9099 188.5px,#54878c 191.5px,#407472 195.5px,#357a60 199.5px,#638779 204.5px,#867859 213.5px,#ad7a48 225.5px,#aa723c 234.5px,#b07644 243.5px,#907957 257.5px,#7f795f 261.5px,#477869 270.5px,#2e785c 274.5px,#397c70 278.5px,#417476 282.5px,#517a72 297.5px,#417980 305.5px,#417f8a 307.5px)"></i><i style="top:29px;background:linear-gradient(90deg,#3c32a0 0.5px,#332b89 6.5px,#3c339c 11.5px,#342f8a 17.5px,#374998 25.5px,#295884 34.5px,#3c728f 40.5px,#5790a1 43.5px,#427b85 48.5px,#4c7168 53.5px,#70806c 59.5px,#4e7167 66.5px,#3f7a76 71.5px,#2e7866 75.5px,#427d84 79.5px,#3f6e6f 86.5px,#40757c 96.5px,#306980 101.5px,#316198 105.5px,#30428b 110.5px,#334e92 118.5px,#305a93 121.5px,#36688d 124.5px,#639aa9 127.5px,#6ba1aa 133.5px,#568d99 135.5px,#3b7284 137.5px,#3d7585 140.5px,#588e98 143.5px,#387183 148.5px,#32728c 153.5px,#286082 163.5px,#2e678c 172.5px,#30729c 177.5px,#377490 181.5px,#588f9c 185.5px,#4d828c 188.5px,#3d6f74 192.5px,#3d7a69 197.5px,#367b60 199.5px,#668677 204.5px,#88704f 215.5px,#ae7945 225.5px,#a36739 233.5px,#ad713e 242.5px,#b07743 245.5px,#91734d 255.5px,#8c7d5d 260.5px,#5d7061 266.5px,#407965 271.5px,#2e785c 275.5px,#447b7a 280.5px,#42706c 286.5px,#597f74 293.5px,#45716b 300.5px,#43808a 307.5px)"></i><i style="top:30px;background:linear-gradient(90deg,#3e34a1 0.5px,#403590 4.5px,#433896 8.5px,#5043a3 12.5px,#4e4198 15.5px,#3f3a91 19.5px,#525ba3 24.5px,#43619b 28.5px,#345e8b 32.5px,#3c6e8f 36.5px,#5a8ea2 39.5px,#5891a0 44.5px,#4f8a95 47.5px,#5e8d89 50.5px,#5c7d70 53.5px,#869478 58.5px,#7e8e73 62.5px,#5e7d6f 66.5px,#5e918a 70.5px,#2e7864 74.5px,#337a6e 76.5px,#4a858a 79.5px,#578786 82.5px,#477675 88.5px,#588a88 94.5px,#3a7080 100.5px,#3d6d9f 105.5px,#4c609d 108.5px,#394c8f 113.5px,#4c67a1 118.5px,#3e699b 121.5px,#2d6284 125.5px,#3c7489 131.5px,#366d7e 137.5px,#588d96 141.5px,#356c7c 145.5px,#306b81 150.5px,#417d92 154.5px,#2f6685 164.5px,#3f7796 172.5px,#31739b 177.5px,#548c9b 183.5px,#376c7a 188.5px,#4b7b7c 193.5px,#5b8d85 195.5px,#4b8774 197.5px,#397c60 199.5px,#698575 204.5px,#897e5c 211.5px,#997749 218.5px,#b98343 225.5px,#a86a37 235.5px,#bd8341 245.5px,#9e7948 253.5px,#9f8b61 259.5px,#687865 266.5px,#598571 270.5px,#347a5d 273.5px,#30795e 276.5px,#548985 280.5px,#4e7b77 284.5px,#527c73 287.5px,#789985 294.5px,#587e73 299.5px,#669794 304.5px,#4a858d 307.5px)"></i><i style="top:31px;background:linear-gradient(90deg,#3e33a0 0.5px,#4e4097 6.5px,#4a3da2 11.5px,#6351a5 14.5px,#6060a7 23.5px,#4c61a5 26.5px,#628ca9 31.5px,#598ca1 38.5px,#356d86 42.5px,#417d8c 46.5px,#74a198 50.5px,#909c7c 57.5px,#8f9776 60.5px,#869e83 65.5px,#699a91 70.5px,#357b6a 73.5px,#2e7765 75.5px,#4b8489 79.5px,#61908c 83.5px,#5d8e8c 94.5px,#467d8e 101.5px,#3e6d9f 105.5px,#5d6ba4 109.5px,#546ea4 118.5px,#456ca1 120.5px,#4b7a9a 123.5px,#2a6380 127.5px,#366d7f 135.5px,#598d97 139.5px,#346a7a 143.5px,#38748a 151.5px,#488093 156.5px,#427a97 172.5px,#31729a 177.5px,#3e7992 181.5px,#316779 186.5px,#4a7c82 190.5px,#6a9994 193.5px,#65958b 195.5px,#3b7c63 198.5px,#3e7b61 200.5px,#6c8473 204.5px,#95855b 212.5px,#b78143 223.5px,#b87c36 238.5px,#bb883d 247.5px,#a28c5e 259.5px,#6e8e78 269.5px,#347a5c 273.5px,#30785e 276.5px,#60918b 281.5px,#759481 292.5px,#8aa78d 296.5px,#71a29b 304.5px,#4b858c 307.5px)"></i><i style="top:32px;background:linear-gradient(90deg,#3b319d 0.5px,#392f88 6.5px,#3b3298 11.5px,#3e368c 17.5px,#365094 27.5px,#50769d 30.5px,#6390a8 33.5px,#336685 38.5px,#2a637c 43.5px,#3f7983 47.5px,#757a62 57.5px,#787a61 61.5px,#417972 71.5px,#2d7762 74.5px,#427b80 79.5px,#467372 86.5px,#386c79 99.5px,#305f95 105.5px,#37488b 109.5px,#335392 119.5px,#366094 121.5px,#56869f 124.5px,#4a7e95 126.5px,#346c84 129.5px,#3a7184 133.5px,#5a8e99 136.5px,#528691 138.5px,#346979 141.5px,#407583 144.5px,#568b95 147.5px,#35728a 153.5px,#2e6581 159.5px,#2e6588 172.5px,#307199 177.5px,#31687c 184.5px,#4a7e88 187.5px,#689999 190.5px,#5c8a86 193.5px,#42766a 196.5px,#38795c 199.5px,#6f8471 204.5px,#817355 210.5px,#a5703f 222.5px,#ae6f3d 225.5px,#a56332 231.5px,#ac6735 242.5px,#b06e3a 245.5px,#a1723d 251.5px,#927a56 260.5px,#4f7663 270.5px,#307859 274.5px,#3c7b6c 278.5px,#477773 281.5px,#607b6d 291.5px,#5b7c70 300.5px,#457e84 307.5px)"></i><i style="top:33px;background:linear-gradient(90deg,#3a309c 0.5px,#302881 5.5px,#372f95 11.5px,#302a82 16.5px,#2f3c8a 24.5px,#2e488e 27.5px,#325d85 33.5px,#2c607f 39.5px,#3e7680 47.5px,#486b63 51.5px,#71705a 57.5px,#79745c 60.5px,#576b5d 66.5px,#367569 72.5px,#2e7763 75.5px,#3e7b7e 78.5px,#3b6868 84.5px,#3c6c6e 94.5px,#2c6379 101.5px,#2d5b92 105.5px,#2b3d82 109.5px,#2c4588 118.5px,#2c548c 121.5px,#3f6d8e 124.5px,#578a9d 126.5px,#6196a1 132.5px,#4e8390 136.5px,#326779 139.5px,#447986 142.5px,#568a94 145.5px,#3a7387 150.5px,#2f6c86 153.5px,#265d7a 159.5px,#295f83 172.5px,#2f6f98 176.5px,#356d84 182.5px,#63969c 186.5px,#5e8e91 189.5px,#447272 192.5px,#3f7266 196.5px,#3a795c 199.5px,#72836f 204.5px,#7f775c 208.5px,#856a48 213.5px,#a1693c 222.5px,#ab693a 225.5px,#9e582f 230.5px,#a15930 241.5px,#b06637 244.5px,#996439 250.5px,#8f7451 260.5px,#606a59 267.5px,#317758 274.5px,#42756f 280.5px,#486a62 286.5px,#617565 293.5px,#516b5f 299.5px,#416f6d 304.5px,#447d81 307.5px)"></i><i style="top:34px;background:linear-gradient(90deg,#3b319c 0.5px,#392f86 5.5px,#3c3397 11.5px,#3d3589 17.5px,#364f92 27.5px,#27517c 33.5px,#3c6e89 38.5px,#5d919f 41.5px,#467d85 47.5px,#637563 53.5px,#847b5e 59.5px,#65705d 65.5px,#39776a 72.5px,#2e7663 75.5px,#447c80 79.5px,#497674 88.5px,#3d707c 99.5px,#315f94 105.5px,#344487 109.5px,#334b8c 118.5px,#31588f 121.5px,#2a587f 124.5px,#40748c 127.5px,#5f93a1 130.5px,#4b8191 133.5px,#30667b 136.5px,#386d7e 139.5px,#528692 142.5px,#2f6579 147.5px,#316e88 153.5px,#316482 170.5px,#2f6f97 177.5px,#3c7994 180.5px,#60959f 183.5px,#54878f 186.5px,#3d6c73 189.5px,#45706d 193.5px,#538474 196.5px,#3e7c5e 199.5px,#5e7f6a 202.5px,#828167 206.5px,#917246 214.5px,#a76d3a 222.5px,#b16e38 225.5px,#a55c2e 234.5px,#ad6331 242.5px,#b16935 245.5px,#9f6c38 251.5px,#977b52 260.5px,#567762 270.5px,#327758 274.5px,#3d7b6a 278.5px,#4b756e 282.5px,#687b69 291.5px,#617867 299.5px,#477f82 307.5px)"></i><i style="top:35px;background:linear-gradient(90deg,#3e339d 0.5px,#5f4d9c 5.5px,#493d9f 11.5px,#715ca8 15.5px,#6e66a9 22.5px,#4b5fa1 26.5px,#55769f 29.5px,#386188 32.5px,#3e6a8b 34.5px,#5c8c9f 37.5px,#548898 41.5px,#3e7585 44.5px,#4f858a 47.5px,#87a68e 51.5px,#9d9f73 56.5px,#928763 60.5px,#798f77 67.5px,#4d8276 71.5px,#2e7660 74.5px,#3a7b76 77.5px,#79a7a1 82.5px,#85b2a9 88.5px,#7aa8a0 93.5px,#649798 96.5px,#71a3a7 100.5px,#40739c 104.5px,#41649a 106.5px,#59639d 110.5px,#52629b 117.5px,#3f6893 122.5px,#28597a 126.5px,#2f647d 132.5px,#2e647a 136.5px,#4f8491 140.5px,#2d6277 144.5px,#306982 150.5px,#4e8699 154.5px,#6092a2 160.5px,#56889d 171.5px,#327097 175.5px,#337397 178.5px,#528a9c 181.5px,#4a7f8d 183.5px,#346570 187.5px,#4b7877 191.5px,#7ca698 194.5px,#7ca795 195.5px,#478265 198.5px,#3f7b5d 199.5px,#517c62 201.5px,#808269 205.5px,#b09853 213.5px,#bc8a3a 221.5px,#c1803a 224.5px,#ce9836 229.5px,#c98d35 241.5px,#c17636 244.5px,#bf913a 251.5px,#ac8c54 259.5px,#a7a775 265.5px,#89a07e 269.5px,#397a5a 273.5px,#32785a 276.5px,#5c8c80 280.5px,#799f8e 283.5px,#849a7e 289.5px,#829075 292.5px,#9eaf88 296.5px,#90b198 302.5px,#4d8385 307.5px)"></i><i style="top:36px;background:linear-gradient(90deg,#3a3099 0.5px,#5d4b9a 6.5px,#3d3395 10.5px,#4f4197 13.5px,#735ea8 17.5px,#6e61a7 21.5px,#3f4f95 25.5px,#415a97 27.5px,#5d81a1 30.5px,#5b8a9e 36.5px,#31657e 40.5px,#306678 44.5px,#50817f 48.5px,#8fa486 52.5px,#9a9e74 55.5px,#8c7c5b 59.5px,#808d70 66.5px,#547e72 70.5px,#327663 73.5px,#2e7662 75.5px,#457c80 79.5px,#81aea5 85.5px,#81aea5 90.5px,#508183 95.5px,#5b8d90 97.5px,#6fa0a3 99.5px,#6296a1 101.5px,#346693 104.5px,#3e5691 107.5px,#59619b 111.5px,#505c97 116.5px,#365492 120.5px,#4c7697 123.5px,#275978 129.5px,#30647d 134.5px,#4e8392 138.5px,#2b6077 142.5px,#396e82 146.5px,#4b8193 149.5px,#37718c 153.5px,#5e8fa0 160.5px,#58889b 168.5px,#356c8e 173.5px,#327091 179.5px,#2e6173 184.5px,#4c7c80 188.5px,#7eaba3 191.5px,#83ac9e 193.5px,#6a9383 195.5px,#467a64 197.5px,#3d7859 199.5px,#7b8069 204.5px,#938158 209.5px,#b4964b 214.5px,#b88b3a 219.5px,#b36c35 224.5px,#cd9334 232.5px,#c78a33 238.5px,#b15e31 244.5px,#be8c37 250.5px,#b48b3d 255.5px,#a17d4d 259.5px,#a8a672 265.5px,#929f79 268.5px,#42795b 272.5px,#327757 275.5px,#487d6e 279.5px,#7d9d89 284.5px,#83977c 288.5px,#767f67 292.5px,#9fad86 297.5px,#94af91 301.5px,#4c7f7d 306.5px,#487e7e 307.5px)"></i><i style="top:37px;background:linear-gradient(90deg,#382f97 0.5px,#362d80 5.5px,#362e90 11.5px,#3a3282 16.5px,#2f488a 27.5px,#315d7e 35.5px,#295d76 41.5px,#407479 47.5px,#6f7058 54.5px,#867354 59.5px,#6b6c55 65.5px,#377465 72.5px,#2e7561 75.5px,#3d787a 78.5px,#436e6d 83.5px,#406c6c 93.5px,#2d6186 103.5px,#2c4d89 106.5px,#323d81 110.5px,#2f4085 118.5px,#325588 122.5px,#507c96 125.5px,#44738c 128.5px,#346580 131.5px,#528495 135.5px,#295e77 140.5px,#396d82 143.5px,#4d8191 146.5px,#487e94 150.5px,#2a607e 154.5px,#2a5c7f 172.5px,#2e6c94 176.5px,#2a6684 180.5px,#34687a 183.5px,#629297 186.5px,#7eada9 188.5px,#7ca9a2 190.5px,#4c726a 194.5px,#3e7658 199.5px,#7e8067 204.5px,#8a795a 207.5px,#876c46 211.5px,#a15f32 222.5px,#a65830 225.5px,#994c29 229.5px,#9d452a 242.5px,#a44f2e 245.5px,#96693b 256.5px,#957249 260.5px,#616f59 269.5px,#387556 273.5px,#39785e 277.5px,#487369 280.5px,#70725c 293.5px,#5e7262 301.5px,#467b7a 307.5px)"></i><i style="top:38px;background:linear-gradient(90deg,#382f97 0.5px,#2d2679 5.5px,#312a82 8.5px,#393092 11.5px,#2e297a 17.5px,#343b83 23.5px,#33488e 26.5px,#244776 31.5px,#2c5c79 38.5px,#558994 43.5px,#46797c 47.5px,#586454 52.5px,#7f6e50 57.5px,#887453 60.5px,#5f6351 66.5px,#3a7666 72.5px,#2e7560 75.5px,#3e787a 78.5px,#376162 86.5px,#3d696a 93.5px,#386972 97.5px,#2c5f74 101.5px,#2f5f8d 104.5px,#2c387c 109.5px,#2e3a7f 117.5px,#30488b 120.5px,#2e537d 124.5px,#4e7a93 127.5px,#4c7c91 134.5px,#285a76 138.5px,#3b6d83 141.5px,#4b7c8f 143.5px,#2d5f79 148.5px,#2e6484 153.5px,#245273 161.5px,#2c5b7b 171.5px,#2e6b93 176.5px,#346e8a 180.5px,#4f8492 182.5px,#75a6a9 184.5px,#7cacab 186.5px,#659392 188.5px,#487372 190.5px,#43675f 194.5px,#45745e 197.5px,#407758 199.5px,#677d63 202.5px,#887f62 205.5px,#866d4b 209.5px,#945a30 220.5px,#a95930 224.5px,#8d3825 230.5px,#8b3123 238.5px,#a44d2d 245.5px,#915730 252.5px,#9e7546 259.5px,#736349 265.5px,#4c7157 271.5px,#357655 274.5px,#417964 278.5px,#4a6d64 281.5px,#556355 287.5px,#75745c 292.5px,#5c6352 299.5px,#4c6e65 304.5px,#487b79 307.5px)"></i><i style="top:39px;background:linear-gradient(90deg,#3a3097 0.5px,#342b7c 6.5px,#4d409e 11.5px,#6351a2 13.5px,#584894 15.5px,#413986 18.5px,#4c478e 21.5px,#5f65a3 24.5px,#465e98 27.5px,#2f537d 31.5px,#366380 36.5px,#568697 39.5px,#588b93 44.5px,#528585 47.5px,#658171 50.5px,#6c6f57 53.5px,#9b8a5d 58.5px,#9c8d5d 61.5px,#757256 65.5px,#6d7f6a 68.5px,#698e7c 70.5px,#377a64 73.5px,#2e7560 75.5px,#548687 80.5px,#547f7c 83.5px,#426c6b 87.5px,#4d7775 91.5px,#5e8e8f 95.5px,#40717e 100.5px,#477a99 103.5px,#3e5c94 106.5px,#383f82 110.5px,#383f82 115.5px,#435195 119.5px,#335086 122.5px,#274c76 125.5px,#2d5a79 133.5px,#295775 137.5px,#49798d 141.5px,#255472 146.5px,#27597a 150.5px,#4b7c95 154.5px,#2f5b7b 163.5px,#43708a 169.5px,#4b7c96 172.5px,#2f6b93 176.5px,#347195 178.5px,#72a5ab 182.5px,#75a6aa 183.5px,#406d73 187.5px,#396262 190.5px,#5a7d6f 194.5px,#678f77 196.5px,#447959 199.5px,#587a5d 201.5px,#837e63 204.5px,#967f56 208.5px,#916335 216.5px,#b06731 223.5px,#a3572b 227.5px,#8d3423 233.5px,#923b24 238.5px,#b5632f 245.5px,#a7662d 248.5px,#9b622f 252.5px,#b38743 258.5px,#776b4e 266.5px,#677d60 270.5px,#3c7756 273.5px,#367657 276.5px,#598071 280.5px,#5b6a5a 286.5px,#858363 292.5px,#777458 296.5px,#626f5d 301.5px,#5b8378 305.5px,#4d7f7b 307.5px)"></i><i style="top:40px;background:linear-gradient(90deg,#3a3096 0.5px,#423784 6.5px,#433896 10.5px,#7b63ac 14.5px,#7772ad 23.5px,#5163a0 26.5px,#5e879e 32.5px,#558596 38.5px,#326476 42.5px,#43777d 46.5px,#79957f 50.5px,#9f905e 57.5px,#a79861 61.5px,#8da080 68.5px,#769a85 70.5px,#377a64 73.5px,#2e755f 75.5px,#578989 80.5px,#68938d 83.5px,#629292 95.5px,#6a9ba0 100.5px,#4f819e 103.5px,#3c6397 105.5px,#4f5090 110.5px,#4b5094 118.5px,#435a95 121.5px,#43618c 123.5px,#254b72 127.5px,#2a5575 135.5px,#49768c 139.5px,#275372 143.5px,#2e5e7e 150.5px,#518199 154.5px,#568297 159.5px,#57859a 171.5px,#2f6b93 176.5px,#3f7b98 179.5px,#4c8293 181.5px,#33616c 185.5px,#3a6568 188.5px,#5e857c 191.5px,#7fa28e 193.5px,#7ea088 195.5px,#497c5d 198.5px,#437757 199.5px,#5a795c 201.5px,#867d61 204.5px,#9b804a 210.5px,#a97230 220.5px,#ad5b2e 225.5px,#9c4c27 237.5px,#b1552d 244.5px,#b97d30 248.5px,#b98d3d 257.5px,#938557 265.5px,#7d8665 269.5px,#3d7755 273.5px,#377656 276.5px,#658473 281.5px,#8c8661 294.5px,#718873 303.5px,#4d7f79 307.5px)"></i><i style="top:41px;background:linear-gradient(90deg,#372e93 0.5px,#322a78 5.5px,#342c86 9.5px,#3a318b 12.5px,#413782 16.5px,#494089 19.5px,#384386 24.5px,#375286 28.5px,#5d859c 32.5px,#507b91 35.5px,#2f5d77 38.5px,#28596b 43.5px,#427374 47.5px,#727156 53.5px,#89714e 58.5px,#7d7251 64.5px,#62705d 68.5px,#3b7463 72.5px,#2e745f 75.5px,#407477 79.5px,#416a68 84.5px,#436c6b 90.5px,#3d6c77 98.5px,#306086 103.5px,#2e4a87 106.5px,#33387b 110.5px,#323982 118.5px,#3d558b 122.5px,#4b6b90 124.5px,#3f6485 126.5px,#2c5277 129.5px,#365f7e 134.5px,#4a748d 137.5px,#265071 141.5px,#325d7a 144.5px,#4f7b90 147.5px,#3f6f90 151.5px,#2e597a 155.5px,#355e7c 165.5px,#2e5a7a 171.5px,#2d6991 177.5px,#2c6279 181.5px,#2f5d6a 184.5px,#4d787b 187.5px,#739d95 189.5px,#80a696 191.5px,#789885 193.5px,#5a7868 195.5px,#427356 198.5px,#4b7756 200.5px,#887c5f 204.5px,#907753 207.5px,#89653a 212.5px,#92542b 220.5px,#9c4129 225.5px,#873022 229.5px,#882c22 241.5px,#9b3b27 245.5px,#954f28 249.5px,#9b622e 253.5px,#9a6837 257.5px,#996f41 260.5px,#806a46 264.5px,#666951 269.5px,#3c7453 273.5px,#387556 276.5px,#507163 280.5px,#6b6851 289.5px,#7d7053 293.5px,#6e6c53 299.5px,#526d60 304.5px,#4a7a74 307.5px)"></i><i style="top:42px;background:linear-gradient(90deg,#362d92 0.5px,#2a2371 5.5px,#302983 9.5px,#302983 12.5px,#2a2572 15.5px,#2a367b 24.5px,#2a4181 27.5px,#2c4e76 31.5px,#25546e 39.5px,#407070 47.5px,#525e4f 51.5px,#7a6446 57.5px,#836949 60.5px,#695f47 65.5px,#456459 70.5px,#2d745c 74.5px,#3c7074 79.5px,#345c5c 83.5px,#335d5f 93.5px,#2e5d68 97.5px,#26566d 101.5px,#2a4f87 105.5px,#282f73 109.5px,#2b317c 118.5px,#2d3e82 121.5px,#395681 124.5px,#4e7390 127.5px,#4d758f 134.5px,#264d70 139.5px,#365f7d 142.5px,#4f7990 145.5px,#316087 152.5px,#22496e 156.5px,#234d70 171.5px,#2c6790 176.5px,#2b637f 180.5px,#3d6d79 183.5px,#72a09e 186.5px,#7ba69f 188.5px,#6a9086 190.5px,#517066 192.5px,#486255 195.5px,#437453 199.5px,#8a7c5d 204.5px,#8f7451 207.5px,#805c39 211.5px,#914228 222.5px,#9a3d28 224.5px,#7c221f 229.5px,#791d1e 240.5px,#922d24 245.5px,#863a24 249.5px,#915d35 257.5px,#94683e 260.5px,#765d3f 264.5px,#57654d 270.5px,#387452 274.5px,#46755e 278.5px,#505d50 284.5px,#6e644c 290.5px,#7a694e 293.5px,#675d47 298.5px,#4d6459 304.5px,#4a7872 307.5px)"></i><i style="top:43px;background:linear-gradient(90deg,#372e92 0.5px,#2f2774 5.5px,#342c85 9.5px,#382f87 12.5px,#353079 18.5px,#304885 27.5px,#22456d 32.5px,#325f78 38.5px,#598a93 42.5px,#467575 47.5px,#60624e 52.5px,#876d4a 58.5px,#856e49 61.5px,#606a57 68.5px,#3c7461 72.5px,#2e745e 75.5px,#407477 79.5px,#3f6766 86.5px,#3a6972 97.5px,#326276 101.5px,#31558c 105.5px,#3b3c7f 110.5px,#3c3c87 118.5px,#324086 121.5px,#274073 124.5px,#456989 128.5px,#517691 131.5px,#284c72 136.5px,#2c5175 139.5px,#4b748d 142.5px,#406884 144.5px,#2a5073 147.5px,#2f5b83 153.5px,#2e5576 162.5px,#305d7f 172.5px,#2d688f 177.5px,#3c748c 180.5px,#72a2a4 183.5px,#76a4a2 185.5px,#466c68 189.5px,#425e56 192.5px,#53715c 196.5px,#477754 199.5px,#5f7858 201.5px,#8c7b5c 204.5px,#8e7049 208.5px,#8a5d32 214.5px,#954528 222.5px,#993a27 225.5px,#822c21 230.5px,#7e2620 238.5px,#953325 245.5px,#92552a 253.5px,#9c6f3d 260.5px,#7a6847 266.5px,#626f52 270.5px,#397451 274.5px,#3f7659 277.5px,#557161 280.5px,#66664f 287.5px,#827152 292.5px,#6b634a 299.5px,#527065 305.5px,#4d7971 307.5px)"></i><i style="top:44px;background:linear-gradient(90deg,#392f94 0.5px,#473a86 7.5px,#473b97 11.5px,#6e59a2 14.5px,#6f61a2 21.5px,#6b67a3 23.5px,#4a5d9a 26.5px,#48668e 29.5px,#2f5377 32.5px,#3b6580 35.5px,#578595 38.5px,#54848e 42.5px,#497b7e 46.5px,#897c52 55.5px,#9e8453 59.5px,#ab9f61 63.5px,#8ca283 69.5px,#49816c 72.5px,#2f755c 74.5px,#397770 77.5px,#5d8e8d 80.5px,#7ba69e 83.5px,#749e98 89.5px,#76a39e 93.5px,#659698 96.5px,#6c9ca1 100.5px,#5f90a2 102.5px,#45719b 104.5px,#496c9e 105.5px,#867db6 108.5px,#8b79b6 110.5px,#8773b2 114.5px,#8a74b6 117.5px,#52549e 120.5px,#264071 125.5px,#294b73 132.5px,#264971 136.5px,#4b718d 140.5px,#24486e 145.5px,#285079 150.5px,#4c799a 153.5px,#6b96a8 155.5px,#6f9aa9 159.5px,#6790a2 164.5px,#719daa 170.5px,#4d809c 173.5px,#326b92 175.5px,#336f92 178.5px,#6196a1 181.5px,#699aa0 182.5px,#3d676a 186.5px,#3a5e5a 189.5px,#556f62 192.5px,#839c7f 195.5px,#7b9a79 196.5px,#52805d 198.5px,#4a7955 199.5px,#617858 201.5px,#8e7b5b 204.5px,#a68039 212.5px,#aa672d 221.5px,#ac512b 224.5px,#b16c2c 228.5px,#a35a29 235.5px,#ad672b 240.5px,#a94b2a 244.5px,#bc7e2f 248.5px,#bb8732 253.5px,#c09137 256.5px,#b8863f 259.5px,#baa14e 263.5px,#9da36f 269.5px,#427853 273.5px,#3b7554 276.5px,#5d806a 279.5px,#809479 282.5px,#978e61 290.5px,#948458 294.5px,#848664 301.5px,#658271 305.5px,#527d74 307.5px)"></i><i style="top:45px;background:linear-gradient(90deg,#382e93 0.5px,#4a3c86 6.5px,#3c338f 10.5px,#5d4c9b 13.5px,#725da3 15.5px,#7066a4 22.5px,#425594 26.5px,#577997 30.5px,#538192 37.5px,#2e5e72 41.5px,#386a72 45.5px,#6b7e69 50.5px,#8c7d52 55.5px,#997d4f 59.5px,#aea261 63.5px,#98a67f 68.5px,#77967d 70.5px,#35775f 73.5px,#327565 76.5px,#558686 80.5px,#7ba59d 83.5px,#7aa59f 92.5px,#5b8a8c 95.5px,#73a3a6 99.5px,#6b9ca5 101.5px,#3d6795 104.5px,#406297 105.5px,#8379b3 108.5px,#927dba 110.5px,#9077b9 116.5px,#7162aa 118.5px,#494b98 120.5px,#4e5d91 123.5px,#294673 127.5px,#254671 133.5px,#4c718e 138.5px,#254970 143.5px,#3e6485 149.5px,#3a668e 152.5px,#6e97a8 156.5px,#729eab 169.5px,#55849b 172.5px,#306891 175.5px,#3a728a 180.5px,#315b62 185.5px,#456b66 188.5px,#8da88d 192.5px,#95ac8b 194.5px,#779373 196.5px,#4d7857 198.5px,#517654 200.5px,#867b5b 203.5px,#9a7a50 207.5px,#a97c34 214.5px,#a96a2d 220.5px,#a44429 224.5px,#ae692c 229.5px,#a9612b 240.5px,#9d3e28 243.5px,#9e3c28 244.5px,#bb7c2f 248.5px,#c19134 255.5px,#b07d3d 259.5px,#bda34d 263.5px,#aba76c 268.5px,#869467 270.5px,#517b56 272.5px,#3c7551 274.5px,#427658 277.5px,#819377 282.5px,#989163 289.5px,#907d55 293.5px,#8f885d 299.5px,#7b876a 303.5px,#527b71 307.5px)"></i><i style="top:46px;background:linear-gradient(90deg,#362d92 0.5px,#302874 5.5px,#352d8a 11.5px,#38307a 16.5px,#2e4683 27.5px,#34547c 30.5px,#426985 33.5px,#23526a 40.5px,#366870 45.5px,#476d66 48.5px,#716247 54.5px,#8b6e48 60.5px,#6b6b52 67.5px,#3b7260 72.5px,#2e745e 75.5px,#3e7275 79.5px,#426968 85.5px,#326277 101.5px,#2e508a 105.5px,#3e3b81 110.5px,#343d87 121.5px,#526991 125.5px,#466389 127.5px,#2e4b77 130.5px,#3c5e82 133.5px,#4e7290 135.5px,#486c8b 137.5px,#284a73 140.5px,#2c4e75 142.5px,#6991a4 146.5px,#648da3 149.5px,#325b86 153.5px,#315679 157.5px,#2d597c 172.5px,#2c668f 176.5px,#2c6787 179.5px,#2e5c68 183.5px,#517a79 186.5px,#7ea495 188.5px,#90b098 190.5px,#8ba388 192.5px,#5e715c 195.5px,#487151 198.5px,#537653 200.5px,#887b5a 203.5px,#987953 206.5px,#8a5f33 212.5px,#8c4225 220.5px,#902b24 225.5px,#7b221f 230.5px,#7a1d1f 241.5px,#8b2423 245.5px,#996031 257.5px,#9c693a 260.5px,#716c4e 269.5px,#417450 273.5px,#3d7553 276.5px,#596f5e 280.5px,#7c6a4c 290.5px,#836c4b 293.5px,#6f654a 300.5px,#586f61 305.5px,#52786f 307.5px)"></i><i style="top:47px;background:linear-gradient(90deg,#362d92 0.5px,#292370 5.5px,#312982 9.5px,#332c89 11.5px,#292471 15.5px,#293175 23.5px,#2d4184 26.5px,#254670 31.5px,#295870 39.5px,#427376 46.5px,#575c4c 51.5px,#7e6443 57.5px,#8b6c48 59.5px,#6b5b43 65.5px,#496457 70.5px,#2e745b 74.5px,#3d7073 79.5px,#335a5a 84.5px,#345f64 94.5px,#295866 98.5px,#255474 102.5px,#2c4e89 105.5px,#292c73 109.5px,#2b2a76 117.5px,#323687 120.5px,#34467c 124.5px,#516c91 127.5px,#4e6f8f 134.5px,#274772 138.5px,#2e4f77 140.5px,#6389a0 143.5px,#6a92a5 145.5px,#3c6184 149.5px,#325b88 152.5px,#22446e 156.5px,#234b70 171.5px,#2c668f 176.5px,#34687b 181.5px,#517f85 183.5px,#7ca9a4 185.5px,#88b1a3 187.5px,#7c9c8b 189.5px,#596b5c 192.5px,#51604f 195.5px,#4a7450 199.5px,#677855 201.5px,#937b58 204.5px,#97744c 207.5px,#835934 211.5px,#853c24 219.5px,#912924 224.5px,#6e101c 229.5px,#6f0d1c 241.5px,#851922 244.5px,#7d261f 249.5px,#93572f 257.5px,#9e6438 259.5px,#775c3c 265.5px,#606549 270.5px,#3d7450 274.5px,#447657 277.5px,#586c5b 280.5px,#595c4a 284.5px,#786447 290.5px,#866d4c 292.5px,#6e5b41 298.5px,#586455 304.5px,#54786e 307.5px)"></i><i style="top:48px;background:linear-gradient(90deg,#382f93 0.5px,#312975 5.5px,#372e87 9.5px,#3a318e 11.5px,#342c78 15.5px,#33397c 23.5px,#384c8d 26.5px,#274b71 32.5px,#35617a 37.5px,#5c8c97 40.5px,#598a8f 44.5px,#4d7a77 47.5px,#616652 51.5px,#866c46 57.5px,#93754b 59.5px,#736548 65.5px,#497261 71.5px,#2e745b 74.5px,#427578 79.5px,#3d6463 84.5px,#3d6769 93.5px,#3f6f77 96.5px,#316177 101.5px,#385991 105.5px,#3c3a80 109.5px,#3e3883 117.5px,#444394 120.5px,#2a3a74 124.5px,#3e5a83 131.5px,#264471 136.5px,#2e4e78 138.5px,#6389a0 141.5px,#678da3 142.5px,#2f5178 146.5px,#254773 149.5px,#315986 153.5px,#2d5176 158.5px,#2f5879 171.5px,#2d6790 176.5px,#387490 179.5px,#78a9ac 182.5px,#83b0ac 184.5px,#6c958e 186.5px,#4f7068 188.5px,#4f5d50 192.5px,#596c54 196.5px,#4d7651 199.5px,#687855 201.5px,#947b57 204.5px,#987245 208.5px,#8c5e32 212.5px,#913624 222.5px,#933025 225.5px,#791f1f 229.5px,#7b1d1f 241.5px,#8e2824 245.5px,#883422 249.5px,#9e6230 257.5px,#a86f38 259.5px,#84683f 265.5px,#6a6f4e 270.5px,#3e7550 274.5px,#467657 277.5px,#647762 280.5px,#756b4d 287.5px,#917850 292.5px,#7a6644 297.5px,#666953 303.5px,#597b6f 307.5px)"></i><i style="top:49px;background:linear-gradient(90deg,#3a3094 0.5px,#50418b 6.5px,#423793 11.5px,#5d4d94 16.5px,#595494 22.5px,#475a98 26.5px,#5c7b9d 29.5px,#466e89 33.5px,#618f9d 37.5px,#5d8d98 40.5px,#3e6e78 44.5px,#517e79 47.5px,#8d8e67 52.5px,#9d824f 58.5px,#988a57 64.5px,#77896e 69.5px,#36775f 73.5px,#2e745e 75.5px,#4f8080 80.5px,#638c87 85.5px,#58898d 96.5px,#66969e 100.5px,#416a98 104.5px,#5567a1 106.5px,#836fb0 109.5px,#876fb2 115.5px,#6f5ea9 118.5px,#5a54a3 120.5px,#5b5c9d 122.5px,#283e73 126.5px,#274372 135.5px,#405e85 137.5px,#6487a0 139.5px,#668aa2 140.5px,#284873 144.5px,#2b4d78 149.5px,#365e8c 152.5px,#597f98 156.5px,#5b8499 169.5px,#427393 173.5px,#2e6890 176.5px,#347193 178.5px,#689ca4 181.5px,#6a9a9d 182.5px,#436c6c 185.5px,#3f5d56 188.5px,#5d6a57 192.5px,#758264 195.5px,#4f7651 199.5px,#6a7854 201.5px,#967b57 204.5px,#ab7d33 213.5px,#a6612a 220.5px,#a24129 224.5px,#a75e2a 228.5px,#a75f2a 239.5px,#9f4828 242.5px,#9c3828 244.5px,#b16c2c 248.5px,#ba8432 256.5px,#b6823b 260.5px,#b39b4e 265.5px,#999660 269.5px,#477751 273.5px,#407552 276.5px,#688368 279.5px,#94a17b 282.5px,#aaa66d 287.5px,#9e8552 293.5px,#958f61 301.5px,#5d7d70 307.5px)"></i><i style="top:50px;background:linear-gradient(90deg,#372e92 0.5px,#4d3f89 5.5px,#382f8c 11.5px,#584991 16.5px,#584f92 21.5px,#374689 25.5px,#3e568f 27.5px,#5b7b9c 29.5px,#618d9d 35.5px,#527f91 37.5px,#2f5f74 40.5px,#30606b 44.5px,#52766d 48.5px,#8b8c65 52.5px,#958655 55.5px,#92734a 59.5px,#958756 64.5px,#888964 67.5px,#34745d 73.5px,#337565 76.5px,#407476 79.5px,#567f7c 83.5px,#638d89 88.5px,#4e7979 93.5px,#45757c 96.5px,#649399 99.5px,#588896 101.5px,#325b8d 104.5px,#3e5290 106.5px,#7e6aac 110.5px,#8971b3 113.5px,#7360a5 116.5px,#464092 119.5px,#434193 120.5px,#6e72a6 123.5px,#6b74a3 124.5px,#374d7e 127.5px,#2b4374 131.5px,#38537e 134.5px,#6888a3 137.5px,#6889a3 138.5px,#32507a 141.5px,#274672 143.5px,#486c8c 147.5px,#587e9a 149.5px,#345b88 153.5px,#5e859b 161.5px,#547c93 168.5px,#326287 173.5px,#306d8f 178.5px,#366571 182.5px,#3a5e5b 186.5px,#657864 190.5px,#7e8869 193.5px,#788263 195.5px,#507450 198.5px,#597651 200.5px,#8e7b57 203.5px,#9e764a 207.5px,#a07535 211.5px,#ac742f 216.5px,#984726 221.5px,#912925 224.5px,#913c25 227.5px,#a8612a 232.5px,#a55d2a 237.5px,#8e3824 241.5px,#871e23 243.5px,#8b2423 245.5px,#ae692b 249.5px,#b87c2f 253.5px,#a76a36 259.5px,#b39546 264.5px,#a89857 267.5px,#7a7f56 270.5px,#45744f 273.5px,#407552 276.5px,#6c7c64 280.5px,#9fa375 284.5px,#a8a269 287.5px,#92764d 292.5px,#9d8d55 298.5px,#89865f 302.5px,#5f7869 306.5px,#5b796d 307.5px)"></i><i style="top:51px;background:linear-gradient(90deg,#362d91 0.5px,#302875 5.5px,#332b89 11.5px,#312a76 15.5px,#2c387c 24.5px,#2c4482 27.5px,#2d5874 36.5px,#24546a 41.5px,#43706e 47.5px,#69654d 52.5px,#886a46 58.5px,#826643 61.5px,#5f6450 68.5px,#33735c 73.5px,#327565 76.5px,#3d7073 79.5px,#396161 83.5px,#34626a 95.5px,#2b5979 102.5px,#2b4c88 105.5px,#33367c 108.5px,#3a347d 115.5px,#353887 121.5px,#4e5690 123.5px,#717fa7 125.5px,#7286a8 127.5px,#536b92 130.5px,#5e779a 132.5px,#718ca9 134.5px,#6a87a4 136.5px,#324f7a 139.5px,#2a4774 141.5px,#446588 143.5px,#7297ab 145.5px,#7ca3b3 147.5px,#749cb0 149.5px,#2f5584 153.5px,#284973 156.5px,#275277 172.5px,#2c678f 176.5px,#2c6785 179.5px,#315d64 183.5px,#4e7169 186.5px,#738871 189.5px,#757e63 192.5px,#626750 195.5px,#4f744e 199.5px,#987b55 204.5px,#9c7348 207.5px,#8a5b32 211.5px,#8c4726 217.5px,#821821 225.5px,#72151d 228.5px,#72161d 239.5px,#7d1020 245.5px,#812a20 249.5px,#9f6034 259.5px,#726647 269.5px,#40744f 274.5px,#487655 277.5px,#606d59 280.5px,#876b48 291.5px,#7a6544 299.5px,#636754 304.5px,#5b786b 307.5px)"></i><i style="top:52px;background:linear-gradient(90deg,#362d92 0.5px,#2a2370 5.5px,#2e277a 8.5px,#362e8b 11.5px,#2a2570 16.5px,#2b3377 23.5px,#304486 26.5px,#21426d 31.5px,#2c5b73 39.5px,#4d7e85 44.5px,#4a6e67 48.5px,#605c48 52.5px,#816644 57.5px,#8f7049 59.5px,#6b5c43 65.5px,#4d6759 70.5px,#2e745b 74.5px,#3f7375 79.5px,#335a5b 84.5px,#355f62 93.5px,#34636d 96.5px,#24536d 101.5px,#2d4d89 105.5px,#2a2b74 109.5px,#2d2b77 117.5px,#353589 120.5px,#2f397a 123.5px,#455587 125.5px,#6c80a4 127.5px,#7289a9 130.5px,#728ba9 133.5px,#536d92 135.5px,#304b79 137.5px,#2b4675 139.5px,#4a688c 141.5px,#7699ae 143.5px,#769bae 145.5px,#3f6185 148.5px,#2c5182 153.5px,#22436e 157.5px,#254d71 171.5px,#2c678f 176.5px,#2e667d 180.5px,#3c6a74 182.5px,#628880 185.5px,#6d8470 188.5px,#60624f 192.5px,#5b654b 196.5px,#51744e 199.5px,#997b54 204.5px,#9e7448 207.5px,#865630 211.5px,#852421 222.5px,#811721 225.5px,#6a0a1b 229.5px,#6e0c1c 241.5px,#7c0f20 245.5px,#751a1d 249.5px,#8b4527 256.5px,#a16134 259.5px,#7c5b39 265.5px,#676748 270.5px,#41744e 274.5px,#497655 277.5px,#626e59 280.5px,#625c47 284.5px,#806644 290.5px,#8f7048 292.5px,#745c3e 298.5px,#66614b 303.5px,#5e796b 307.5px)"></i><i style="top:53px;background:linear-gradient(90deg,#3a3095 0.5px,#342b77 6.5px,#483c98 11.5px,#4b3e8a 14.5px,#3f3780 18.5px,#434285 22.5px,#4c5998 25.5px,#2d4f76 31.5px,#325d78 36.5px,#62929c 40.5px,#5c8d92 44.5px,#54827e 47.5px,#746b4e 53.5px,#917a4c 57.5px,#a18551 59.5px,#7a6d4d 65.5px,#667763 69.5px,#57816e 71.5px,#2f755c 74.5px,#437b7a 78.5px,#578482 81.5px,#466e6d 85.5px,#4b7474 92.5px,#528185 95.5px,#305f6f 99.5px,#31607e 102.5px,#3b5b93 105.5px,#414186 108.5px,#39347d 113.5px,#433b86 117.5px,#4d479a 120.5px,#2c3976 124.5px,#374e7d 131.5px,#2b4575 137.5px,#4b688d 139.5px,#7696ad 141.5px,#7596ad 142.5px,#395880 145.5px,#244371 148.5px,#315788 152.5px,#375a81 155.5px,#2c4e75 161.5px,#335a7a 170.5px,#33678e 174.5px,#2e6c8d 178.5px,#5d8988 183.5px,#57766c 186.5px,#575e4d 190.5px,#67674d 195.5px,#53764f 199.5px,#6e7852 201.5px,#9a7b54 204.5px,#a47942 208.5px,#915e2f 212.5px,#8f3a24 221.5px,#932c25 224.5px,#73161d 229.5px,#76191e 240.5px,#881d23 244.5px,#7b231f 249.5px,#8d4426 255.5px,#af7035 259.5px,#8b6a3c 265.5px,#777951 270.5px,#42754f 274.5px,#4b7756 277.5px,#748165 280.5px,#766c4e 285.5px,#89744a 289.5px,#a4854f 292.5px,#846c44 298.5px,#7b7858 303.5px,#6d826e 306.5px,#65806f 307.5px)"></i><i style="top:54px;background:linear-gradient(90deg,#3b3195 0.5px,#594891 5.5px,#483c98 10.5px,#6351a5 12.5px,#8d71b5 15.5px,#8f7ab8 21.5px,#7374ae 24.5px,#5567a2 26.5px,#6386a0 30.5px,#588197 33.5px,#65929f 37.5px,#5b8a96 40.5px,#3a6976 43.5px,#47797b 46.5px,#8da383 50.5px,#aba66b 54.5px,#aa9157 59.5px,#b3b072 65.5px,#94aa88 69.5px,#4c846e 72.5px,#2f755c 74.5px,#3a7771 77.5px,#82afa7 82.5px,#8ebab2 89.5px,#81afa9 93.5px,#598a8f 96.5px,#47768f 102.5px,#3c6494 104.5px,#4f619c 106.5px,#7262a4 109.5px,#735fa4 116.5px,#5c53a4 120.5px,#6b66a7 122.5px,#4c548c 124.5px,#2d3f76 126.5px,#243b6f 132.5px,#2d4676 135.5px,#4e688f 137.5px,#7795ae 139.5px,#7493ac 140.5px,#33507b 143.5px,#23406f 146.5px,#2d5183 151.5px,#4f7594 155.5px,#537c93 169.5px,#407192 173.5px,#2d6890 176.5px,#38748e 179.5px,#4b7d88 181.5px,#446058 186.5px,#64644e 191.5px,#82835d 195.5px,#5a7951 198.5px,#55764f 199.5px,#6f7852 201.5px,#9b7b53 204.5px,#b48634 212.5px,#ac662b 220.5px,#993327 224.5px,#8d3b24 229.5px,#8d3624 241.5px,#8e2424 244.5px,#9e5327 252.5px,#af6e33 258.5px,#c29d3d 263.5px,#b1a35d 268.5px,#91955e 270.5px,#4b7850 273.5px,#437551 276.5px,#5c7c5d 278.5px,#949d76 281.5px,#aeac71 285.5px,#af9152 292.5px,#bdac5b 298.5px,#a6a773 303.5px,#688270 307.5px)"></i><i style="top:55px;background:linear-gradient(90deg,#372e92 0.5px,#4a3d89 4.5px,#4a3d89 7.5px,#38308d 10.5px,#4c3f8f 13.5px,#826aad 17.5px,#826cae 20.5px,#3c4b8d 25.5px,#3c548e 27.5px,#6487a1 30.5px,#6591a0 35.5px,#326077 39.5px,#295969 43.5px,#517870 48.5px,#949b72 52.5px,#9d925e 55.5px,#90774e 58.5px,#947e50 61.5px,#a8a56d 65.5px,#8a9976 68.5px,#4e7968 71.5px,#2e745c 74.5px,#427678 79.5px,#5b8682 82.5px,#81ada5 86.5px,#7ba7a1 90.5px,#427177 95.5px,#477680 98.5px,#427285 101.5px,#2f578a 104.5px,#40488a 107.5px,#6b5a9e 111.5px,#6b599e 114.5px,#3e398c 119.5px,#403e91 120.5px,#7e7cb1 123.5px,#8083b1 124.5px,#435586 127.5px,#33497a 131.5px,#465e89 134.5px,#738daa 136.5px,#7d99b2 137.5px,#7793ad 138.5px,#334f7b 141.5px,#264271 143.5px,#426489 149.5px,#2e5384 153.5px,#406485 157.5px,#517792 163.5px,#3b6280 170.5px,#2d6189 174.5px,#2e6c8c 178.5px,#375b5a 184.5px,#676d56 189.5px,#8a8861 192.5px,#85845d 195.5px,#58754e 198.5px,#54754d 199.5px,#707851 201.5px,#9c7b53 204.5px,#9e7140 208.5px,#a17333 211.5px,#b0782f 215.5px,#a25929 219.5px,#871a22 224.5px,#7b1d1f 227.5px,#8b3823 233.5px,#812a21 239.5px,#801121 244.5px,#802521 247.5px,#994c26 252.5px,#9b552c 257.5px,#ab7e37 262.5px,#b79a46 265.5px,#a19054 268.5px,#55744e 272.5px,#41744f 275.5px,#587759 278.5px,#797e61 281.5px,#a6a16a 285.5px,#a29258 288.5px,#96774a 291.5px,#9b7c46 294.5px,#b4a056 298.5px,#a79c60 301.5px,#707962 305.5px,#627a6a 307.5px)"></i><i style="top:56px;background:linear-gradient(90deg,#362d91 0.5px,#312875 5.5px,#332b89 11.5px,#352d78 15.5px,#37357c 21.5px,#2b4381 27.5px,#2c5774 36.5px,#24546a 41.5px,#406f6f 47.5px,#646752 52.5px,#836a49 58.5px,#72694d 65.5px,#406c5e 71.5px,#2e745e 75.5px,#3c7475 78.5px,#3c6363 83.5px,#3d6566 91.5px,#285871 101.5px,#2b4b88 105.5px,#2f3279 108.5px,#322e78 116.5px,#353787 121.5px,#515692 123.5px,#7f89b1 125.5px,#8899b9 127.5px,#768bac 131.5px,#869eb8 134.5px,#7892ae 136.5px,#334d7b 139.5px,#274272 141.5px,#567796 146.5px,#4c7095 150.5px,#264878 154.5px,#2a4c74 162.5px,#255076 172.5px,#2c688f 176.5px,#2c6883 179.5px,#375e60 183.5px,#5b7262 186.5px,#838a68 189.5px,#87815c 192.5px,#6f684b 195.5px,#54744c 199.5px,#9d7b52 204.5px,#a07246 207.5px,#8b592f 211.5px,#8b3f24 217.5px,#7f1c20 222.5px,#7b0e20 225.5px,#6d0e1c 229.5px,#730b1e 242.5px,#790b1f 245.5px,#751a1e 249.5px,#934a2a 257.5px,#9c5d32 260.5px,#8b6437 264.5px,#746544 269.5px,#43744d 274.5px,#4c7554 277.5px,#656c56 280.5px,#846642 290.5px,#8e6a43 293.5px,#816943 299.5px,#696751 304.5px,#617868 307.5px)"></i><i style="top:57px;background:linear-gradient(90deg,#372e92 0.5px,#2a2370 5.5px,#2e277a 8.5px,#352d8a 11.5px,#2a2571 15.5px,#2a3276 23.5px,#2e4285 26.5px,#21426d 31.5px,#2b5971 39.5px,#477983 44.5px,#456e6b 48.5px,#575c4b 52.5px,#7b6748 57.5px,#846c4b 60.5px,#645c46 65.5px,#46665b 70.5px,#2d745e 75.5px,#3e7276 79.5px,#335b5b 84.5px,#365f62 93.5px,#35646f 96.5px,#245469 100.5px,#2d5589 104.5px,#2b2b74 109.5px,#2e2b77 117.5px,#343489 120.5px,#2f3879 123.5px,#465488 125.5px,#7687ab 127.5px,#899cb9 129.5px,#8097b4 133.5px,#3e5683 136.5px,#294273 138.5px,#2d4877 140.5px,#537293 143.5px,#567595 145.5px,#355580 149.5px,#2e5284 153.5px,#22426e 158.5px,#254c70 170.5px,#2d688f 176.5px,#31687b 180.5px,#4f7774 183.5px,#768c75 186.5px,#7d7e5f 189.5px,#6e6046 193.5px,#646447 196.5px,#55744c 199.5px,#717851 201.5px,#9d7b52 204.5px,#a27545 207.5px,#88552e 211.5px,#811f21 222.5px,#7d1120 225.5px,#69091b 230.5px,#6e0c1c 241.5px,#7e0e20 244.5px,#70131c 249.5px,#8a3e26 256.5px,#a25d31 259.5px,#815935 264.5px,#696646 270.5px,#44744d 274.5px,#4d7654 277.5px,#686e57 280.5px,#685c45 284.5px,#846642 290.5px,#936f45 292.5px,#785b3c 298.5px,#696650 304.5px,#637969 307.5px)"></i><i style="top:58px;background:linear-gradient(90deg,#3b3195 0.5px,#392f7d 4.5px,#39307d 7.5px,#3f3592 11.5px,#342d77 16.5px,#35377b 22.5px,#3d5090 26.5px,#2a4d73 32.5px,#37637c 37.5px,#598995 40.5px,#528383 47.5px,#5f796a 50.5px,#736f53 54.5px,#968459 58.5px,#887752 61.5px,#666852 66.5px,#4c7a6c 71.5px,#2e745d 74.5px,#427b7b 78.5px,#578584 81.5px,#466e6d 85.5px,#4c7675 92.5px,#57878a 95.5px,#376675 99.5px,#3d6695 104.5px,#4b5292 107.5px,#3f3981 110.5px,#433b84 116.5px,#4f4798 119.5px,#383b84 122.5px,#2a3973 125.5px,#394e7f 130.5px,#2a4274 135.5px,#2e4777 138.5px,#537093 141.5px,#4c698e 143.5px,#2b4875 146.5px,#254373 149.5px,#3a608f 152.5px,#4d7396 154.5px,#37597e 159.5px,#395f7e 168.5px,#4d7a95 172.5px,#2e6a90 176.5px,#37728a 179.5px,#658d86 183.5px,#697b68 186.5px,#67624c 189.5px,#6f6146 194.5px,#64724d 197.5px,#57754d 199.5px,#717850 201.5px,#9e7b52 204.5px,#ad8041 208.5px,#975e2c 213.5px,#8f3f24 219.5px,#9a4227 222.5px,#832222 226.5px,#71151d 232.5px,#771b1e 240.5px,#8b2024 244.5px,#7a201f 249.5px,#8e4125 255.5px,#ae6b33 259.5px,#896539 265.5px,#75744d 270.5px,#44754e 274.5px,#4e7754 277.5px,#798163 280.5px,#796c4c 285.5px,#8d7447 289.5px,#a3804a 292.5px,#82663f 298.5px,#786f51 303.5px,#677d6b 307.5px)"></i><i style="top:59px;background:linear-gradient(90deg,#3d3296 0.5px,#67539b 5.5px,#5b4a99 8.5px,#453995 11.5px,#5b4c93 17.5px,#4d5493 24.5px,#4b6298 27.5px,#597c99 30.5px,#537d93 34.5px,#5b8997 39.5px,#3a6c79 44.5px,#467a81 46.5px,#93b399 50.5px,#b0b783 54.5px,#aca56d 57.5px,#9b8d5f 60.5px,#8f9a75 66.5px,#799680 69.5px,#437e6c 72.5px,#2d745d 74.5px,#397771 77.5px,#669897 80.5px,#85b2aa 82.5px,#8fbcb3 89.5px,#84b2ac 93.5px,#699a9d 96.5px,#71a1a7 100.5px,#507e9e 103.5px,#466f9c 104.5px,#4a689e 105.5px,#8172b1 108.5px,#8f75b7 113.5px,#836bb1 117.5px,#574fa1 120.5px,#494d8c 123.5px,#293b73 126.5px,#294173 135.5px,#546f93 139.5px,#49648b 141.5px,#274372 144.5px,#234172 149.5px,#2f5385 151.5px,#7ca5b6 155.5px,#88b3bc 165.5px,#7ca9b5 171.5px,#356e94 175.5px,#32708e 178.5px,#528288 181.5px,#536153 186.5px,#6a5e46 190.5px,#8a7f54 194.5px,#90945f 196.5px,#658153 198.5px,#5a794e 199.5px,#727850 201.5px,#9f7b51 204.5px,#bb8f42 208.5px,#cca137 212.5px,#c48831 220.5px,#b66a2e 222.5px,#9d3a28 224.5px,#913625 226.5px,#934325 233.5px,#903c25 241.5px,#922a25 244.5px,#9e5228 249.5px,#b67a36 260.5px,#ad9147 266.5px,#998e55 269.5px,#4c764e 273.5px,#467550 276.5px,#5f7c5c 278.5px,#989e74 281.5px,#b1ab6d 285.5px,#b49a53 290.5px,#aa8749 293.5px,#a58f4f 299.5px,#8a8b65 304.5px,#697e6c 307.5px)"></i><i style="top:60px;background:linear-gradient(90deg,#382e93 0.5px,#4d3f8f 3.5px,#614f97 5.5px,#5a4993 7.5px,#3a318e 10.5px,#483b87 14.5px,#594c92 19.5px,#364a8b 26.5px,#5b7e9a 30.5px,#578395 36.5px,#2d5c73 40.5px,#2c5e6e 44.5px,#52807d 48.5px,#9db38e 52.5px,#a3a878 55.5px,#887957 59.5px,#8f8d64 63.5px,#829478 67.5px,#397565 72.5px,#2d735f 75.5px,#4b7c7f 80.5px,#86b1a9 85.5px,#8ab6af 89.5px,#669290 93.5px,#4c7b80 95.5px,#56868c 97.5px,#6b9ba0 99.5px,#5f8f9c 101.5px,#345c8e 104.5px,#405291 106.5px,#806aad 110.5px,#8b72b4 113.5px,#7561a6 116.5px,#464092 119.5px,#464493 121.5px,#5b5d98 123.5px,#515c8f 125.5px,#304478 128.5px,#304779 133.5px,#587196 137.5px,#49648b 139.5px,#264171 142.5px,#314f7a 146.5px,#3b618e 153.5px,#749bad 158.5px,#86b1bb 163.5px,#749eac 168.5px,#3a6b8d 173.5px,#2d6c8e 177.5px,#376670 181.5px,#485c51 185.5px,#756c4e 189.5px,#b6ae6a 193.5px,#b1af6c 195.5px,#668152 198.5px,#5a794e 199.5px,#727850 201.5px,#9f7b51 204.5px,#aa7d3a 209.5px,#ca9a35 214.5px,#c38831 218.5px,#a6592a 221.5px,#891d23 224.5px,#811f21 226.5px,#904025 232.5px,#8c3923 238.5px,#831522 244.5px,#9d5228 250.5px,#a25d2a 255.5px,#a76231 259.5px,#ae8d40 265.5px,#9c884e 268.5px,#4a744d 273.5px,#467550 276.5px,#767d60 280.5px,#a8a46d 284.5px,#afa25f 287.5px,#9b7646 292.5px,#a38847 297.5px,#9a8a55 301.5px,#6a7865 306.5px,#667a69 307.5px)"></i><i style="top:61px;background:linear-gradient(90deg,#362d91 0.5px,#342b77 5.5px,#332b89 11.5px,#302975 15.5px,#2c387c 24.5px,#2c4482 27.5px,#2b5673 36.5px,#25566a 43.5px,#3a6d74 47.5px,#686b53 55.5px,#766b51 60.5px,#546658 67.5px,#2f725f 73.5px,#307467 76.5px,#3b7075 79.5px,#3e6766 83.5px,#406869 91.5px,#2b5a7a 102.5px,#2c4b88 105.5px,#37347c 109.5px,#35307c 117.5px,#333586 121.5px,#515a90 124.5px,#5e709a 127.5px,#536892 131.5px,#5c7499 135.5px,#39537f 138.5px,#254071 141.5px,#34507c 143.5px,#85a9b9 147.5px,#83aabb 149.5px,#315686 153.5px,#2c4d77 156.5px,#32577a 167.5px,#295479 172.5px,#2c698f 176.5px,#2f6a81 179.5px,#3b5d5a 183.5px,#7b7e5e 187.5px,#aba86d 189.5px,#beb76f 191.5px,#bab26a 193.5px,#99925b 195.5px,#6a764e 197.5px,#57754b 199.5px,#727850 201.5px,#9f7b51 204.5px,#a27244 207.5px,#905d2f 211.5px,#904425 217.5px,#801521 223.5px,#6e0f1c 228.5px,#700e1d 241.5px,#7a0c1f 245.5px,#761b1e 249.5px,#934829 257.5px,#a05930 259.5px,#756543 269.5px,#45744d 274.5px,#4e7653 277.5px,#696d56 280.5px,#886842 290.5px,#906a41 293.5px,#806540 299.5px,#6c6750 304.5px,#647867 307.5px)"></i><i style="top:62px;background:linear-gradient(90deg,#362d91 0.5px,#292370 5.5px,#302982 9.5px,#322b89 11.5px,#292470 15.5px,#29367a 24.5px,#294180 27.5px,#21426d 31.5px,#295671 39.5px,#3a6d7c 44.5px,#3a6e76 47.5px,#3f5c55 51.5px,#65634f 57.5px,#6e6952 60.5px,#515b4d 65.5px,#39635d 70.5px,#2c7360 75.5px,#3a7376 78.5px,#335a5c 83.5px,#325b5f 93.5px,#2c5c69 97.5px,#23536d 101.5px,#2b4b88 105.5px,#292a73 109.5px,#2a2875 117.5px,#313186 120.5px,#313d79 124.5px,#5d7099 128.5px,#5b7198 133.5px,#274072 138.5px,#2c4675 140.5px,#516e91 142.5px,#83a4b7 144.5px,#8eb2c0 146.5px,#84aabb 149.5px,#5b82a6 151.5px,#2f5485 153.5px,#21416e 156.5px,#224a6f 171.5px,#2c698f 176.5px,#336877 180.5px,#54776e 183.5px,#a3b184 186.5px,#b8ba7c 188.5px,#b6af6d 190.5px,#88774d 193.5px,#6c6847 196.5px,#57744b 199.5px,#73784f 201.5px,#9f7b51 204.5px,#a17244 207.5px,#87532e 211.5px,#7b171f 222.5px,#790c1f 225.5px,#69091b 230.5px,#6d091c 241.5px,#780a1f 245.5px,#6d0d1c 248.5px,#883a25 256.5px,#9f5830 259.5px,#7f5a36 265.5px,#686445 270.5px,#45744d 274.5px,#4e7653 277.5px,#676b54 280.5px,#6c5c43 285.5px,#836340 290.5px,#926b43 292.5px,#795b3b 298.5px,#69644e 304.5px,#647867 307.5px)"></i><i style="top:63px;background:linear-gradient(90deg,#382e93 0.5px,#332a77 5.5px,#372e86 9.5px,#393088 12.5px,#353079 18.5px,#364183 24.5px,#374f8a 27.5px,#22466e 32.5px,#2f5a76 36.5px,#447186 38.5px,#88b9bb 41.5px,#8ebfbf 43.5px,#467b83 47.5px,#4e695f 52.5px,#71725b 59.5px,#536355 65.5px,#347165 72.5px,#2c7360 75.5px,#3e7378 79.5px,#3d6565 86.5px,#3f6d74 95.5px,#34647a 101.5px,#32518d 105.5px,#37357d 109.5px,#39337f 117.5px,#3d3b8f 120.5px,#283772 125.5px,#324779 131.5px,#263f71 137.5px,#3b5681 139.5px,#86a5b9 142.5px,#8aaabc 143.5px,#80a1b5 144.5px,#415f85 147.5px,#2d5183 153.5px,#2b4c75 159.5px,#2c587b 172.5px,#2d698f 176.5px,#387388 179.5px,#629293 181.5px,#95b9a4 183.5px,#aeb989 186.5px,#9d9868 188.5px,#82724d 190.5px,#715d40 194.5px,#57744b 199.5px,#73784f 201.5px,#a07b51 204.5px,#a47545 207.5px,#925c2d 212.5px,#831922 225.5px,#771c1e 237.5px,#821721 243.5px,#771d1e 249.5px,#974d2a 257.5px,#a36432 260.5px,#726f4a 270.5px,#45744d 274.5px,#4e7654 277.5px,#6e745a 280.5px,#816a44 288.5px,#987245 292.5px,#80633d 298.5px,#706b52 304.5px,#667968 307.5px)"></i><i style="top:64px;background:linear-gradient(90deg,#3d3296 0.5px,#5b4a94 4.5px,#574796 8.5px,#493d98 10.5px,#59499f 12.5px,#725ca5 14.5px,#6d5da0 20.5px,#6f6ba6 23.5px,#5c68a4 25.5px,#6880ae 27.5px,#738fb1 28.5px,#6e8eaa 29.5px,#3e6383 32.5px,#456e87 34.5px,#86b4b9 37.5px,#97c6c6 39.5px,#8ec0c0 43.5px,#589099 46.5px,#568c93 47.5px,#7fa99e 50.5px,#92a07f 57.5px,#7e886c 60.5px,#688777 67.5px,#59877f 70.5px,#2b735f 74.5px,#377672 77.5px,#729f9a 82.5px,#6d9793 89.5px,#73a09c 93.5px,#70a2a3 96.5px,#7cacae 99.5px,#78a9b0 101.5px,#5c8aa7 103.5px,#4b74a0 104.5px,#48679d 105.5px,#6f64a5 108.5px,#6c5a9f 114.5px,#715ea5 117.5px,#5f54a5 120.5px,#5d599d 122.5px,#2e3c76 125.5px,#24396f 131.5px,#273f72 135.5px,#3d5682 137.5px,#85a3b8 140.5px,#86a4b9 141.5px,#5a7898 143.5px,#324e7a 145.5px,#22406f 148.5px,#2b4e82 151.5px,#4d7296 154.5px,#557a95 158.5px,#4f7590 165.5px,#547f96 171.5px,#2e6b90 176.5px,#387691 178.5px,#90baad 182.5px,#95b8a3 183.5px,#797c60 186.5px,#726045 189.5px,#735e41 194.5px,#657049 197.5px,#58754b 199.5px,#73784f 201.5px,#a07b51 204.5px,#bf9337 211.5px,#b6772e 218.5px,#b56f2d 221.5px,#a5452a 224.5px,#b6712e 227.5px,#b4722d 230.5px,#ab662b 235.5px,#b9772f 240.5px,#af5f2c 242.5px,#9d3928 244.5px,#994127 246.5px,#9b4f27 250.5px,#bc7b35 259.5px,#c89d3a 262.5px,#b7a152 267.5px,#ada45f 269.5px,#4e784f 273.5px,#43754e 275.5px,#4f7754 277.5px,#9ca175 281.5px,#a7a773 283.5px,#afa15e 287.5px,#b79e54 290.5px,#ab8749 293.5px,#9b844b 299.5px,#8a8a65 304.5px,#6a7e6c 307.5px)"></i><i style="top:65px;background:linear-gradient(90deg,#3c3296 0.5px,#645199 5.5px,#594998 8.5px,#483c98 10.5px,#59499f 12.5px,#7962a7 15.5px,#766ca8 22.5px,#5b67a3 25.5px,#5b6ea6 26.5px,#90b3c4 29.5px,#98c3c8 32.5px,#95c4c5 37.5px,#7aa9b0 39.5px,#497989 41.5px,#3a6b7d 43.5px,#3f7785 46.5px,#81aca3 50.5px,#95af91 55.5px,#78886f 60.5px,#688d82 68.5px,#4a807a 71.5px,#2b735f 74.5px,#3f7a7d 78.5px,#739f9b 82.5px,#74a09c 93.5px,#6b9c9c 95.5px,#8bbbba 99.5px,#82b3b8 101.5px,#4a739f 104.5px,#47669c 105.5px,#7765a7 109.5px,#725fa6 117.5px,#5e52a2 119.5px,#5e54a5 120.5px,#8077b6 122.5px,#8580b6 123.5px,#596395 125.5px,#34477b 127.5px,#253b70 131.5px,#364d7d 134.5px,#5e779b 136.5px,#88a4ba 138.5px,#86a2b9 139.5px,#3c5882 142.5px,#254171 144.5px,#234171 149.5px,#355a8b 152.5px,#547997 155.5px,#547f96 171.5px,#2e6b90 176.5px,#387691 178.5px,#598e96 180.5px,#5c837e 182.5px,#5b6453 185.5px,#725d40 190.5px,#867349 194.5px,#878653 196.5px,#5b784d 199.5px,#73784f 201.5px,#9f7b51 204.5px,#c19637 211.5px,#bb7a2f 220.5px,#a6462a 224.5px,#b0612d 226.5px,#ba792f 228.5px,#ba792f 240.5px,#af602c 242.5px,#9c3928 244.5px,#994127 246.5px,#a65e29 251.5px,#bb7b36 259.5px,#cba63c 263.5px,#bbac5d 268.5px,#999c5f 270.5px,#608053 272.5px,#45754e 274.5px,#4f7755 277.5px,#9ca276 281.5px,#b1af73 284.5px,#baa75a 289.5px,#aa8749 293.5px,#a38d4e 299.5px,#8a8a65 304.5px,#697e6c 307.5px)"></i><i style="top:66px;background:linear-gradient(90deg,#372e92 0.5px,#3f347f 5.5px,#372f8c 11.5px,#3e347f 15.5px,#4c4289 19.5px,#364183 24.5px,#3a528c 27.5px,#5e7f9e 29.5px,#89b3bd 31.5px,#94c0c4 33.5px,#7ca9b2 35.5px,#3c6980 38.5px,#23536b 42.5px,#386e7c 47.5px,#4f7672 51.5px,#5e7d6f 54.5px,#5c7262 58.5px,#536b5d 63.5px,#446a66 68.5px,#2c7162 73.5px,#2f7368 76.5px,#3d7279 79.5px,#436b6b 83.5px,#517a78 88.5px,#3e6b6f 94.5px,#4a7a87 100.5px,#30588b 104.5px,#393a80 108.5px,#4b4289 113.5px,#393483 118.5px,#3c3a8e 120.5px,#6461a3 122.5px,#817eb3 123.5px,#9192bd 124.5px,#9399bf 125.5px,#8895b8 126.5px,#485b8a 129.5px,#405584 131.5px,#60779c 133.5px,#88a1ba 135.5px,#88a2ba 137.5px,#3b5681 140.5px,#254070 142.5px,#2d5185 152.5px,#305179 158.5px,#385d7e 165.5px,#2c5577 171.5px,#2d6a8f 176.5px,#396d79 180.5px,#4a5c51 184.5px,#796745 189.5px,#b2a45d 194.5px,#ada45f 195.5px,#678050 198.5px,#5c794d 199.5px,#61774d 200.5px,#967b52 203.5px,#a5794b 206.5px,#956331 211.5px,#9f5e2a 216.5px,#882922 222.5px,#7f1c21 226.5px,#822b21 230.5px,#8e3c24 234.5px,#7c1e20 241.5px,#7f1321 245.5px,#7c221f 248.5px,#904024 253.5px,#98502b 257.5px,#a56132 259.5px,#9a7036 263.5px,#9a7d42 266.5px,#63724c 271.5px,#44744d 274.5px,#4d7654 277.5px,#6c735a 280.5px,#837b56 284.5px,#8b7a4e 287.5px,#937146 291.5px,#8a6d3f 297.5px,#796a4a 302.5px,#647969 307.5px)"></i><i style="top:67px;background:linear-gradient(90deg,#362d91 0.5px,#2c2572 5.5px,#302982 9.5px,#322b89 11.5px,#2b2571 15.5px,#29367a 24.5px,#2a4280 27.5px,#35587d 31.5px,#325c78 35.5px,#214e6a 39.5px,#265a71 44.5px,#326979 47.5px,#355d5e 51.5px,#48635a 57.5px,#4e695e 60.5px,#3f5e56 64.5px,#326162 70.5px,#2a7261 75.5px,#387377 78.5px,#335b5c 83.5px,#325e63 94.5px,#265475 102.5px,#2a4a87 105.5px,#2a2b74 109.5px,#2b2975 117.5px,#323585 121.5px,#464c8a 123.5px,#8d99bb 126.5px,#95a7c2 129.5px,#90a8c0 134.5px,#6e86a6 136.5px,#39527f 138.5px,#253f71 140.5px,#2c4776 143.5px,#6688a2 148.5px,#5a7ea0 150.5px,#2c4f82 153.5px,#21416e 156.5px,#224a6f 171.5px,#2c698e 176.5px,#306a7f 179.5px,#415d56 183.5px,#7c7350 187.5px,#afa05b 190.5px,#bdae5e 193.5px,#aba25d 195.5px,#627b4e 198.5px,#5a774c 199.5px,#727850 201.5px,#9e7b52 204.5px,#a07245 207.5px,#87552f 211.5px,#863b24 217.5px,#7f1c20 222.5px,#7c1020 225.5px,#6a0a1b 229.5px,#6a0a1b 240.5px,#790b1f 245.5px,#71131d 248.5px,#924a2a 257.5px,#9f5b31 259.5px,#845d36 264.5px,#676446 270.5px,#43744d 274.5px,#4c7554 277.5px,#646b55 280.5px,#6a5f47 284.5px,#816341 290.5px,#906b44 292.5px,#7a5e3c 298.5px,#67644f 304.5px,#627868 307.5px)"></i><i style="top:68px;background:linear-gradient(90deg,#362d91 0.5px,#292370 5.5px,#302982 9.5px,#322b89 11.5px,#292471 15.5px,#29367a 24.5px,#29417f 27.5px,#21436d 31.5px,#26536e 39.5px,#356c7f 45.5px,#316572 48.5px,#325a5b 52.5px,#42635b 57.5px,#496960 60.5px,#375b57 65.5px,#316063 70.5px,#2a7261 75.5px,#387277 78.5px,#32595b 84.5px,#325e63 94.5px,#23536c 101.5px,#2b4a87 105.5px,#292a73 109.5px,#2a2875 117.5px,#303186 120.5px,#303b78 124.5px,#485889 126.5px,#889ab9 129.5px,#8ea2be 131.5px,#7086a7 133.5px,#334b7b 136.5px,#243d70 139.5px,#2e4978 141.5px,#6d8da7 145.5px,#7296ac 148.5px,#6186a5 150.5px,#2d5183 153.5px,#21416e 156.5px,#224a6f 171.5px,#2c698e 176.5px,#316b7f 179.5px,#436864 182.5px,#818a69 185.5px,#aaa66c 187.5px,#bcae61 190.5px,#a79553 193.5px,#767149 196.5px,#5b724a 198.5px,#57744b 199.5px,#727850 201.5px,#9d7b52 204.5px,#9f7246 207.5px,#86542f 211.5px,#811f20 222.5px,#7e1320 225.5px,#69091b 229.5px,#6c091c 241.5px,#7c0b20 244.5px,#72141d 248.5px,#8a4126 256.5px,#9f5c32 259.5px,#7d5b38 265.5px,#666446 270.5px,#43744e 274.5px,#4b7554 277.5px,#636b56 280.5px,#665b45 284.5px,#806341 290.5px,#8f6b45 292.5px,#775b3c 298.5px,#66644f 304.5px,#617869 307.5px)"></i><i style="top:69px;background:linear-gradient(90deg,#372e92 0.5px,#302875 5.5px,#332b7e 8.5px,#3a318e 11.5px,#38327b 18.5px,#344d88 27.5px,#22456d 32.5px,#315c77 37.5px,#5c8b98 40.5px,#7cadb2 42.5px,#7dafb4 43.5px,#3e7686 47.5px,#3b6365 52.5px,#4c7169 60.5px,#3c6362 66.5px,#31706a 72.5px,#2a7261 75.5px,#397479 78.5px,#386061 86.5px,#3c686c 94.5px,#2e5e75 101.5px,#31518d 105.5px,#37337b 110.5px,#3a3480 117.5px,#3a388c 120.5px,#263671 125.5px,#394e7f 131.5px,#243c70 137.5px,#2f4978 139.5px,#6583a0 142.5px,#7191a9 144.5px,#305485 153.5px,#284973 158.5px,#2a5376 171.5px,#2d6a8e 176.5px,#377184 179.5px,#568383 181.5px,#99ae8b 184.5px,#b3af71 187.5px,#a18f54 190.5px,#806842 193.5px,#6b6544 196.5px,#57744b 199.5px,#717850 201.5px,#9c7b53 204.5px,#9c7141 208.5px,#8e5029 215.5px,#8a2323 225.5px,#74191e 231.5px,#7f1c20 242.5px,#801e21 246.5px,#8b4025 254.5px,#a46434 259.5px,#7c6340 267.5px,#6c6b4a 270.5px,#42744e 274.5px,#4b7655 277.5px,#68725b 280.5px,#776546 287.5px,#947346 293.5px,#7b6645 300.5px,#627a6b 307.5px)"></i><i style="top:70px;background:linear-gradient(90deg,#3c3296 0.5px,#50418d 4.5px,#4f4191 8.5px,#4c3f9a 10.5px,#705bae 12.5px,#876cb7 13.5px,#8f73b7 15.5px,#7d68ab 19.5px,#8c87bb 23.5px,#6277ac 26.5px,#58799a 29.5px,#385d7e 32.5px,#477289 35.5px,#7faeb4 38.5px,#93c3c4 41.5px,#8bbdbf 43.5px,#538d9b 46.5px,#508996 47.5px,#6d9b9b 50.5px,#6b948e 54.5px,#729c91 57.5px,#6a958a 60.5px,#6e968c 63.5px,#66918e 67.5px,#639593 70.5px,#307668 73.5px,#2a7262 75.5px,#538588 80.5px,#618b88 83.5px,#58827f 89.5px,#649499 98.5px,#5c8c9f 102.5px,#48719e 104.5px,#4c6aa0 105.5px,#7a6dad 108.5px,#6c5a9f 113.5px,#7c66ac 117.5px,#534e9b 121.5px,#293873 125.5px,#284073 136.5px,#3f5984 138.5px,#6582a1 140.5px,#6e8ca7 142.5px,#35537d 146.5px,#2b4a78 149.5px,#365c8d 152.5px,#4d7192 155.5px,#426786 165.5px,#4d7790 171.5px,#2e6b8f 176.5px,#37758f 178.5px,#8cb3a2 182.5px,#9eb28e 184.5px,#938a5e 187.5px,#7d6642 190.5px,#745c3e 194.5px,#56744b 199.5px,#717851 201.5px,#9b7b54 204.5px,#bd953c 210.5px,#b1772f 217.5px,#ba772f 221.5px,#b0552c 224.5px,#b9742e 227.5px,#a15729 234.5px,#b6712e 241.5px,#a6462a 244.5px,#ab652b 248.5px,#a9652b 252.5px,#bd8434 257.5px,#9a8249 266.5px,#928b59 269.5px,#497750 273.5px,#427551 276.5px,#6e8567 279.5px,#8d9874 281.5px,#9a8f5b 287.5px,#b69b55 293.5px,#b7a254 296.5px,#a79a5e 300.5px,#a8aa76 303.5px,#8c9b7a 305.5px,#688372 307.5px)"></i><i style="top:71px;background:linear-gradient(90deg,#3d3296 0.5px,#655299 5.5px,#5b4a99 8.5px,#4f429d 10.5px,#5d4ca6 11.5px,#af8ccf 14.5px,#b994d3 17.5px,#b4a1d3 22.5px,#9495c6 24.5px,#6a7fb2 26.5px,#7d9eba 28.5px,#8bb4bf 30.5px,#92c1c3 38.5px,#73a3aa 42.5px,#498394 46.5px,#61979f 48.5px,#84b3b1 50.5px,#8db9af 55.5px,#6a9890 59.5px,#88b2a7 63.5px,#7eada9 69.5px,#307769 73.5px,#297262 75.5px,#498085 79.5px,#6e9a96 82.5px,#6f9b98 93.5px,#6d9fa0 96.5px,#85b5b5 99.5px,#7daeb4 101.5px,#4d75a1 104.5px,#506ea3 105.5px,#927fbd 108.5px,#9b7ebf 112.5px,#9479bd 117.5px,#6257a8 120.5px,#65659f 123.5px,#34457b 126.5px,#24396f 131.5px,#364e7d 135.5px,#6782a2 138.5px,#6d89a6 140.5px,#2d4977 144.5px,#224171 149.5px,#355a8c 152.5px,#567b98 155.5px,#568197 171.5px,#2e6b8f 176.5px,#387690 178.5px,#74a19d 181.5px,#7da396 182.5px,#706a50 186.5px,#755b3d 191.5px,#6a6444 196.5px,#56744b 199.5px,#707851 201.5px,#997b55 204.5px,#ae884d 207.5px,#cea83c 211.5px,#cd9634 220.5px,#c37c31 222.5px,#b85f2e 224.5px,#c47c31 226.5px,#cd9433 228.5px,#cc9233 240.5px,#be7530 242.5px,#ad502c 244.5px,#b76b2e 246.5px,#c28531 248.5px,#c99736 256.5px,#bd843a 259.5px,#b79a47 264.5px,#9e9a62 269.5px,#487751 273.5px,#417552 276.5px,#597d5f 278.5px,#97a47d 281.5px,#acb07b 284.5px,#b7a963 289.5px,#b49958 292.5px,#d1c161 296.5px,#c4c681 302.5px,#aab685 304.5px,#688573 307.5px)"></i><i style="top:72px;background:linear-gradient(90deg,#393094 0.5px,#5e4c94 5.5px,#514292 8.5px,#433995 10.5px,#604fa3 12.5px,#9f80c2 15.5px,#aa8ac9 19.5px,#9b8dc2 22.5px,#5d6ca4 25.5px,#51689f 26.5px,#6c8ead 28.5px,#8bb4be 30.5px,#91bfc2 34.5px,#7ba9b0 37.5px,#406f82 40.5px,#2f6176 43.5px,#3f788a 47.5px,#7caaa8 51.5px,#7faba5 55.5px,#578682 59.5px,#7ca8a2 64.5px,#76a4a1 68.5px,#498282 71.5px,#287261 74.5px,#4b7d81 80.5px,#69938e 84.5px,#65908c 92.5px,#548487 95.5px,#79a9ab 99.5px,#6fa0a9 101.5px,#3e6796 104.5px,#405f97 105.5px,#8671b2 109.5px,#8f75b7 114.5px,#7b66ac 117.5px,#4f489b 120.5px,#7371a9 123.5px,#6f79a5 125.5px,#384c7e 129.5px,#394f7f 132.5px,#6e87a7 136.5px,#6e88a7 138.5px,#2c4776 142.5px,#213e6e 147.5px,#294c80 151.5px,#4f7390 157.5px,#4f7790 169.5px,#2e688f 175.5px,#35738d 178.5px,#4a7678 181.5px,#5c5e4c 185.5px,#745b3e 190.5px,#746343 195.5px,#56754c 199.5px,#6f7852 201.5px,#907b56 203.5px,#aa8548 208.5px,#c69d38 213.5px,#c48d32 219.5px,#b2652d 222.5px,#a94b2a 224.5px,#af5f2c 226.5px,#be8030 229.5px,#bf8130 238.5px,#b0682c 241.5px,#a14429 243.5px,#9f3c28 244.5px,#a8562a 246.5px,#bc7d2f 249.5px,#bf8b33 255.5px,#b07739 259.5px,#ac954d 265.5px,#928e5d 269.5px,#457550 273.5px,#407552 276.5px,#76886c 280.5px,#9ba478 283.5px,#aba164 288.5px,#a28753 292.5px,#c4b561 297.5px,#bbb875 301.5px,#939f78 304.5px,#617f70 307.5px)"></i><i style="top:73px;background:linear-gradient(90deg,#362d92 0.5px,#342b77 5.5px,#372f8c 11.5px,#433a82 17.5px,#314d86 27.5px,#496d8c 30.5px,#5d879b 32.5px,#588496 34.5px,#2e5c74 38.5px,#22526a 42.5px,#316a7e 47.5px,#3f696d 54.5px,#39666e 69.5px,#297262 75.5px,#387378 78.5px,#3d6565 84.5px,#39656a 94.5px,#2f5e7d 102.5px,#2e4e8a 105.5px,#3b387f 109.5px,#363387 119.5px,#393a8a 121.5px,#747ea9 125.5px,#7184a8 129.5px,#748cab 135.5px,#60799c 137.5px,#2c4676 140.5px,#223d6e 145.5px,#244477 150.5px,#294d80 153.5px,#2a4b75 158.5px,#295579 172.5px,#2d6a8e 176.5px,#336d80 179.5px,#435c54 183.5px,#6f5b41 188.5px,#826a43 193.5px,#8b7f4f 195.5px,#768353 197.5px,#59784e 199.5px,#6e7852 201.5px,#967b57 204.5px,#957045 208.5px,#916331 213.5px,#904927 220.5px,#922f25 225.5px,#802920 231.5px,#832221 242.5px,#8c2623 245.5px,#995f31 257.5px,#9b6739 260.5px,#6f684a 269.5px,#3e7450 274.5px,#457657 277.5px,#5e705d 280.5px,#886e4a 291.5px,#7f6e49 299.5px,#5c7668 306.5px,#59796d 307.5px)"></i><i style="top:74px;background:linear-gradient(90deg,#362d91 0.5px,#292370 5.5px,#302982 9.5px,#322b89 11.5px,#292571 15.5px,#273374 23.5px,#294382 26.5px,#294d73 31.5px,#24506c 36.5px,#23556c 43.5px,#2f687b 47.5px,#2c5760 52.5px,#346064 57.5px,#386669 60.5px,#2e585e 65.5px,#2c5e67 70.5px,#297262 75.5px,#387278 78.5px,#325a5a 84.5px,#325e63 94.5px,#23536c 101.5px,#2a4a87 105.5px,#292a73 109.5px,#2a2875 117.5px,#303086 120.5px,#333b7c 123.5px,#6c7da4 127.5px,#778bac 131.5px,#687fa2 134.5px,#2b4475 138.5px,#244070 144.5px,#2f5180 150.5px,#274a7e 153.5px,#21416d 157.5px,#224a6f 171.5px,#2c698e 176.5px,#316a7f 179.5px,#425b54 183.5px,#7b6643 189.5px,#b3a55e 194.5px,#afa862 195.5px,#81915a 197.5px,#668253 198.5px,#597a4f 199.5px,#6d7853 201.5px,#947b58 204.5px,#95734c 207.5px,#825a35 211.5px,#8d3725 222.5px,#963126 224.5px,#761b1e 229.5px,#72151d 240.5px,#8b2423 245.5px,#812e21 249.5px,#915831 257.5px,#9b6439 259.5px,#755b3d 265.5px,#5d644a 270.5px,#3c7450 274.5px,#447557 277.5px,#576b5a 280.5px,#5a5b4a 284.5px,#786346 290.5px,#866b4a 292.5px,#705b40 298.5px,#5a6453 304.5px,#56786d 307.5px)"></i><i style="top:75px;background:linear-gradient(90deg,#362d91 0.5px,#292370 5.5px,#302982 9.5px,#322c89 11.5px,#292571 15.5px,#283979 24.5px,#27457e 27.5px,#21456c 31.5px,#24566b 43.5px,#2f687b 47.5px,#2b5761 51.5px,#336064 57.5px,#37656a 60.5px,#2e575e 65.5px,#2c5e67 70.5px,#297262 75.5px,#387278 78.5px,#32595a 84.5px,#325e63 94.5px,#23536c 101.5px,#2a4a87 105.5px,#292a73 109.5px,#2a2875 117.5px,#303085 120.5px,#293573 124.5px,#506590 130.5px,#364d7c 134.5px,#233c6f 138.5px,#264171 142.5px,#47658a 145.5px,#6c8ea7 148.5px,#5f84a4 150.5px,#2c5082 153.5px,#21416e 156.5px,#224a6f 171.5px,#2c698e 176.5px,#316a7f 179.5px,#435d55 183.5px,#7e734f 187.5px,#bbab5d 191.5px,#c2b867 194.5px,#a0a463 196.5px,#658254 198.5px,#587950 199.5px,#6c7854 201.5px,#927b59 204.5px,#92734e 207.5px,#815a36 211.5px,#8f3d26 222.5px,#983727 224.5px,#791f1e 229.5px,#761a1e 240.5px,#902824 244.5px,#843823 250.5px,#905a32 257.5px,#9a663b 259.5px,#735b3e 265.5px,#5b644b 270.5px,#3b7451 274.5px,#427558 277.5px,#546b5b 280.5px,#575b4b 284.5px,#776347 290.5px,#846b4b 292.5px,#6e5b41 298.5px,#576354 304.5px,#53786e 307.5px)"></i><i style="top:76px;background:linear-gradient(90deg,#362d92 0.5px,#292370 5.5px,#302982 9.5px,#322c89 11.5px,#292571 15.5px,#283a79 24.5px,#27467e 27.5px,#21486b 32.5px,#2a5a70 40.5px,#346c7f 46.5px,#2c5761 51.5px,#336065 57.5px,#36656a 60.5px,#2d575e 65.5px,#2c5e67 70.5px,#297262 75.5px,#387277 78.5px,#335a5a 84.5px,#335e63 94.5px,#23536c 101.5px,#2b4b88 105.5px,#292a73 109.5px,#2a2875 117.5px,#303186 120.5px,#253470 125.5px,#293f73 132.5px,#243d6f 139.5px,#304b79 141.5px,#799bb0 145.5px,#86aaba 148.5px,#7097b1 150.5px,#2f5384 153.5px,#21416e 156.5px,#224a6f 171.5px,#2c698e 176.5px,#316b7f 179.5px,#436764 182.5px,#818a68 185.5px,#aca86c 187.5px,#c5b866 190.5px,#bbb165 194.5px,#93965e 196.5px,#5f7b51 198.5px,#55774f 199.5px,#697855 201.5px,#8f7b5a 204.5px,#90734f 207.5px,#7f5b38 211.5px,#904328 222.5px,#9a3f29 224.5px,#7d251f 229.5px,#7a201e 240.5px,#942e25 244.5px,#843a24 249.5px,#8f5c34 257.5px,#99683c 259.5px,#715b3f 265.5px,#58644c 270.5px,#397451 274.5px,#407558 277.5px,#526b5c 280.5px,#555b4c 284.5px,#756348 290.5px,#826b4c 292.5px,#6c5b42 298.5px,#556455 304.5px,#51786e 307.5px)"></i><i style="top:77px;background:linear-gradient(90deg,#382f93 0.5px,#312a76 5.5px,#372f87 9.5px,#393189 12.5px,#342e78 16.5px,#324681 24.5px,#315286 27.5px,#224a6c 32.5px,#305f75 37.5px,#76a6aa 42.5px,#6ea2a8 44.5px,#3f7785 47.5px,#386369 52.5px,#3f6e72 60.5px,#355f66 66.5px,#2e6f6b 72.5px,#297262 75.5px,#3c7278 79.5px,#3a6161 84.5px,#3b6466 93.5px,#396873 97.5px,#306076 101.5px,#33538e 105.5px,#38347c 110.5px,#3b3580 117.5px,#3b398d 120.5px,#253470 125.5px,#284173 138.5px,#435e87 140.5px,#7f9fb4 143.5px,#88abbb 146.5px,#7ba1b5 149.5px,#365b8a 153.5px,#2d4e76 157.5px,#2d5476 170.5px,#2d698f 176.5px,#367085 179.5px,#558283 181.5px,#9ab08d 184.5px,#bdbd7a 187.5px,#bcae61 191.5px,#857b50 195.5px,#56724d 198.5px,#577651 200.5px,#857b5c 203.5px,#907552 207.5px,#82623b 211.5px,#974f2b 222.5px,#9e4a2a 225.5px,#873321 231.5px,#873322 239.5px,#9f3f28 244.5px,#8e4d28 250.5px,#986837 257.5px,#9a7141 260.5px,#776545 265.5px,#5e6e53 270.5px,#387452 274.5px,#3f7659 277.5px,#536f60 280.5px,#5f614d 286.5px,#847050 292.5px,#6c6048 299.5px,#586a5b 304.5px,#4f7970 307.5px)"></i><i style="top:78px;background:linear-gradient(90deg,#3e3498 0.5px,#594993 4.5px,#52449a 9.5px,#50439e 11.5px,#6d59a2 14.5px,#605698 19.5px,#6174a3 24.5px,#577da3 27.5px,#547c97 29.5px,#38637d 32.5px,#477687 35.5px,#89baba 39.5px,#99c9c6 42.5px,#84b7b8 44.5px,#5a929b 46.5px,#578f98 47.5px,#73a2a1 50.5px,#6e9b99 54.5px,#72a19f 57.5px,#619191 60.5px,#5e8a8c 67.5px,#5b8e90 70.5px,#2f7669 73.5px,#2a7262 75.5px,#538486 80.5px,#5f8882 83.5px,#59827e 90.5px,#6e9ea1 98.5px,#6596a7 102.5px,#4f78a3 104.5px,#5271a5 105.5px,#8274b2 108.5px,#7561a5 113.5px,#856db2 117.5px,#58529f 121.5px,#2a3973 125.5px,#253c70 135.5px,#334c7b 137.5px,#819fb5 141.5px,#87a8ba 143.5px,#517699 150.5px,#4b739d 152.5px,#6389a1 156.5px,#537993 164.5px,#638ea1 171.5px,#2e6b90 176.5px,#36748f 178.5px,#5f949c 180.5px,#90b9aa 182.5px,#b1c191 185.5px,#b3ad6d 188.5px,#7d6946 193.5px,#666547 196.5px,#4f744e 199.5px,#647857 201.5px,#897b5d 204.5px,#987d45 211.5px,#a27131 219.5px,#b97133 224.5px,#c28632 227.5px,#ae6a2b 234.5px,#c08030 241.5px,#be6e31 244.5px,#bb8431 248.5px,#b78a35 254.5px,#bc9243 258.5px,#aa9857 263.5px,#989669 267.5px,#919d73 269.5px,#3f7956 273.5px,#377555 276.5px,#6a8471 281.5px,#797c5f 287.5px,#92835b 293.5px,#7c7a5b 300.5px,#648373 305.5px,#517e75 307.5px)"></i><i style="top:79px;background:linear-gradient(90deg,#403699 0.5px,#7861a9 4.5px,#7862a9 7.5px,#5447a1 10.5px,#584aa3 11.5px,#8d72b8 14.5px,#8f82b9 20.5px,#8490b7 23.5px,#6186ad 26.5px,#89b5bf 29.5px,#8ebebf 35.5px,#9ecec9 40.5px,#90c1be 43.5px,#5d949b 46.5px,#5f969c 47.5px,#9acac3 50.5px,#a1cfc6 55.5px,#8ebeb8 57.5px,#6ea09e 59.5px,#84b1ac 64.5px,#7dadaa 69.5px,#59928f 71.5px,#317769 73.5px,#2a7261 75.5px,#4d8285 79.5px,#739e97 82.5px,#72a09d 94.5px,#80b2b0 96.5px,#9ccdc8 98.5px,#99caca 101.5px,#5a83ab 104.5px,#5d7bac 105.5px,#ae95d0 108.5px,#b794d2 111.5px,#b893d3 116.5px,#9d80c8 118.5px,#7263b2 120.5px,#6f6da6 123.5px,#37477d 126.5px,#24396f 130.5px,#2e4577 134.5px,#49628b 136.5px,#829eb6 139.5px,#86a4b9 141.5px,#708ea8 143.5px,#395780 146.5px,#2c4b79 149.5px,#355989 151.5px,#7ca5b6 155.5px,#7ca9b5 171.5px,#356f94 175.5px,#306e90 177.5px,#4b8798 179.5px,#93bdaf 182.5px,#9fb898 184.5px,#877c56 188.5px,#756143 191.5px,#6a5f44 195.5px,#4d744f 199.5px,#847b5f 204.5px,#a88e49 212.5px,#b48534 220.5px,#c28036 224.5px,#dbaa38 227.5px,#daa637 241.5px,#ca8235 244.5px,#daad38 248.5px,#d6b13f 256.5px,#c19e4f 259.5px,#c9c06d 263.5px,#b8c48c 268.5px,#acbe8c 269.5px,#528662 272.5px,#367654 274.5px,#3c775b 277.5px,#74927e 281.5px,#949168 290.5px,#968c62 293.5px,#93946a 299.5px,#77917b 304.5px,#517f78 307.5px)"></i><i style="top:80px;background:linear-gradient(90deg,#3f3599 0.5px,#7c64ab 4.5px,#7c64ac 7.5px,#5245a0 10.5px,#5648a2 11.5px,#8e73b8 14.5px,#9981bf 18.5px,#8494b8 23.5px,#6384ab 25.5px,#5e85aa 26.5px,#93c1c7 29.5px,#9fcfcc 33.5px,#98c8c4 38.5px,#568a90 45.5px,#5c9196 47.5px,#9ecdc5 50.5px,#aad8cd 54.5px,#9fcec4 56.5px,#6d9e9a 59.5px,#78a7a2 61.5px,#8ab8b1 64.5px,#87b5b0 68.5px,#70a2a0 70.5px,#317769 73.5px,#2b7361 75.5px,#4d8283 79.5px,#749e96 82.5px,#79a39b 91.5px,#72a2a1 95.5px,#a9dad3 99.5px,#9ecfce 101.5px,#5781a9 104.5px,#5a78aa 105.5px,#af96d1 108.5px,#c09bd8 110.5px,#bc97d6 116.5px,#9b7fc6 118.5px,#6f61b0 120.5px,#7f76b5 122.5px,#8889b6 124.5px,#586995 127.5px,#374c7e 130.5px,#4a618c 133.5px,#859fb8 137.5px,#86a3b9 139.5px,#6b88a5 141.5px,#304c79 144.5px,#223f6f 148.5px,#2f5284 151.5px,#7ba4b5 155.5px,#87b1bb 161.5px,#82aeb7 170.5px,#6c9bad 172.5px,#346e94 175.5px,#2f6e90 177.5px,#498497 179.5px,#73a3a2 181.5px,#78998a 183.5px,#6a6c55 186.5px,#6f5b41 191.5px,#616448 196.5px,#4a7450 199.5px,#7f7b61 204.5px,#ab914a 213.5px,#b48535 221.5px,#c18237 224.5px,#dfb239 228.5px,#deaf38 240.5px,#c98536 244.5px,#ddb33a 248.5px,#d5b343 256.5px,#bc9c52 259.5px,#cbc574 263.5px,#bac993 268.5px,#90af85 270.5px,#508562 272.5px,#357554 274.5px,#3a775c 277.5px,#71927f 281.5px,#8d9a77 287.5px,#928a64 293.5px,#949970 299.5px,#7f967c 303.5px,#4e7e78 307.5px)"></i><i style="top:81px;background:linear-gradient(90deg,#3b3295 0.5px,#6f5aa1 5.5px,#68559e 7.5px,#453b96 10.5px,#52459b 12.5px,#7964a8 15.5px,#8276b0 19.5px,#667aa3 23.5px,#4b6d99 25.5px,#476f99 26.5px,#6995ab 28.5px,#8cbabf 30.5px,#94c5c2 34.5px,#7dacac 37.5px,#406c73 41.5px,#3a686f 44.5px,#4d8083 47.5px,#8cb9b0 51.5px,#93beb3 54.5px,#73a098 57.5px,#5a8885 59.5px,#7aa6a0 65.5px,#699795 69.5px,#2f7465 73.5px,#2c7360 75.5px,#4f7f7e 80.5px,#6a9188 84.5px,#68918b 91.5px,#59888a 95.5px,#8dbdbb 99.5px,#80b1b6 101.5px,#446d9a 104.5px,#46659b 105.5px,#957cbc 109.5px,#a586c6 113.5px,#957abc 116.5px,#554d9f 120.5px,#716bab 122.5px,#8e8fbb 124.5px,#8797b8 127.5px,#7c91b0 131.5px,#8ba4bc 136.5px,#7d98b2 138.5px,#2e4977 142.5px,#213e6e 146.5px,#254578 150.5px,#517799 154.5px,#6c93a7 158.5px,#739cac 165.5px,#5d889d 171.5px,#306991 175.5px,#33728f 178.5px,#49777c 181.5px,#515f51 185.5px,#6c5b42 190.5px,#655f46 195.5px,#487451 199.5px,#7a7b63 204.5px,#a8843b 217.5px,#ac7236 223.5px,#cc9c35 230.5px,#ce9d35 237.5px,#bd8133 242.5px,#b87534 244.5px,#cca439 250.5px,#c2a03f 255.5px,#a68850 259.5px,#b2b57b 265.5px,#9faf84 268.5px,#5d8869 271.5px,#387757 273.5px,#327557 276.5px,#688777 282.5px,#7e8d70 287.5px,#817d5e 293.5px,#868d6b 299.5px,#638272 304.5px,#4a7b77 307.5px)"></i><i style="top:82px;background:linear-gradient(90deg,#372e93 0.5px,#39307b 5.5px,#36308c 11.5px,#39337d 15.5px,#3a427e 20.5px,#2f5983 27.5px,#588795 31.5px,#5e8d94 34.5px,#335f67 39.5px,#315b60 43.5px,#417172 47.5px,#496f6a 55.5px,#3a696a 70.5px,#2c735f 75.5px,#407273 79.5px,#406561 83.5px,#3b6668 94.5px,#37677c 101.5px,#324788 106.5px,#413b83 110.5px,#413a82 115.5px,#37368b 120.5px,#494b90 122.5px,#838cb4 125.5px,#90a1bf 128.5px,#879fb9 135.5px,#6a84a4 137.5px,#2e4877 140.5px,#223d6e 144.5px,#244477 150.5px,#2b4f82 153.5px,#315379 159.5px,#2c577c 172.5px,#2c688f 176.5px,#306b83 179.5px,#395b58 183.5px,#675b45 189.5px,#635f47 195.5px,#467452 199.5px,#757b65 204.5px,#7a6e53 208.5px,#7c6441 213.5px,#936135 222.5px,#9f6435 225.5px,#965d2c 230.5px,#9b5c2e 242.5px,#a16132 245.5px,#936431 249.5px,#886f4b 260.5px,#586c5a 269.5px,#307454 274.5px,#446e65 280.5px,#5a6554 288.5px,#6d6c56 293.5px,#626752 298.5px,#496960 304.5px,#457775 307.5px)"></i><i style="top:83px;background:linear-gradient(90deg,#362e92 0.5px,#2a2572 5.5px,#302b84 9.5px,#322e8b 11.5px,#2a2873 15.5px,#254578 24.5px,#26517d 27.5px,#2b5a71 31.5px,#325a5c 42.5px,#43706c 47.5px,#3c5d57 52.5px,#41645d 57.5px,#436962 60.5px,#365c5a 66.5px,#346261 70.5px,#2e745e 75.5px,#3f7672 78.5px,#385c57 84.5px,#345f62 94.5px,#24546d 101.5px,#2b4b88 105.5px,#292a74 109.5px,#2b2976 117.5px,#303384 121.5px,#353d7f 123.5px,#798aae 127.5px,#879cb9 131.5px,#748bab 134.5px,#2d4677 138.5px,#223d6f 143.5px,#224172 149.5px,#26497e 153.5px,#21426e 158.5px,#224a70 171.5px,#2c688f 176.5px,#2e6982 179.5px,#375b59 183.5px,#685c45 190.5px,#5e6a50 196.5px,#457554 199.5px,#747b66 205.5px,#705c41 212.5px,#8e5f37 222.5px,#9c6439 224.5px,#88512c 229.5px,#8d522c 241.5px,#9f6035 244.5px,#855732 249.5px,#816442 257.5px,#80694a 260.5px,#5d5d4a 265.5px,#436554 270.5px,#2e7456 275.5px,#3d7266 279.5px,#405c55 284.5px,#5a6353 290.5px,#666956 293.5px,#555c4d 298.5px,#41645e 304.5px,#437676 307.5px)"></i><i style="top:84px;background:linear-gradient(90deg,#362e93 0.5px,#2a2573 5.5px,#302c85 9.5px,#332f8c 11.5px,#2a2874 15.5px,#234073 23.5px,#26537d 27.5px,#255568 32.5px,#395f5c 43.5px,#4c7169 47.5px,#455d53 52.5px,#4e6a5f 60.5px,#3d5d56 65.5px,#38645f 70.5px,#30755d 75.5px,#427770 78.5px,#3b5d57 84.5px,#356063 94.5px,#24546d 101.5px,#2b4c89 105.5px,#292b75 109.5px,#2b2977 117.5px,#303187 120.5px,#2a3776 124.5px,#5a6e98 130.5px,#485e8b 133.5px,#263f73 137.5px,#234273 149.5px,#264a7f 153.5px,#21426f 158.5px,#224a71 171.5px,#2d6890 176.5px,#2d6983 179.5px,#365c5b 183.5px,#6b624a 191.5px,#7c8362 195.5px,#658662 197.5px,#467957 199.5px,#50795f 201.5px,#6f7c68 205.5px,#6e5d44 212.5px,#8e623a 222.5px,#9b683c 224.5px,#88552f 229.5px,#8d5630 241.5px,#9e6438 244.5px,#845a35 249.5px,#7e6445 257.5px,#7d6a4d 260.5px,#535d4e 266.5px,#3a6c57 271.5px,#2f7559 276.5px,#3d6b65 280.5px,#405d55 285.5px,#616a58 293.5px,#4e5d50 299.5px,#3f655f 304.5px,#427678 307.5px)"></i><i style="top:85px;background:linear-gradient(90deg,#362f94 0.5px,#2a2674 5.5px,#312c86 9.5px,#332f8d 11.5px,#2a2976 15.5px,#234374 23.5px,#275581 26.5px,#285767 32.5px,#436159 43.5px,#5a7265 47.5px,#515e50 52.5px,#5b6b5b 60.5px,#455e54 66.5px,#3c6c60 71.5px,#32765c 75.5px,#48756d 79.5px,#405f57 83.5px,#366163 94.5px,#25556f 101.5px,#2b4c8a 105.5px,#2a2b76 109.5px,#2b2978 117.5px,#313188 120.5px,#263974 126.5px,#294076 133.5px,#284576 145.5px,#2e5286 151.5px,#224371 158.5px,#234b72 171.5px,#2d6891 176.5px,#2d6984 179.5px,#355d5e 183.5px,#696953 189.5px,#a7af7f 194.5px,#a5b585 195.5px,#739971 197.5px,#568662 198.5px,#467b5a 199.5px,#4d7960 201.5px,#6a7c6b 205.5px,#6b5e46 212.5px,#85613c 221.5px,#9a6b3f 224.5px,#885832 230.5px,#8c5a33 241.5px,#9d673c 244.5px,#845d38 249.5px,#7c6547 257.5px,#7a6b50 260.5px,#505e51 266.5px,#386c59 271.5px,#2e755a 276.5px,#3c6c67 280.5px,#3b5e59 284.5px,#536558 290.5px,#5d6b5b 293.5px,#4b5e52 299.5px,#3d6562 304.5px,#417679 307.5px)"></i><i style="top:86px;background:linear-gradient(90deg,#372f95 0.5px,#2b2676 5.5px,#2e2a7f 8.5px,#33308e 11.5px,#2b2a77 15.5px,#244575 23.5px,#27597e 27.5px,#2f5b63 33.5px,#566759 44.5px,#6a7360 47.5px,#605f4c 52.5px,#6c6c56 60.5px,#535f51 66.5px,#466d5d 71.5px,#37765a 75.5px,#50756b 79.5px,#445f56 84.5px,#376364 94.5px,#255770 101.5px,#2b4d8a 105.5px,#2a2c78 109.5px,#2c2a79 117.5px,#313289 120.5px,#263874 126.5px,#284477 142.5px,#4c6b91 145.5px,#7295ad 148.5px,#6389a9 150.5px,#2d5286 153.5px,#224372 157.5px,#234c74 171.5px,#2d6892 176.5px,#2d6a86 179.5px,#365f61 183.5px,#566e60 186.5px,#afb886 191.5px,#bdcd96 194.5px,#b2c794 195.5px,#558865 198.5px,#447c5b 199.5px,#4a7a62 201.5px,#657d6d 205.5px,#685f49 212.5px,#82623f 221.5px,#986e43 224.5px,#885b35 230.5px,#8c5e36 241.5px,#9c6b3f 244.5px,#805f3c 250.5px,#7a664a 257.5px,#766c53 260.5px,#515f52 265.5px,#3c675a 270.5px,#2c7558 275.5px,#3b6c69 280.5px,#3b5f5a 285.5px,#596c5d 293.5px,#485f55 299.5px,#3c6664 304.5px,#41767b 307.5px)"></i><i style="top:87px;background:linear-gradient(90deg,#373096 0.5px,#2b2777 5.5px,#322e89 9.5px,#322f89 12.5px,#2a2d78 16.5px,#254e7b 24.5px,#285c7f 27.5px,#335d61 33.5px,#666e59 43.5px,#7c755b 47.5px,#6f6048 52.5px,#7d6d51 60.5px,#62604d 66.5px,#536e59 71.5px,#3c7656 74.5px,#597668 79.5px,#496056 84.5px,#396465 94.5px,#265871 101.5px,#2c4e8c 105.5px,#2b2c79 109.5px,#2c2a7b 117.5px,#32328b 120.5px,#273776 125.5px,#2b4679 140.5px,#46638d 142.5px,#8aacbe 145.5px,#9cc1cc 147.5px,#95bcc9 149.5px,#658daf 151.5px,#32578a 153.5px,#234574 156.5px,#244d75 171.5px,#2d6892 176.5px,#2d6a88 179.5px,#3a6972 182.5px,#6e9184 185.5px,#aac098 188.5px,#c2d29b 191.5px,#bfd39f 194.5px,#b1ca9b 195.5px,#528866 198.5px,#417c5d 199.5px,#507c6b 202.5px,#617b6d 206.5px,#63604d 212.5px,#876844 222.5px,#936d44 225.5px,#875f39 230.5px,#8c613a 241.5px,#9b6e43 244.5px,#7d603f 250.5px,#76684d 257.5px,#706d56 260.5px,#496056 266.5px,#2c7459 275.5px,#3a6c6b 280.5px,#38605d 284.5px,#4b685e 290.5px,#546d61 293.5px,#476057 298.5px,#3b6666 304.5px,#3f777d 307.5px)"></i><i style="top:88px;background:linear-gradient(90deg,#393198 0.5px,#332d7d 5.5px,#38338e 9.5px,#3c3791 12.5px,#32427e 19.5px,#316785 27.5px,#376061 33.5px,#607361 38.5px,#969c72 42.5px,#9a9167 45.5px,#826e4a 50.5px,#866d47 56.5px,#8e754f 60.5px,#746a4e 67.5px,#647559 71.5px,#437755 74.5px,#4d795c 76.5px,#657b69 79.5px,#526a5d 85.5px,#447070 94.5px,#31637b 101.5px,#345492 105.5px,#393683 109.5px,#3a3585 117.5px,#3d3a93 120.5px,#283778 125.5px,#2c457b 138.5px,#4a6490 140.5px,#94b1c5 143.5px,#a7c9d4 146.5px,#9cc1cf 149.5px,#6b91b4 151.5px,#3c6193 153.5px,#31527f 157.5px,#325b81 171.5px,#2e6a93 177.5px,#3d768d 180.5px,#a0c9b8 185.5px,#bed7ac 189.5px,#bed4a5 193.5px,#a6c49c 195.5px,#4a8466 198.5px,#3c7b5e 199.5px,#547e75 204.5px,#6d6851 215.5px,#94754c 225.5px,#8d683e 235.5px,#967245 242.5px,#98764a 245.5px,#7e6a49 251.5px,#6e7661 260.5px,#486a63 267.5px,#32745f 272.5px,#2c755e 276.5px,#407475 280.5px,#446b66 287.5px,#54766b 293.5px,#466962 299.5px,#417378 305.5px,#3f7882 307.5px)"></i><i style="top:89px;background:linear-gradient(90deg,#3f369c 0.5px,#584998 4.5px,#4f45a2 10.5px,#6556ac 12.5px,#7c68b0 14.5px,#6a76a6 19.5px,#6d97ad 23.5px,#548aa0 27.5px,#4e7f87 30.5px,#4b736f 33.5px,#84987b 37.5px,#b8bf85 41.5px,#bdbc7b 43.5px,#aa9562 46.5px,#ad954e 52.5px,#b39552 60.5px,#a29760 68.5px,#989867 70.5px,#597d58 73.5px,#4d7856 75.5px,#819278 80.5px,#859a7e 83.5px,#6e9486 89.5px,#6ea0a3 97.5px,#6394a9 102.5px,#4e76a5 104.5px,#4f6ca6 105.5px,#776aae 108.5px,#705ea6 114.5px,#7460ae 118.5px,#5d53a5 121.5px,#2f3a7d 125.5px,#293e7a 135.5px,#394e85 137.5px,#98adc7 141.5px,#abc4d5 144.5px,#a5c2d2 148.5px,#89a9c5 150.5px,#6386b1 152.5px,#7496b0 156.5px,#6389a3 164.5px,#719db0 171.5px,#366b9a 175.5px,#357097 178.5px,#5d96a9 180.5px,#94c7c5 182.5px,#afdcce 185.5px,#b4d2ad 191.5px,#91b194 194.5px,#4b816b 197.5px,#35775f 199.5px,#4b7e7a 204.5px,#5f897f 207.5px,#7e9a85 210.5px,#8c8f6c 217.5px,#aa9762 225.5px,#b09e5e 228.5px,#ab9353 236.5px,#b39d5b 242.5px,#af9a60 245.5px,#a69c66 249.5px,#9c9e73 254.5px,#96a27e 257.5px,#839980 260.5px,#6c9b93 269.5px,#317864 273.5px,#2c7562 276.5px,#3a7c77 278.5px,#6d9f9f 281.5px,#77a29a 288.5px,#709d92 291.5px,#66918b 300.5px,#639596 304.5px,#427e8c 307.5px)"></i><i style="top:90px;background:linear-gradient(90deg,#43389f 0.5px,#7d65b0 4.5px,#7d66b1 7.5px,#5b4daa 10.5px,#6455b0 11.5px,#b290d3 14.5px,#ba9dd7 16.5px,#a7cfd5 22.5px,#8dbec8 24.5px,#69a0b4 26.5px,#7cb1b9 28.5px,#88b9b7 30.5px,#88afa0 33.5px,#bec78d 39.5px,#c7c075 43.5px,#b6995c 46.5px,#c5a757 48.5px,#dec451 51.5px,#debf4a 56.5px,#cba34c 59.5px,#d8bf52 63.5px,#c9bf6c 69.5px,#a0a167 71.5px,#698058 73.5px,#597a56 75.5px,#79866a 78.5px,#abbf96 82.5px,#96c5bb 93.5px,#88bbb8 95.5px,#a9dbd5 99.5px,#a1d2d2 101.5px,#73a0bc 103.5px,#5e83b1 104.5px,#5f77b1 105.5px,#ab90cf 108.5px,#b591d2 111.5px,#ad8bcf 117.5px,#7966ba 120.5px,#8471ba 122.5px,#7e6fb3 123.5px,#3e4788 126.5px,#2a3a7b 130.5px,#354582 134.5px,#536397 136.5px,#9ba8c8 139.5px,#adbdd5 142.5px,#95abc6 147.5px,#6b87b4 151.5px,#6a87b5 152.5px,#a4c0d3 155.5px,#a9cad5 160.5px,#a7d4d6 170.5px,#8bbac8 172.5px,#4f80a9 174.5px,#316699 176.5px,#39729c 178.5px,#6ba2b5 180.5px,#a0d3d0 182.5px,#aeded3 185.5px,#a2cab6 189.5px,#557b71 194.5px,#397165 197.5px,#357869 200.5px,#457d7f 204.5px,#508583 206.5px,#97bea9 210.5px,#b2b986 221.5px,#aaa574 224.5px,#ccca7e 228.5px,#d0c976 239.5px,#c4ba73 242.5px,#b5a970 244.5px,#ccd18b 248.5px,#b9d0a5 256.5px,#8bac94 259.5px,#a3cbb7 263.5px,#9ccbc2 268.5px,#7db4aa 270.5px,#44887b 272.5px,#2c7567 274.5px,#307771 277.5px,#539194 279.5px,#8fc3c0 281.5px,#a8d8d0 283.5px,#a4d4ca 289.5px,#77a9a3 292.5px,#95c2b7 296.5px,#8cbdb9 303.5px,#418093 307.5px)"></i><i style="top:91px;background:linear-gradient(90deg,#43389f 0.5px,#856bb6 4.5px,#856cb6 7.5px,#5d4fab 10.5px,#6757b2 11.5px,#bd98da 14.5px,#c8a7e0 16.5px,#b4dbde 22.5px,#94c5ce 24.5px,#6da4b7 26.5px,#85bac0 28.5px,#9dcec8 30.5px,#ccc372 42.5px,#bd9854 46.5px,#cfa94e 48.5px,#e7c647 50.5px,#edca41 55.5px,#d2a244 59.5px,#e6c545 63.5px,#d6c460 69.5px,#ada460 71.5px,#778256 73.5px,#687b56 75.5px,#838768 78.5px,#b4c698 82.5px,#a3d1c6 92.5px,#8cc0be 95.5px,#a1d4d0 97.5px,#b7e9e0 99.5px,#addedc 101.5px,#6184b4 104.5px,#6377b3 105.5px,#b696d6 108.5px,#c39cdc 110.5px,#c19ada 116.5px,#a384cd 118.5px,#8a72c2 119.5px,#7e69bd 120.5px,#a68ccc 123.5px,#a28dc9 124.5px,#474f8f 129.5px,#414c8c 131.5px,#6970a6 134.5px,#a1a6cb 137.5px,#b0b7d6 140.5px,#9da8c9 143.5px,#576a9b 147.5px,#455c96 150.5px,#5d75ac 152.5px,#aec4d9 155.5px,#bad2e0 158.5px,#b2ddde 170.5px,#a8d5d9 171.5px,#71a0bc 173.5px,#3b6ca0 175.5px,#32669a 177.5px,#3a709e 178.5px,#9fd2d1 182.5px,#a5d6d1 184.5px,#89b8b2 187.5px,#4d7773 191.5px,#386666 195.5px,#377877 201.5px,#4b8489 206.5px,#99c6b8 210.5px,#b0c9a1 219.5px,#a7b78e 222.5px,#9fa981 224.5px,#ccd592 228.5px,#cfd48b 240.5px,#adae7d 244.5px,#cedea1 248.5px,#c3e2ba 255.5px,#a8cdb0 257.5px,#85b0a0 259.5px,#97c3b4 261.5px,#aad8cc 264.5px,#a5d6cd 268.5px,#9acdc5 269.5px,#468983 272.5px,#2c756f 274.5px,#2f7778 277.5px,#52929a 279.5px,#94c9c8 281.5px,#b3e4db 283.5px,#b4e4da 288.5px,#9acdc7 290.5px,#76abab 292.5px,#88bab6 294.5px,#9dcdc5 297.5px,#99cac5 302.5px,#80b6b9 304.5px,#3e7f97 307.5px)"></i><i style="top:92px;background:linear-gradient(90deg,#4337a0 0.5px,#856bb6 4.5px,#856cb7 7.5px,#5c4eab 10.5px,#6656b1 11.5px,#bc97da 14.5px,#c9a7e1 16.5px,#b4dade 22.5px,#93c4cd 24.5px,#6ba2b6 26.5px,#85bac0 28.5px,#a0d1ca 30.5px,#b2d0ad 34.5px,#c5bf75 40.5px,#bf924c 46.5px,#d2a546 48.5px,#eac441 50.5px,#efc93f 55.5px,#d59d3f 59.5px,#e9c33f 63.5px,#ddc150 69.5px,#b6a256 71.5px,#848354 73.5px,#767c55 75.5px,#8d8765 78.5px,#b6c595 82.5px,#a7d3c4 90.5px,#9bccc5 93.5px,#89bebe 95.5px,#9fd3d0 97.5px,#b8e9e1 99.5px,#addddc 101.5px,#77a1c0 103.5px,#6180b4 104.5px,#6273b3 105.5px,#b695d6 108.5px,#c49ddc 110.5px,#c19ada 116.5px,#a182cc 118.5px,#8870c1 119.5px,#7c67bc 120.5px,#866fc0 121.5px,#b091d2 123.5px,#b49dd4 125.5px,#8d87bd 130.5px,#a5a0cd 134.5px,#b3b0d7 138.5px,#9b9ec7 141.5px,#3f4f8b 145.5px,#2d4182 149.5px,#3d5295 151.5px,#7688bb 153.5px,#aebdd8 155.5px,#bccbdf 157.5px,#b3d8dd 170.5px,#91bacd 172.5px,#507dac 174.5px,#3b69a1 175.5px,#32639b 177.5px,#4e81a8 179.5px,#83b6c2 181.5px,#8fc1c6 182.5px,#7caeb3 184.5px,#417179 188.5px,#366368 192.5px,#326d6f 197.5px,#3e7c8b 205.5px,#568f97 207.5px,#95c5be 210.5px,#a3cdbb 215.5px,#a5c3a4 221.5px,#91a98b 224.5px,#c4d7a3 228.5px,#c7d69d 240.5px,#9fae89 244.5px,#c7e0b2 248.5px,#bde4c9 255.5px,#a0cdbb 257.5px,#7daea7 259.5px,#91c3bb 261.5px,#a7d7ce 263.5px,#a4d6cf 268.5px,#99ccc7 269.5px,#45898a 272.5px,#2c7578 274.5px,#2d7680 277.5px,#4f909e 279.5px,#91c8c9 281.5px,#a8dbd6 282.5px,#b6e7de 285.5px,#aadcd5 289.5px,#71a9ad 292.5px,#85b8b8 294.5px,#9acbc5 296.5px,#98cac7 302.5px,#7db4ba 304.5px,#4a8aa1 306.5px,#3b7d9a 307.5px)"></i><i style="top:93px;background:linear-gradient(90deg,#40349e 0.5px,#7c63b1 4.5px,#8369b3 6.5px,#5346a6 10.5px,#5a4cab 11.5px,#a888cd 14.5px,#ba9ad7 16.5px,#a4c8d3 22.5px,#80b0c0 24.5px,#5c93ac 26.5px,#649cae 27.5px,#99cac4 30.5px,#abceb3 33.5px,#b8bc84 37.5px,#a2854e 42.5px,#b68145 46.5px,#e6bd3d 51.5px,#e7bb3c 55.5px,#cd8b3a 59.5px,#e3ba3c 64.5px,#d8b344 69.5px,#908250 73.5px,#847e54 75.5px,#988e69 79.5px,#aebf93 83.5px,#9cc9bd 90.5px,#8abbb8 93.5px,#74aab0 95.5px,#7ab1b7 96.5px,#a0d2d1 98.5px,#a9dad8 100.5px,#9ecdd2 101.5px,#5572ad 104.5px,#5765ac 105.5px,#a285ca 108.5px,#b591d3 110.5px,#b08cd0 116.5px,#8d72c0 118.5px,#7561b5 119.5px,#6b59b1 120.5px,#7864b8 121.5px,#ab8cd0 123.5px,#bb9dd8 125.5px,#b4a9d6 137.5px,#9c98c8 139.5px,#4c5594 142.5px,#313e83 144.5px,#2b3c82 149.5px,#384a93 151.5px,#99a2ca 155.5px,#aeb8d6 158.5px,#aac3d5 168.5px,#93b3c9 171.5px,#4871a7 174.5px,#315e9d 176.5px,#38689f 178.5px,#5c8da7 181.5px,#4b7e94 183.5px,#306579 186.5px,#30626e 194.5px,#33778a 202.5px,#3e7e91 206.5px,#8dbeba 211.5px,#98c2b2 219.5px,#84ab9a 222.5px,#779d8b 224.5px,#accaa6 228.5px,#b9d1a5 236.5px,#afc9a1 240.5px,#83a28a 244.5px,#b1d4b6 248.5px,#afdbc9 254.5px,#9dccc2 256.5px,#699fa0 259.5px,#7fb3b2 261.5px,#98cac5 263.5px,#95c8c7 268.5px,#72abb0 270.5px,#3f828d 272.5px,#2b7380 274.5px,#2d7386 277.5px,#46869c 279.5px,#96c9cb 282.5px,#a7d9d5 284.5px,#a3d5d1 288.5px,#83b9bc 290.5px,#5f99a5 292.5px,#73a9af 294.5px,#8cbebe 296.5px,#8abdbf 302.5px,#6ea5b1 304.5px,#43819e 306.5px,#37779a 307.5px)"></i><i style="top:94px;background:linear-gradient(90deg,#3b2f9b 0.5px,#59499a 6.5px,#3f379a 10.5px,#56499f 13.5px,#766aae 17.5px,#6981aa 21.5px,#3a7194 26.5px,#50879a 28.5px,#7fada7 31.5px,#95ae90 34.5px,#8c724b 40.5px,#9e6e40 44.5px,#b67640 47.5px,#c48a35 53.5px,#b76533 59.5px,#c18d37 66.5px,#947f50 74.5px,#92815f 79.5px,#729b90 88.5px,#457d8e 95.5px,#538a9c 97.5px,#6899aa 99.5px,#608da6 101.5px,#3c569c 104.5px,#46499d 106.5px,#705ca9 110.5px,#745fab 114.5px,#54469d 118.5px,#483d9c 120.5px,#5447a2 121.5px,#a587cb 124.5px,#b99ad7 126.5px,#b5a2d6 135.5px,#9e91c8 137.5px,#4c5095 140.5px,#313b84 142.5px,#2e3d88 150.5px,#6973a8 158.5px,#7080ae 165.5px,#526c9d 171.5px,#32589c 175.5px,#356393 180.5px,#275b79 185.5px,#2b6275 195.5px,#2f758d 201.5px,#3e7a8e 208.5px,#639599 214.5px,#5f8d8b 220.5px,#50807c 224.5px,#7ca08c 232.5px,#749785 239.5px,#57827a 244.5px,#77a49e 251.5px,#689899 255.5px,#447d8a 259.5px,#6498a2 265.5px,#518899 269.5px,#2d7087 273.5px,#347192 279.5px,#679aa8 284.5px,#6196a3 288.5px,#3b7890 292.5px,#5d929f 298.5px,#4d8297 303.5px,#306d96 307.5px)"></i><i style="top:95px;background:linear-gradient(90deg,#392d9a 0.5px,#362d85 6.5px,#383196 11.5px,#3a368a 16.5px,#2d6688 27.5px,#517a77 32.5px,#836b4a 39.5px,#a96f40 45.5px,#b46f3d 47.5px,#a2562d 53.5px,#aa4e2f 58.5px,#a16737 69.5px,#a28050 74.5px,#927d5b 79.5px,#60705f 84.5px,#3c6c73 91.5px,#2e6684 97.5px,#304f90 103.5px,#353a93 106.5px,#3b3288 111.5px,#362e8b 118.5px,#433b94 122.5px,#9f83c7 126.5px,#b394d4 128.5px,#b197d3 133.5px,#9885c4 135.5px,#4c4c96 138.5px,#323886 140.5px,#2e3885 149.5px,#333f90 153.5px,#374489 160.5px,#2f488b 172.5px,#31559e 176.5px,#2b568e 180.5px,#26557c 184.5px,#28617a 195.5px,#2f7395 202.5px,#2e708f 207.5px,#31687c 212.5px,#3e6f73 226.5px,#426e6d 240.5px,#3f7074 246.5px,#336d82 258.5px,#2c6687 271.5px,#2d6790 279.5px,#316283 284.5px,#2c6683 294.5px,#2c6085 304.5px,#2e6896 307.5px)"></i><i style="top:96px;background:linear-gradient(90deg,#392d9a 0.5px,#302781 5.5px,#373096 11.5px,#302e84 16.5px,#295286 24.5px,#2b6288 27.5px,#36676f 31.5px,#836b4b 39.5px,#b56d3c 47.5px,#9d4d2c 52.5px,#a2442b 57.5px,#a9482d 60.5px,#9d4c2c 64.5px,#a4683a 70.5px,#ae824f 74.5px,#947d5b 79.5px,#596b5c 84.5px,#39686b 89.5px,#285e81 97.5px,#285082 101.5px,#343f98 105.5px,#302a83 109.5px,#322a89 118.5px,#352e8f 121.5px,#3e378d 124.5px,#8d75bd 129.5px,#8b74bb 132.5px,#3a3a8c 137.5px,#2e3385 143.5px,#30388c 150.5px,#323b91 153.5px,#2d3884 159.5px,#2c3f85 171.5px,#32529f 176.5px,#2b538f 180.5px,#26557d 185.5px,#2b6380 195.5px,#2f6f96 200.5px,#2d6c91 207.5px,#275f7a 212.5px,#326979 222.5px,#366e7c 225.5px,#36666e 232.5px,#386c75 242.5px,#356b77 246.5px,#2b637a 256.5px,#2b6886 260.5px,#265a7c 267.5px,#2e6997 276.5px,#2b5e8c 280.5px,#26567d 285.5px,#2a6388 293.5px,#26597c 300.5px,#2b5e8c 305.5px,#2e6498 307.5px)"></i><i style="top:97px;background:linear-gradient(90deg,#382c99 0.5px,#302682 5.5px,#372f96 11.5px,#302d85 16.5px,#2a4f88 24.5px,#2b608a 27.5px,#336672 31.5px,#876c4a 40.5px,#b66f3d 47.5px,#9e4d2d 52.5px,#a3432b 57.5px,#a9462d 60.5px,#9f4f2d 65.5px,#a6683a 70.5px,#b48350 74.5px,#937e5c 79.5px,#566c5f 84.5px,#346671 90.5px,#296285 96.5px,#284e84 101.5px,#353d99 105.5px,#302983 110.5px,#332a89 118.5px,#352e90 121.5px,#333087 125.5px,#494195 131.5px,#303087 138.5px,#32368d 150.5px,#333992 153.5px,#2e3686 159.5px,#2d3d87 171.5px,#344fa1 176.5px,#2d5091 180.5px,#27527f 185.5px,#2e6282 192.5px,#5186a0 196.5px,#326d9b 200.5px,#2d6893 207.5px,#275c7d 212.5px,#2d677f 222.5px,#316c82 225.5px,#306574 232.5px,#326a7b 242.5px,#326d81 245.5px,#29617a 252.5px,#2a6589 260.5px,#27587e 266.5px,#2b5e8d 271.5px,#2f659c 276.5px,#2b5b8e 280.5px,#27547f 285.5px,#2a608a 293.5px,#27567e 299.5px,#295887 304.5px,#2f619a 307.5px)"></i><i style="top:98px;background:linear-gradient(90deg,#372b97 0.5px,#312683 6.5px,#382e97 11.5px,#312c86 16.5px,#2b4c8a 24.5px,#2b5d8c 27.5px,#356772 32.5px,#8a6d4a 41.5px,#b47442 46.5px,#9f4a2c 54.5px,#ac4a2e 60.5px,#a04f2d 64.5px,#a76a3c 70.5px,#b48452 74.5px,#8f7f5f 79.5px,#506d62 84.5px,#2e6577 91.5px,#295b85 97.5px,#2c498b 102.5px,#363b9a 105.5px,#312984 110.5px,#33298a 118.5px,#352d90 121.5px,#312e87 127.5px,#37368c 146.5px,#383a98 152.5px,#303488 158.5px,#2e3b89 171.5px,#354ca2 176.5px,#2e4c93 180.5px,#274e82 184.5px,#315f87 189.5px,#5889a1 192.5px,#83b4be 194.5px,#8dbfc7 195.5px,#86b9c6 196.5px,#3c74a3 199.5px,#30689d 203.5px,#2b618e 208.5px,#275a7f 213.5px,#2a6584 222.5px,#2c6a88 225.5px,#2b637a 232.5px,#2c6881 242.5px,#2d6b87 245.5px,#285f7d 251.5px,#2b628b 260.5px,#275580 266.5px,#2b5b8f 271.5px,#30629e 276.5px,#2b5990 280.5px,#275181 285.5px,#2b5d8c 293.5px,#275481 299.5px,#295589 304.5px,#2f5e9b 307.5px)"></i><i style="top:99px;background:linear-gradient(90deg,#352a95 0.5px,#302683 6.5px,#382d97 11.5px,#312b87 16.5px,#2d4189 23.5px,#2b598e 27.5px,#306677 32.5px,#666e5b 38.5px,#b17947 46.5px,#a2542f 54.5px,#af5431 60.5px,#a35d33 66.5px,#ac7645 71.5px,#af8556 74.5px,#938363 78.5px,#496d67 84.5px,#2a637e 92.5px,#295987 97.5px,#2d478d 102.5px,#37399b 105.5px,#312885 110.5px,#34298b 118.5px,#362d91 121.5px,#312e88 127.5px,#34328b 142.5px,#4f469a 145.5px,#7664b1 148.5px,#6b5cb0 150.5px,#3b3999 153.5px,#313289 157.5px,#30398b 171.5px,#3748a4 176.5px,#304994 180.5px,#2b4e86 184.5px,#3e6792 187.5px,#a0d0d2 192.5px,#b1e1de 194.5px,#abdbdc 195.5px,#97c8d2 196.5px,#5487b1 198.5px,#3d71a5 199.5px,#30649f 202.5px,#2e6197 207.5px,#285682 211.5px,#2a6187 222.5px,#2b668b 225.5px,#28607f 232.5px,#2a6585 242.5px,#2b678b 245.5px,#285c80 251.5px,#2a5d88 257.5px,#2b5e8d 260.5px,#285383 266.5px,#2c5891 271.5px,#305ea0 276.5px,#284f84 284.5px,#2a5689 290.5px,#2b5a8e 293.5px,#285183 299.5px,#2a538b 304.5px,#2f5b9d 307.5px)"></i><i style="top:100px;background:linear-gradient(90deg,#342993 0.5px,#2f2582 6.5px,#382c97 11.5px,#322a87 16.5px,#2f438f 24.5px,#2c5491 27.5px,#30667a 33.5px,#607060 39.5px,#ac7f4f 46.5px,#a46035 54.5px,#b36336 60.5px,#a26538 66.5px,#a5855d 74.5px,#76806b 79.5px,#476f6a 83.5px,#29637f 91.5px,#2a5789 97.5px,#2f448f 102.5px,#38389c 105.5px,#322886 110.5px,#34288b 118.5px,#362c92 121.5px,#322d89 127.5px,#36328c 140.5px,#4b4298 142.5px,#a082c9 146.5px,#aa8acf 148.5px,#9077c5 150.5px,#554caa 152.5px,#373593 154.5px,#32318b 162.5px,#333991 172.5px,#3846a5 177.5px,#354c8f 182.5px,#5777a3 185.5px,#a5d2d6 189.5px,#bbeae4 193.5px,#adddde 195.5px,#73a3c1 197.5px,#3c6ca6 199.5px,#3060a0 202.5px,#2e5e99 207.5px,#285484 212.5px,#2a5e89 222.5px,#2b628d 225.5px,#285d82 232.5px,#2a6188 242.5px,#2b638d 245.5px,#285883 252.5px,#2b5b8f 260.5px,#285085 267.5px,#315ba1 275.5px,#2d5394 280.5px,#294c86 285.5px,#2c5790 293.5px,#284e85 300.5px,#2d5394 305.5px,#31579f 307.5px)"></i><i style="top:101px;background:linear-gradient(90deg,#332992 0.5px,#312782 6.5px,#3c2f98 11.5px,#39338e 19.5px,#355397 27.5px,#2b6280 33.5px,#4d7977 38.5px,#9c9f78 43.5px,#a58053 48.5px,#a66e3e 55.5px,#b57540 60.5px,#9f7548 68.5px,#988663 73.5px,#598077 80.5px,#316a82 88.5px,#315b8f 97.5px,#334a8f 101.5px,#3d3a9f 105.5px,#382c8a 112.5px,#3c2f90 118.5px,#3c3096 121.5px,#322d8a 127.5px,#36318d 138.5px,#4e439a 140.5px,#9b7ec6 143.5px,#b18fd3 145.5px,#b491d5 148.5px,#977cca 150.5px,#5c50ae 152.5px,#413b99 154.5px,#393790 166.5px,#3d3f9e 173.5px,#3a45a5 178.5px,#4f5ca3 181.5px,#a2b8d1 185.5px,#b9dde2 188.5px,#b8e5e3 192.5px,#abd8db 194.5px,#7eaac3 196.5px,#4571a9 198.5px,#335ea2 200.5px,#335d98 208.5px,#2e5889 215.5px,#336694 225.5px,#2f6088 237.5px,#326693 245.5px,#2e5a89 254.5px,#335f96 260.5px,#30538b 267.5px,#3357a3 276.5px,#304f8b 286.5px,#345a97 293.5px,#30518b 300.5px,#3455a1 307.5px)"></i><i style="top:102px;background:linear-gradient(90deg,#362c93 0.5px,#473890 4.5px,#48399e 10.5px,#735baf 14.5px,#6857a9 20.5px,#7465b3 23.5px,#5169a5 28.5px,#36658e 32.5px,#40778f 35.5px,#9bc4b3 41.5px,#a5c2a5 43.5px,#979b7a 46.5px,#ad9861 51.5px,#bb9854 56.5px,#bd9b55 62.5px,#ac9761 67.5px,#a69f72 70.5px,#698778 75.5px,#588985 78.5px,#6b9e9f 82.5px,#52899e 88.5px,#5f8ead 94.5px,#556aa3 100.5px,#534aac 105.5px,#6a55ab 108.5px,#5e4aa0 114.5px,#6650a9 118.5px,#50409f 122.5px,#342d8b 126.5px,#37318e 136.5px,#4f439b 138.5px,#9c7ec7 141.5px,#b390d4 143.5px,#ad8bd1 148.5px,#9378c7 150.5px,#6c5bb7 152.5px,#6f5dae 157.5px,#6052a6 164.5px,#7362b3 171.5px,#3e40a9 176.5px,#4247aa 178.5px,#6a6bb8 180.5px,#a6a4d3 182.5px,#bec2e0 184.5px,#bbd6e2 189.5px,#9dc0d1 192.5px,#486ca1 196.5px,#355aa0 198.5px,#395fa5 206.5px,#6085ad 210.5px,#537ca2 217.5px,#5f8bac 221.5px,#5181ab 224.5px,#618fab 228.5px,#5280a0 235.5px,#6290ad 241.5px,#4f80aa 244.5px,#5783a5 248.5px,#5079a0 253.5px,#5780aa 257.5px,#5880ae 260.5px,#6082ab 263.5px,#5d7aa8 267.5px,#617cb0 270.5px,#3655a5 274.5px,#3c58a7 278.5px,#5e74ad 281.5px,#5a73a6 287.5px,#5e7bad 290.5px,#5979af 293.5px,#617dab 296.5px,#5973a5 300.5px,#6178af 304.5px,#3e58a8 307.5px)"></i><i style="top:103px;background:linear-gradient(90deg,#382d93 0.5px,#6853a4 4.5px,#6954a6 7.5px,#5242a3 10.5px,#604cac 11.5px,#b38ed4 14.5px,#ba94d7 17.5px,#bc97da 22.5px,#a186d0 24.5px,#7770bf 26.5px,#8491c0 29.5px,#6f9bb4 33.5px,#98cbca 39.5px,#9bcabf 43.5px,#7ba293 46.5px,#82a38f 47.5px,#bccd9d 50.5px,#cbca85 56.5px,#baaf75 59.5px,#d0d18b 63.5px,#bdd2a5 69.5px,#91b299 71.5px,#5f8e87 73.5px,#47848d 77.5px,#5996a0 79.5px,#95c9c8 82.5px,#93c2cd 93.5px,#7ca7c3 95.5px,#81a0c3 97.5px,#919ac7 100.5px,#837ec2 102.5px,#6257b5 104.5px,#6455b6 105.5px,#a07fca 108.5px,#a583ca 116.5px,#8f72c2 118.5px,#745bb7 120.5px,#7d63b9 122.5px,#624fa6 124.5px,#403693 126.5px,#342e8d 132.5px,#423995 135.5px,#6957ab 137.5px,#9c7ec8 139.5px,#b28fd4 141.5px,#ad8bd1 144.5px,#725fb5 150.5px,#6f5db9 152.5px,#a988d1 155.5px,#ae8cd2 160.5px,#b08fd4 170.5px,#967cca 172.5px,#4845ae 175.5px,#4040ab 177.5px,#4948ae 178.5px,#8178c5 180.5px,#bbaddf 182.5px,#c6c0e4 184.5px,#abb9d7 188.5px,#46639b 193.5px,#314f94 196.5px,#3555a5 201.5px,#3f5fa9 206.5px,#95b2cd 210.5px,#98c1cf 220.5px,#83aec6 222.5px,#6996bb 224.5px,#99c6d0 228.5px,#99c7d0 240.5px,#84b2c7 242.5px,#6694b9 244.5px,#7aa7c1 246.5px,#8cb7c8 248.5px,#89adc6 256.5px,#6f92bd 258.5px,#6b8fbc 259.5px,#a0bcd3 262.5px,#a9bad6 268.5px,#90a2cc 270.5px,#425bab 273.5px,#3750a6 276.5px,#4158ab 278.5px,#8a96c7 281.5px,#a0aad0 283.5px,#99aace 289.5px,#7088be 292.5px,#9eb1d1 295.5px,#a5b2d3 302.5px,#8e9bca 304.5px,#5669b3 306.5px,#455aac 307.5px)"></i><i style="top:104px;background:linear-gradient(90deg,#372d93 0.5px,#6f59a9 4.5px,#7059aa 7.5px,#5342a3 10.5px,#614eac 11.5px,#a684cf 13.5px,#bf98db 14.5px,#cea3e3 17.5px,#cba2e3 22.5px,#ab8bd6 24.5px,#7e6ec3 26.5px,#8074c3 27.5px,#9c97cd 29.5px,#98c7cf 36.5px,#94c8ca 42.5px,#649da4 46.5px,#6ba2a5 47.5px,#b1dbc6 50.5px,#c2e1bc 54.5px,#b0cca8 57.5px,#9cb698 59.5px,#c6e4bb 63.5px,#bee7cd 68.5px,#9fcfc3 70.5px,#4b8a98 73.5px,#3a7d97 76.5px,#41849f 78.5px,#6daab9 80.5px,#9cd0d2 82.5px,#a6d7d7 87.5px,#a5d2d7 92.5px,#84a9c8 95.5px,#8ca3c9 97.5px,#a1a2d0 100.5px,#8d82c7 102.5px,#6558b7 104.5px,#6757b8 105.5px,#ab88d1 108.5px,#b58fd4 113.5px,#a986ce 117.5px,#8267bd 119.5px,#785fba 120.5px,#9f7eca 123.5px,#9a7ac6 124.5px,#4d409b 128.5px,#433896 131.5px,#6150a7 134.5px,#9f80c9 137.5px,#b28ed4 139.5px,#a685cd 142.5px,#4a3f9b 147.5px,#443b9c 150.5px,#4c42a4 151.5px,#7f69c0 153.5px,#b390d7 155.5px,#bf99dc 159.5px,#bc98db 170.5px,#9e81cf 172.5px,#5f54b7 174.5px,#4945af 175.5px,#413fac 177.5px,#4b47b0 178.5px,#8576c7 180.5px,#a692d5 181.5px,#baa5dd 182.5px,#b8acdb 184.5px,#7f87bc 187.5px,#43589a 190.5px,#2e488e 194.5px,#3652a7 201.5px,#3855a8 205.5px,#546fb3 207.5px,#8ea4cb 209.5px,#a9bed7 211.5px,#a6c7d7 220.5px,#8db0cc 222.5px,#6e95bf 224.5px,#a6ced8 228.5px,#a6cfd8 240.5px,#8cb5cc 242.5px,#6b94bd 244.5px,#83a9c6 246.5px,#99bed0 248.5px,#9bb8d0 255.5px,#7592c1 258.5px,#718ec0 259.5px,#aec2db 262.5px,#bbc9e1 265.5px,#bac3e0 268.5px,#b1badc 269.5px,#7b89c4 271.5px,#4459ad 273.5px,#384da8 276.5px,#4356ac 278.5px,#a8aad5 282.5px,#b2b5da 285.5px,#a7afd5 289.5px,#7f8fc5 291.5px,#7688c2 292.5px,#abb6d8 295.5px,#b7bedd 299.5px,#b6badc 302.5px,#989ed0 304.5px,#5a68b6 306.5px,#4758ae 307.5px)"></i><i style="top:105px;background:linear-gradient(90deg,#352c91 0.5px,#6d57a7 4.5px,#6e58a8 7.5px,#4f40a0 10.5px,#5d4aa8 11.5px,#b993d7 14.5px,#cba1e1 17.5px,#c79ee0 22.5px,#a586d2 24.5px,#7a67c0 26.5px,#7e6cc1 27.5px,#a08cce 29.5px,#a2afd2 33.5px,#98c0cf 37.5px,#7cacbe 41.5px,#4e8ca8 46.5px,#5996ae 47.5px,#a4d7d3 50.5px,#b4e3d7 53.5px,#a8d8cd 56.5px,#85b9b5 58.5px,#7db2b0 59.5px,#b6e4d7 63.5px,#b3e4db 68.5px,#92c9cc 70.5px,#5493ad 72.5px,#36789f 74.5px,#3c7ba4 78.5px,#97c9d0 82.5px,#a5d4d7 86.5px,#a1cbd5 92.5px,#819ec5 95.5px,#7f97c4 96.5px,#9fa1cf 99.5px,#9b90cd 101.5px,#6254b6 104.5px,#6454b6 105.5px,#a683ce 108.5px,#b38ed3 112.5px,#ae8ad0 116.5px,#9173c3 118.5px,#735bb7 120.5px,#a986d0 123.5px,#ae8ad1 125.5px,#836aba 130.5px,#9477c3 133.5px,#b38fd4 137.5px,#a383cc 140.5px,#4a3e9b 144.5px,#362f90 147.5px,#3a3397 150.5px,#5a4cae 152.5px,#987bcb 154.5px,#b792d7 156.5px,#b793d8 170.5px,#987dcc 172.5px,#5c51b6 174.5px,#413eac 176.5px,#4a46b0 178.5px,#9580cb 181.5px,#9b87cc 182.5px,#7973b8 184.5px,#414d9a 187.5px,#2f448f 192.5px,#334a9c 197.5px,#374fa8 203.5px,#4159ac 206.5px,#9eacd1 210.5px,#abbbd7 214.5px,#a4bcd5 220.5px,#8aa5ca 222.5px,#6c8cbd 224.5px,#8aa8ca 226.5px,#a3c2d5 228.5px,#a6c6d7 239.5px,#9abbd1 241.5px,#698abc 244.5px,#809fc4 246.5px,#98b4ce 248.5px,#9aafce 255.5px,#7389bf 258.5px,#6f85be 259.5px,#acb8d9 262.5px,#bcc0e0 266.5px,#aeb0d9 269.5px,#7881c3 271.5px,#4455ae 273.5px,#394aa9 276.5px,#4452ad 278.5px,#7379c0 280.5px,#a5a1d3 282.5px,#b3aed9 285.5px,#aeadd7 288.5px,#9297cc 290.5px,#7c86c3 291.5px,#737fc0 292.5px,#b2b5da 296.5px,#b4b1db 302.5px,#9595ce 304.5px,#5963b6 306.5px,#4754af 307.5px)"></i><i style="top:106px;background:linear-gradient(90deg,#31288e 0.5px,#634fa0 5.5px,#52429a 8.5px,#413596 10.5px,#5f4ca6 12.5px,#9e7ec6 15.5px,#b18cd2 19.5px,#a281cc 22.5px,#6252b3 26.5px,#6858b5 27.5px,#9b84ca 30.5px,#9b9ecd 34.5px,#8098c0 37.5px,#43699d 41.5px,#366498 44.5px,#396fa1 46.5px,#6fa3bb 49.5px,#90c1ca 51.5px,#96c8cd 54.5px,#72a9b9 57.5px,#5894ad 59.5px,#73abba 61.5px,#92c5cb 63.5px,#9dced1 66.5px,#85b7c5 69.5px,#457da9 72.5px,#336ca3 74.5px,#376da5 78.5px,#81afc2 83.5px,#91bacb 88.5px,#84a5c3 92.5px,#657db5 95.5px,#727eba 97.5px,#8b89c4 99.5px,#8479c0 101.5px,#5348ae 104.5px,#614fb1 106.5px,#8f71bf 109.5px,#9b7bc5 113.5px,#8e70bd 116.5px,#604caa 119.5px,#5b48a9 120.5px,#6a54b1 121.5px,#9f7ecb 123.5px,#b38ed5 125.5px,#ae8bd2 137.5px,#8f73c1 139.5px,#473b9a 142.5px,#352e91 145.5px,#393197 150.5px,#4e42a7 152.5px,#866dbf 155.5px,#a283cc 160.5px,#9f81cb 167.5px,#876fc0 171.5px,#443fac 175.5px,#4641ae 178.5px,#5e54af 181.5px,#353e94 186.5px,#324597 196.5px,#394ca9 201.5px,#3e52ab 206.5px,#8993c4 211.5px,#97a4cc 216.5px,#8798c3 220.5px,#5771b1 224.5px,#89a1c5 229.5px,#95adcc 235.5px,#839cc2 240.5px,#5571b0 244.5px,#8699c3 249.5px,#8797c3 254.5px,#5c6fb2 258.5px,#596cb2 259.5px,#999fcd 263.5px,#a4a5d2 266.5px,#8d8fc7 269.5px,#4d58b0 272.5px,#3a48aa 275.5px,#404cac 278.5px,#938dc8 283.5px,#9d97cd 286.5px,#8687c3 289.5px,#646cb6 291.5px,#5d67b4 292.5px,#777cbd 294.5px,#9c9acd 297.5px,#9d98cd 301.5px,#8a87c4 303.5px,#4d55b0 306.5px,#434cad 307.5px)"></i><i style="top:107px;background:linear-gradient(90deg,#2c258b 0.5px,#372d86 7.5px,#31298d 11.5px,#4f3f96 16.5px,#5a47a2 20.5px,#4138a1 26.5px,#594ca8 29.5px,#7466b6 32.5px,#6568af 35.5px,#394e98 39.5px,#2f5197 44.5px,#3c669e 49.5px,#4f7ba4 53.5px,#36699d 59.5px,#517da5 66.5px,#37639f 71.5px,#345fa3 79.5px,#456b9f 84.5px,#4e6da4 89.5px,#3e4f9f 96.5px,#5051a4 100.5px,#3f36a3 105.5px,#483996 109.5px,#53429a 113.5px,#3a2e93 119.5px,#47389d 121.5px,#a482cc 125.5px,#b48fd6 129.5px,#ab89d1 135.5px,#8d71c0 137.5px,#473a9a 140.5px,#362e92 143.5px,#383097 150.5px,#463b9c 155.5px,#5c4da7 164.5px,#433ca0 172.5px,#3f3baa 178.5px,#353895 185.5px,#344399 196.5px,#3a4aab 201.5px,#42509e 210.5px,#5462a6 216.5px,#3b52a0 225.5px,#5268a6 235.5px,#3b53a0 243.5px,#495ca1 249.5px,#4a5aa1 254.5px,#3e4ea2 260.5px,#5860a8 266.5px,#3f49a4 271.5px,#3d45a8 279.5px,#4e51a3 283.5px,#5357a5 287.5px,#3e49a3 292.5px,#585ca8 299.5px,#4046a4 305.5px,#3d44aa 307.5px)"></i><i style="top:108px;background:linear-gradient(90deg,#2a2489 0.5px,#28227c 6.5px,#2b2385 12.5px,#302785 17.5px,#3a329d 27.5px,#3d3f9a 35.5px,#33469a 44.5px,#334e9e 48.5px,#305195 56.5px,#30559b 60.5px,#304f95 69.5px,#3655a9 75.5px,#32529e 80.5px,#314f94 85.5px,#3a36a0 103.5px,#392e9b 106.5px,#322889 110.5px,#2f2689 118.5px,#3c2f95 122.5px,#725ab1 125.5px,#9a7ac7 127.5px,#ab88d1 130.5px,#a281cc 133.5px,#6c57af 136.5px,#45399a 138.5px,#362d92 142.5px,#39319c 151.5px,#383295 168.5px,#3c37a5 174.5px,#3c39a6 179.5px,#363697 184.5px,#37429c 196.5px,#3b47ac 202.5px,#3743a1 208.5px,#364397 213.5px,#35479e 223.5px,#354896 236.5px,#33469a 246.5px,#34439a 257.5px,#35429b 261.5px,#363e9c 270.5px,#3d43ad 275.5px,#393ea2 280.5px,#393d98 286.5px,#37409f 293.5px,#373c98 302.5px,#3c40ab 307.5px)"></i><i style="top:109px;background:linear-gradient(90deg,#292388 0.5px,#26207b 6.5px,#292384 12.5px,#2d2484 18.5px,#3a309d 27.5px,#353a98 42.5px,#3945a5 47.5px,#324396 53.5px,#344a9e 60.5px,#334598 69.5px,#3a4dac 75.5px,#314895 85.5px,#363998 99.5px,#3b31a1 105.5px,#2f2587 110.5px,#2e2588 118.5px,#3b2e93 124.5px,#755cb4 129.5px,#725bb3 132.5px,#3b3096 137.5px,#392f99 150.5px,#383099 154.5px,#39339b 172.5px,#3e39ab 177.5px,#373598 184.5px,#3a409a 193.5px,#4a4eab 197.5px,#3c45ad 204.5px,#343e97 213.5px,#35429c 222.5px,#35439c 226.5px,#35449b 242.5px,#35439c 246.5px,#36409c 257.5px,#363f9c 261.5px,#373c9d 270.5px,#3e41ae 275.5px,#383a9e 281.5px,#373b9d 290.5px,#373c9d 294.5px,#383a9e 304.5px,#3d3eac 307.5px)"></i><i style="top:110px;background:linear-gradient(90deg,#292388 0.5px,#251f7a 6.5px,#292284 12.5px,#2c2383 18.5px,#3a2f9d 27.5px,#373599 39.5px,#3a3da4 48.5px,#353c99 54.5px,#3841a1 60.5px,#363d9b 69.5px,#3c46ae 75.5px,#334497 85.5px,#37389a 99.5px,#3c31a2 105.5px,#2e2587 110.5px,#2d2588 118.5px,#41349a 132.5px,#372d95 144.5px,#3b319e 153.5px,#372f96 163.5px,#39329c 172.5px,#3f38ac 177.5px,#373599 184.5px,#3e3d9d 190.5px,#5d57ad 193.5px,#7a6dbd 195.5px,#7a6dc0 196.5px,#4849b2 199.5px,#3e42af 204.5px,#363c99 213.5px,#3841a1 223.5px,#343f98 239.5px,#3842a1 245.5px,#353d99 255.5px,#393fa2 260.5px,#37399a 268.5px,#3f3faf 276.5px,#37379a 285.5px,#3a3ba3 293.5px,#37379a 302.5px,#3e3dad 307.5px)"></i><i style="top:111px;background:linear-gradient(90deg,#282287 0.5px,#251f7c 7.5px,#282283 12.5px,#2b2383 18.5px,#3a2e9d 27.5px,#38359c 43.5px,#3c3aa8 47.5px,#37379b 54.5px,#3a3ba3 60.5px,#38399d 69.5px,#3e41b0 75.5px,#34419a 86.5px,#38389d 98.5px,#3c30a2 105.5px,#2d2587 110.5px,#2d2588 118.5px,#382b95 131.5px,#3f339a 144.5px,#634fae 149.5px,#3a309c 154.5px,#3a329d 172.5px,#3f38ac 177.5px,#38359a 184.5px,#4842a3 188.5px,#a689d2 194.5px,#a589d2 195.5px,#7b6bc5 197.5px,#4a48b4 199.5px,#3f40b0 203.5px,#393ba0 209.5px,#383da0 222.5px,#383ea0 226.5px,#383e9f 242.5px,#383ea0 246.5px,#393ca0 257.5px,#393ba0 261.5px,#3a39a0 270.5px,#3f3eb0 276.5px,#38369b 285.5px,#3b3aa4 293.5px,#38379b 302.5px,#3e3cad 307.5px)"></i><i style="top:112px;background:linear-gradient(90deg,#272286 0.5px,#241f7b 7.5px,#272183 12.5px,#2a2382 18.5px,#3a2e9d 27.5px,#3e389f 43.5px,#3d39a8 47.5px,#38359c 54.5px,#3b39a4 60.5px,#39379e 69.5px,#3f3fb0 76.5px,#363f9c 86.5px,#3c33a2 103.5px,#382d9b 106.5px,#2d2487 110.5px,#2c2488 118.5px,#3d3099 141.5px,#5241a4 143.5px,#9c7cca 147.5px,#9f7ecd 149.5px,#725bbb 151.5px,#4437a4 153.5px,#382e98 157.5px,#3a329e 172.5px,#3f37ad 177.5px,#3e389e 183.5px,#5b4fac 186.5px,#a285cf 190.5px,#b693da 194.5px,#9a80d0 196.5px,#5f55bb 198.5px,#4240b2 200.5px,#3c3ba7 208.5px,#38389d 215.5px,#3b3da5 225.5px,#373a9d 237.5px,#3b3da5 245.5px,#38399d 255.5px,#3b3ba5 260.5px,#39379e 269.5px,#3f3db0 276.5px,#38369c 286.5px,#3b39a4 293.5px,#38369c 302.5px,#3f3cad 307.5px)"></i><i style="top:113px;background:linear-gradient(90deg,#282287 0.5px,#25207c 7.5px,#2a2485 12.5px,#2a2383 18.5px,#3d309f 27.5px,#3f379e 38.5px,#6051b0 43.5px,#3d38a2 49.5px,#3c379f 56.5px,#3f3aa6 60.5px,#3a379e 68.5px,#403eb1 76.5px,#373e9e 87.5px,#3d3ba3 97.5px,#3f35a5 103.5px,#3b2f9d 106.5px,#2e2588 110.5px,#30278a 118.5px,#372b96 130.5px,#3e309b 139.5px,#5845a8 141.5px,#a07fcd 144.5px,#b691d8 147.5px,#ae8ad5 149.5px,#7c62c1 151.5px,#4a3ba8 153.5px,#3b2f9a 157.5px,#3e34a1 172.5px,#4037ac 178.5px,#473ea6 181.5px,#a687d2 187.5px,#b995db 191.5px,#b492d9 194.5px,#947bcd 196.5px,#5b52ba 198.5px,#4240b2 200.5px,#3f3da9 208.5px,#39399e 218.5px,#3e3da5 226.5px,#3d3ca2 241.5px,#3e3da5 246.5px,#3c3ba1 256.5px,#3f3da8 260.5px,#3a389f 268.5px,#403db0 276.5px,#39369d 287.5px,#3e3ba4 294.5px,#3c39a0 303.5px,#403cae 307.5px)"></i><i style="top:114px;background:linear-gradient(90deg,#2c258a 0.5px,#312983 5.5px,#403592 12.5px,#3c318c 16.5px,#433695 21.5px,#5241a8 25.5px,#4238a0 34.5px,#5548aa 37.5px,#9b7ecc 42.5px,#9a7dcd 43.5px,#5e50b9 46.5px,#5348b1 48.5px,#4a41a5 54.5px,#5349b0 60.5px,#4941a5 67.5px,#4f46b0 71.5px,#403eb2 76.5px,#5a55b1 82.5px,#494aa7 88.5px,#5c54b5 95.5px,#4b43a7 100.5px,#503fa9 106.5px,#3d3190 112.5px,#493b9e 120.5px,#362a95 126.5px,#3e309b 137.5px,#5946a9 139.5px,#a381cf 142.5px,#b992da 145.5px,#b791d9 148.5px,#9b7bce 150.5px,#6852b8 152.5px,#5846ad 154.5px,#4739a1 164.5px,#5647ad 172.5px,#4138ae 177.5px,#4c41b0 179.5px,#9d7fce 183.5px,#b592d9 186.5px,#b18fd7 192.5px,#9e81cf 194.5px,#4c46b3 198.5px,#403eb2 202.5px,#4b46b3 207.5px,#5950b0 210.5px,#4a44a7 216.5px,#5a51b3 222.5px,#4743a6 236.5px,#544db3 243.5px,#514aab 248.5px,#4c46a8 254.5px,#564eb4 259.5px,#4d45a8 267.5px,#534bb3 271.5px,#403db1 275.5px,#5147ab 282.5px,#4942a6 287.5px,#5a4fb2 294.5px,#4c44a7 300.5px,#594eb1 304.5px,#4640b2 307.5px)"></i><i style="top:115px;background:linear-gradient(90deg,#31298d 0.5px,#614fa1 4.5px,#5b4aa0 8.5px,#483b99 10.5px,#4f419e 11.5px,#7c64b4 13.5px,#8a6fba 15.5px,#876cbb 20.5px,#8f72c3 23.5px,#7159bb 26.5px,#8065bf 29.5px,#6e59b6 33.5px,#856cc2 36.5px,#a987d3 39.5px,#b18ed7 42.5px,#987bcf 44.5px,#6857be 46.5px,#6555bd 47.5px,#8e74c8 50.5px,#8e74c8 56.5px,#715fc0 59.5px,#876fc4 63.5px,#876fc5 69.5px,#6c5cbe 71.5px,#4942b4 73.5px,#4340b3 77.5px,#5e55bd 79.5px,#917bcd 81.5px,#9f89d1 83.5px,#9482cb 89.5px,#9f88d1 93.5px,#8873c9 96.5px,#8970c6 101.5px,#6450b9 104.5px,#644fb8 105.5px,#8e71c1 108.5px,#866bba 114.5px,#8c70be 117.5px,#6a55b1 120.5px,#6954b0 122.5px,#3c2f99 126.5px,#3b2e9a 134.5px,#4939a2 136.5px,#a381cf 140.5px,#b892da 143.5px,#a280d0 149.5px,#735bbf 152.5px,#8e71c6 156.5px,#8268bf 165.5px,#8c70c6 171.5px,#6d59bd 173.5px,#493db2 175.5px,#4339b0 177.5px,#5b4cb8 179.5px,#a988d4 182.5px,#b894db 185.5px,#a687d3 190.5px,#4843ab 196.5px,#413eb3 204.5px,#4b46b6 206.5px,#8d76cb 209.5px,#9c80ce 211.5px,#9279c9 217.5px,#9a7fcf 221.5px,#7364c3 224.5px,#8d76c8 228.5px,#826ec2 236.5px,#8b75c8 241.5px,#7262c2 244.5px,#937acb 247.5px,#8d75c7 253.5px,#937acb 256.5px,#7766c4 259.5px,#987ece 262.5px,#987dcd 269.5px,#7765c4 271.5px,#4b45b6 273.5px,#423eb2 277.5px,#584eb9 279.5px,#7e6ac4 281.5px,#8871c5 283.5px,#816cc5 290.5px,#7664c3 292.5px,#9e81d0 295.5px,#9b7fcd 301.5px,#9e81d0 303.5px,#7a66c5 305.5px,#4e46b6 307.5px)"></i><i style="top:116px;background:linear-gradient(90deg,#322a8e 0.5px,#7860af 4.5px,#7861b0 7.5px,#4d3f9d 10.5px,#5545a1 11.5px,#a382c9 14.5px,#ad8acf 17.5px,#af8bd3 22.5px,#9878ca 24.5px,#7960bf 26.5px,#a482d1 29.5px,#b38fd9 42.5px,#987bcf 44.5px,#6a58bf 46.5px,#6a58bf 47.5px,#a787d4 50.5px,#af8dd7 55.5px,#987ccf 57.5px,#7964c4 59.5px,#9076cb 61.5px,#a485d2 63.5px,#9d80d0 69.5px,#4a43b5 73.5px,#4440b4 77.5px,#4d48b8 78.5px,#8370cb 80.5px,#b698dd 82.5px,#bea0df 86.5px,#b89add 93.5px,#9b81d3 95.5px,#967dd0 96.5px,#ad8cd7 99.5px,#a686d4 101.5px,#6954bd 104.5px,#6954bc 105.5px,#a785d0 108.5px,#af8bd1 115.5px,#a684cd 117.5px,#7e65bb 119.5px,#745db7 120.5px,#9374c5 123.5px,#4d3da3 127.5px,#41339d 131.5px,#5140a6 134.5px,#a482d0 138.5px,#b791d9 141.5px,#a583d1 144.5px,#725ab8 148.5px,#634eb6 151.5px,#7960c1 153.5px,#9e7dce 155.5px,#a584d1 169.5px,#9d7ecf 171.5px,#4a3eb3 175.5px,#443ab1 177.5px,#5f4fbb 179.5px,#997cd0 181.5px,#b491d9 183.5px,#ab8ad5 186.5px,#6f5eba 190.5px,#4640a7 193.5px,#3e3bab 197.5px,#4340b4 205.5px,#6156be 207.5px,#9e82d3 209.5px,#b290da 210.5px,#ba96dc 214.5px,#b996dc 220.5px,#a083d4 222.5px,#7b69c7 224.5px,#9078cc 226.5px,#a486d3 228.5px,#a486d3 240.5px,#8f78cc 242.5px,#7968c6 244.5px,#aa8bd6 247.5px,#b291d9 254.5px,#aa8bd6 256.5px,#8772cb 258.5px,#806cc9 259.5px,#b492db 262.5px,#bd98dd 266.5px,#b491db 269.5px,#816cc9 271.5px,#4d46b7 273.5px,#413db2 276.5px,#4b44b6 278.5px,#9e81d1 282.5px,#a586d3 288.5px,#816cc8 291.5px,#7e6ac7 292.5px,#ba96dd 295.5px,#c39ce0 299.5px,#ba95dd 303.5px,#846eca 305.5px,#6456bf 306.5px,#5148b8 307.5px)"></i><i style="top:117px;background:linear-gradient(90deg,#322a8f 0.5px,#7b63b1 4.5px,#7b63b2 7.5px,#4d3f9d 10.5px,#5545a1 11.5px,#a584cb 14.5px,#b38ed3 17.5px,#b38ed5 22.5px,#9979cb 24.5px,#7960c0 26.5px,#9879cd 28.5px,#b28dd8 30.5px,#af8dd7 40.5px,#9f80d1 43.5px,#6756be 46.5px,#6957bf 47.5px,#aa89d6 50.5px,#b591da 53.5px,#ab8ad6 56.5px,#7964c5 59.5px,#9176cc 61.5px,#a787d4 63.5px,#a787d4 68.5px,#8f75cc 70.5px,#4b43b6 73.5px,#413eb4 76.5px,#4d48b8 78.5px,#8370cb 80.5px,#b999de 82.5px,#c4a4e2 85.5px,#c2a1e1 92.5px,#9b81d3 95.5px,#977ed1 96.5px,#b290d9 99.5px,#aa89d6 101.5px,#6954bd 104.5px,#6954bc 105.5px,#aa87d1 108.5px,#b48fd4 113.5px,#a886ce 117.5px,#7e65bb 119.5px,#745db7 120.5px,#a785d0 123.5px,#a583cf 125.5px,#725ab7 129.5px,#755cb8 132.5px,#b18cd7 137.5px,#b38ed8 140.5px,#9d7ccd 142.5px,#4e3da7 146.5px,#4536a6 150.5px,#5c49b5 152.5px,#9f7ecf 155.5px,#a886d3 161.5px,#a684d2 170.5px,#8e72ca 172.5px,#4b3eb3 175.5px,#443ab1 177.5px,#5f4fbb 179.5px,#9579ce 181.5px,#a484d3 182.5px,#9b7ece 184.5px,#4b43aa 189.5px,#3b39a4 194.5px,#413eb4 204.5px,#4d47b8 206.5px,#806cc9 208.5px,#b391db 210.5px,#bf9adf 213.5px,#bd98de 220.5px,#a184d5 222.5px,#7b69c7 224.5px,#9078cd 226.5px,#a688d4 228.5px,#a688d4 240.5px,#7967c6 244.5px,#b592db 248.5px,#b592db 255.5px,#9b80d2 257.5px,#806cc9 259.5px,#a486d6 261.5px,#c09be0 263.5px,#c09adf 268.5px,#b793dc 269.5px,#826dca 271.5px,#4d46b7 273.5px,#413db3 276.5px,#4b44b6 278.5px,#a183d2 282.5px,#aa8ad5 287.5px,#a183d2 289.5px,#826cc8 291.5px,#7e6ac8 292.5px,#bd98df 295.5px,#c9a1e3 299.5px,#c69fe2 302.5px,#a687d7 304.5px,#6456bf 306.5px,#5148b8 307.5px)"></i><i style="top:118px;background:linear-gradient(90deg,#31298e 0.5px,#51429e 2.5px,#755eaf 4.5px,#755eaf 7.5px,#483c9b 10.5px,#4f419f 11.5px,#9b7bc5 14.5px,#ac88cf 18.5px,#a986d0 22.5px,#8f71c7 24.5px,#725abc 26.5px,#9173ca 28.5px,#ae8ad6 30.5px,#af8cd7 36.5px,#997bcd 39.5px,#5a4cb7 45.5px,#5649b7 46.5px,#7661c4 48.5px,#a282d3 50.5px,#ae8cd7 53.5px,#a283d3 56.5px,#725fc2 59.5px,#a081d1 63.5px,#a081d1 68.5px,#876fc9 70.5px,#4a42b6 73.5px,#4440b5 77.5px,#5f55bf 79.5px,#ae90d9 82.5px,#bd9ddf 87.5px,#b799dd 92.5px,#917acf 95.5px,#8e77ce 96.5px,#aa8ad6 99.5px,#a283d3 101.5px,#6450bb 104.5px,#644fba 105.5px,#9f7fcc 108.5px,#ad89d1 112.5px,#a785ce 116.5px,#8b6fc0 118.5px,#755db7 119.5px,#6c56b3 120.5px,#7860ba 121.5px,#a785d1 123.5px,#b48ed7 125.5px,#ab87d3 132.5px,#b28dd7 138.5px,#9a79cc 140.5px,#5341ab 143.5px,#3d30a0 146.5px,#4738aa 151.5px,#9576cc 155.5px,#a280d0 160.5px,#9d7dcf 170.5px,#866bc7 172.5px,#4a3eb4 175.5px,#443ab2 177.5px,#5b4bba 179.5px,#7c65c3 181.5px,#715dbb 183.5px,#4840a9 186.5px,#3c39a5 193.5px,#4440b5 205.5px,#5e53be 207.5px,#a98ad7 210.5px,#b794dc 214.5px,#b290da 220.5px,#977dd1 222.5px,#7463c5 224.5px,#8872ca 226.5px,#a083d2 229.5px,#9d81d1 240.5px,#7362c4 244.5px,#ac8cd7 248.5px,#ac8bd7 255.5px,#7866c6 259.5px,#ad8cd8 262.5px,#bb96dd 266.5px,#ad8cd8 269.5px,#4c45b7 273.5px,#433eb4 277.5px,#594ebb 279.5px,#997dcf 282.5px,#a385d3 287.5px,#997dcf 289.5px,#7b67c6 291.5px,#7764c5 292.5px,#b290da 295.5px,#c09ae0 298.5px,#bc97de 302.5px,#9c7fd3 304.5px,#6053be 306.5px,#4f46b8 307.5px)"></i><i style="top:119px;background:linear-gradient(90deg,#2d268e 0.5px,#5d4ba3 5.5px,#4c3e9b 8.5px,#382f93 10.5px,#483b9b 12.5px,#725bb0 15.5px,#8065ba 20.5px,#644fb2 24.5px,#5442af 26.5px,#7058bb 28.5px,#9d7ccf 31.5px,#9e7ed1 34.5px,#6f5abb 38.5px,#4b3fac 41.5px,#473db2 46.5px,#8068c4 51.5px,#8069c4 55.5px,#574ab7 59.5px,#7d67c3 64.5px,#7964c1 68.5px,#463fb5 73.5px,#4742b7 78.5px,#8370c7 83.5px,#8f7acc 89.5px,#7a6ac4 93.5px,#6659be 95.5px,#705fc0 97.5px,#826bc6 100.5px,#5141b3 104.5px,#5745b1 106.5px,#7c63b9 110.5px,#7b62b7 115.5px,#4e3ea5 120.5px,#5c49ad 121.5px,#9475c8 123.5px,#ae89d5 125.5px,#ae89d6 136.5px,#9777cc 138.5px,#5340ac 141.5px,#3e30a3 144.5px,#4435aa 151.5px,#765dbd 157.5px,#7f64c2 165.5px,#6b56ba 171.5px,#463ab3 175.5px,#4d40b5 179.5px,#473daa 183.5px,#3e39a7 192.5px,#4741b7 206.5px,#806bc5 211.5px,#8c73ca 217.5px,#7865c2 221.5px,#584eb9 224.5px,#7d68c3 231.5px,#7764c1 239.5px,#574db9 244.5px,#836dc6 249.5px,#836dc6 254.5px,#5a4fba 259.5px,#8c73ca 264.5px,#876fc8 268.5px,#4740b6 273.5px,#463fb6 278.5px,#7a65c2 283.5px,#7a65c2 288.5px,#594db9 292.5px,#8f74cb 297.5px,#8f74cb 301.5px,#705dc0 304.5px,#4840b6 307.5px)"></i><i style="top:120px;background:linear-gradient(90deg,#2f2691 0.5px,#312792 10.5px,#4334a1 23.5px,#4a39ac 28.5px,#6852ba 33.5px,#4337aa 40.5px,#4b3fb0 56.5px,#463db6 73.5px,#4d47b2 92.5px,#4637b0 104.5px,#42349d 110.5px,#3b2e9d 120.5px,#4f3ea8 122.5px,#9172c9 125.5px,#a783d5 128.5px,#a480d3 134.5px,#8f6fca 136.5px,#4837a9 140.5px,#4132a8 149.5px,#4b3bad 169.5px,#4639b3 179.5px,#4139ab 189.5px,#463fb7 206.5px,#4d43b1 220.5px,#4d44b1 249.5px,#4c43b1 262.5px,#483fb3 271.5px,#4c41b1 295.5px,#4a40b1 304.5px,#463db6 307.5px)"></i><i style="top:121px;background:linear-gradient(90deg,#332897 0.5px,#332895 9.5px,#372b99 19.5px,#4a39af 33.5px,#463bb4 71.5px,#463eb5 80.5px,#4534af 105.5px,#392b9b 111.5px,#3c2ea1 121.5px,#503dac 124.5px,#8869c8 128.5px,#9271cd 131.5px,#7b5fc3 134.5px,#4a37ac 138.5px,#4534ae 150.5px,#4637b2 173.5px,#4538b0 181.5px,#463db5 197.5px,#463db5 208.5px,#463db4 258.5px,#463cb4 271.5px,#463bb4 280.5px,#463bb4 305.5px,#483db8 307.5px)"></i><i style="top:122px;background:linear-gradient(90deg,#382b9c 0.5px,#3c2d9f 19.5px,#4836b0 32.5px,#483ab3 62.5px,#493fb8 80.5px,#4835b2 105.5px,#3d2ea0 111.5px,#4735ab 125.5px,#6149b9 131.5px,#4634ad 138.5px,#4a39b7 174.5px,#493db8 197.5px,#483db5 209.5px,#4a3db9 272.5px,#483bb5 304.5px,#4a3dba 307.5px)"></i><i style="top:123px;background:linear-gradient(90deg,#3c2da2 0.5px,#4230a7 20.5px,#4b39b6 37.5px,#4c3fba 96.5px,#4835b2 106.5px,#4130a6 115.5px,#4a36b3 142.5px,#4c3db9 210.5px,#4d3dbc 307.5px)"></i><i style="top:124px;background:linear-gradient(90deg,#4130a7 0.5px,#4733af 21.5px,#503cbd 46.5px,#4f3abb 104.5px,#4532ac 116.5px,#4f39bb 153.5px,#503ebe 307.5px)"></i><i style="top:125px;background:linear-gradient(90deg,#4331aa 0.5px,#4a35b3 22.5px,#513dbf 46.5px,#513bbe 103.5px,#4734b0 117.5px,#513abd 155.5px,#513ec0 307.5px)"></i><i style="top:126px;background:linear-gradient(90deg,#4331aa 0.5px,#4b36b5 23.5px,#513dc0 50.5px,#513cbf 103.5px,#4834b0 118.5px,#5139bd 147.5px,#513ec0 307.5px)"></i></div>
<div class="cap b" style="left:37.40px;top:380.99px;font-size:35.0px;transform:scaleX(1.0400)">(</div>
<div class="cap b" style="left:68.28px;top:380.99px;font-size:35.0px;transform:scaleX(1.0400)">)</div>
<div class="cap b" style="left:49.66px;top:383.08px;font-size:32.5px;transform:scaleX(1.1000)">a</div>
<div class="cap" style="left:92.43px;top:383.08px;font-size:32.5px;transform:scaleX(1.0324)">FoR</div>
<div class="cap" style="left:160.42px;top:383.08px;font-size:32.5px;transform:scaleX(0.9884)">–</div>
<div class="cap" style="left:185.30px;top:383.08px;font-size:32.5px;transform:scaleX(1.0563)">SHAP</div>
<div class="cap b" style="left:412.00px;top:380.99px;font-size:35.0px;transform:scaleX(1.0400)">(</div>
<div class="cap b" style="left:446.58px;top:380.99px;font-size:35.0px;transform:scaleX(1.0400)">)</div>
<div class="cap b" style="left:425.91px;top:383.08px;font-size:32.5px;transform:scaleX(1.1000)">b</div>
<div class="cap" style="left:469.43px;top:383.08px;font-size:32.5px;transform:scaleX(1.0324)">FoR</div>
<div class="cap" style="left:537.62px;top:383.08px;font-size:32.5px;transform:scaleX(0.9884)">–</div>
<div class="cap" style="left:562.29px;top:383.08px;font-size:32.5px;transform:scaleX(1.0626)">SHAP</div>
<div class="cap b" style="left:42.90px;top:632.39px;font-size:35.0px;transform:scaleX(1.0400)">(</div>
<div class="cap b" style="left:73.48px;top:632.39px;font-size:35.0px;transform:scaleX(1.0400)">)</div>
<div class="cap b" style="left:56.15px;top:634.48px;font-size:32.5px;transform:scaleX(1.1000)">c</div>
<div class="cap" style="left:97.33px;top:634.48px;font-size:32.5px;transform:scaleX(1.0324)">FoR</div>
<div class="cap" style="left:164.52px;top:634.48px;font-size:32.5px;transform:scaleX(0.9884)">–</div>
<div class="cap" style="left:191.63px;top:634.48px;font-size:32.5px;transform:scaleX(1.0256)">CAM</div>
<div class="cap b" style="left:417.00px;top:632.39px;font-size:35.0px;transform:scaleX(1.0400)">(</div>
<div class="cap b" style="left:451.58px;top:632.39px;font-size:35.0px;transform:scaleX(1.0400)">)</div>
<div class="cap b" style="left:429.89px;top:634.48px;font-size:32.5px;transform:scaleX(1.1000)">d</div>
<div class="cap" style="left:474.83px;top:634.48px;font-size:32.5px;transform:scaleX(1.0324)">FoR</div>
<div class="cap" style="left:542.02px;top:634.48px;font-size:32.5px;transform:scaleX(0.9884)">–</div>
<div class="cap" style="left:569.13px;top:634.48px;font-size:32.5px;transform:scaleX(1.0256)">CAM</div>
<div class="cap" style="left:112.40px;top:428.09px;font-size:35.0px;transform:scaleX(1.0400)">(</div>
<div class="cap" style="left:183.78px;top:428.09px;font-size:35.0px;transform:scaleX(1.0400)">)</div>
<div class="cap" style="left:123.73px;top:430.18px;font-size:32.5px;transform:scaleX(1.0333)">Real</div>
<div class="cap" style="left:488.30px;top:428.09px;font-size:35.0px;transform:scaleX(1.0400)">(</div>
<div class="cap" style="left:561.78px;top:428.09px;font-size:35.0px;transform:scaleX(1.0400)">)</div>
<div class="cap" style="left:498.75px;top:430.18px;font-size:32.5px;transform:scaleX(1.0162)">Fake</div>
<div class="cap" style="left:112.20px;top:679.19px;font-size:35.0px;transform:scaleX(1.0400)">(</div>
<div class="cap" style="left:183.78px;top:679.19px;font-size:35.0px;transform:scaleX(1.0400)">)</div>
<div class="cap" style="left:123.53px;top:681.28px;font-size:32.5px;transform:scaleX(1.0367)">Real</div>
<div class="cap" style="left:488.30px;top:679.19px;font-size:35.0px;transform:scaleX(1.0400)">(</div>
<div class="cap" style="left:561.78px;top:679.19px;font-size:35.0px;transform:scaleX(1.0400)">)</div>
<div class="cap" style="left:498.75px;top:681.28px;font-size:32.5px;transform:scaleX(1.0162)">Fake</div>
</body></html>
